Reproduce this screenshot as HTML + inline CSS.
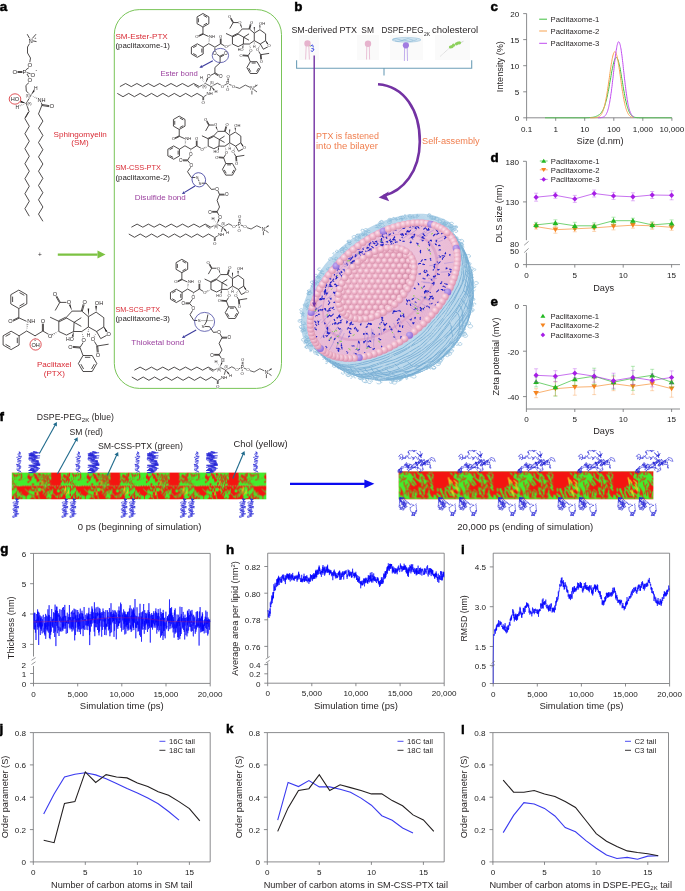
<!DOCTYPE html>
<html><head><meta charset="utf-8"><style>
html,body{margin:0;padding:0;background:#fff;width:685px;height:891px;overflow:hidden}
svg{display:block;will-change:transform;font-family:"Liberation Sans",sans-serif}
</style></head><body>
<svg width="685" height="891" viewBox="0 0 685 891">
<line x1="526.6" y1="13.6" x2="526.6" y2="117.8" stroke="#6d6e71" stroke-width="0.8"/>
<line x1="526.6" y1="117.8" x2="672" y2="117.8" stroke="#6d6e71" stroke-width="0.8"/>
<line x1="523.2" y1="13.6" x2="526.6" y2="13.6" stroke="#6d6e71" stroke-width="0.8"/>
<text x="519.3" y="17" font-size="8.1" fill="#1a1a1a" text-anchor="end">20</text>
<line x1="523.2" y1="39.6" x2="526.6" y2="39.6" stroke="#6d6e71" stroke-width="0.8"/>
<text x="519.3" y="43.1" font-size="8.1" fill="#1a1a1a" text-anchor="end">15</text>
<line x1="523.2" y1="65.7" x2="526.6" y2="65.7" stroke="#6d6e71" stroke-width="0.8"/>
<text x="519.3" y="69.1" font-size="8.1" fill="#1a1a1a" text-anchor="end">10</text>
<line x1="523.2" y1="91.8" x2="526.6" y2="91.8" stroke="#6d6e71" stroke-width="0.8"/>
<text x="519.3" y="95.2" font-size="8.1" fill="#1a1a1a" text-anchor="end">5</text>
<line x1="523.2" y1="117.8" x2="526.6" y2="117.8" stroke="#6d6e71" stroke-width="0.8"/>
<text x="519.3" y="121.2" font-size="8.1" fill="#1a1a1a" text-anchor="end">0</text>
<line x1="526.6" y1="117.8" x2="526.6" y2="120.8" stroke="#6d6e71" stroke-width="0.8"/>
<text x="526.6" y="131.9" font-size="8.1" fill="#1a1a1a" text-anchor="middle">0.1</text>
<line x1="555.7" y1="117.8" x2="555.7" y2="120.8" stroke="#6d6e71" stroke-width="0.8"/>
<text x="555.7" y="131.9" font-size="8.1" fill="#1a1a1a" text-anchor="middle">1</text>
<line x1="584.7" y1="117.8" x2="584.7" y2="120.8" stroke="#6d6e71" stroke-width="0.8"/>
<text x="584.7" y="131.9" font-size="8.1" fill="#1a1a1a" text-anchor="middle">10</text>
<line x1="613.8" y1="117.8" x2="613.8" y2="120.8" stroke="#6d6e71" stroke-width="0.8"/>
<text x="613.8" y="131.9" font-size="8.1" fill="#1a1a1a" text-anchor="middle">100</text>
<line x1="642.8" y1="117.8" x2="642.8" y2="120.8" stroke="#6d6e71" stroke-width="0.8"/>
<text x="642.8" y="131.9" font-size="8.1" fill="#1a1a1a" text-anchor="middle">1,000</text>
<line x1="671.9" y1="117.8" x2="671.9" y2="120.8" stroke="#6d6e71" stroke-width="0.8"/>
<text x="671.9" y="131.9" font-size="8.1" fill="#1a1a1a" text-anchor="middle">10,000</text>
<text x="600" y="144.3" font-size="9.2" fill="#231f20" text-anchor="middle">Size (d.nm)</text>
<text x="503.5" y="66.6" font-size="9.2" fill="#231f20" text-anchor="middle" transform="rotate(-90 503.5 66.6)">Intensity (%)</text>
<polyline points="545,117.8 545.3,117.8 545.6,117.8 545.9,117.8 546.3,117.8 546.6,117.8 546.9,117.8 547.2,117.8 547.5,117.8 547.8,117.8 548.2,117.8 548.5,117.8 548.8,117.8 549.1,117.8 549.4,117.8 549.7,117.8 550.1,117.8 550.4,117.8 550.7,117.8 551,117.8 551.3,117.8 551.6,117.8 552,117.8 552.3,117.8 552.6,117.8 552.9,117.8 553.2,117.8 553.5,117.8 553.9,117.8 554.2,117.8 554.5,117.8 554.8,117.8 555.1,117.8 555.4,117.8 555.8,117.8 556.1,117.8 556.4,117.8 556.7,117.8 557,117.8 557.3,117.8 557.6,117.8 558,117.8 558.3,117.8 558.6,117.8 558.9,117.8 559.2,117.8 559.5,117.8 559.9,117.8 560.2,117.8 560.5,117.8 560.8,117.8 561.1,117.8 561.4,117.8 561.8,117.8 562.1,117.8 562.4,117.8 562.7,117.8 563,117.8 563.3,117.8 563.7,117.8 564,117.8 564.3,117.8 564.6,117.8 564.9,117.8 565.2,117.8 565.6,117.8 565.9,117.8 566.2,117.8 566.5,117.8 566.8,117.8 567.1,117.8 567.5,117.8 567.8,117.8 568.1,117.8 568.4,117.8 568.7,117.8 569,117.8 569.4,117.8 569.7,117.8 570,117.8 570.3,117.8 570.6,117.8 570.9,117.8 571.2,117.8 571.6,117.8 571.9,117.8 572.2,117.8 572.5,117.8 572.8,117.8 573.1,117.8 573.5,117.8 573.8,117.8 574.1,117.8 574.4,117.8 574.7,117.8 575,117.8 575.4,117.8 575.7,117.8 576,117.8 576.3,117.8 576.6,117.8 576.9,117.8 577.3,117.8 577.6,117.8 577.9,117.8 578.2,117.8 578.5,117.8 578.8,117.8 579.2,117.8 579.5,117.8 579.8,117.8 580.1,117.8 580.4,117.8 580.7,117.8 581.1,117.8 581.4,117.8 581.7,117.8 582,117.8 582.3,117.8 582.6,117.8 583,117.8 583.3,117.8 583.6,117.8 583.9,117.8 584.2,117.8 584.5,117.8 584.8,117.8 585.2,117.8 585.5,117.8 585.8,117.8 586.1,117.8 586.4,117.8 586.7,117.7 587.1,117.7 587.4,117.7 587.7,117.7 588,117.7 588.3,117.7 588.6,117.7 589,117.7 589.3,117.6 589.6,117.6 589.9,117.6 590.2,117.6 590.5,117.5 590.9,117.5 591.2,117.5 591.5,117.4 591.8,117.4 592.1,117.4 592.4,117.3 592.8,117.3 593.1,117.2 593.4,117.2 593.7,117.1 594,117 594.3,116.9 594.7,116.9 595,116.8 595.3,116.7 595.6,116.6 595.9,116.5 596.2,116.3 596.5,116.2 596.9,116.1 597.2,115.9 597.5,115.8 597.8,115.6 598.1,115.4 598.4,115.2 598.8,115 599.1,114.8 599.4,114.5 599.7,114.3 600,114 600.3,113.7 600.7,113.4 601,113 601.3,112.6 601.6,112.2 601.9,111.7 602.2,111.2 602.6,110.7 602.9,110.1 603.2,109.5 603.5,108.8 603.8,108.1 604.1,107.3 604.5,106.4 604.8,105.5 605.1,104.6 605.4,103.5 605.7,102.4 606,101.3 606.4,100.1 606.7,98.8 607,97.4 607.3,96 607.6,94.5 607.9,93 608.2,91.4 608.6,89.7 608.9,88 609.2,86.3 609.5,84.5 609.8,82.7 610.1,80.9 610.5,79.1 610.8,77.3 611.1,75.5 611.4,73.7 611.7,71.9 612,70.3 612.4,68.6 612.7,67.1 613,65.6 613.3,64.2 613.6,62.9 613.9,61.8 614.3,60.7 614.6,59.8 614.9,59 615.2,58.4 615.5,58 615.8,57.7 616.2,57.5 616.5,57.6 616.8,57.8 617.1,58.1 617.4,58.6 617.7,59.3 618.1,60.1 618.4,61.1 618.7,62.2 619,63.4 619.3,64.8 619.6,66.2 620,67.8 620.3,69.4 620.6,71.2 620.9,73 621.2,74.8 621.5,76.7 621.8,78.6 622.2,80.5 622.5,82.5 622.8,84.4 623.1,86.3 623.4,88.2 623.7,90 624.1,91.8 624.4,93.6 624.7,95.3 625,96.9 625.3,98.5 625.6,100 626,101.4 626.3,102.8 626.6,104.1 626.9,105.3 627.2,106.4 627.5,107.5 627.9,108.5 628.2,109.4 628.5,110.3 628.8,111 629.1,111.8 629.4,112.4 629.8,113 630.1,113.6 630.4,114.1 630.7,114.5 631,114.9 631.3,115.3 631.7,115.6 632,115.9 632.3,116.1 632.6,116.3 632.9,116.5 633.2,116.7 633.5,116.9 633.9,117 634.2,117.1 634.5,117.2 634.8,117.3 635.1,117.4 635.4,117.4 635.8,117.5 636.1,117.5 636.4,117.6 636.7,117.6 637,117.7 637.3,117.7 637.7,117.7 638,117.7 638.3,117.7 638.6,117.7 638.9,117.8 639.2,117.8 639.6,117.8 639.9,117.8 640.2,117.8 640.5,117.8 640.8,117.8 641.1,117.8 641.5,117.8 641.8,117.8 642.1,117.8 642.4,117.8 642.7,117.8 643,117.8 643.4,117.8 643.7,117.8 644,117.8 644.3,117.8 644.6,117.8 644.9,117.8 645.3,117.8 645.6,117.8 645.9,117.8 646.2,117.8 646.5,117.8 646.8,117.8 647.1,117.8 647.5,117.8 647.8,117.8 648.1,117.8 648.4,117.8 648.7,117.8 649,117.8 649.4,117.8 649.7,117.8 650,117.8 650.3,117.8 650.6,117.8 650.9,117.8 651.3,117.8 651.6,117.8 651.9,117.8 652.2,117.8 652.5,117.8 652.8,117.8 653.2,117.8 653.5,117.8 653.8,117.8 654.1,117.8 654.4,117.8 654.7,117.8 655.1,117.8 655.4,117.8 655.7,117.8 656,117.8 656.3,117.8 656.6,117.8 657,117.8 657.3,117.8 657.6,117.8 657.9,117.8 658.2,117.8 658.5,117.8 658.9,117.8 659.2,117.8 659.5,117.8 659.8,117.8 660.1,117.8 660.4,117.8 660.7,117.8 661.1,117.8 661.4,117.8 661.7,117.8 662,117.8 662.3,117.8 662.6,117.8 663,117.8 663.3,117.8 663.6,117.8 663.9,117.8 664.2,117.8 664.5,117.8 664.9,117.8 665.2,117.8 665.5,117.8 665.8,117.8 666.1,117.8 666.4,117.8 666.8,117.8 667.1,117.8 667.4,117.8 667.7,117.8 668,117.8 668.3,117.8 668.7,117.8 669,117.8 669.3,117.8 669.6,117.8 669.9,117.8 670.2,117.8 670.6,117.8 670.9,117.8 671.2,117.8 671.5,117.8" fill="none" stroke="#3fbf3f" stroke-width="1"/>
<polyline points="590,117.8 590.3,117.8 590.5,117.8 590.8,117.8 591.1,117.8 591.3,117.8 591.6,117.8 591.9,117.8 592.1,117.8 592.4,117.8 592.7,117.8 593,117.8 593.2,117.8 593.5,117.8 593.8,117.7 594,117.7 594.3,117.7 594.6,117.7 594.8,117.7 595.1,117.7 595.4,117.6 595.6,117.6 595.9,117.6 596.2,117.6 596.5,117.5 596.7,117.5 597,117.4 597.3,117.3 597.5,117.3 597.8,117.2 598.1,117.1 598.3,117 598.6,116.8 598.9,116.7 599.1,116.5 599.4,116.4 599.7,116.2 599.9,115.9 600.2,115.7 600.5,115.4 600.8,115.1 601,114.7 601.3,114.4 601.6,113.9 601.8,113.5 602.1,113 602.4,112.4 602.6,111.8 602.9,111.1 603.2,110.4 603.4,109.7 603.7,108.8 604,107.9 604.2,107 604.5,106 604.8,104.9 605,103.7 605.3,102.5 605.6,101.2 605.9,99.9 606.1,98.4 606.4,96.9 606.7,95.4 606.9,93.8 607.2,92.1 607.5,90.4 607.7,88.6 608,86.8 608.3,85 608.5,83.1 608.8,81.2 609.1,79.3 609.4,77.4 609.6,75.4 609.9,73.5 610.2,71.6 610.4,69.8 610.7,67.9 611,66.2 611.2,64.5 611.5,62.8 611.8,61.3 612,59.8 612.3,58.4 612.6,57.2 612.8,56 613.1,55 613.4,54.1 613.6,53.3 613.9,52.7 614.2,52.2 614.5,51.9 614.7,51.7 615,51.7 615.3,51.8 615.5,52.1 615.8,52.5 616.1,53.1 616.3,53.8 616.6,54.7 616.9,55.7 617.1,56.8 617.4,58 617.7,59.4 618,60.8 618.2,62.3 618.5,64 618.8,65.7 619,67.4 619.3,69.2 619.6,71.1 619.8,72.9 620.1,74.8 620.4,76.8 620.6,78.7 620.9,80.6 621.2,82.5 621.4,84.4 621.7,86.3 622,88.1 622.2,89.9 622.5,91.6 622.8,93.3 623.1,94.9 623.3,96.5 623.6,98 623.9,99.4 624.1,100.8 624.4,102.1 624.7,103.4 624.9,104.5 625.2,105.6 625.5,106.7 625.7,107.7 626,108.6 626.3,109.4 626.5,110.2 626.8,110.9 627.1,111.6 627.4,112.2 627.6,112.8 627.9,113.3 628.2,113.8 628.4,114.2 628.7,114.6 629,115 629.2,115.3 629.5,115.6 629.8,115.9 630,116.1 630.3,116.3 630.6,116.5 630.9,116.7 631.1,116.8 631.4,116.9 631.7,117 631.9,117.1 632.2,117.2 632.5,117.3 632.7,117.4 633,117.4" fill="none" stroke="#f7a352" stroke-width="1"/>
<polyline points="598,117.8 598.2,117.8 598.5,117.8 598.7,117.8 598.9,117.8 599.1,117.8 599.4,117.7 599.6,117.7 599.8,117.7 600,117.7 600.2,117.7 600.5,117.7 600.7,117.7 600.9,117.6 601.1,117.6 601.4,117.6 601.6,117.5 601.8,117.5 602,117.5 602.3,117.4 602.5,117.3 602.7,117.3 603,117.2 603.2,117.1 603.4,117 603.6,116.9 603.9,116.8 604.1,116.6 604.3,116.5 604.5,116.3 604.8,116.1 605,115.9 605.2,115.6 605.4,115.4 605.6,115.1 605.9,114.7 606.1,114.4 606.3,114 606.5,113.5 606.8,113.1 607,112.5 607.2,112 607.5,111.4 607.7,110.7 607.9,110 608.1,109.2 608.4,108.4 608.6,107.5 608.8,106.6 609,105.6 609.2,104.5 609.5,103.4 609.7,102.2 609.9,100.9 610.1,99.5 610.4,98.1 610.6,96.7 610.8,95.1 611,93.5 611.3,91.9 611.5,90.1 611.7,88.4 612,86.5 612.2,84.7 612.4,82.7 612.6,80.8 612.9,78.8 613.1,76.8 613.3,74.7 613.5,72.7 613.8,70.6 614,68.6 614.2,66.6 614.4,64.5 614.6,62.6 614.9,60.6 615.1,58.7 615.3,56.9 615.5,55.1 615.8,53.4 616,51.8 616.2,50.3 616.5,48.9 616.7,47.6 616.9,46.4 617.1,45.3 617.4,44.4 617.6,43.6 617.8,42.9 618,42.4 618.2,42 618.5,41.8 618.7,41.7 618.9,41.8 619.1,42 619.4,42.4 619.6,42.9 619.8,43.6 620,44.4 620.3,45.3 620.5,46.4 620.7,47.6 621,48.9 621.2,50.3 621.4,51.8 621.6,53.4 621.9,55.1 622.1,56.9 622.3,58.7 622.5,60.6 622.8,62.6 623,64.5 623.2,66.6 623.4,68.6 623.6,70.6 623.9,72.7 624.1,74.7 624.3,76.8 624.5,78.8 624.8,80.8 625,82.7 625.2,84.7 625.5,86.5 625.7,88.4 625.9,90.1 626.1,91.9 626.4,93.5 626.6,95.1 626.8,96.7 627,98.1 627.2,99.5 627.5,100.9 627.7,102.2 627.9,103.4 628.1,104.5 628.4,105.6 628.6,106.6 628.8,107.5 629,108.4 629.3,109.2 629.5,110 629.7,110.7 630,111.4 630.2,112 630.4,112.5 630.6,113.1 630.9,113.5 631.1,114 631.3,114.4 631.5,114.7 631.8,115.1 632,115.4 632.2,115.6 632.4,115.9 632.6,116.1 632.9,116.3 633.1,116.5 633.3,116.6 633.5,116.8 633.8,116.9 634,117" fill="none" stroke="#c04cf0" stroke-width="1"/>
<line x1="539.2" y1="19.2" x2="547" y2="19.2" stroke="#3fbf3f" stroke-width="1"/>
<text x="550.6" y="21.9" font-size="7.7" fill="#231f20">Paclitaxome-1</text>
<line x1="539.2" y1="31" x2="547" y2="31" stroke="#f7a352" stroke-width="1"/>
<text x="550.6" y="33.8" font-size="7.7" fill="#231f20">Paclitaxome-2</text>
<line x1="539.2" y1="43.3" x2="547" y2="43.3" stroke="#c04cf0" stroke-width="1"/>
<text x="550.6" y="46" font-size="7.7" fill="#231f20">Paclitaxome-3</text>
<text x="490.6" y="10.5" font-size="13.4" font-weight="bold" fill="#000" stroke="#000" stroke-width="0.5">c</text>
<line x1="526.4" y1="161.3" x2="526.4" y2="240.2" stroke="#6d6e71" stroke-width="0.8"/>
<line x1="526.4" y1="252.6" x2="526.4" y2="264.6" stroke="#6d6e71" stroke-width="0.8"/>
<line x1="524.2" y1="245.2" x2="528.6" y2="241.4" stroke="#6d6e71" stroke-width="0.7"/>
<line x1="524.2" y1="252.6" x2="528.6" y2="248.4" stroke="#6d6e71" stroke-width="0.7"/>
<line x1="526.4" y1="264.6" x2="680" y2="264.6" stroke="#6d6e71" stroke-width="0.8"/>
<line x1="523" y1="161.3" x2="526.4" y2="161.3" stroke="#6d6e71" stroke-width="0.8"/>
<text x="519.1" y="164.7" font-size="8.1" fill="#1a1a1a" text-anchor="end">180</text>
<line x1="523" y1="201.9" x2="526.4" y2="201.9" stroke="#6d6e71" stroke-width="0.8"/>
<text x="519.1" y="205.3" font-size="8.1" fill="#1a1a1a" text-anchor="end">130</text>
<line x1="523" y1="264.6" x2="526.4" y2="264.6" stroke="#6d6e71" stroke-width="0.8"/>
<text x="519.1" y="268" font-size="8.1" fill="#1a1a1a" text-anchor="end">0</text>
<text x="519" y="246.9" font-size="8.1" fill="#1a1a1a" text-anchor="end">80</text>
<text x="519" y="254.1" font-size="8.1" fill="#1a1a1a" text-anchor="end">50</text>
<line x1="526.4" y1="264.6" x2="526.4" y2="267.6" stroke="#6d6e71" stroke-width="0.8"/>
<text x="526.4" y="278" font-size="8.1" fill="#1a1a1a" text-anchor="middle">0</text>
<line x1="574.8" y1="264.6" x2="574.8" y2="267.6" stroke="#6d6e71" stroke-width="0.8"/>
<text x="574.8" y="278" font-size="8.1" fill="#1a1a1a" text-anchor="middle">5</text>
<line x1="623.2" y1="264.6" x2="623.2" y2="267.6" stroke="#6d6e71" stroke-width="0.8"/>
<text x="623.2" y="278" font-size="8.1" fill="#1a1a1a" text-anchor="middle">10</text>
<line x1="671.6" y1="264.6" x2="671.6" y2="267.6" stroke="#6d6e71" stroke-width="0.8"/>
<text x="671.6" y="278" font-size="8.1" fill="#1a1a1a" text-anchor="middle">15</text>
<text x="603.7" y="290.5" font-size="9.2" fill="#231f20" text-anchor="middle">Days</text>
<text x="501.8" y="213.5" font-size="9.2" fill="#231f20" text-anchor="middle" transform="rotate(-90 501.8 213.5)">DLS size (nm)</text>
<polyline points="536.1,226.6 555.4,229.7 574.8,228.8 594.2,227.9 613.5,226.4 632.9,225.2 652.2,225.8 671.6,227.3" fill="none" stroke="#f5841f" stroke-width="0.7" stroke-opacity="0.9"/>
<line x1="536.1" y1="224.1" x2="536.1" y2="229.1" stroke="#f5841f" stroke-width="0.6" stroke-opacity="0.55"/>
<line x1="534.1" y1="224.1" x2="538.1" y2="224.1" stroke="#f5841f" stroke-width="0.6" stroke-opacity="0.55"/>
<line x1="534.1" y1="229.1" x2="538.1" y2="229.1" stroke="#f5841f" stroke-width="0.6" stroke-opacity="0.55"/>
<line x1="555.4" y1="226.2" x2="555.4" y2="233.2" stroke="#f5841f" stroke-width="0.6" stroke-opacity="0.55"/>
<line x1="553.4" y1="226.2" x2="557.4" y2="226.2" stroke="#f5841f" stroke-width="0.6" stroke-opacity="0.55"/>
<line x1="553.4" y1="233.2" x2="557.4" y2="233.2" stroke="#f5841f" stroke-width="0.6" stroke-opacity="0.55"/>
<line x1="574.8" y1="225.8" x2="574.8" y2="231.8" stroke="#f5841f" stroke-width="0.6" stroke-opacity="0.55"/>
<line x1="572.8" y1="225.8" x2="576.8" y2="225.8" stroke="#f5841f" stroke-width="0.6" stroke-opacity="0.55"/>
<line x1="572.8" y1="231.8" x2="576.8" y2="231.8" stroke="#f5841f" stroke-width="0.6" stroke-opacity="0.55"/>
<line x1="594.2" y1="224.4" x2="594.2" y2="231.4" stroke="#f5841f" stroke-width="0.6" stroke-opacity="0.55"/>
<line x1="592.2" y1="224.4" x2="596.2" y2="224.4" stroke="#f5841f" stroke-width="0.6" stroke-opacity="0.55"/>
<line x1="592.2" y1="231.4" x2="596.2" y2="231.4" stroke="#f5841f" stroke-width="0.6" stroke-opacity="0.55"/>
<line x1="613.5" y1="222.9" x2="613.5" y2="229.9" stroke="#f5841f" stroke-width="0.6" stroke-opacity="0.55"/>
<line x1="611.5" y1="222.9" x2="615.5" y2="222.9" stroke="#f5841f" stroke-width="0.6" stroke-opacity="0.55"/>
<line x1="611.5" y1="229.9" x2="615.5" y2="229.9" stroke="#f5841f" stroke-width="0.6" stroke-opacity="0.55"/>
<line x1="632.9" y1="222.2" x2="632.9" y2="228.2" stroke="#f5841f" stroke-width="0.6" stroke-opacity="0.55"/>
<line x1="630.9" y1="222.2" x2="634.9" y2="222.2" stroke="#f5841f" stroke-width="0.6" stroke-opacity="0.55"/>
<line x1="630.9" y1="228.2" x2="634.9" y2="228.2" stroke="#f5841f" stroke-width="0.6" stroke-opacity="0.55"/>
<line x1="652.2" y1="222.3" x2="652.2" y2="229.3" stroke="#f5841f" stroke-width="0.6" stroke-opacity="0.55"/>
<line x1="650.2" y1="222.3" x2="654.2" y2="222.3" stroke="#f5841f" stroke-width="0.6" stroke-opacity="0.55"/>
<line x1="650.2" y1="229.3" x2="654.2" y2="229.3" stroke="#f5841f" stroke-width="0.6" stroke-opacity="0.55"/>
<line x1="671.6" y1="224.3" x2="671.6" y2="230.3" stroke="#f5841f" stroke-width="0.6" stroke-opacity="0.55"/>
<line x1="669.6" y1="224.3" x2="673.6" y2="224.3" stroke="#f5841f" stroke-width="0.6" stroke-opacity="0.55"/>
<line x1="669.6" y1="230.3" x2="673.6" y2="230.3" stroke="#f5841f" stroke-width="0.6" stroke-opacity="0.55"/>
<polygon points="536.1,229.2 538.9,224.5 533.2,224.5" fill="#f5841f" stroke="none" stroke-width="0"/>
<polygon points="555.4,232.3 558.3,227.6 552.6,227.6" fill="#f5841f" stroke="none" stroke-width="0"/>
<polygon points="574.8,231.4 577.7,226.7 571.9,226.7" fill="#f5841f" stroke="none" stroke-width="0"/>
<polygon points="594.2,230.5 597,225.8 591.3,225.8" fill="#f5841f" stroke="none" stroke-width="0"/>
<polygon points="613.5,229 616.4,224.3 610.7,224.3" fill="#f5841f" stroke="none" stroke-width="0"/>
<polygon points="632.9,227.8 635.7,223.1 630,223.1" fill="#f5841f" stroke="none" stroke-width="0"/>
<polygon points="652.2,228.4 655.1,223.7 649.4,223.7" fill="#f5841f" stroke="none" stroke-width="0"/>
<polygon points="671.6,229.9 674.5,225.2 668.7,225.2" fill="#f5841f" stroke="none" stroke-width="0"/>
<polyline points="536.1,224.9 555.4,222.8 574.8,225.8 594.2,225.8 613.5,220.7 632.9,220.7 652.2,224.9 671.6,223.4" fill="none" stroke="#22b822" stroke-width="0.7" stroke-opacity="0.9"/>
<line x1="536.1" y1="222.4" x2="536.1" y2="227.4" stroke="#22b822" stroke-width="0.6" stroke-opacity="0.55"/>
<line x1="534.1" y1="222.4" x2="538.1" y2="222.4" stroke="#22b822" stroke-width="0.6" stroke-opacity="0.55"/>
<line x1="534.1" y1="227.4" x2="538.1" y2="227.4" stroke="#22b822" stroke-width="0.6" stroke-opacity="0.55"/>
<line x1="555.4" y1="219.8" x2="555.4" y2="225.8" stroke="#22b822" stroke-width="0.6" stroke-opacity="0.55"/>
<line x1="553.4" y1="219.8" x2="557.4" y2="219.8" stroke="#22b822" stroke-width="0.6" stroke-opacity="0.55"/>
<line x1="553.4" y1="225.8" x2="557.4" y2="225.8" stroke="#22b822" stroke-width="0.6" stroke-opacity="0.55"/>
<line x1="574.8" y1="222.3" x2="574.8" y2="229.3" stroke="#22b822" stroke-width="0.6" stroke-opacity="0.55"/>
<line x1="572.8" y1="222.3" x2="576.8" y2="222.3" stroke="#22b822" stroke-width="0.6" stroke-opacity="0.55"/>
<line x1="572.8" y1="229.3" x2="576.8" y2="229.3" stroke="#22b822" stroke-width="0.6" stroke-opacity="0.55"/>
<line x1="594.2" y1="222.8" x2="594.2" y2="228.8" stroke="#22b822" stroke-width="0.6" stroke-opacity="0.55"/>
<line x1="592.2" y1="222.8" x2="596.2" y2="222.8" stroke="#22b822" stroke-width="0.6" stroke-opacity="0.55"/>
<line x1="592.2" y1="228.8" x2="596.2" y2="228.8" stroke="#22b822" stroke-width="0.6" stroke-opacity="0.55"/>
<line x1="613.5" y1="217.2" x2="613.5" y2="224.2" stroke="#22b822" stroke-width="0.6" stroke-opacity="0.55"/>
<line x1="611.5" y1="217.2" x2="615.5" y2="217.2" stroke="#22b822" stroke-width="0.6" stroke-opacity="0.55"/>
<line x1="611.5" y1="224.2" x2="615.5" y2="224.2" stroke="#22b822" stroke-width="0.6" stroke-opacity="0.55"/>
<line x1="632.9" y1="218.2" x2="632.9" y2="223.2" stroke="#22b822" stroke-width="0.6" stroke-opacity="0.55"/>
<line x1="630.9" y1="218.2" x2="634.9" y2="218.2" stroke="#22b822" stroke-width="0.6" stroke-opacity="0.55"/>
<line x1="630.9" y1="223.2" x2="634.9" y2="223.2" stroke="#22b822" stroke-width="0.6" stroke-opacity="0.55"/>
<line x1="652.2" y1="221.9" x2="652.2" y2="227.9" stroke="#22b822" stroke-width="0.6" stroke-opacity="0.55"/>
<line x1="650.2" y1="221.9" x2="654.2" y2="221.9" stroke="#22b822" stroke-width="0.6" stroke-opacity="0.55"/>
<line x1="650.2" y1="227.9" x2="654.2" y2="227.9" stroke="#22b822" stroke-width="0.6" stroke-opacity="0.55"/>
<line x1="671.6" y1="219.9" x2="671.6" y2="226.9" stroke="#22b822" stroke-width="0.6" stroke-opacity="0.55"/>
<line x1="669.6" y1="219.9" x2="673.6" y2="219.9" stroke="#22b822" stroke-width="0.6" stroke-opacity="0.55"/>
<line x1="669.6" y1="226.9" x2="673.6" y2="226.9" stroke="#22b822" stroke-width="0.6" stroke-opacity="0.55"/>
<polygon points="536.1,222.3 538.9,227 533.2,227" fill="#22b822" stroke="none" stroke-width="0"/>
<polygon points="555.4,220.2 558.3,224.9 552.6,224.9" fill="#22b822" stroke="none" stroke-width="0"/>
<polygon points="574.8,223.2 577.7,227.9 571.9,227.9" fill="#22b822" stroke="none" stroke-width="0"/>
<polygon points="594.2,223.2 597,227.9 591.3,227.9" fill="#22b822" stroke="none" stroke-width="0"/>
<polygon points="613.5,218.1 616.4,222.8 610.7,222.8" fill="#22b822" stroke="none" stroke-width="0"/>
<polygon points="632.9,218.1 635.7,222.8 630,222.8" fill="#22b822" stroke="none" stroke-width="0"/>
<polygon points="652.2,222.3 655.1,227 649.4,227" fill="#22b822" stroke="none" stroke-width="0"/>
<polygon points="671.6,220.8 674.5,225.5 668.7,225.5" fill="#22b822" stroke="none" stroke-width="0"/>
<polyline points="536.1,197.2 555.4,195.3 574.8,198.9 594.2,193.5 613.5,195.9 632.9,196.8 652.2,195 671.6,195.3" fill="none" stroke="#a61ee6" stroke-width="0.7" stroke-opacity="0.9"/>
<line x1="536.1" y1="193.2" x2="536.1" y2="201.2" stroke="#a61ee6" stroke-width="0.6" stroke-opacity="0.55"/>
<line x1="534.1" y1="193.2" x2="538.1" y2="193.2" stroke="#a61ee6" stroke-width="0.6" stroke-opacity="0.55"/>
<line x1="534.1" y1="201.2" x2="538.1" y2="201.2" stroke="#a61ee6" stroke-width="0.6" stroke-opacity="0.55"/>
<line x1="555.4" y1="192.3" x2="555.4" y2="198.3" stroke="#a61ee6" stroke-width="0.6" stroke-opacity="0.55"/>
<line x1="553.4" y1="192.3" x2="557.4" y2="192.3" stroke="#a61ee6" stroke-width="0.6" stroke-opacity="0.55"/>
<line x1="553.4" y1="198.3" x2="557.4" y2="198.3" stroke="#a61ee6" stroke-width="0.6" stroke-opacity="0.55"/>
<line x1="574.8" y1="195.4" x2="574.8" y2="202.4" stroke="#a61ee6" stroke-width="0.6" stroke-opacity="0.55"/>
<line x1="572.8" y1="195.4" x2="576.8" y2="195.4" stroke="#a61ee6" stroke-width="0.6" stroke-opacity="0.55"/>
<line x1="572.8" y1="202.4" x2="576.8" y2="202.4" stroke="#a61ee6" stroke-width="0.6" stroke-opacity="0.55"/>
<line x1="594.2" y1="190" x2="594.2" y2="197" stroke="#a61ee6" stroke-width="0.6" stroke-opacity="0.55"/>
<line x1="592.2" y1="190" x2="596.2" y2="190" stroke="#a61ee6" stroke-width="0.6" stroke-opacity="0.55"/>
<line x1="592.2" y1="197" x2="596.2" y2="197" stroke="#a61ee6" stroke-width="0.6" stroke-opacity="0.55"/>
<line x1="613.5" y1="192.4" x2="613.5" y2="199.4" stroke="#a61ee6" stroke-width="0.6" stroke-opacity="0.55"/>
<line x1="611.5" y1="192.4" x2="615.5" y2="192.4" stroke="#a61ee6" stroke-width="0.6" stroke-opacity="0.55"/>
<line x1="611.5" y1="199.4" x2="615.5" y2="199.4" stroke="#a61ee6" stroke-width="0.6" stroke-opacity="0.55"/>
<line x1="632.9" y1="192.8" x2="632.9" y2="200.8" stroke="#a61ee6" stroke-width="0.6" stroke-opacity="0.55"/>
<line x1="630.9" y1="192.8" x2="634.9" y2="192.8" stroke="#a61ee6" stroke-width="0.6" stroke-opacity="0.55"/>
<line x1="630.9" y1="200.8" x2="634.9" y2="200.8" stroke="#a61ee6" stroke-width="0.6" stroke-opacity="0.55"/>
<line x1="652.2" y1="191.5" x2="652.2" y2="198.5" stroke="#a61ee6" stroke-width="0.6" stroke-opacity="0.55"/>
<line x1="650.2" y1="191.5" x2="654.2" y2="191.5" stroke="#a61ee6" stroke-width="0.6" stroke-opacity="0.55"/>
<line x1="650.2" y1="198.5" x2="654.2" y2="198.5" stroke="#a61ee6" stroke-width="0.6" stroke-opacity="0.55"/>
<line x1="671.6" y1="190.8" x2="671.6" y2="199.8" stroke="#a61ee6" stroke-width="0.6" stroke-opacity="0.55"/>
<line x1="669.6" y1="190.8" x2="673.6" y2="190.8" stroke="#a61ee6" stroke-width="0.6" stroke-opacity="0.55"/>
<line x1="669.6" y1="199.8" x2="673.6" y2="199.8" stroke="#a61ee6" stroke-width="0.6" stroke-opacity="0.55"/>
<polygon points="536.1,194.5 538.7,197.2 536.1,199.9 533.5,197.2" fill="#a61ee6" stroke="none" stroke-width="0"/>
<polygon points="555.4,192.6 558,195.3 555.4,198 552.8,195.3" fill="#a61ee6" stroke="none" stroke-width="0"/>
<polygon points="574.8,196.2 577.4,198.9 574.8,201.6 572.2,198.9" fill="#a61ee6" stroke="none" stroke-width="0"/>
<polygon points="594.2,190.8 596.8,193.5 594.2,196.2 591.6,193.5" fill="#a61ee6" stroke="none" stroke-width="0"/>
<polygon points="613.5,193.2 616.1,195.9 613.5,198.6 610.9,195.9" fill="#a61ee6" stroke="none" stroke-width="0"/>
<polygon points="632.9,194.1 635.5,196.8 632.9,199.5 630.3,196.8" fill="#a61ee6" stroke="none" stroke-width="0"/>
<polygon points="652.2,192.3 654.8,195 652.2,197.7 649.6,195" fill="#a61ee6" stroke="none" stroke-width="0"/>
<polygon points="671.6,192.6 674.2,195.3 671.6,198 669,195.3" fill="#a61ee6" stroke="none" stroke-width="0"/>
<line x1="539.8" y1="161" x2="547.7" y2="161" stroke="#22b822" stroke-width="0.6"/>
<polygon points="543.7,158.7 546.2,162.8 541.2,162.8" fill="#22b822" stroke="none" stroke-width="0"/>
<text x="550.8" y="163.8" font-size="7.7" fill="#231f20">Paclitaxome-1</text>
<line x1="539.8" y1="169.8" x2="547.7" y2="169.8" stroke="#f5841f" stroke-width="0.6"/>
<polygon points="543.7,172.1 546.2,168 541.2,168" fill="#f5841f" stroke="none" stroke-width="0"/>
<text x="550.8" y="172.6" font-size="7.7" fill="#231f20">Paclitaxome-2</text>
<line x1="539.8" y1="179.4" x2="547.7" y2="179.4" stroke="#a61ee6" stroke-width="0.6"/>
<polygon points="543.7,177 546,179.4 543.7,181.8 541.4,179.4" fill="#a61ee6" stroke="none" stroke-width="0"/>
<text x="550.8" y="182.2" font-size="7.7" fill="#231f20">Paclitaxome-3</text>
<text x="490.6" y="162.2" font-size="13.4" font-weight="bold" fill="#000" stroke="#000" stroke-width="0.5">d</text>
<line x1="526.4" y1="305.5" x2="526.4" y2="409" stroke="#6d6e71" stroke-width="0.8"/>
<line x1="526.4" y1="409" x2="680" y2="409" stroke="#6d6e71" stroke-width="0.8"/>
<line x1="523" y1="305.5" x2="526.4" y2="305.5" stroke="#6d6e71" stroke-width="0.8"/>
<text x="519.1" y="308.9" font-size="8.1" fill="#1a1a1a" text-anchor="end">0</text>
<line x1="523" y1="351.2" x2="526.4" y2="351.2" stroke="#6d6e71" stroke-width="0.8"/>
<text x="519.1" y="354.6" font-size="8.1" fill="#1a1a1a" text-anchor="end">-20</text>
<line x1="523" y1="396.6" x2="526.4" y2="396.6" stroke="#6d6e71" stroke-width="0.8"/>
<text x="519.1" y="400" font-size="8.1" fill="#1a1a1a" text-anchor="end">-40</text>
<line x1="526.4" y1="409" x2="526.4" y2="412" stroke="#6d6e71" stroke-width="0.8"/>
<text x="526.4" y="422.2" font-size="8.1" fill="#1a1a1a" text-anchor="middle">0</text>
<line x1="574.8" y1="409" x2="574.8" y2="412" stroke="#6d6e71" stroke-width="0.8"/>
<text x="574.8" y="422.2" font-size="8.1" fill="#1a1a1a" text-anchor="middle">5</text>
<line x1="623.2" y1="409" x2="623.2" y2="412" stroke="#6d6e71" stroke-width="0.8"/>
<text x="623.2" y="422.2" font-size="8.1" fill="#1a1a1a" text-anchor="middle">10</text>
<line x1="671.6" y1="409" x2="671.6" y2="412" stroke="#6d6e71" stroke-width="0.8"/>
<text x="671.6" y="422.2" font-size="8.1" fill="#1a1a1a" text-anchor="middle">15</text>
<text x="603.7" y="433.9" font-size="9.2" fill="#231f20" text-anchor="middle">Days</text>
<text x="498.6" y="356.5" font-size="9.2" fill="#231f20" text-anchor="middle" transform="rotate(-90 498.6 356.5)">Zeta potential (mV)</text>
<polyline points="536.1,393.2 555.4,388.7 574.8,387.2 594.2,386.6 613.5,383.7 632.9,386.3 652.2,383.7 671.6,388.7" fill="none" stroke="#f5841f" stroke-width="0.7" stroke-opacity="0.9"/>
<line x1="536.1" y1="388.7" x2="536.1" y2="397.7" stroke="#f5841f" stroke-width="0.6" stroke-opacity="0.55"/>
<line x1="534.1" y1="388.7" x2="538.1" y2="388.7" stroke="#f5841f" stroke-width="0.6" stroke-opacity="0.55"/>
<line x1="534.1" y1="397.7" x2="538.1" y2="397.7" stroke="#f5841f" stroke-width="0.6" stroke-opacity="0.55"/>
<line x1="555.4" y1="381.7" x2="555.4" y2="395.7" stroke="#f5841f" stroke-width="0.6" stroke-opacity="0.55"/>
<line x1="553.4" y1="381.7" x2="557.4" y2="381.7" stroke="#f5841f" stroke-width="0.6" stroke-opacity="0.55"/>
<line x1="553.4" y1="395.7" x2="557.4" y2="395.7" stroke="#f5841f" stroke-width="0.6" stroke-opacity="0.55"/>
<line x1="574.8" y1="379.2" x2="574.8" y2="395.2" stroke="#f5841f" stroke-width="0.6" stroke-opacity="0.55"/>
<line x1="572.8" y1="379.2" x2="576.8" y2="379.2" stroke="#f5841f" stroke-width="0.6" stroke-opacity="0.55"/>
<line x1="572.8" y1="395.2" x2="576.8" y2="395.2" stroke="#f5841f" stroke-width="0.6" stroke-opacity="0.55"/>
<line x1="594.2" y1="378.6" x2="594.2" y2="394.6" stroke="#f5841f" stroke-width="0.6" stroke-opacity="0.55"/>
<line x1="592.2" y1="378.6" x2="596.2" y2="378.6" stroke="#f5841f" stroke-width="0.6" stroke-opacity="0.55"/>
<line x1="592.2" y1="394.6" x2="596.2" y2="394.6" stroke="#f5841f" stroke-width="0.6" stroke-opacity="0.55"/>
<line x1="613.5" y1="376.7" x2="613.5" y2="390.7" stroke="#f5841f" stroke-width="0.6" stroke-opacity="0.55"/>
<line x1="611.5" y1="376.7" x2="615.5" y2="376.7" stroke="#f5841f" stroke-width="0.6" stroke-opacity="0.55"/>
<line x1="611.5" y1="390.7" x2="615.5" y2="390.7" stroke="#f5841f" stroke-width="0.6" stroke-opacity="0.55"/>
<line x1="632.9" y1="378.3" x2="632.9" y2="394.3" stroke="#f5841f" stroke-width="0.6" stroke-opacity="0.55"/>
<line x1="630.9" y1="378.3" x2="634.9" y2="378.3" stroke="#f5841f" stroke-width="0.6" stroke-opacity="0.55"/>
<line x1="630.9" y1="394.3" x2="634.9" y2="394.3" stroke="#f5841f" stroke-width="0.6" stroke-opacity="0.55"/>
<line x1="652.2" y1="376.7" x2="652.2" y2="390.7" stroke="#f5841f" stroke-width="0.6" stroke-opacity="0.55"/>
<line x1="650.2" y1="376.7" x2="654.2" y2="376.7" stroke="#f5841f" stroke-width="0.6" stroke-opacity="0.55"/>
<line x1="650.2" y1="390.7" x2="654.2" y2="390.7" stroke="#f5841f" stroke-width="0.6" stroke-opacity="0.55"/>
<line x1="671.6" y1="380.2" x2="671.6" y2="397.2" stroke="#f5841f" stroke-width="0.6" stroke-opacity="0.55"/>
<line x1="669.6" y1="380.2" x2="673.6" y2="380.2" stroke="#f5841f" stroke-width="0.6" stroke-opacity="0.55"/>
<line x1="669.6" y1="397.2" x2="673.6" y2="397.2" stroke="#f5841f" stroke-width="0.6" stroke-opacity="0.55"/>
<polygon points="536.1,395.8 538.9,391.1 533.2,391.1" fill="#f5841f" stroke="none" stroke-width="0"/>
<polygon points="555.4,391.3 558.3,386.6 552.6,386.6" fill="#f5841f" stroke="none" stroke-width="0"/>
<polygon points="574.8,389.8 577.7,385.1 571.9,385.1" fill="#f5841f" stroke="none" stroke-width="0"/>
<polygon points="594.2,389.2 597,384.5 591.3,384.5" fill="#f5841f" stroke="none" stroke-width="0"/>
<polygon points="613.5,386.3 616.4,381.6 610.7,381.6" fill="#f5841f" stroke="none" stroke-width="0"/>
<polygon points="632.9,388.9 635.7,384.2 630,384.2" fill="#f5841f" stroke="none" stroke-width="0"/>
<polygon points="652.2,386.3 655.1,381.6 649.4,381.6" fill="#f5841f" stroke="none" stroke-width="0"/>
<polygon points="671.6,391.3 674.5,386.6 668.7,386.6" fill="#f5841f" stroke="none" stroke-width="0"/>
<polyline points="536.1,381.9 555.4,387.2 574.8,379.2 594.2,376.2 613.5,382.2 632.9,378.3 652.2,375.3 671.6,382.2" fill="none" stroke="#22b822" stroke-width="0.7" stroke-opacity="0.9"/>
<line x1="536.1" y1="376.9" x2="536.1" y2="386.9" stroke="#22b822" stroke-width="0.6" stroke-opacity="0.55"/>
<line x1="534.1" y1="376.9" x2="538.1" y2="376.9" stroke="#22b822" stroke-width="0.6" stroke-opacity="0.55"/>
<line x1="534.1" y1="386.9" x2="538.1" y2="386.9" stroke="#22b822" stroke-width="0.6" stroke-opacity="0.55"/>
<line x1="555.4" y1="378.2" x2="555.4" y2="396.2" stroke="#22b822" stroke-width="0.6" stroke-opacity="0.55"/>
<line x1="553.4" y1="378.2" x2="557.4" y2="378.2" stroke="#22b822" stroke-width="0.6" stroke-opacity="0.55"/>
<line x1="553.4" y1="396.2" x2="557.4" y2="396.2" stroke="#22b822" stroke-width="0.6" stroke-opacity="0.55"/>
<line x1="574.8" y1="373.2" x2="574.8" y2="385.2" stroke="#22b822" stroke-width="0.6" stroke-opacity="0.55"/>
<line x1="572.8" y1="373.2" x2="576.8" y2="373.2" stroke="#22b822" stroke-width="0.6" stroke-opacity="0.55"/>
<line x1="572.8" y1="385.2" x2="576.8" y2="385.2" stroke="#22b822" stroke-width="0.6" stroke-opacity="0.55"/>
<line x1="594.2" y1="368.2" x2="594.2" y2="384.2" stroke="#22b822" stroke-width="0.6" stroke-opacity="0.55"/>
<line x1="592.2" y1="368.2" x2="596.2" y2="368.2" stroke="#22b822" stroke-width="0.6" stroke-opacity="0.55"/>
<line x1="592.2" y1="384.2" x2="596.2" y2="384.2" stroke="#22b822" stroke-width="0.6" stroke-opacity="0.55"/>
<line x1="613.5" y1="375.2" x2="613.5" y2="389.2" stroke="#22b822" stroke-width="0.6" stroke-opacity="0.55"/>
<line x1="611.5" y1="375.2" x2="615.5" y2="375.2" stroke="#22b822" stroke-width="0.6" stroke-opacity="0.55"/>
<line x1="611.5" y1="389.2" x2="615.5" y2="389.2" stroke="#22b822" stroke-width="0.6" stroke-opacity="0.55"/>
<line x1="632.9" y1="366.3" x2="632.9" y2="390.3" stroke="#22b822" stroke-width="0.6" stroke-opacity="0.55"/>
<line x1="630.9" y1="366.3" x2="634.9" y2="366.3" stroke="#22b822" stroke-width="0.6" stroke-opacity="0.55"/>
<line x1="630.9" y1="390.3" x2="634.9" y2="390.3" stroke="#22b822" stroke-width="0.6" stroke-opacity="0.55"/>
<line x1="652.2" y1="369.3" x2="652.2" y2="381.3" stroke="#22b822" stroke-width="0.6" stroke-opacity="0.55"/>
<line x1="650.2" y1="369.3" x2="654.2" y2="369.3" stroke="#22b822" stroke-width="0.6" stroke-opacity="0.55"/>
<line x1="650.2" y1="381.3" x2="654.2" y2="381.3" stroke="#22b822" stroke-width="0.6" stroke-opacity="0.55"/>
<line x1="671.6" y1="377.2" x2="671.6" y2="387.2" stroke="#22b822" stroke-width="0.6" stroke-opacity="0.55"/>
<line x1="669.6" y1="377.2" x2="673.6" y2="377.2" stroke="#22b822" stroke-width="0.6" stroke-opacity="0.55"/>
<line x1="669.6" y1="387.2" x2="673.6" y2="387.2" stroke="#22b822" stroke-width="0.6" stroke-opacity="0.55"/>
<polygon points="536.1,379.3 538.9,384 533.2,384" fill="#22b822" stroke="none" stroke-width="0"/>
<polygon points="555.4,384.6 558.3,389.3 552.6,389.3" fill="#22b822" stroke="none" stroke-width="0"/>
<polygon points="574.8,376.6 577.7,381.3 571.9,381.3" fill="#22b822" stroke="none" stroke-width="0"/>
<polygon points="594.2,373.6 597,378.3 591.3,378.3" fill="#22b822" stroke="none" stroke-width="0"/>
<polygon points="613.5,379.6 616.4,384.3 610.7,384.3" fill="#22b822" stroke="none" stroke-width="0"/>
<polygon points="632.9,375.7 635.7,380.4 630,380.4" fill="#22b822" stroke="none" stroke-width="0"/>
<polygon points="652.2,372.7 655.1,377.4 649.4,377.4" fill="#22b822" stroke="none" stroke-width="0"/>
<polygon points="671.6,379.6 674.5,384.3 668.7,384.3" fill="#22b822" stroke="none" stroke-width="0"/>
<polyline points="536.1,375.3 555.4,376.2 574.8,373.2 594.2,376.2 613.5,380.7 632.9,377.4 652.2,380.4 671.6,377.4" fill="none" stroke="#a61ee6" stroke-width="0.7" stroke-opacity="0.9"/>
<line x1="536.1" y1="368.8" x2="536.1" y2="381.8" stroke="#a61ee6" stroke-width="0.6" stroke-opacity="0.55"/>
<line x1="534.1" y1="368.8" x2="538.1" y2="368.8" stroke="#a61ee6" stroke-width="0.6" stroke-opacity="0.55"/>
<line x1="534.1" y1="381.8" x2="538.1" y2="381.8" stroke="#a61ee6" stroke-width="0.6" stroke-opacity="0.55"/>
<line x1="555.4" y1="370.7" x2="555.4" y2="381.7" stroke="#a61ee6" stroke-width="0.6" stroke-opacity="0.55"/>
<line x1="553.4" y1="370.7" x2="557.4" y2="370.7" stroke="#a61ee6" stroke-width="0.6" stroke-opacity="0.55"/>
<line x1="553.4" y1="381.7" x2="557.4" y2="381.7" stroke="#a61ee6" stroke-width="0.6" stroke-opacity="0.55"/>
<line x1="574.8" y1="368.7" x2="574.8" y2="377.7" stroke="#a61ee6" stroke-width="0.6" stroke-opacity="0.55"/>
<line x1="572.8" y1="368.7" x2="576.8" y2="368.7" stroke="#a61ee6" stroke-width="0.6" stroke-opacity="0.55"/>
<line x1="572.8" y1="377.7" x2="576.8" y2="377.7" stroke="#a61ee6" stroke-width="0.6" stroke-opacity="0.55"/>
<line x1="594.2" y1="370.2" x2="594.2" y2="382.2" stroke="#a61ee6" stroke-width="0.6" stroke-opacity="0.55"/>
<line x1="592.2" y1="370.2" x2="596.2" y2="370.2" stroke="#a61ee6" stroke-width="0.6" stroke-opacity="0.55"/>
<line x1="592.2" y1="382.2" x2="596.2" y2="382.2" stroke="#a61ee6" stroke-width="0.6" stroke-opacity="0.55"/>
<line x1="613.5" y1="373.2" x2="613.5" y2="388.2" stroke="#a61ee6" stroke-width="0.6" stroke-opacity="0.55"/>
<line x1="611.5" y1="373.2" x2="615.5" y2="373.2" stroke="#a61ee6" stroke-width="0.6" stroke-opacity="0.55"/>
<line x1="611.5" y1="388.2" x2="615.5" y2="388.2" stroke="#a61ee6" stroke-width="0.6" stroke-opacity="0.55"/>
<line x1="632.9" y1="370.4" x2="632.9" y2="384.4" stroke="#a61ee6" stroke-width="0.6" stroke-opacity="0.55"/>
<line x1="630.9" y1="370.4" x2="634.9" y2="370.4" stroke="#a61ee6" stroke-width="0.6" stroke-opacity="0.55"/>
<line x1="630.9" y1="384.4" x2="634.9" y2="384.4" stroke="#a61ee6" stroke-width="0.6" stroke-opacity="0.55"/>
<line x1="652.2" y1="373.9" x2="652.2" y2="386.9" stroke="#a61ee6" stroke-width="0.6" stroke-opacity="0.55"/>
<line x1="650.2" y1="373.9" x2="654.2" y2="373.9" stroke="#a61ee6" stroke-width="0.6" stroke-opacity="0.55"/>
<line x1="650.2" y1="386.9" x2="654.2" y2="386.9" stroke="#a61ee6" stroke-width="0.6" stroke-opacity="0.55"/>
<line x1="671.6" y1="370.9" x2="671.6" y2="383.9" stroke="#a61ee6" stroke-width="0.6" stroke-opacity="0.55"/>
<line x1="669.6" y1="370.9" x2="673.6" y2="370.9" stroke="#a61ee6" stroke-width="0.6" stroke-opacity="0.55"/>
<line x1="669.6" y1="383.9" x2="673.6" y2="383.9" stroke="#a61ee6" stroke-width="0.6" stroke-opacity="0.55"/>
<polygon points="536.1,372.6 538.7,375.3 536.1,378 533.5,375.3" fill="#a61ee6" stroke="none" stroke-width="0"/>
<polygon points="555.4,373.5 558,376.2 555.4,378.9 552.8,376.2" fill="#a61ee6" stroke="none" stroke-width="0"/>
<polygon points="574.8,370.5 577.4,373.2 574.8,375.9 572.2,373.2" fill="#a61ee6" stroke="none" stroke-width="0"/>
<polygon points="594.2,373.5 596.8,376.2 594.2,378.9 591.6,376.2" fill="#a61ee6" stroke="none" stroke-width="0"/>
<polygon points="613.5,378 616.1,380.7 613.5,383.4 610.9,380.7" fill="#a61ee6" stroke="none" stroke-width="0"/>
<polygon points="632.9,374.7 635.5,377.4 632.9,380.1 630.3,377.4" fill="#a61ee6" stroke="none" stroke-width="0"/>
<polygon points="652.2,377.7 654.8,380.4 652.2,383.1 649.6,380.4" fill="#a61ee6" stroke="none" stroke-width="0"/>
<polygon points="671.6,374.7 674.2,377.4 671.6,380.1 669,377.4" fill="#a61ee6" stroke="none" stroke-width="0"/>
<polygon points="542.9,313.7 545.4,317.8 540.4,317.8" fill="#22b822" stroke="none" stroke-width="0"/>
<text x="550.4" y="318.8" font-size="7.7" fill="#231f20">Paclitaxome-1</text>
<polygon points="542.9,327.6 545.4,323.5 540.4,323.5" fill="#f5841f" stroke="none" stroke-width="0"/>
<text x="550.4" y="328.1" font-size="7.7" fill="#231f20">Paclitaxome-2</text>
<polygon points="542.9,332.5 545.2,334.9 542.9,337.3 540.6,334.9" fill="#a61ee6" stroke="none" stroke-width="0"/>
<text x="550.4" y="337.6" font-size="7.7" fill="#231f20">Paclitaxome-3</text>
<text x="490.6" y="305.9" font-size="13.4" font-weight="bold" fill="#000" stroke="#000" stroke-width="0.5">e</text>
<line x1="33.5" y1="553.4" x2="33.5" y2="656.5" stroke="#6d6e71" stroke-width="0.8"/>
<line x1="33.5" y1="666" x2="33.5" y2="683.4" stroke="#6d6e71" stroke-width="0.8"/>
<line x1="31.5" y1="660.3" x2="35.5" y2="657.6" stroke="#6d6e71" stroke-width="0.7"/>
<line x1="31.5" y1="664.5" x2="35.5" y2="661.8" stroke="#6d6e71" stroke-width="0.7"/>
<line x1="33.5" y1="683.4" x2="210.2" y2="683.4" stroke="#6d6e71" stroke-width="0.8"/>
<line x1="33.5" y1="553.4" x2="210.2" y2="553.4" stroke="#6d6e71" stroke-width="0.8"/>
<line x1="210.2" y1="553.4" x2="210.2" y2="683.4" stroke="#6d6e71" stroke-width="0.8"/>
<line x1="30.1" y1="553.4" x2="33.5" y2="553.4" stroke="#6d6e71" stroke-width="0.8"/>
<text x="26.2" y="556.8" font-size="8.1" fill="#1a1a1a" text-anchor="end">6</text>
<line x1="30.1" y1="583.7" x2="33.5" y2="583.7" stroke="#6d6e71" stroke-width="0.8"/>
<text x="26.2" y="587.1" font-size="8.1" fill="#1a1a1a" text-anchor="end">5</text>
<line x1="30.1" y1="614" x2="33.5" y2="614" stroke="#6d6e71" stroke-width="0.8"/>
<text x="26.2" y="617.4" font-size="8.1" fill="#1a1a1a" text-anchor="end">4</text>
<line x1="30.1" y1="644.4" x2="33.5" y2="644.4" stroke="#6d6e71" stroke-width="0.8"/>
<text x="26.2" y="647.8" font-size="8.1" fill="#1a1a1a" text-anchor="end">3</text>
<line x1="30.1" y1="673.5" x2="33.5" y2="673.5" stroke="#6d6e71" stroke-width="0.8"/>
<text x="26.2" y="676.9" font-size="8.1" fill="#1a1a1a" text-anchor="end">1</text>
<line x1="30.1" y1="683.4" x2="33.5" y2="683.4" stroke="#6d6e71" stroke-width="0.8"/>
<text x="26.2" y="686.8" font-size="8.1" fill="#1a1a1a" text-anchor="end">0</text>
<text x="26.1" y="668.4" font-size="8.1" fill="#1a1a1a" text-anchor="end">2</text>
<line x1="33.5" y1="683.4" x2="33.5" y2="686.4" stroke="#6d6e71" stroke-width="0.8"/>
<text x="33.5" y="696.5" font-size="8.1" fill="#1a1a1a" text-anchor="middle">0</text>
<line x1="77.7" y1="683.4" x2="77.7" y2="686.4" stroke="#6d6e71" stroke-width="0.8"/>
<text x="77.7" y="696.5" font-size="8.1" fill="#1a1a1a" text-anchor="middle">5,000</text>
<line x1="121.8" y1="683.4" x2="121.8" y2="686.4" stroke="#6d6e71" stroke-width="0.8"/>
<text x="121.8" y="696.5" font-size="8.1" fill="#1a1a1a" text-anchor="middle">10,000</text>
<line x1="166" y1="683.4" x2="166" y2="686.4" stroke="#6d6e71" stroke-width="0.8"/>
<text x="166" y="696.5" font-size="8.1" fill="#1a1a1a" text-anchor="middle">15,000</text>
<line x1="210.2" y1="683.4" x2="210.2" y2="686.4" stroke="#6d6e71" stroke-width="0.8"/>
<text x="210.2" y="696.5" font-size="8.1" fill="#1a1a1a" text-anchor="middle">20,000</text>
<text x="121.8" y="709.3" font-size="9.5" fill="#231f20" text-anchor="middle">Simulation time (ps)</text>
<text x="14.2" y="627.8" font-size="9.2" fill="#231f20" text-anchor="middle" transform="rotate(-90 14.2 627.8)">Thickness (nm)</text>
<polyline points="33.8,613.4 33.9,624.6 34.1,629 34.2,618.4 34.3,612.7 34.5,621.5 34.6,625.3 34.7,629.7 34.9,613.5 35,612.9 35.2,626.9 35.3,625.3 35.4,632.7 35.6,628.8 35.7,621.3 35.8,620 36,640 36.1,619.9 36.2,616.5 36.4,614 36.5,622.6 36.6,623 36.8,619.5 36.9,621.5 37.1,623.9 37.2,626.8 37.3,629.6 37.5,623.4 37.6,609.4 37.7,626.9 37.9,612 38,620.7 38.1,611.6 38.3,621.9 38.4,616.5 38.5,623.4 38.7,645 38.8,621.6 38.9,627.8 39.1,612.7 39.2,619.9 39.4,626.6 39.5,621.3 39.6,624.5 39.8,622.6 39.9,614.9 40,625.9 40.2,616.2 40.3,635 40.4,618.4 40.6,626.7 40.7,621.9 40.8,628.6 41,617.7 41.1,628.9 41.3,621 41.4,630.7 41.5,626.3 41.7,622.9 41.8,616.4 41.9,627.3 42.1,625.2 42.2,633.4 42.3,619.2 42.5,625.8 42.6,625.4 42.7,623.9 42.9,623.3 43,623.1 43.1,617.7 43.3,614.8 43.4,619.1 43.6,626 43.7,632.4 43.8,628.7 44,629.2 44.1,627.3 44.2,626.7 44.4,623.1 44.5,627.2 44.6,634.3 44.8,619.6 44.9,617 45,635.6 45.2,623.6 45.3,628.6 45.4,628 45.6,613.9 45.7,638.9 45.9,634.3 46,623.1 46.1,627.1 46.3,622.7 46.4,615.6 46.5,621 46.7,624.4 46.8,629.6 46.9,626.8 47.1,622.2 47.2,631.3 47.3,616.5 47.5,627.4 47.6,629.6 47.8,619.8 47.9,609.3 48,615.5 48.2,623.5 48.3,625.5 48.4,632.6 48.6,614.8 48.7,621.8 48.8,626.3 49,620.7 49.1,605.2 49.2,627.4 49.4,638 49.5,628.8 49.6,615.4 49.8,618.9 49.9,623.3 50.1,639.2 50.2,626.1 50.3,622.6 50.5,632.7 50.6,621.2 50.7,634.8 50.9,617 51,618.4 51.1,626.8 51.3,631.7 51.4,626.3 51.5,623.9 51.7,609 51.8,616.8 52,617.5 52.1,618 52.2,625.8 52.4,619.4 52.5,627.3 52.6,622.3 52.8,619.4 52.9,622.6 53,624.7 53.2,627.7 53.3,618.4 53.4,620.1 53.6,612.2 53.7,632.9 53.8,631.9 54,620.5 54.1,618.4 54.3,613.1 54.4,622.9 54.5,623.2 54.7,637 54.8,623.4 54.9,616.3 55.1,604.6 55.2,631.6 55.3,623 55.5,610.4 55.6,623 55.7,610.4 55.9,646.1 56,629.5 56.2,625.7 56.3,620.5 56.4,606.7 56.6,620.8 56.7,610.8 56.8,625.9 57,606.7 57.1,615.3 57.2,630.2 57.4,633.2 57.5,613.4 57.6,610.9 57.8,627.8 57.9,627.6 58,614.8 58.2,616.8 58.3,616.8 58.5,613.3 58.6,616.9 58.7,630.4 58.9,626.5 59,636 59.1,621 59.3,620.7 59.4,614.8 59.5,620.8 59.7,612.4 59.8,609.2 59.9,626.5 60.1,631.7 60.2,627.5 60.4,631 60.5,623.4 60.6,616.6 60.8,622.2 60.9,619 61,613.8 61.2,609.8 61.3,611.2 61.4,621.6 61.6,622.7 61.7,618.3 61.8,631.6 62,622.9 62.1,625.7 62.2,630.1 62.4,615.9 62.5,607.8 62.7,626.9 62.8,616.8 62.9,630.8 63.1,624 63.2,628.6 63.3,626.9 63.5,607 63.6,626.6 63.7,616.9 63.9,616.3 64,618.5 64.1,627 64.3,627.8 64.4,628.7 64.5,610 64.7,617.4 64.8,604.9 65,620.9 65.1,625.8 65.2,616.2 65.4,623.3 65.5,623.2 65.6,628.6 65.8,615.8 65.9,615.8 66,616.2 66.2,633.8 66.3,629.2 66.4,620.7 66.6,623.1 66.7,622.3 66.9,623 67,620.1 67.1,619.2 67.3,612.7 67.4,617 67.5,633.1 67.7,625.3 67.8,622 67.9,620 68.1,622 68.2,624 68.3,617 68.5,622.9 68.6,623.2 68.7,616.3 68.9,616 69,614.5 69.2,614.1 69.3,627.7 69.4,605 69.6,619.6 69.7,617.2 69.8,617.2 70,622.2 70.1,629.4 70.2,622 70.4,620.5 70.5,617.2 70.6,620.6 70.8,627.8 70.9,618.7 71.1,613.4 71.2,612.6 71.3,613.7 71.5,611.7 71.6,629.1 71.7,623.9 71.9,619.7 72,631.6 72.1,616.8 72.3,626.7 72.4,627 72.5,610.5 72.7,610.5 72.8,614.9 72.9,627.7 73.1,630.4 73.2,612.7 73.4,628.7 73.5,618.6 73.6,618.6 73.8,617.5 73.9,619 74,608.6 74.2,614.3 74.3,612.6 74.4,624.7 74.6,635.9 74.7,640.4 74.8,618.9 75,609.2 75.1,618.4 75.3,614.7 75.4,635.1 75.5,625.2 75.7,616.1 75.8,627.8 75.9,625 76.1,609.8 76.2,617.5 76.3,619.5 76.5,621.3 76.6,622.1 76.7,618.8 76.9,622.5 77,617 77.1,614.9 77.3,631.7 77.4,623.7 77.6,624.2 77.7,610 77.8,619.9 78,626.8 78.1,612.1 78.2,628.8 78.4,618.4 78.5,623.9 78.6,620.1 78.8,622.6 78.9,629.5 79,618.2 79.2,632 79.3,615.6 79.5,614.5 79.6,626 79.7,613.6 79.9,618.4 80,627.4 80.1,629.5 80.3,608.6 80.4,624.5 80.5,634.2 80.7,629.3 80.8,619.3 80.9,616.7 81.1,618.9 81.2,612.9 81.3,619.1 81.5,619.6 81.6,619.9 81.8,629.2 81.9,619.3 82,610.7 82.2,628.2 82.3,613.4 82.4,617.7 82.6,619.9 82.7,618.5 82.8,613.8 83,619.1 83.1,636.1 83.2,616.6 83.4,619.9 83.5,628.7 83.6,626 83.8,626.2 83.9,626.8 84.1,607 84.2,614.7 84.3,621.7 84.5,624.3 84.6,629.8 84.7,624.1 84.9,619.1 85,621 85.1,619.3 85.3,622.5 85.4,625.4 85.5,618.3 85.7,615 85.8,614.7 86,628.4 86.1,629.7 86.2,627.6 86.4,626.7 86.5,626.5 86.6,620.7 86.8,625.3 86.9,613.3 87,619.2 87.2,615.5 87.3,625.7 87.4,616.6 87.6,619.9 87.7,623.4 87.8,630.1 88,615.1 88.1,614 88.3,626.3 88.4,612.8 88.5,623.7 88.7,616.6 88.8,619.8 88.9,607.8 89.1,625.5 89.2,617 89.3,614.2 89.5,635.1 89.6,625.5 89.7,645.1 89.9,623.4 90,618.1 90.2,621.2 90.3,631.7 90.4,620.3 90.6,623.6 90.7,624.1 90.8,614.1 91,621.4 91.1,616.9 91.2,611.7 91.4,626.5 91.5,625.1 91.6,620.9 91.8,614.1 91.9,606.4 92,623.8 92.2,619.7 92.3,608.6 92.5,620 92.6,609.7 92.7,620.2 92.9,621.4 93,622.8 93.1,621.9 93.3,621.5 93.4,612.4 93.5,617.6 93.7,616.7 93.8,618.7 93.9,622.2 94.1,624.6 94.2,631.7 94.4,602.3 94.5,623.1 94.6,618.9 94.8,636.2 94.9,626.8 95,608.7 95.2,623.1 95.3,616.6 95.4,627.2 95.6,612.8 95.7,619.5 95.8,619.3 96,619.5 96.1,616.1 96.2,607.3 96.4,623.4 96.5,627.2 96.7,619.7 96.8,613 96.9,621.6 97.1,624.1 97.2,618.9 97.3,620 97.5,630 97.6,612.3 97.7,616.2 97.9,606.8 98,615.2 98.1,614.9 98.3,613.4 98.4,615.2 98.6,632.7 98.7,618.7 98.8,619.3 99,635.4 99.1,619.6 99.2,607.9 99.4,622.9 99.5,613.5 99.6,631.5 99.8,611.3 99.9,615.9 100,608.8 100.2,620.7 100.3,612.9 100.4,619.5 100.6,617.3 100.7,615.7 100.9,626.6 101,626.5 101.1,620.4 101.3,613.6 101.4,612.4 101.5,621.8 101.7,636.7 101.8,616.7 101.9,614.4 102.1,615 102.2,612.2 102.3,613.1 102.5,618.4 102.6,629.9 102.7,619.9 102.9,616.3 103,608.5 103.2,621.3 103.3,619.6 103.4,611.2 103.6,612.2 103.7,619.5 103.8,626.9 104,624.2 104.1,621.2 104.2,617.5 104.4,622 104.5,619.7 104.6,635 104.8,611.8 104.9,617.2 105.1,628.6 105.2,617.9 105.3,629.7 105.5,619.4 105.6,620.7 105.7,617.1 105.9,610 106,612.9 106.1,635.2 106.3,624.2 106.4,623.9 106.5,626.3 106.7,623.7 106.8,626.8 106.9,617.8 107.1,618.1 107.2,626.5 107.4,617.2 107.5,610.3 107.6,618 107.8,615.8 107.9,623.9 108,614.6 108.2,612.2 108.3,617.3 108.4,630.4 108.6,619.2 108.7,620.7 108.8,619.6 109,621.6 109.1,626 109.3,629.3 109.4,608 109.5,629.1 109.7,619.5 109.8,617.3 109.9,636.3 110.1,618.3 110.2,633.1 110.3,626.3 110.5,612.3 110.6,622.9 110.7,624.7 110.9,618.7 111,603.2 111.1,617.1 111.3,618.2 111.4,611.8 111.6,632.3 111.7,617.9 111.8,616.8 112,617.5 112.1,614.1 112.2,614.2 112.4,620.2 112.5,621.8 112.6,616 112.8,619 112.9,609.9 113,623.3 113.2,614.4 113.3,621.1 113.5,613.3 113.6,616 113.7,621.1 113.9,611.2 114,636.9 114.1,619.4 114.3,619.2 114.4,614.5 114.5,630.8 114.7,629.4 114.8,621.8 114.9,610.1 115.1,616.2 115.2,624 115.3,616.1 115.5,611.4 115.6,611.4 115.8,614.3 115.9,619.8 116,615.2 116.2,619.9 116.3,639.3 116.4,632.2 116.6,612.5 116.7,622.2 116.8,620.4 117,618.8 117.1,627.1 117.2,617.4 117.4,617.5 117.5,617.2 117.7,619.1 117.8,628.8 117.9,625.2 118.1,610.4 118.2,616.7 118.3,614.2 118.5,625.5 118.6,621.4 118.7,626.1 118.9,619.4 119,606.5 119.1,623 119.3,621.4 119.4,623.4 119.5,610.7 119.7,620.4 119.8,615.1 120,615.1 120.1,622.4 120.2,622.4 120.4,613.6 120.5,607.9 120.6,602.6 120.8,615.9 120.9,627.8 121,619.5 121.2,604.2 121.3,613.9 121.4,622.9 121.6,631.6 121.7,628.1 121.8,622.5 122,621.3 122.1,612.5 122.3,616.8 122.4,617.6 122.5,614.6 122.7,620.4 122.8,617.2 122.9,622.3 123.1,630 123.2,625.2 123.3,622.9 123.5,618.3 123.6,609.4 123.7,619.2 123.9,623.8 124,613 124.2,628.8 124.3,617.7 124.4,622.6 124.6,617.7 124.7,611.3 124.8,634.5 125,611.9 125.1,626.5 125.2,616.2 125.4,622 125.5,614.4 125.6,617.2 125.8,626.5 125.9,633.7 126,614.2 126.2,620.2 126.3,626.7 126.5,615.7 126.6,625.1 126.7,614.6 126.9,624.4 127,623.2 127.1,628.6 127.3,622.7 127.4,611.8 127.5,624.8 127.7,612.5 127.8,625.4 127.9,630.7 128.1,624.3 128.2,616.3 128.4,628.5 128.5,621.4 128.6,611.5 128.8,617.7 128.9,630.1 129,618.1 129.2,621.1 129.3,617.8 129.4,608.4 129.6,616.7 129.7,622.7 129.8,621.7 130,619 130.1,605.3 130.2,628.8 130.4,625.3 130.5,627.4 130.7,629.4 130.8,617.2 130.9,616.1 131.1,622.5 131.2,632 131.3,608.5 131.5,618.7 131.6,615.3 131.7,624.2 131.9,630.6 132,618.3 132.1,611.6 132.3,620.7 132.4,618.3 132.6,609.5 132.7,626.5 132.8,616.7 133,625.1 133.1,611.2 133.2,628 133.4,610.3 133.5,627.8 133.6,607.7 133.8,630.1 133.9,617.8 134,609.5 134.2,618.8 134.3,622.8 134.4,613.5 134.6,617 134.7,622.3 134.9,619.2 135,599 135.1,617.4 135.3,623.4 135.4,622.5 135.5,627.5 135.7,615.6 135.8,638.3 135.9,626.1 136.1,622.7 136.2,628.1 136.3,627.2 136.5,621.2 136.6,616.2 136.8,627.7 136.9,623.5 137,607.3 137.2,612.8 137.3,623.8 137.4,621.3 137.6,622.5 137.7,625 137.8,621.6 138,631.6 138.1,616.4 138.2,617.8 138.4,622.8 138.5,625.8 138.6,626.1 138.8,631 138.9,617.2 139.1,628.8 139.2,623.9 139.3,613.3 139.5,619.6 139.6,635.2 139.7,626.1 139.9,617.3 140,603.8 140.1,615.5 140.3,615.7 140.4,621.2 140.5,636.8 140.7,625.9 140.8,622.8 141,614.1 141.1,612.4 141.2,619.2 141.4,617.4 141.5,641.7 141.6,617.9 141.8,616.4 141.9,628.6 142,621.2 142.2,612.1 142.3,629.7 142.4,618.5 142.6,611.4 142.7,623 142.8,624.1 143,618.4 143.1,625.6 143.3,626.5 143.4,614.6 143.5,606.4 143.7,604 143.8,619.9 143.9,629.4 144.1,627.8 144.2,630.5 144.3,633.8 144.5,620.9 144.6,628.2 144.7,610.1 144.9,625.6 145,623.6 145.1,620.2 145.3,617.7 145.4,613 145.6,621.8 145.7,629.8 145.8,618.3 146,624.6 146.1,616.2 146.2,622.6 146.4,613.8 146.5,623.5 146.6,619.3 146.8,623.1 146.9,616.6 147,612.7 147.2,618.6 147.3,628.2 147.5,632 147.6,618.6 147.7,626.5 147.9,626.2 148,623.7 148.1,610.1 148.3,623.2 148.4,614.2 148.5,629.2 148.7,626.5 148.8,625.3 148.9,603.2 149.1,625.3 149.2,625.9 149.3,612 149.5,627.8 149.6,621.5 149.8,619.7 149.9,616 150,613.9 150.2,618 150.3,642.6 150.4,622.4 150.6,622.5 150.7,616.5 150.8,616.7 151,617.2 151.1,614.9 151.2,627.2 151.4,619.2 151.5,627.1 151.7,613 151.8,627.6 151.9,620.9 152.1,625.8 152.2,620.4 152.3,614.9 152.5,629.6 152.6,618.1 152.7,620.1 152.9,614.9 153,622.6 153.1,618.4 153.3,623.1 153.4,623.6 153.5,616.4 153.7,611.3 153.8,624.2 154,627.6 154.1,626.1 154.2,613.2 154.4,625.5 154.5,623.9 154.6,623.2 154.8,624.2 154.9,619 155,622.8 155.2,627.7 155.3,617.7 155.4,611.2 155.6,620.5 155.7,622.7 155.9,608.4 156,616.6 156.1,625.4 156.3,620.3 156.4,622 156.5,612.5 156.7,627.7 156.8,633.6 156.9,619.9 157.1,616.2 157.2,613.3 157.3,627.6 157.5,622.1 157.6,615.8 157.7,629.9 157.9,626.7 158,625.6 158.2,609.1 158.3,620.7 158.4,625.8 158.6,612.9 158.7,627.9 158.8,631.5 159,628.7 159.1,616.4 159.2,616.5 159.4,628.1 159.5,628.4 159.6,630.1 159.8,629.9 159.9,620.8 160.1,618.6 160.2,608.5 160.3,627 160.5,637.5 160.6,618.3 160.7,618.2 160.9,626.1 161,624.2 161.1,612 161.3,616.6 161.4,613.9 161.5,635.7 161.7,616.6 161.8,627.6 161.9,635 162.1,634.9 162.2,631.6 162.4,633 162.5,613 162.6,619.2 162.8,616.5 162.9,619.6 163,640 163.2,609.9 163.3,625.6 163.4,613 163.6,631.1 163.7,630.8 163.8,618.1 164,636.2 164.1,622.2 164.2,630.8 164.4,623.9 164.5,617.8 164.7,619.1 164.8,620.9 164.9,626.1 165.1,622.6 165.2,638.3 165.3,620.4 165.5,618.5 165.6,616.7 165.7,616.3 165.9,611.7 166,614.9 166.1,628.2 166.3,622.2 166.4,620.6 166.6,624.3 166.7,629.3 166.8,626.2 167,627.3 167.1,617.9 167.2,620 167.4,616.4 167.5,621.2 167.6,616.2 167.8,619.3 167.9,620.7 168,620.4 168.2,620 168.3,618.5 168.4,631.1 168.6,619.5 168.7,614.9 168.9,623.3 169,614.3 169.1,614.4 169.3,622.6 169.4,610.3 169.5,599.4 169.7,624 169.8,629.2 169.9,610.3 170.1,615.7 170.2,626.1 170.3,608.1 170.5,615.9 170.6,613.6 170.8,620.7 170.9,608.2 171,628.3 171.2,621 171.3,624.2 171.4,619.8 171.6,607.2 171.7,621 171.8,612.7 172,622.2 172.1,616.1 172.2,619.9 172.4,620.6 172.5,627.5 172.6,627.5 172.8,615.1 172.9,622 173.1,632.4 173.2,625.6 173.3,617.1 173.5,621.3 173.6,619.7 173.7,628.8 173.9,622.4 174,624.8 174.1,637.7 174.3,612.6 174.4,615.1 174.5,610.1 174.7,611.1 174.8,628.2 175,624.3 175.1,633.7 175.2,608.4 175.4,616.1 175.5,632.4 175.6,629.5 175.8,628.5 175.9,628.4 176,622.5 176.2,622.2 176.3,622.5 176.4,628.2 176.6,621.2 176.7,624.6 176.8,632.5 177,614.5 177.1,617.1 177.3,626.3 177.4,620.5 177.5,621.3 177.7,637.1 177.8,625.3 177.9,619.5 178.1,630.1 178.2,640 178.3,614.7 178.5,617.7 178.6,623.2 178.7,618 178.9,637.6 179,626.1 179.2,619.7 179.3,625.9 179.4,616.9 179.6,618.2 179.7,623.2 179.8,639.2 180,606.7 180.1,625.4 180.2,632 180.4,627.7 180.5,636 180.6,625.7 180.8,623.5 180.9,621.6 181,616.5 181.2,634 181.3,614.2 181.5,621.7 181.6,618.9 181.7,617 181.9,607 182,619.9 182.1,623.5 182.3,623.5 182.4,628.5 182.5,621.4 182.7,618.1 182.8,624.7 182.9,627.2 183.1,616.2 183.2,611.9 183.3,615.4 183.5,630 183.6,629.5 183.8,616.4 183.9,623.3 184,628.4 184.2,631.9 184.3,618 184.4,620.9 184.6,632.4 184.7,639.5 184.8,633.3 185,614.6 185.1,625.7 185.2,620.5 185.4,622.2 185.5,618 185.7,619.2 185.8,622.5 185.9,635.2 186.1,627.5 186.2,625.6 186.3,622.8 186.5,617.4 186.6,621 186.7,631.3 186.9,628.4 187,636.4 187.1,624.4 187.3,622.5 187.4,611.3 187.5,625.4 187.7,610.6 187.8,633.3 188,618.2 188.1,622.6 188.2,613.2 188.4,619.2 188.5,616.1 188.6,630.6 188.8,624.4 188.9,614.4 189,609.1 189.2,622.2 189.3,619.2 189.4,614.9 189.6,626.8 189.7,621.4 189.9,623.4 190,618.5 190.1,618.7 190.3,619.4 190.4,611.5 190.5,627.1 190.7,625.5 190.8,610.6 190.9,623.4 191.1,630.8 191.2,624.3 191.3,631.8 191.5,620.8 191.6,622.7 191.7,613.6 191.9,616.4 192,609.9 192.2,616.4 192.3,624.4 192.4,626.3 192.6,630.9 192.7,623.6 192.8,615.8 193,625.7 193.1,621.7 193.2,635.2 193.4,636.4 193.5,629.4 193.6,614.8 193.8,619.1 193.9,624.1 194.1,617.7 194.2,626.4 194.3,627.5 194.5,628.6 194.6,624.3 194.7,616.6 194.9,616.8 195,621.9 195.1,632 195.3,633.8 195.4,629.6 195.5,625.3 195.7,627.5 195.8,628.5 195.9,631.8 196.1,628.8 196.2,612 196.4,629.4 196.5,625.5 196.6,619.6 196.8,626.5 196.9,624.8 197,622.4 197.2,611 197.3,623.6 197.4,626.7 197.6,622.5 197.7,611.7 197.8,626 198,627.8 198.1,624.1 198.3,625.8 198.4,620.3 198.5,618.2 198.7,626.5 198.8,620.3 198.9,624.1 199.1,645.6 199.2,627.8 199.3,623.8 199.5,611.5 199.6,623.5 199.7,628.1 199.9,617.9 200,621.2 200.1,607.1 200.3,626.7 200.4,618.7 200.6,627.6 200.7,632.4 200.8,621.7 201,629.7 201.1,624.6 201.2,621.4 201.4,620.9 201.5,616.9 201.6,631.8 201.8,629 201.9,615.8 202,628.8 202.2,617.8 202.3,612.3 202.4,631.3 202.6,613.9 202.7,631.2 202.9,624.3 203,629.2 203.1,626.5 203.3,631 203.4,625.3 203.5,626.9 203.7,624.6 203.8,630.6 203.9,620.2 204.1,630 204.2,633.4 204.3,622.5 204.5,626 204.6,619.3 204.8,620.9 204.9,624.7 205,620.5 205.2,616.7 205.3,622.7 205.4,624.3 205.6,625.2 205.7,627.9 205.8,610.5 206,632.8 206.1,621.7 206.2,617.5 206.4,620.3 206.5,626 206.6,629 206.8,620.4 206.9,624.1 207.1,611.8 207.2,624.1 207.3,622.2 207.5,619.9 207.6,629.2 207.7,635.5 207.9,630.2 208,617.5 208.1,633.7 208.3,620.6 208.4,622.7 208.5,618.9 208.7,626.2 208.8,626.8 209,624 209.1,621.5 209.2,622 209.4,620.2 209.5,629.8 209.6,619.3 209.8,622 209.9,621.5" fill="none" stroke="#0000ff" stroke-width="0.6"/>
<polyline points="33.5,621.9 80,621 110,617.5 140,618 170,621.5 210.2,622" fill="none" stroke="#e0204a" stroke-width="0.5" stroke-opacity="0.7"/>
<text x="0.3" y="553.2" font-size="13.4" font-weight="bold" fill="#000" stroke="#000" stroke-width="0.5">g</text>
<line x1="267.7" y1="553.2" x2="267.7" y2="657.5" stroke="#6d6e71" stroke-width="0.8"/>
<line x1="267.7" y1="662.5" x2="267.7" y2="683.2" stroke="#6d6e71" stroke-width="0.8"/>
<line x1="265.7" y1="659.2" x2="269.7" y2="656.5" stroke="#6d6e71" stroke-width="0.7"/>
<line x1="265.7" y1="663" x2="269.7" y2="660.3" stroke="#6d6e71" stroke-width="0.7"/>
<line x1="267.7" y1="683.2" x2="444.2" y2="683.2" stroke="#6d6e71" stroke-width="0.8"/>
<line x1="267.7" y1="553.2" x2="444.2" y2="553.2" stroke="#6d6e71" stroke-width="0.8"/>
<line x1="444.2" y1="553.2" x2="444.2" y2="683.2" stroke="#6d6e71" stroke-width="0.8"/>
<line x1="264.3" y1="566.5" x2="267.7" y2="566.5" stroke="#6d6e71" stroke-width="0.8"/>
<text x="260.4" y="569.9" font-size="8.1" fill="#1a1a1a" text-anchor="end">0.82</text>
<line x1="264.3" y1="593.2" x2="267.7" y2="593.2" stroke="#6d6e71" stroke-width="0.8"/>
<text x="260.4" y="596.6" font-size="8.1" fill="#1a1a1a" text-anchor="end">0.80</text>
<line x1="264.3" y1="619.8" x2="267.7" y2="619.8" stroke="#6d6e71" stroke-width="0.8"/>
<text x="260.4" y="623.2" font-size="8.1" fill="#1a1a1a" text-anchor="end">0.78</text>
<line x1="264.3" y1="646.4" x2="267.7" y2="646.4" stroke="#6d6e71" stroke-width="0.8"/>
<text x="260.4" y="649.8" font-size="8.1" fill="#1a1a1a" text-anchor="end">0.76</text>
<line x1="264.3" y1="664.6" x2="267.7" y2="664.6" stroke="#6d6e71" stroke-width="0.8"/>
<text x="260.4" y="668" font-size="8.1" fill="#1a1a1a" text-anchor="end">0.4</text>
<line x1="264.3" y1="673.8" x2="267.7" y2="673.8" stroke="#6d6e71" stroke-width="0.8"/>
<text x="260.4" y="677.2" font-size="8.1" fill="#1a1a1a" text-anchor="end">0.2</text>
<line x1="264.3" y1="683.2" x2="267.7" y2="683.2" stroke="#6d6e71" stroke-width="0.8"/>
<text x="260.4" y="686.6" font-size="8.1" fill="#1a1a1a" text-anchor="end">0</text>
<line x1="267.7" y1="683.2" x2="267.7" y2="686.2" stroke="#6d6e71" stroke-width="0.8"/>
<text x="267.7" y="696.3" font-size="8.1" fill="#1a1a1a" text-anchor="middle">0</text>
<line x1="311.8" y1="683.2" x2="311.8" y2="686.2" stroke="#6d6e71" stroke-width="0.8"/>
<text x="311.8" y="696.3" font-size="8.1" fill="#1a1a1a" text-anchor="middle">5,000</text>
<line x1="355.9" y1="683.2" x2="355.9" y2="686.2" stroke="#6d6e71" stroke-width="0.8"/>
<text x="355.9" y="696.3" font-size="8.1" fill="#1a1a1a" text-anchor="middle">10,000</text>
<line x1="400.1" y1="683.2" x2="400.1" y2="686.2" stroke="#6d6e71" stroke-width="0.8"/>
<text x="400.1" y="696.3" font-size="8.1" fill="#1a1a1a" text-anchor="middle">15,000</text>
<line x1="444.2" y1="683.2" x2="444.2" y2="686.2" stroke="#6d6e71" stroke-width="0.8"/>
<text x="444.2" y="696.3" font-size="8.1" fill="#1a1a1a" text-anchor="middle">20,000</text>
<text x="355.9" y="709.3" font-size="9.5" fill="#231f20" text-anchor="middle">Simulation time (ps)</text>
<text x="237.8" y="618.4" font-size="9.2" fill="#231f20" text-anchor="middle" transform="rotate(-90 237.8 618.4)">Average area per lipid (nm<tspan dy="-3" font-size="6">2</tspan><tspan dy="3">)</tspan></text>
<polyline points="267.9,611.6 268,610.1 268.2,610.6 268.3,616.9 268.4,616.2 268.5,616.2 268.7,616 268.8,613.6 268.9,614.4 269,618 269.2,611.7 269.3,611.4 269.4,611 269.5,612.4 269.7,613.3 269.8,611.9 269.9,616.2 270,608.5 270.2,613.7 270.3,602.4 270.4,606 270.5,607 270.7,606.1 270.8,607.1 270.9,604.7 271,605 271.2,600.8 271.3,604.1 271.4,600.3 271.5,600.3 271.7,595.5 271.8,600.3 271.9,600.7 272.1,598.4 272.2,603.2 272.3,601.6 272.4,596.8 272.6,599.6 272.7,595.7 272.8,598.7 272.9,592.3 273.1,598.3 273.2,597.9 273.3,592.1 273.4,597.8 273.6,592.2 273.7,593.3 273.8,592.6 273.9,584.2 274.1,591 274.2,590.6 274.3,590.8 274.4,586.4 274.6,588.3 274.7,590.3 274.8,589.4 274.9,587.7 275.1,582.8 275.2,584 275.3,588.2 275.4,590.3 275.6,588.6 275.7,587.1 275.8,586.8 276,585.8 276.1,584.7 276.2,584.8 276.3,587.1 276.5,582.8 276.6,582.9 276.7,584.2 276.8,579.3 277,585.5 277.1,579.6 277.2,579.2 277.3,584.1 277.5,583.9 277.6,578.5 277.7,586.2 277.8,578.7 278,582 278.1,584.9 278.2,581.5 278.3,577.1 278.5,582.2 278.6,575.8 278.7,582.5 278.8,577.7 279,580.9 279.1,580.5 279.2,584.9 279.3,581.1 279.5,578.4 279.6,580.1 279.7,578.7 279.8,579.1 280,577.6 280.1,577 280.2,580.2 280.4,580.2 280.5,582.5 280.6,578.9 280.7,579.2 280.9,579.7 281,580.4 281.1,579.8 281.2,579.1 281.4,576.3 281.5,582.8 281.6,579 281.7,581 281.9,582.4 282,579.9 282.1,578.6 282.2,578.1 282.4,574.7 282.5,575.7 282.6,575.3 282.7,578.7 282.9,575.7 283,577.4 283.1,577.1 283.2,578.3 283.4,580.7 283.5,577.9 283.6,574.5 283.7,578.9 283.9,579.2 284,577.7 284.1,578.3 284.3,578 284.4,579.2 284.5,579.8 284.6,579.2 284.8,581.5 284.9,581.7 285,579.6 285.1,575.2 285.3,579.9 285.4,584.1 285.5,577.6 285.6,580.2 285.8,579.2 285.9,577.1 286,575.7 286.1,576.8 286.3,576.1 286.4,576.9 286.5,579.5 286.6,576.9 286.8,573.7 286.9,577.4 287,577 287.1,574.7 287.3,577.9 287.4,578 287.5,573.7 287.6,575.8 287.8,576.3 287.9,574.2 288,578.9 288.2,578 288.3,574.1 288.4,579.5 288.5,575.7 288.7,575.9 288.8,575.1 288.9,578 289,575.1 289.2,579.9 289.3,573.3 289.4,577.8 289.5,578.3 289.7,578.3 289.8,577.6 289.9,573.5 290,576.3 290.2,581.5 290.3,579.7 290.4,577.7 290.5,576.4 290.7,578.6 290.8,577.8 290.9,574.9 291,576 291.2,577.1 291.3,574.3 291.4,575.7 291.5,578.5 291.7,580.3 291.8,576.3 291.9,574.7 292.1,578.4 292.2,579.4 292.3,575.5 292.4,577.9 292.6,574.7 292.7,572.9 292.8,578.4 292.9,577.7 293.1,575.9 293.2,575.6 293.3,580.2 293.4,578.5 293.6,578.5 293.7,578 293.8,579.9 293.9,579.1 294.1,578.5 294.2,577.6 294.3,580.8 294.4,577 294.6,578.8 294.7,575.8 294.8,576.4 294.9,576.9 295.1,576.6 295.2,576 295.3,578.5 295.4,578.8 295.6,577.2 295.7,578.6 295.8,578.1 296,575.4 296.1,576.9 296.2,578.1 296.3,578.2 296.5,576.3 296.6,578.9 296.7,579 296.8,580.1 297,580.1 297.1,581.7 297.2,574.8 297.3,577.2 297.5,579.3 297.6,580.1 297.7,575.9 297.8,577.8 298,578.3 298.1,579.5 298.2,577.5 298.3,576.2 298.5,572.7 298.6,577.9 298.7,571.7 298.8,574.2 299,576.2 299.1,578.9 299.2,577.8 299.3,573.9 299.5,575.3 299.6,576.5 299.7,575.5 299.8,577 300,578.2 300.1,577.9 300.2,579.7 300.4,578.3 300.5,580.7 300.6,581.9 300.7,580.5 300.9,580.4 301,581.6 301.1,579.3 301.2,579.6 301.4,581.6 301.5,580.6 301.6,581.7 301.7,574.8 301.9,581.2 302,578 302.1,580.9 302.2,582.4 302.4,579 302.5,581.3 302.6,581.4 302.7,580.9 302.9,580.4 303,579 303.1,581.4 303.2,580.2 303.4,579.9 303.5,576.4 303.6,578 303.7,577.1 303.9,580.1 304,573.7 304.1,574.8 304.3,581.9 304.4,578.7 304.5,579 304.6,581.7 304.8,579.3 304.9,576.1 305,579.2 305.1,581 305.3,576.5 305.4,579.1 305.5,580.4 305.6,579.8 305.8,576.6 305.9,577.7 306,578.2 306.1,576.2 306.3,578.1 306.4,581.2 306.5,579.4 306.6,580.8 306.8,575.2 306.9,577.4 307,577.9 307.1,576.8 307.3,582.4 307.4,581.9 307.5,580.4 307.6,580.5 307.8,581 307.9,578.4 308,577.7 308.2,580.3 308.3,579.9 308.4,578.5 308.5,581.2 308.7,578.7 308.8,581.5 308.9,583.8 309,581.2 309.2,580.3 309.3,577.6 309.4,577.9 309.5,580.7 309.7,579.4 309.8,581.9 309.9,580.4 310,581.7 310.2,579.4 310.3,581.2 310.4,574.2 310.5,575.5 310.7,576.7 310.8,579.5 310.9,575.1 311,578.5 311.2,579.4 311.3,575.8 311.4,575.8 311.5,577.3 311.7,577.3 311.8,575 311.9,578.2 312.1,575.1 312.2,575.7 312.3,581.1 312.4,578 312.6,579.1 312.7,579.4 312.8,579.6 312.9,574.1 313.1,576.8 313.2,578.6 313.3,575.1 313.4,575.3 313.6,576.5 313.7,578.7 313.8,573 313.9,579 314.1,574.9 314.2,578.1 314.3,573.7 314.4,574.9 314.6,577.4 314.7,575.5 314.8,578.9 314.9,576 315.1,576.6 315.2,574.3 315.3,576.7 315.4,572.8 315.6,570.9 315.7,575.5 315.8,570.7 316,578.3 316.1,569.7 316.2,576.8 316.3,571.8 316.5,574.9 316.6,574.8 316.7,576.7 316.8,577.1 317,570.6 317.1,571.4 317.2,573.2 317.3,570.2 317.5,574.6 317.6,574.6 317.7,574.9 317.8,569.5 318,574 318.1,571.6 318.2,574.5 318.3,574.1 318.5,570.4 318.6,570.3 318.7,567.4 318.8,571.7 319,570.4 319.1,565.5 319.2,571.1 319.3,569.1 319.5,566.8 319.6,571.3 319.7,568 319.8,571.5 320,574 320.1,572.1 320.2,573.2 320.4,572.3 320.5,574.5 320.6,572.8 320.7,571.5 320.9,569.7 321,572.2 321.1,571.9 321.2,571 321.4,576.9 321.5,571.5 321.6,571.9 321.7,571 321.9,571.5 322,572.9 322.1,571 322.2,568.9 322.4,570.1 322.5,572.1 322.6,572.6 322.7,566.8 322.9,574.7 323,565 323.1,573.1 323.2,571.4 323.4,569.2 323.5,569.7 323.6,568.9 323.7,567.6 323.9,571.1 324,570.6 324.1,568.1 324.3,571.1 324.4,566.6 324.5,570.3 324.6,575.7 324.8,570.8 324.9,573.2 325,574.4 325.1,572.6 325.3,572.6 325.4,571 325.5,572.2 325.6,569.6 325.8,572.5 325.9,566.7 326,572.3 326.1,572.3 326.3,568.7 326.4,569.4 326.5,570.4 326.6,571 326.8,566.7 326.9,570.8 327,571.2 327.1,571.1 327.3,572.8 327.4,566 327.5,571.5 327.6,564.7 327.8,569.6 327.9,572.6 328,571.4 328.2,571.9 328.3,570 328.4,570.2 328.5,568.8 328.7,572.1 328.8,570.1 328.9,572.7 329,571.2 329.2,571.9 329.3,571.2 329.4,575.1 329.5,570 329.7,569.5 329.8,573.5 329.9,573.4 330,570.7 330.2,571.9 330.3,573.4 330.4,570.2 330.5,573.1 330.7,571.3 330.8,573.1 330.9,572.7 331,570.3 331.2,571.9 331.3,572.9 331.4,575.4 331.5,574.7 331.7,574.2 331.8,572.1 331.9,576.3 332.1,574.2 332.2,573.4 332.3,575 332.4,572.3 332.6,573.9 332.7,576.6 332.8,580.2 332.9,575.9 333.1,575.5 333.2,575.3 333.3,572.7 333.4,576.1 333.6,571.9 333.7,570.8 333.8,574.6 333.9,572.7 334.1,571.8 334.2,571.3 334.3,569.6 334.4,574.5 334.6,575.6 334.7,573 334.8,571.3 334.9,573.6 335.1,572.1 335.2,576.6 335.3,572.9 335.4,578.4 335.6,577.8 335.7,574.1 335.8,576.1 336,575.7 336.1,573 336.2,574.7 336.3,576.3 336.5,574.8 336.6,575 336.7,578.2 336.8,577.2 337,575.4 337.1,578.1 337.2,575.7 337.3,577.4 337.5,576 337.6,576.4 337.7,577 337.8,577.2 338,573.1 338.1,575.2 338.2,572.8 338.3,574.9 338.5,572.7 338.6,571.7 338.7,574.9 338.8,574.2 339,575.5 339.1,572.3 339.2,576.7 339.3,575.9 339.5,570.8 339.6,575.2 339.7,570.7 339.8,580 340,576.8 340.1,577.5 340.2,572.5 340.4,578.5 340.5,578 340.6,578.1 340.7,578 340.9,580 341,579.2 341.1,574.3 341.2,573.6 341.4,578.5 341.5,575.9 341.6,577 341.7,576 341.9,572.5 342,575.2 342.1,575.1 342.2,573.7 342.4,576.9 342.5,573 342.6,572.2 342.7,571.6 342.9,573.4 343,574.5 343.1,571.3 343.2,574.3 343.4,573.6 343.5,575.4 343.6,575 343.7,579.5 343.9,573.5 344,573.6 344.1,575 344.3,571.9 344.4,571.7 344.5,574.5 344.6,571.7 344.8,570.9 344.9,573.3 345,573.5 345.1,572.2 345.3,573.5 345.4,572.5 345.5,573.5 345.6,571 345.8,573.2 345.9,570.2 346,570 346.1,570 346.3,570.6 346.4,574.8 346.5,574.6 346.6,575.9 346.8,576.7 346.9,576.5 347,576.2 347.1,578.9 347.3,576 347.4,575.1 347.5,574.6 347.6,576.5 347.8,575.2 347.9,574.8 348,569.5 348.2,569.8 348.3,570.7 348.4,572.1 348.5,571.1 348.7,572.2 348.8,574.5 348.9,575.2 349,570.1 349.2,576.1 349.3,572.3 349.4,576.3 349.5,575.3 349.7,574.5 349.8,576.4 349.9,574.7 350,571.4 350.2,571.8 350.3,573.2 350.4,573.9 350.5,575.5 350.7,572 350.8,572.4 350.9,573.8 351,574.4 351.2,575 351.3,572.8 351.4,577.5 351.5,575.6 351.7,577.6 351.8,573.7 351.9,571.9 352.1,577.2 352.2,571.8 352.3,572.5 352.4,573.1 352.6,568.7 352.7,571.9 352.8,571.6 352.9,572 353.1,573.9 353.2,574.1 353.3,574.7 353.4,574.6 353.6,573.5 353.7,575.9 353.8,574.8 353.9,576.1 354.1,572.5 354.2,578.2 354.3,578.2 354.4,575.5 354.6,575.4 354.7,576.4 354.8,573.1 354.9,577.1 355.1,573.4 355.2,575.8 355.3,573.2 355.4,575.1 355.6,575.3 355.7,575.7 355.8,571.8 355.9,576.2 356.1,573.9 356.2,577.9 356.3,575.6 356.5,578.4 356.6,579.9 356.7,578.2 356.8,579.7 357,575.5 357.1,575.4 357.2,575 357.3,580.3 357.5,580.6 357.6,581.8 357.7,581 357.8,578 358,581.4 358.1,579.2 358.2,575.9 358.3,579.3 358.5,581.2 358.6,579 358.7,582.8 358.8,580.3 359,579.3 359.1,581 359.2,578.6 359.3,579.2 359.5,578 359.6,576.7 359.7,580.8 359.8,583.5 360,581 360.1,582.8 360.2,581.2 360.4,581.6 360.5,584.2 360.6,582.3 360.7,588.3 360.9,583.8 361,582.8 361.1,583.2 361.2,582.2 361.4,582.3 361.5,585.3 361.6,584.5 361.7,581.1 361.9,583.9 362,581 362.1,580.5 362.2,582.9 362.4,585.2 362.5,583.7 362.6,585.3 362.7,583.6 362.9,584.9 363,582.7 363.1,580.8 363.2,582.1 363.4,583.7 363.5,578.5 363.6,580.1 363.7,582 363.9,580.7 364,582 364.1,583.4 364.3,579.2 364.4,584.8 364.5,586.4 364.6,584.4 364.8,578.9 364.9,581.2 365,578 365.1,581.5 365.3,580.8 365.4,583.2 365.5,582.9 365.6,579.4 365.8,582.5 365.9,577.6 366,581.1 366.1,579.5 366.3,578.3 366.4,579.6 366.5,580.1 366.6,579.4 366.8,579.4 366.9,580.5 367,582.6 367.1,580.7 367.3,583.2 367.4,580.4 367.5,582.5 367.6,580 367.8,583.8 367.9,581.1 368,577.7 368.2,580.3 368.3,575 368.4,579.7 368.5,579.3 368.7,581.8 368.8,580.8 368.9,576.2 369,577.8 369.2,576.1 369.3,582.4 369.4,578.9 369.5,578 369.7,579 369.8,575.4 369.9,578.6 370,578.1 370.2,577.9 370.3,572.7 370.4,580.8 370.5,576.5 370.7,575.1 370.8,581.5 370.9,576.8 371,579.1 371.2,579.5 371.3,581 371.4,578.8 371.5,582.5 371.7,577.9 371.8,574.6 371.9,572.1 372.1,577.1 372.2,574.6 372.3,580.1 372.4,580.5 372.6,579.1 372.7,578.5 372.8,582.5 372.9,582 373.1,575.8 373.2,577.5 373.3,579.4 373.4,577.8 373.6,579.7 373.7,573.4 373.8,579.4 373.9,580.8 374.1,577.8 374.2,577 374.3,581 374.4,580.1 374.6,576.2 374.7,577.9 374.8,579.2 374.9,578.6 375.1,580.4 375.2,581 375.3,577.1 375.4,581.4 375.6,580.8 375.7,579.4 375.8,580.6 375.9,581.4 376.1,580.9 376.2,579.8 376.3,579.2 376.5,583 376.6,581.8 376.7,580.9 376.8,580.7 377,579.3 377.1,577.2 377.2,580.1 377.3,579.8 377.5,579.7 377.6,577.7 377.7,581.3 377.8,579.2 378,577.7 378.1,580.3 378.2,578.8 378.3,583.5 378.5,582.7 378.6,581 378.7,583.3 378.8,580.4 379,584.1 379.1,584.1 379.2,585.2 379.3,581.1 379.5,582.6 379.6,587 379.7,581.6 379.8,582.4 380,583.5 380.1,582.6 380.2,583.6 380.4,585.7 380.5,580 380.6,582.9 380.7,584.4 380.9,584.2 381,581.8 381.1,584 381.2,581.5 381.4,577.2 381.5,583.8 381.6,583.6 381.7,578.8 381.9,579.8 382,578.8 382.1,582.2 382.2,581 382.4,580.2 382.5,582.7 382.6,583.9 382.7,579.7 382.9,577.2 383,581.3 383.1,583.3 383.2,581 383.4,581.7 383.5,578 383.6,575.3 383.7,577.2 383.9,573.4 384,575.2 384.1,574 384.3,579.2 384.4,577.4 384.5,574.8 384.6,576.8 384.8,577.5 384.9,578.1 385,571.4 385.1,573.8 385.3,575.3 385.4,573 385.5,578.3 385.6,571.1 385.8,577 385.9,576.4 386,571.6 386.1,575.2 386.3,573.7 386.4,573.6 386.5,571.1 386.6,572.8 386.8,569.7 386.9,571.2 387,567.3 387.1,571 387.3,570.2 387.4,566.7 387.5,573.7 387.6,567.9 387.8,566.4 387.9,566.1 388,569.3 388.2,567.1 388.3,563.3 388.4,564.6 388.5,570 388.7,570.6 388.8,565.8 388.9,568.3 389,565.6 389.2,568.6 389.3,566.3 389.4,567.1 389.5,570.7 389.7,564.1 389.8,565 389.9,563.8 390,566.9 390.2,564 390.3,566.8 390.4,568.6 390.5,563.9 390.7,564.7 390.8,568.8 390.9,564 391,566 391.2,564.4 391.3,565 391.4,564.1 391.5,566.5 391.7,564.4 391.8,567.6 391.9,568.3 392.1,566.9 392.2,567 392.3,573.4 392.4,567.7 392.6,568.9 392.7,571 392.8,571.6 392.9,566.1 393.1,571.7 393.2,567.5 393.3,572.1 393.4,569.4 393.6,571.5 393.7,569.7 393.8,570.7 393.9,573.1 394.1,572.5 394.2,569.3 394.3,568.9 394.4,567.7 394.6,567.8 394.7,569.2 394.8,573.8 394.9,570.8 395.1,569.8 395.2,569.5 395.3,572.4 395.4,568.2 395.6,571.2 395.7,573.5 395.8,569.7 395.9,570.6 396.1,572.3 396.2,568.8 396.3,570.3 396.5,572.4 396.6,571.2 396.7,568.5 396.8,568.7 397,569 397.1,570.4 397.2,574.3 397.3,571.2 397.5,568.7 397.6,571.5 397.7,571 397.8,570.5 398,566.7 398.1,570.5 398.2,569.9 398.3,569.2 398.5,568.2 398.6,566.9 398.7,565.5 398.8,569.2 399,569.3 399.1,569.1 399.2,569.6 399.3,567.9 399.5,568.3 399.6,570.4 399.7,572.1 399.8,571.3 400,570 400.1,567.7 400.2,567.4 400.4,563.5 400.5,566.2 400.6,567.2 400.7,565.5 400.9,569.2 401,565.4 401.1,567.4 401.2,567.4 401.4,569 401.5,566.2 401.6,569.5 401.7,569.6 401.9,571.8 402,570.3 402.1,568 402.2,566.5 402.4,567.4 402.5,568 402.6,569.9 402.7,570.8 402.9,568.5 403,566.4 403.1,570 403.2,566.1 403.4,569.8 403.5,567.8 403.6,566.9 403.7,570 403.9,567.8 404,568.3 404.1,563.7 404.3,566.4 404.4,569.4 404.5,567 404.6,566.3 404.8,569.5 404.9,565.4 405,569.3 405.1,565.6 405.3,569.7 405.4,568.6 405.5,566.2 405.6,566.4 405.8,565.7 405.9,572.1 406,570.6 406.1,570.7 406.3,568.4 406.4,573.5 406.5,569.5 406.6,567.2 406.8,573 406.9,569.9 407,567.8 407.1,570.6 407.3,569.4 407.4,573.3 407.5,570.2 407.6,576.2 407.8,571.9 407.9,575.1 408,574.3 408.2,571.7 408.3,569.1 408.4,572.1 408.5,576.9 408.7,567.5 408.8,573 408.9,569.7 409,571.5 409.2,567.5 409.3,568.8 409.4,570.4 409.5,570.2 409.7,569.4 409.8,567.6 409.9,564.9 410,571.4 410.2,568 410.3,566.6 410.4,568.1 410.5,566.2 410.7,568 410.8,567.4 410.9,573.4 411,569 411.2,568.8 411.3,564.1 411.4,571.7 411.5,568.5 411.7,566.5 411.8,566.3 411.9,565.2 412.1,569.8 412.2,569.7 412.3,569.2 412.4,568.2 412.6,568.2 412.7,564.2 412.8,569.7 412.9,567.2 413.1,571.9 413.2,570 413.3,572.3 413.4,571.4 413.6,569.2 413.7,569 413.8,570 413.9,569.6 414.1,570.3 414.2,568.3 414.3,567.9 414.4,572.1 414.6,574 414.7,571.1 414.8,572.7 414.9,570 415.1,571.4 415.2,573.6 415.3,570.9 415.4,569.4 415.6,570 415.7,569.8 415.8,572.1 415.9,569.1 416.1,568.1 416.2,575.4 416.3,573.4 416.5,568.4 416.6,573.9 416.7,570.1 416.8,572.2 417,574.8 417.1,568.1 417.2,574 417.3,572.6 417.5,571.5 417.6,570.9 417.7,571.3 417.8,572.6 418,569.8 418.1,565.6 418.2,569.4 418.3,569.6 418.5,574 418.6,571.5 418.7,574 418.8,573.8 419,573.1 419.1,570.1 419.2,571.1 419.3,569.1 419.5,568 419.6,573.8 419.7,572.8 419.8,571.2 420,568.4 420.1,572 420.2,574.7 420.4,569.8 420.5,570.6 420.6,567.6 420.7,568.1 420.9,570.6 421,572.7 421.1,571.1 421.2,570.8 421.4,569.4 421.5,569 421.6,571.4 421.7,571 421.9,575.6 422,570.3 422.1,569.9 422.2,568.6 422.4,570.6 422.5,569.2 422.6,570.2 422.7,570.7 422.9,570.4 423,570.7 423.1,571.9 423.2,572.1 423.4,571.6 423.5,573.1 423.6,574.9 423.7,573.4 423.9,573.1 424,573.5 424.1,573.1 424.3,568.6 424.4,574.6 424.5,572.4 424.6,574.2 424.8,571.9 424.9,568.2 425,571.1 425.1,571.7 425.3,571 425.4,571.2 425.5,570.4 425.6,570.2 425.8,568.8 425.9,572.6 426,570.6 426.1,573.8 426.3,569.2 426.4,569.6 426.5,568.4 426.6,567.6 426.8,566.5 426.9,566.9 427,567.8 427.1,568.8 427.3,569.4 427.4,569.5 427.5,565.7 427.6,565.2 427.8,571.9 427.9,574.5 428,573.7 428.2,576.5 428.3,574.6 428.4,570.5 428.5,573.8 428.7,571.9 428.8,571.1 428.9,568.4 429,572.8 429.2,572.3 429.3,570.1 429.4,568.1 429.5,568.9 429.7,574.7 429.8,570.6 429.9,570.7 430,571.9 430.2,570.6 430.3,568.8 430.4,571.8 430.5,572.2 430.7,568 430.8,572.9 430.9,572.8 431,573 431.2,576.1 431.3,569.1 431.4,573.9 431.5,569 431.7,571.9 431.8,572.8 431.9,571.6 432.1,569.7 432.2,573.6 432.3,570.3 432.4,573.8 432.6,571.3 432.7,574.8 432.8,570.2 432.9,572.8 433.1,573.1 433.2,575.5 433.3,573.9 433.4,575.1 433.6,575.9 433.7,576.3 433.8,574 433.9,575.8 434.1,574.8 434.2,576.2 434.3,574.4 434.4,574 434.6,578.4 434.7,577.4 434.8,578.6 434.9,574.1 435.1,576.8 435.2,572.8 435.3,577.3 435.4,576.6 435.6,574.2 435.7,575.8 435.8,573.3 435.9,577 436.1,575.4 436.2,571.4 436.3,575.3 436.5,573.7 436.6,575.7 436.7,577.6 436.8,574.2 437,575.9 437.1,577.5 437.2,577 437.3,579.8 437.5,576.9 437.6,581.8 437.7,580.4 437.8,580 438,579.4 438.1,577.8 438.2,578.1 438.3,573.6 438.5,576.5 438.6,581.3 438.7,580.9 438.8,582.8 439,581.5 439.1,577.4 439.2,576.7 439.3,579.1 439.5,575.2 439.6,577.9 439.7,578.1 439.8,579.5 440,577.6 440.1,577.2 440.2,575.6 440.4,580 440.5,578 440.6,578 440.7,571.1 440.9,574.6 441,575 441.1,571 441.2,573.8 441.4,572.1 441.5,577.7 441.6,580.1 441.7,575.4 441.9,576.2 442,580.6 442.1,574 442.2,575.2 442.4,579 442.5,579.7 442.6,576.3 442.7,577.3 442.9,573 443,571.7 443.1,573.2 443.2,576.4 443.4,574.2 443.5,572.8 443.6,576.5 443.7,571.9 443.9,577.2 444,577.5" fill="none" stroke="#0000ff" stroke-width="0.6"/>
<text x="226" y="554.1" font-size="13.4" font-weight="bold" fill="#000" stroke="#000" stroke-width="0.5">h</text>
<line x1="493.2" y1="553.2" x2="493.2" y2="683.5" stroke="#6d6e71" stroke-width="0.8"/>
<line x1="493.2" y1="683.5" x2="669.6" y2="683.5" stroke="#6d6e71" stroke-width="0.8"/>
<line x1="493.2" y1="553.2" x2="669.6" y2="553.2" stroke="#6d6e71" stroke-width="0.8"/>
<line x1="669.6" y1="553.2" x2="669.6" y2="683.5" stroke="#6d6e71" stroke-width="0.8"/>
<line x1="489.8" y1="566.9" x2="493.2" y2="566.9" stroke="#6d6e71" stroke-width="0.8"/>
<text x="485.9" y="570.3" font-size="8.1" fill="#1a1a1a" text-anchor="end">4.5</text>
<line x1="489.8" y1="606.7" x2="493.2" y2="606.7" stroke="#6d6e71" stroke-width="0.8"/>
<text x="485.9" y="610.1" font-size="8.1" fill="#1a1a1a" text-anchor="end">3.0</text>
<line x1="489.8" y1="646.5" x2="493.2" y2="646.5" stroke="#6d6e71" stroke-width="0.8"/>
<text x="485.9" y="649.9" font-size="8.1" fill="#1a1a1a" text-anchor="end">1.5</text>
<line x1="489.8" y1="665.4" x2="493.2" y2="665.4" stroke="#6d6e71" stroke-width="0.8"/>
<text x="485.9" y="668.8" font-size="8.1" fill="#1a1a1a" text-anchor="end">0.5</text>
<line x1="489.8" y1="683.5" x2="493.2" y2="683.5" stroke="#6d6e71" stroke-width="0.8"/>
<text x="485.9" y="686.9" font-size="8.1" fill="#1a1a1a" text-anchor="end">0</text>
<line x1="493.2" y1="683.5" x2="493.2" y2="686.5" stroke="#6d6e71" stroke-width="0.8"/>
<text x="493.2" y="696.6" font-size="8.1" fill="#1a1a1a" text-anchor="middle">0</text>
<line x1="537.3" y1="683.5" x2="537.3" y2="686.5" stroke="#6d6e71" stroke-width="0.8"/>
<text x="537.3" y="696.6" font-size="8.1" fill="#1a1a1a" text-anchor="middle">5,000</text>
<line x1="581.4" y1="683.5" x2="581.4" y2="686.5" stroke="#6d6e71" stroke-width="0.8"/>
<text x="581.4" y="696.6" font-size="8.1" fill="#1a1a1a" text-anchor="middle">10,000</text>
<line x1="625.5" y1="683.5" x2="625.5" y2="686.5" stroke="#6d6e71" stroke-width="0.8"/>
<text x="625.5" y="696.6" font-size="8.1" fill="#1a1a1a" text-anchor="middle">15,000</text>
<line x1="669.6" y1="683.5" x2="669.6" y2="686.5" stroke="#6d6e71" stroke-width="0.8"/>
<text x="669.6" y="696.6" font-size="8.1" fill="#1a1a1a" text-anchor="middle">20,000</text>
<text x="581.4" y="709.3" font-size="9.5" fill="#231f20" text-anchor="middle">Simulation time (ps)</text>
<text x="467.3" y="618.4" font-size="8.8" fill="#231f20" text-anchor="middle" transform="rotate(-90 467.3 618.4)">RMSD (nm)</text>
<polyline points="493.2,683.5 493.2,660 493.6,636.7 493.7,634.8 493.9,634 494,635.7 494.1,635.8 494.3,635.6 494.4,635.2 494.5,634.6 494.7,629.3 494.8,630.5 495,631.3 495.1,630.4 495.2,632.2 495.4,633.7 495.5,633 495.6,628.9 495.8,629.5 495.9,630.4 496,627.7 496.2,630.8 496.3,628.3 496.4,625.5 496.6,630 496.7,625.5 496.8,624.5 497,626 497.1,626.4 497.2,627.1 497.4,627.1 497.5,624.3 497.7,625.8 497.8,624.2 497.9,624.6 498.1,622.9 498.2,625.5 498.3,627.1 498.5,620.2 498.6,623.5 498.7,625.5 498.9,624.8 499,625.4 499.1,626.7 499.3,626.8 499.4,626.6 499.5,625.9 499.7,622.3 499.8,620.8 500,625.3 500.1,625.2 500.2,622.6 500.4,624 500.5,624.8 500.6,621.6 500.8,623 500.9,623.9 501,622.8 501.2,622.4 501.3,622.2 501.4,622.2 501.6,622.8 501.7,625.5 501.8,626.8 502,625.9 502.1,626.7 502.2,626.1 502.4,626.1 502.5,627.6 502.7,628.7 502.8,627.1 502.9,629.2 503.1,628 503.2,624.3 503.3,628.1 503.5,628.3 503.6,628.7 503.7,626.9 503.9,630.1 504,628.8 504.1,628.6 504.3,625.9 504.4,625.5 504.5,629.1 504.7,630.7 504.8,626.4 505,627.9 505.1,623.2 505.2,626.2 505.4,626.6 505.5,631.3 505.6,629.5 505.8,630 505.9,632.2 506,629.9 506.2,630.4 506.3,632.1 506.4,633.3 506.6,632.8 506.7,627.5 506.8,628.4 507,626.4 507.1,630.7 507.3,628.5 507.4,627.6 507.5,632.3 507.7,631.1 507.8,628.4 507.9,629.2 508.1,625.4 508.2,627 508.3,625.4 508.5,630 508.6,627.8 508.7,628.7 508.9,626.8 509,626.8 509.1,624.4 509.3,624.7 509.4,622.2 509.5,624.4 509.7,625 509.8,624.2 510,625.9 510.1,623.9 510.2,618.8 510.4,620.8 510.5,618 510.6,617.8 510.8,617.7 510.9,618.7 511,620.6 511.2,616.4 511.3,619.8 511.4,615.6 511.6,618.6 511.7,618.5 511.8,615.1 512,614.7 512.1,615.6 512.3,614.6 512.4,614.6 512.5,614.7 512.7,613.1 512.8,609 512.9,612.6 513.1,610.2 513.2,611.4 513.3,614.3 513.5,614.3 513.6,616 513.7,611.7 513.9,618.2 514,614.9 514.1,614.1 514.3,621.5 514.4,617.7 514.5,617.6 514.7,619.6 514.8,617 515,618.6 515.1,616.7 515.2,615.5 515.4,616.9 515.5,614.5 515.6,619.7 515.8,613.6 515.9,619 516,619.9 516.2,619.7 516.3,618.8 516.4,615.9 516.6,620.9 516.7,615.4 516.8,616.8 517,614.4 517.1,619.2 517.3,614 517.4,619 517.5,619.8 517.7,617.9 517.8,614.3 517.9,616.2 518.1,614.4 518.2,615.5 518.3,615.6 518.5,616.2 518.6,613.3 518.7,614.1 518.9,614.2 519,614.2 519.1,611.5 519.3,615.7 519.4,613.8 519.5,612.7 519.7,612.9 519.8,613.3 520,606.8 520.1,613.3 520.2,608.1 520.4,610.8 520.5,610.7 520.6,612.8 520.8,612.6 520.9,614.5 521,611.6 521.2,614.5 521.3,614.7 521.4,614.8 521.6,617.2 521.7,613.3 521.8,618 522,614.6 522.1,613.7 522.3,612.9 522.4,614.6 522.5,613.1 522.7,614.4 522.8,613.4 522.9,614 523.1,610.8 523.2,609.2 523.3,607.8 523.5,611.5 523.6,610.7 523.7,608.1 523.9,612.6 524,610.8 524.1,608.8 524.3,613.8 524.4,610.4 524.6,607.8 524.7,607.5 524.8,606.3 525,609.1 525.1,610.2 525.2,612 525.4,608 525.5,606.2 525.6,607.9 525.8,605.5 525.9,607.1 526,606.4 526.2,605.6 526.3,608 526.4,606.1 526.6,602.4 526.7,606.3 526.8,605.5 527,602.9 527.1,604.6 527.3,606.5 527.4,604 527.5,605.2 527.7,606.4 527.8,603 527.9,603.9 528.1,604.4 528.2,604.6 528.3,604.4 528.5,606.5 528.6,608.1 528.7,604.7 528.9,608.6 529,612.7 529.1,611.1 529.3,611.1 529.4,609.5 529.6,608.3 529.7,609.2 529.8,614.6 530,610.7 530.1,611.5 530.2,611.1 530.4,612.3 530.5,613.4 530.6,611.6 530.8,610.9 530.9,611.3 531,612 531.2,613.4 531.3,612.9 531.4,613.7 531.6,612.6 531.7,615 531.8,616.4 532,613.7 532.1,611.7 532.3,613.5 532.4,609.4 532.5,607.5 532.7,610.4 532.8,610.6 532.9,609.2 533.1,608.6 533.2,611.5 533.3,610.9 533.5,610.9 533.6,612.9 533.7,610.7 533.9,609.3 534,609.3 534.1,611.1 534.3,614.2 534.4,610.2 534.6,609.1 534.7,612.1 534.8,612.6 535,612.3 535.1,613 535.2,608.8 535.4,608.6 535.5,610.8 535.6,610.4 535.8,610.6 535.9,610.4 536,609.5 536.2,609.2 536.3,611.4 536.4,610.7 536.6,610.2 536.7,611 536.8,613 537,611.9 537.1,613 537.3,614.1 537.4,609.4 537.5,612.7 537.7,613.8 537.8,611.7 537.9,612.2 538.1,610 538.2,612 538.3,613.5 538.5,616.8 538.6,611.4 538.7,613.6 538.9,609.6 539,611.9 539.1,609.9 539.3,610.4 539.4,609.2 539.6,610.7 539.7,609.1 539.8,608.8 540,611.1 540.1,610 540.2,610.5 540.4,608.8 540.5,608.6 540.6,603.5 540.8,607.2 540.9,607.6 541,604.7 541.2,603.3 541.3,605.2 541.4,605.4 541.6,604.6 541.7,608.5 541.8,608.9 542,604.2 542.1,605.9 542.3,599.5 542.4,604.7 542.5,608.1 542.7,604 542.8,604.6 542.9,602.8 543.1,598.4 543.2,603.9 543.3,608.5 543.5,604 543.6,602.2 543.7,603.9 543.9,602.6 544,603.6 544.1,602.2 544.3,602.8 544.4,604.7 544.6,601 544.7,604.1 544.8,605.1 545,604.2 545.1,602.7 545.2,603.5 545.4,601.6 545.5,602.6 545.6,602.5 545.8,599.6 545.9,604.2 546,603.5 546.2,606.8 546.3,605.2 546.4,605.3 546.6,605 546.7,606.2 546.9,608.3 547,606.9 547.1,608.3 547.3,607.4 547.4,606.5 547.5,604.7 547.7,605.2 547.8,606.3 547.9,608.4 548.1,606.3 548.2,610 548.3,608 548.5,608.7 548.6,611.5 548.7,605.5 548.9,609.5 549,610.5 549.1,607.2 549.3,610.7 549.4,606.3 549.6,604.7 549.7,607 549.8,606.9 550,606.7 550.1,606.2 550.2,608.7 550.4,611.2 550.5,607 550.6,609.1 550.8,605.5 550.9,603.8 551,606.5 551.2,605.9 551.3,603.3 551.4,607.6 551.6,608.4 551.7,608.3 551.9,608.6 552,608.4 552.1,612.6 552.3,609.7 552.4,607.7 552.5,610.8 552.7,610.4 552.8,611.8 552.9,608.2 553.1,609.9 553.2,608.6 553.3,610.5 553.5,607.6 553.6,610.3 553.7,610.6 553.9,608.5 554,612 554.1,610 554.3,612.6 554.4,610.5 554.6,609.5 554.7,605.6 554.8,610.3 555,607.7 555.1,610 555.2,609.4 555.4,608.1 555.5,605.4 555.6,605.8 555.8,601.2 555.9,605.7 556,604.8 556.2,604.3 556.3,600.5 556.4,602.5 556.6,597.2 556.7,601.8 556.9,600.7 557,601.5 557.1,600.7 557.3,600.2 557.4,600.1 557.5,599.2 557.7,600.4 557.8,597.1 557.9,599.3 558.1,596 558.2,596.9 558.3,591.5 558.5,596 558.6,594.3 558.7,593.5 558.9,591.6 559,590.7 559.1,591.4 559.3,590 559.4,588.3 559.6,588.6 559.7,587.3 559.8,583.9 560,586.2 560.1,585.3 560.2,586.6 560.4,586.4 560.5,584.6 560.6,583.4 560.8,580.4 560.9,582.5 561,581.3 561.2,581 561.3,577.9 561.4,578.4 561.6,586.2 561.7,580.1 561.9,580.1 562,577.4 562.1,582.7 562.3,581.3 562.4,582.1 562.5,582.4 562.7,581.7 562.8,583.5 562.9,581.8 563.1,582.8 563.2,587.1 563.3,580 563.5,586.8 563.6,586.4 563.7,583.5 563.9,584 564,582.7 564.2,589.7 564.3,584.8 564.4,585.1 564.6,587.4 564.7,589 564.8,586.9 565,586.2 565.1,586 565.2,582.2 565.4,584 565.5,585.7 565.6,586.6 565.8,584.9 565.9,584.6 566,586.6 566.2,585.7 566.3,587 566.4,588.9 566.6,590.5 566.7,587.5 566.9,586.5 567,592.3 567.1,590.5 567.3,592 567.4,589.5 567.5,592.1 567.7,592.7 567.8,591.4 567.9,590.2 568.1,591.8 568.2,596.7 568.3,594.6 568.5,594.3 568.6,595.9 568.7,596 568.9,595.8 569,598.7 569.2,595.3 569.3,594.6 569.4,596.7 569.6,598 569.7,594.5 569.8,598.7 570,596.5 570.1,596.5 570.2,599.1 570.4,598.8 570.5,600.1 570.6,594.1 570.8,595.8 570.9,595.9 571,594.7 571.2,598.7 571.3,596.2 571.4,596 571.6,597.1 571.7,591.3 571.9,593.6 572,594.2 572.1,598.7 572.3,591.9 572.4,588.4 572.5,591.5 572.7,587.1 572.8,590.2 572.9,587.9 573.1,591 573.2,591.9 573.3,590.4 573.5,593.6 573.6,591.5 573.7,590.7 573.9,587.7 574,586.7 574.2,590.9 574.3,591.2 574.4,586 574.6,591.7 574.7,589.4 574.8,592.1 575,591.4 575.1,589 575.2,587.9 575.4,588.5 575.5,590.1 575.6,588.3 575.8,590.5 575.9,589.4 576,591.4 576.2,589.2 576.3,588.4 576.4,587.3 576.6,590 576.7,589.4 576.9,589.6 577,586.5 577.1,586.3 577.3,586 577.4,587.3 577.5,582.6 577.7,588 577.8,586.6 577.9,588.5 578.1,588.3 578.2,589.6 578.3,586.5 578.5,583.1 578.6,587.3 578.7,588.2 578.9,583.3 579,584.3 579.2,585.8 579.3,584.7 579.4,585.1 579.6,586.8 579.7,585.1 579.8,587.6 580,587.2 580.1,583.6 580.2,581.9 580.4,585.3 580.5,587.8 580.6,582.2 580.8,586.7 580.9,583.1 581,587.3 581.2,585.6 581.3,588 581.5,583.2 581.6,587.4 581.7,588.1 581.9,586.1 582,587 582.1,586.9 582.3,591.4 582.4,590.3 582.5,590.1 582.7,588.3 582.8,592.6 582.9,591.2 583.1,590.4 583.2,590.7 583.3,586.6 583.5,586.5 583.6,590.3 583.7,589 583.9,587.2 584,585.8 584.2,587.2 584.3,583 584.4,584.2 584.6,585.5 584.7,585.6 584.8,589 585,588.5 585.1,585.2 585.2,586.5 585.4,587.7 585.5,585.2 585.6,582.3 585.8,588.7 585.9,585 586,585.1 586.2,586.4 586.3,589.3 586.5,586.9 586.6,589.8 586.7,586.6 586.9,586.1 587,585 587.1,587.6 587.3,588.4 587.4,586.8 587.5,590.2 587.7,587.1 587.8,588.3 587.9,587.6 588.1,587.8 588.2,587.3 588.3,589.3 588.5,586.7 588.6,590.8 588.7,588.1 588.9,590.4 589,586.4 589.2,588.1 589.3,592.3 589.4,589.3 589.6,585.1 589.7,587.6 589.8,586.7 590,586 590.1,586.7 590.2,588.3 590.4,587.5 590.5,588.3 590.6,589.3 590.8,589.6 590.9,587.9 591,585.2 591.2,586.5 591.3,590.3 591.5,588.5 591.6,593.4 591.7,590.4 591.9,592.5 592,590.5 592.1,592.2 592.3,594.4 592.4,591.8 592.5,590.1 592.7,595.5 592.8,589.4 592.9,587.3 593.1,587.6 593.2,593.6 593.3,589.3 593.5,589.9 593.6,587.7 593.7,589.3 593.9,588.4 594,588.4 594.2,587.7 594.3,585.6 594.4,588.4 594.6,588 594.7,584.4 594.8,588.3 595,587.5 595.1,585.5 595.2,589.2 595.4,584.8 595.5,591.9 595.6,587.1 595.8,587.6 595.9,585.7 596,590.5 596.2,589 596.3,586.3 596.5,589.2 596.6,588.2 596.7,586.7 596.9,587.2 597,588.6 597.1,586.9 597.3,584.4 597.4,588.5 597.5,589.6 597.7,585 597.8,589.6 597.9,588.7 598.1,591.6 598.2,592.1 598.3,592.1 598.5,590.3 598.6,592.7 598.7,591.9 598.9,591.3 599,592.4 599.2,591.8 599.3,593 599.4,594.6 599.6,591 599.7,593.3 599.8,592.8 600,594.7 600.1,596.9 600.2,596.9 600.4,591.4 600.5,596.5 600.6,596.6 600.8,594.9 600.9,597 601,599 601.2,595.3 601.3,598.4 601.5,598.9 601.6,597.4 601.7,598.9 601.9,600.1 602,604.6 602.1,604.6 602.3,603.1 602.4,601.5 602.5,601.6 602.7,604.8 602.8,600.2 602.9,602.7 603.1,600.7 603.2,602 603.3,605.5 603.5,600.9 603.6,602.2 603.8,601.3 603.9,603.8 604,604.7 604.2,601.3 604.3,602.1 604.4,600.2 604.6,602.3 604.7,601 604.8,597.2 605,599.4 605.1,597.6 605.2,597.4 605.4,601.4 605.5,596.1 605.6,600.5 605.8,599.2 605.9,598.1 606,598.9 606.2,598.3 606.3,593 606.5,594.1 606.6,596 606.7,596.2 606.9,592.5 607,597.9 607.1,594.3 607.3,596.1 607.4,594.9 607.5,593.1 607.7,596.8 607.8,593.8 607.9,597.8 608.1,595 608.2,593 608.3,594.3 608.5,596.9 608.6,592.4 608.8,596.9 608.9,594.1 609,592 609.2,593.1 609.3,593.7 609.4,594.6 609.6,596.4 609.7,595 609.8,593.7 610,593.1 610.1,593.3 610.2,595.6 610.4,593.1 610.5,592.5 610.6,593.1 610.8,596.4 610.9,594.1 611,594.3 611.2,593 611.3,594.7 611.5,592.2 611.6,596.3 611.7,596.6 611.9,595.8 612,592.6 612.1,592.9 612.3,591.7 612.4,590.3 612.5,595.5 612.7,594.6 612.8,587.8 612.9,589.1 613.1,590.5 613.2,591.2 613.3,592.7 613.5,593.6 613.6,591 613.8,592.5 613.9,590.4 614,587.5 614.2,591.9 614.3,587.7 614.4,590.3 614.6,589.1 614.7,592.4 614.8,592.5 615,591.5 615.1,592.6 615.2,591.6 615.4,590.9 615.5,594.7 615.6,598.2 615.8,592.8 615.9,597.4 616,599.6 616.2,595.9 616.3,597.6 616.5,595.7 616.6,596.5 616.7,597.8 616.9,594.9 617,600.7 617.1,599.6 617.3,599.4 617.4,597.3 617.5,600.7 617.7,601.7 617.8,603 617.9,602.6 618.1,599.9 618.2,600.4 618.3,601.3 618.5,602.6 618.6,600.4 618.8,601.8 618.9,600.8 619,599.6 619.2,601.1 619.3,599.9 619.4,601.5 619.6,600 619.7,603.8 619.8,601.9 620,601.7 620.1,605.3 620.2,601.5 620.4,603.2 620.5,600.9 620.6,603.3 620.8,599.6 620.9,599.8 621.1,602.6 621.2,600.4 621.3,601.6 621.5,601.1 621.6,600.6 621.7,603.4 621.9,603.2 622,603.7 622.1,608.2 622.3,605.7 622.4,606 622.5,605.4 622.7,605.2 622.8,607.3 622.9,603 623.1,608.1 623.2,606.8 623.3,607.7 623.5,606.7 623.6,606.2 623.8,606.2 623.9,606.6 624,607.8 624.2,610.3 624.3,607.7 624.4,606.4 624.6,608.8 624.7,606.8 624.8,607 625,606.7 625.1,609 625.2,607.5 625.4,607.8 625.5,606.8 625.6,602.8 625.8,606.8 625.9,603.7 626.1,601.6 626.2,605.4 626.3,602.7 626.5,605.2 626.6,601.1 626.7,603.9 626.9,602.1 627,597.1 627.1,598 627.3,602.3 627.4,602 627.5,604.4 627.7,600.6 627.8,601 627.9,600.8 628.1,600.3 628.2,600.5 628.3,600.7 628.5,598.5 628.6,601.1 628.8,599.5 628.9,598.7 629,596.9 629.2,596.3 629.3,596 629.4,596.2 629.6,598.4 629.7,598.2 629.8,596.7 630,598.7 630.1,595.9 630.2,596.8 630.4,597.3 630.5,596.5 630.6,596.9 630.8,594.1 630.9,593.7 631.1,597.4 631.2,594.2 631.3,591.6 631.5,593.6 631.6,594.4 631.7,593 631.9,592.1 632,591.2 632.1,590.5 632.3,595.4 632.4,592.8 632.5,590.6 632.7,589.1 632.8,591.6 632.9,590.6 633.1,590.6 633.2,590.4 633.3,592.8 633.5,593 633.6,587.8 633.8,588.7 633.9,587.9 634,588.9 634.2,588.7 634.3,591.3 634.4,591.8 634.6,589.8 634.7,590.4 634.8,589.1 635,587.1 635.1,589.1 635.2,590.2 635.4,588.4 635.5,590.8 635.6,590.3 635.8,586.8 635.9,589.5 636.1,591.5 636.2,592.8 636.3,590.7 636.5,591.2 636.6,590.2 636.7,593.3 636.9,593.9 637,592.8 637.1,591 637.3,591.5 637.4,588.7 637.5,589.1 637.7,587.6 637.8,590.3 637.9,590.9 638.1,585.5 638.2,589 638.3,588.7 638.5,584.6 638.6,586.8 638.8,587.2 638.9,587.1 639,585.3 639.2,587.7 639.3,587.4 639.4,587.4 639.6,586.8 639.7,584.6 639.8,588.6 640,591 640.1,588.6 640.2,589.8 640.4,586.3 640.5,590.7 640.6,585.9 640.8,586.7 640.9,587.2 641.1,585.4 641.2,584 641.3,584.9 641.5,585.2 641.6,587.8 641.7,582 641.9,582.1 642,584.3 642.1,583.3 642.3,585.4 642.4,583.3 642.5,581.2 642.7,583.8 642.8,582.8 642.9,582.9 643.1,586.3 643.2,588.9 643.4,585.6 643.5,586.5 643.6,589 643.8,584.2 643.9,586.5 644,586.5 644.2,586.2 644.3,590.5 644.4,586.4 644.6,583.8 644.7,585.1 644.8,587.1 645,584.5 645.1,588.5 645.2,584.3 645.4,585.3 645.5,584.9 645.6,584.5 645.8,584.1 645.9,583.5 646.1,584 646.2,586.9 646.3,585.4 646.5,585.9 646.6,585 646.7,582.8 646.9,587 647,585.9 647.1,584.4 647.3,584.8 647.4,582.8 647.5,585.1 647.7,584.6 647.8,586.1 647.9,581.5 648.1,581.4 648.2,579.7 648.4,580.4 648.5,582.3 648.6,580.1 648.8,580.4 648.9,579.9 649,582.8 649.2,580.7 649.3,577.9 649.4,579.3 649.6,583.1 649.7,582.5 649.8,582.9 650,583 650.1,582.5 650.2,583.4 650.4,585.5 650.5,585.6 650.6,583.9 650.8,584.6 650.9,588.6 651.1,589.5 651.2,587.5 651.3,589.5 651.5,587.1 651.6,587.7 651.7,588.2 651.9,593 652,588 652.1,591.3 652.3,592.6 652.4,593.2 652.5,592.9 652.7,591.7 652.8,591.4 652.9,592.1 653.1,593.6 653.2,592.9 653.4,591.3 653.5,594.5 653.6,593.1 653.8,596 653.9,598.8 654,601 654.2,596.8 654.3,595.8 654.4,594.4 654.6,598.4 654.7,598 654.8,598.7 655,596.6 655.1,598 655.2,601.5 655.4,600.8 655.5,600 655.6,600.1 655.8,597.5 655.9,602.7 656.1,601.3 656.2,601.1 656.3,602.9 656.5,602.6 656.6,603 656.7,599.6 656.9,603.6 657,601.6 657.1,602.2 657.3,605.9 657.4,605.2 657.5,605.3 657.7,600.5 657.8,604 657.9,600 658.1,598 658.2,602.5 658.4,602.1 658.5,602.2 658.6,604.4 658.8,601.7 658.9,602.7 659,601.4 659.2,600.8 659.3,601.7 659.4,604 659.6,603.1 659.7,605 659.8,603.4 660,602.6 660.1,602.1 660.2,598.9 660.4,600.2 660.5,602 660.7,602.6 660.8,601 660.9,604.6 661.1,599.8 661.2,605.9 661.3,601 661.5,603.8 661.6,601.5 661.7,603.4 661.9,602.9 662,600.8 662.1,598.2 662.3,597.1 662.4,598.5 662.5,599.7 662.7,601 662.8,599 662.9,598 663.1,598.5 663.2,597.2 663.4,596.7 663.5,596 663.6,594 663.8,595 663.9,598.8 664,595.2 664.2,596.3 664.3,591.2 664.4,593.7 664.6,595.7 664.7,592.6 664.8,593.9 665,594.4 665.1,593.6 665.2,591.9 665.4,595.5 665.5,595.3 665.7,592.9 665.8,596.5 665.9,594.4 666.1,593.1 666.2,596 666.3,593.5 666.5,591 666.6,594.7 666.7,594 666.9,592.4 667,589.8 667.1,591.4 667.3,589.9 667.4,594.3 667.5,592.6 667.7,590.7 667.8,589.9 667.9,591.9 668.1,591.5 668.2,589.3 668.4,589.6 668.5,588.9 668.6,585.6 668.8,585.6 668.9,587.4 669,590.4 669.2,588.5 669.3,588" fill="none" stroke="#0000ff" stroke-width="0.6"/>
<line x1="491.4" y1="663.5" x2="495" y2="661" stroke="#6d6e71" stroke-width="0.6"/>
<line x1="491.4" y1="667" x2="495" y2="664.5" stroke="#6d6e71" stroke-width="0.6"/>
<text x="460.9" y="554.4" font-size="13.4" font-weight="bold" fill="#000" stroke="#000" stroke-width="0.5">i</text>
<line x1="33.3" y1="732.6" x2="33.3" y2="861.9" stroke="#6d6e71" stroke-width="0.8"/>
<line x1="33.3" y1="861.9" x2="210.2" y2="861.9" stroke="#6d6e71" stroke-width="0.8"/>
<line x1="33.3" y1="732.6" x2="210.2" y2="732.6" stroke="#6d6e71" stroke-width="0.8"/>
<line x1="210.2" y1="732.6" x2="210.2" y2="861.9" stroke="#6d6e71" stroke-width="0.8"/>
<line x1="29.9" y1="732.6" x2="33.3" y2="732.6" stroke="#6d6e71" stroke-width="0.8"/>
<text x="26" y="736" font-size="8.1" fill="#1a1a1a" text-anchor="end">0.8</text>
<line x1="29.9" y1="764.9" x2="33.3" y2="764.9" stroke="#6d6e71" stroke-width="0.8"/>
<text x="26" y="768.3" font-size="8.1" fill="#1a1a1a" text-anchor="end">0.6</text>
<line x1="29.9" y1="797.2" x2="33.3" y2="797.2" stroke="#6d6e71" stroke-width="0.8"/>
<text x="26" y="800.7" font-size="8.1" fill="#1a1a1a" text-anchor="end">0.4</text>
<line x1="29.9" y1="829.6" x2="33.3" y2="829.6" stroke="#6d6e71" stroke-width="0.8"/>
<text x="26" y="833" font-size="8.1" fill="#1a1a1a" text-anchor="end">0.2</text>
<line x1="29.9" y1="861.9" x2="33.3" y2="861.9" stroke="#6d6e71" stroke-width="0.8"/>
<text x="26" y="865.3" font-size="8.1" fill="#1a1a1a" text-anchor="end">0</text>
<line x1="33.3" y1="861.9" x2="33.3" y2="864.9" stroke="#6d6e71" stroke-width="0.8"/>
<text x="33.3" y="875.1" font-size="8.1" fill="#1a1a1a" text-anchor="middle">0</text>
<line x1="85.3" y1="861.9" x2="85.3" y2="864.9" stroke="#6d6e71" stroke-width="0.8"/>
<text x="85.3" y="875.1" font-size="8.1" fill="#1a1a1a" text-anchor="middle">5</text>
<line x1="137.4" y1="861.9" x2="137.4" y2="864.9" stroke="#6d6e71" stroke-width="0.8"/>
<text x="137.4" y="875.1" font-size="8.1" fill="#1a1a1a" text-anchor="middle">10</text>
<line x1="189.4" y1="861.9" x2="189.4" y2="864.9" stroke="#6d6e71" stroke-width="0.8"/>
<text x="189.4" y="875.1" font-size="8.1" fill="#1a1a1a" text-anchor="middle">15</text>
<text x="121.8" y="887.8" font-size="9.2" fill="#231f20" text-anchor="middle">Number of carbon atoms in SM tail</text>
<text x="7.8" y="797" font-size="9.2" fill="#231f20" text-anchor="middle" transform="rotate(-90 7.8 797)">Order parameter (S)</text>
<polyline points="43.7,813.9 54.1,793.9 64.5,777 74.9,774.3 85.3,772.8 95.7,774.9 106.1,778.8 116.5,783.4 127,788.4 137.4,792.9 147.8,798.1 158.2,803.7 168.6,811.5 179,820.2" fill="none" stroke="#3a3af0" stroke-width="1.1"/>
<polyline points="43.7,840.2 54.1,842.7 64.5,803.4 74.9,801.6 85.3,771.9 95.7,782.4 106.1,774.6 116.5,777 127,777.9 137.4,783 147.8,786.6 158.2,791.8 168.6,795.3 179,801.6 189.4,808.6 199.8,820.8" fill="none" stroke="#231f20" stroke-width="1.1"/>
<line x1="159.4" y1="741.3" x2="165.4" y2="741.3" stroke="#3a3af0" stroke-width="0.9"/>
<line x1="159.4" y1="750.3" x2="165.4" y2="750.3" stroke="#231f20" stroke-width="0.9"/>
<text x="168.9" y="743.9" font-size="7.7" fill="#231f20">16C tail</text>
<text x="168.9" y="752.9" font-size="7.7" fill="#231f20">18C tail</text>
<text x="-0.6" y="733.3" font-size="13.4" font-weight="bold" fill="#000" stroke="#000" stroke-width="0.5">j</text>
<line x1="267.3" y1="732.6" x2="267.3" y2="861.9" stroke="#6d6e71" stroke-width="0.8"/>
<line x1="267.3" y1="861.9" x2="444.2" y2="861.9" stroke="#6d6e71" stroke-width="0.8"/>
<line x1="267.3" y1="732.6" x2="444.2" y2="732.6" stroke="#6d6e71" stroke-width="0.8"/>
<line x1="444.2" y1="732.6" x2="444.2" y2="861.9" stroke="#6d6e71" stroke-width="0.8"/>
<line x1="263.9" y1="732.6" x2="267.3" y2="732.6" stroke="#6d6e71" stroke-width="0.8"/>
<text x="260" y="736" font-size="8.1" fill="#1a1a1a" text-anchor="end">0.8</text>
<line x1="263.9" y1="764.9" x2="267.3" y2="764.9" stroke="#6d6e71" stroke-width="0.8"/>
<text x="260" y="768.3" font-size="8.1" fill="#1a1a1a" text-anchor="end">0.6</text>
<line x1="263.9" y1="797.2" x2="267.3" y2="797.2" stroke="#6d6e71" stroke-width="0.8"/>
<text x="260" y="800.7" font-size="8.1" fill="#1a1a1a" text-anchor="end">0.4</text>
<line x1="263.9" y1="829.6" x2="267.3" y2="829.6" stroke="#6d6e71" stroke-width="0.8"/>
<text x="260" y="833" font-size="8.1" fill="#1a1a1a" text-anchor="end">0.2</text>
<line x1="263.9" y1="861.9" x2="267.3" y2="861.9" stroke="#6d6e71" stroke-width="0.8"/>
<text x="260" y="865.3" font-size="8.1" fill="#1a1a1a" text-anchor="end">0</text>
<line x1="267.3" y1="861.9" x2="267.3" y2="864.9" stroke="#6d6e71" stroke-width="0.8"/>
<text x="267.3" y="875.1" font-size="8.1" fill="#1a1a1a" text-anchor="middle">0</text>
<line x1="319.3" y1="861.9" x2="319.3" y2="864.9" stroke="#6d6e71" stroke-width="0.8"/>
<text x="319.3" y="875.1" font-size="8.1" fill="#1a1a1a" text-anchor="middle">5</text>
<line x1="371.4" y1="861.9" x2="371.4" y2="864.9" stroke="#6d6e71" stroke-width="0.8"/>
<text x="371.4" y="875.1" font-size="8.1" fill="#1a1a1a" text-anchor="middle">10</text>
<line x1="423.4" y1="861.9" x2="423.4" y2="864.9" stroke="#6d6e71" stroke-width="0.8"/>
<text x="423.4" y="875.1" font-size="8.1" fill="#1a1a1a" text-anchor="middle">15</text>
<text x="355.8" y="887.8" font-size="9.2" fill="#231f20" text-anchor="middle">Number of carbon atoms in SM-CSS-PTX tail</text>
<text x="241.8" y="797" font-size="9.2" fill="#231f20" text-anchor="middle" transform="rotate(-90 241.8 797)">Order parameter (S)</text>
<polyline points="277.7,820.2 288.1,782.4 298.5,786.6 308.9,780.6 319.3,786.9 329.7,786.9 340.1,789.3 350.5,792.2 361,798.1 371.4,805.2 381.8,815.7 392.2,820.2 402.6,828 413,833.1" fill="none" stroke="#3a3af0" stroke-width="1.1"/>
<polyline points="277.7,831.4 288.1,807.9 298.5,790.5 308.9,788.7 319.3,774.6 329.7,790.5 340.1,784.8 350.5,787.6 361,790.5 371.4,793.9 381.8,793.9 392.2,800.6 402.6,805.8 413,814.9 423.4,819.9 433.8,831.4" fill="none" stroke="#231f20" stroke-width="1.1"/>
<line x1="397.5" y1="741.3" x2="403.5" y2="741.3" stroke="#3a3af0" stroke-width="0.9"/>
<line x1="397.5" y1="750.3" x2="403.5" y2="750.3" stroke="#231f20" stroke-width="0.9"/>
<text x="407" y="743.9" font-size="7.7" fill="#231f20">16C tail</text>
<text x="407" y="752.9" font-size="7.7" fill="#231f20">18C tail</text>
<text x="226" y="733.2" font-size="13.4" font-weight="bold" fill="#000" stroke="#000" stroke-width="0.5">k</text>
<line x1="492.9" y1="732.6" x2="492.9" y2="861.9" stroke="#6d6e71" stroke-width="0.8"/>
<line x1="492.9" y1="861.9" x2="668.5" y2="861.9" stroke="#6d6e71" stroke-width="0.8"/>
<line x1="492.9" y1="732.6" x2="668.5" y2="732.6" stroke="#6d6e71" stroke-width="0.8"/>
<line x1="668.5" y1="732.6" x2="668.5" y2="861.9" stroke="#6d6e71" stroke-width="0.8"/>
<line x1="489.5" y1="732.6" x2="492.9" y2="732.6" stroke="#6d6e71" stroke-width="0.8"/>
<text x="485.6" y="736" font-size="8.1" fill="#1a1a1a" text-anchor="end">0.8</text>
<line x1="489.5" y1="764.9" x2="492.9" y2="764.9" stroke="#6d6e71" stroke-width="0.8"/>
<text x="485.6" y="768.3" font-size="8.1" fill="#1a1a1a" text-anchor="end">0.6</text>
<line x1="489.5" y1="797.2" x2="492.9" y2="797.2" stroke="#6d6e71" stroke-width="0.8"/>
<text x="485.6" y="800.7" font-size="8.1" fill="#1a1a1a" text-anchor="end">0.4</text>
<line x1="489.5" y1="829.6" x2="492.9" y2="829.6" stroke="#6d6e71" stroke-width="0.8"/>
<text x="485.6" y="833" font-size="8.1" fill="#1a1a1a" text-anchor="end">0.2</text>
<line x1="489.5" y1="861.9" x2="492.9" y2="861.9" stroke="#6d6e71" stroke-width="0.8"/>
<text x="485.6" y="865.3" font-size="8.1" fill="#1a1a1a" text-anchor="end">0</text>
<line x1="492.9" y1="861.9" x2="492.9" y2="864.9" stroke="#6d6e71" stroke-width="0.8"/>
<text x="492.9" y="875.1" font-size="8.1" fill="#1a1a1a" text-anchor="middle">0</text>
<line x1="544.5" y1="861.9" x2="544.5" y2="864.9" stroke="#6d6e71" stroke-width="0.8"/>
<text x="544.5" y="875.1" font-size="8.1" fill="#1a1a1a" text-anchor="middle">5</text>
<line x1="596.2" y1="861.9" x2="596.2" y2="864.9" stroke="#6d6e71" stroke-width="0.8"/>
<text x="596.2" y="875.1" font-size="8.1" fill="#1a1a1a" text-anchor="middle">10</text>
<line x1="647.8" y1="861.9" x2="647.8" y2="864.9" stroke="#6d6e71" stroke-width="0.8"/>
<text x="647.8" y="875.1" font-size="8.1" fill="#1a1a1a" text-anchor="middle">15</text>
<text x="580.7" y="887.8" font-size="9.2" fill="#231f20" text-anchor="middle">Number of carbon atoms in DSPE-PEG<tspan dy="2.2" font-size="6">2K</tspan><tspan dy="-2.2"> tail</tspan></text>
<text x="467.4" y="797" font-size="9.2" fill="#231f20" text-anchor="middle" transform="rotate(-90 467.4 797)">Order parameter (S)</text>
<polyline points="503.2,832.6 513.6,815.4 523.9,802.6 534.2,804 544.5,808.4 554.9,816 565.2,827.5 575.5,831.8 585.9,840.6 596.2,848.2 606.5,855 616.9,858.5 627.2,857.4 637.5,859.2 647.8,856.1 658.2,855.8" fill="none" stroke="#3a3af0" stroke-width="1.1"/>
<polyline points="503.2,780.1 513.6,792.2 523.9,792.2 534.2,790.5 544.5,794 554.9,796.4 565.2,801.6 575.5,807.4 585.9,820.5 596.2,833.6 606.5,841.2 616.9,846.4 627.2,850.9 637.5,852.5 647.8,853.7 658.2,855.8" fill="none" stroke="#231f20" stroke-width="1.1"/>
<line x1="625" y1="741.3" x2="631" y2="741.3" stroke="#3a3af0" stroke-width="0.9"/>
<line x1="625" y1="750.3" x2="631" y2="750.3" stroke="#231f20" stroke-width="0.9"/>
<text x="634.5" y="743.9" font-size="7.7" fill="#231f20">C2 tail</text>
<text x="634.5" y="752.9" font-size="7.7" fill="#231f20">C3 tail</text>
<text x="460.9" y="734.4" font-size="13.4" font-weight="bold" fill="#000" stroke="#000" stroke-width="0.5">l</text>
<text x="-0.3" y="10.8" font-size="13.4" font-weight="bold" fill="#000" stroke="#000" stroke-width="0.5">a</text>
<line x1="30.7" y1="40.3" x2="27.2" y2="34.2" stroke="#231f20" stroke-width="0.8"/>
<line x1="30.7" y1="40.3" x2="36" y2="34.2" stroke="#231f20" stroke-width="0.8"/>
<line x1="31.5" y1="40.6" x2="36.5" y2="41.6" stroke="#231f20" stroke-width="0.8"/>
<line x1="30.2" y1="42.5" x2="27.5" y2="47" stroke="#231f20" stroke-width="0.8"/>
<line x1="27.5" y1="47" x2="27.5" y2="53" stroke="#231f20" stroke-width="0.8"/>
<line x1="27.5" y1="53" x2="30.5" y2="58" stroke="#231f20" stroke-width="0.8"/>
<line x1="30.5" y1="58" x2="29.8" y2="62.3" stroke="#231f20" stroke-width="0.8"/>
<line x1="29" y1="67.5" x2="25.7" y2="70" stroke="#231f20" stroke-width="0.8"/>
<line x1="27" y1="74" x2="29" y2="77.5" stroke="#231f20" stroke-width="0.8"/>
<line x1="26.6" y1="72.5" x2="30.8" y2="73.8" stroke="#231f20" stroke-width="0.8"/>
<line x1="29" y1="82.5" x2="25.9" y2="85.5" stroke="#231f20" stroke-width="0.8"/>
<line x1="25.9" y1="85.5" x2="26.3" y2="91" stroke="#231f20" stroke-width="0.8"/>
<line x1="26.3" y1="91" x2="30.7" y2="95.5" stroke="#231f20" stroke-width="0.8"/>
<line x1="30.7" y1="95.5" x2="26.3" y2="103.4" stroke="#231f20" stroke-width="0.8"/>
<line x1="26.3" y1="103.4" x2="28.9" y2="111.2" stroke="#231f20" stroke-width="0.8"/>
<line x1="23" y1="71.5" x2="17.2" y2="71.5" stroke="#231f20" stroke-width="0.8"/>
<line x1="23" y1="72.5" x2="17.2" y2="72.5" stroke="#231f20" stroke-width="0.8"/>
<polygon points="30.7,95.5 35.2,90.5 33.8,89.5" fill="#231f20" stroke="none" stroke-width="0"/>
<line x1="31.6" y1="95.8" x2="31.5" y2="96" stroke="#231f20" stroke-width="0.5"/>
<line x1="33.4" y1="96.3" x2="33.1" y2="96.9" stroke="#231f20" stroke-width="0.5"/>
<line x1="35.2" y1="96.9" x2="34.7" y2="97.9" stroke="#231f20" stroke-width="0.5"/>
<line x1="37" y1="97.4" x2="36.3" y2="98.8" stroke="#231f20" stroke-width="0.5"/>
<polygon points="26.3,103.4 20.8,100.6 20.2,102.4" fill="#231f20" stroke="none" stroke-width="0"/>
<line x1="25.4" y1="103.8" x2="25.4" y2="103.6" stroke="#231f20" stroke-width="0.5"/>
<line x1="23.7" y1="104.6" x2="23.5" y2="104" stroke="#231f20" stroke-width="0.5"/>
<line x1="22" y1="105.4" x2="21.7" y2="104.4" stroke="#231f20" stroke-width="0.5"/>
<line x1="20.3" y1="106.2" x2="19.8" y2="104.8" stroke="#231f20" stroke-width="0.5"/>
<line x1="41" y1="101.5" x2="42" y2="105" stroke="#231f20" stroke-width="0.8"/>
<line x1="41.9" y1="105.5" x2="49.4" y2="106.7" stroke="#231f20" stroke-width="0.8"/>
<line x1="42.1" y1="104.5" x2="49.6" y2="105.7" stroke="#231f20" stroke-width="0.8"/>
<line x1="42" y1="105" x2="38.5" y2="113.9" stroke="#231f20" stroke-width="0.8"/>
<polyline points="29.3,111.2 24.9,118.7 29.3,126.2 24.9,133.7 29.3,141.2 24.9,148.7 29.3,156.2 24.9,163.7 29.3,171.2 24.9,178.7 29.3,186.2 24.9,193.7 29.3,201.2 24.9,208.7 29.3,216.2" fill="none" stroke="#231f20" stroke-width="0.8"/>
<line x1="28.3" y1="112.1" x2="25.2" y2="117.6" stroke="#231f20" stroke-width="0.8"/>
<polyline points="38.5,113.9 42.9,121.1 38.5,128.2 42.9,135.4 38.5,142.5 42.9,149.7 38.5,156.9 42.9,164 38.5,171.2 42.9,178.3 38.5,185.5 42.9,192.7 38.5,199.8 42.9,207 38.5,214.1 42.9,221.3" fill="none" stroke="#231f20" stroke-width="0.8"/>
<text x="30.7" y="42.5" font-size="6" fill="#231f20" text-anchor="middle" stroke="#fff" stroke-width="1.1" paint-order="stroke">N</text>
<text x="34" y="39" font-size="4.2" fill="#231f20">+</text>
<text x="29.8" y="67.2" font-size="6" fill="#231f20" text-anchor="middle" stroke="#fff" stroke-width="1.1" paint-order="stroke">O</text>
<text x="24.5" y="74.4" font-size="6" fill="#231f20" text-anchor="middle" stroke="#fff" stroke-width="1.1" paint-order="stroke">P</text>
<text x="14.9" y="74.2" font-size="6" fill="#231f20" text-anchor="middle" stroke="#fff" stroke-width="1.1" paint-order="stroke">O</text>
<text x="32.8" y="77" font-size="6" fill="#231f20" text-anchor="middle" stroke="#fff" stroke-width="1.1" paint-order="stroke">O</text>
<text x="35.6" y="71.5" font-size="5" fill="#231f20">-</text>
<text x="29.8" y="82.2" font-size="6" fill="#231f20" text-anchor="middle" stroke="#fff" stroke-width="1.1" paint-order="stroke">O</text>
<text x="35.8" y="90.3" font-size="5" fill="#231f20" text-anchor="middle" stroke="#fff" stroke-width="1.1" paint-order="stroke">H</text>
<text x="41.5" y="101.6" font-size="5.6" fill="#231f20" text-anchor="middle" stroke="#fff" stroke-width="1.1" paint-order="stroke">NH</text>
<text x="51.9" y="108.3" font-size="6" fill="#231f20" text-anchor="middle" stroke="#fff" stroke-width="1.1" paint-order="stroke">O</text>
<text x="15" y="101" font-size="5.6" fill="#231f20" text-anchor="middle" stroke="#fff" stroke-width="1.1" paint-order="stroke">HO</text>
<text x="17.2" y="108.6" font-size="5" fill="#231f20" text-anchor="middle" stroke="#fff" stroke-width="1.1" paint-order="stroke">H</text>
<text x="27.5" y="97" font-size="2.8" fill="#231f20" text-anchor="middle" stroke="#fff" stroke-width="1.1" paint-order="stroke">(S)</text>
<text x="29.5" y="104.6" font-size="2.8" fill="#231f20" text-anchor="middle" stroke="#fff" stroke-width="1.1" paint-order="stroke">(R)</text>
<ellipse cx="15.0" cy="99.0" rx="5.8" ry="5.2" fill="none" stroke="#d7282f" stroke-width="0.8"/>
<text x="80.2" y="137.2" font-size="8.1" fill="#d92b35" text-anchor="middle" textLength="53.3" lengthAdjust="spacingAndGlyphs">Sphingomyelin</text>
<text x="80" y="145.4" font-size="8.1" fill="#d92b35" text-anchor="middle">(SM)</text>
<text x="40" y="256.8" font-size="6.5" fill="#231f20" text-anchor="middle">+</text>
<line x1="57.8" y1="254.6" x2="97.5" y2="254.6" stroke="#7cc242" stroke-width="2.3"/>
<polygon points="105.5,254.6 97.5,258.6 97.5,250.6" fill="#7cc242" stroke="none" stroke-width="0"/>
<g>
<polygon points="18.8,290.1 26.8,294.7 26.8,303.9 18.8,308.5 10.8,303.9 10.8,294.7" fill="none" stroke="#231f20" stroke-width="0.8"/>
<line x1="19.5" y1="292.6" x2="24.3" y2="295.3" stroke="#231f20" stroke-width="0.8"/>
<line x1="24.3" y1="303.3" x2="19.5" y2="306" stroke="#231f20" stroke-width="0.8"/>
<line x1="12.6" y1="302" x2="12.6" y2="296.6" stroke="#231f20" stroke-width="0.8"/>
<line x1="18.8" y1="308.5" x2="18.8" y2="317.8" stroke="#231f20" stroke-width="0.8"/>
<line x1="18.6" y1="317.4" x2="12.1" y2="320.6" stroke="#231f20" stroke-width="0.8"/>
<line x1="19" y1="318.2" x2="12.5" y2="321.4" stroke="#231f20" stroke-width="0.8"/>
<line x1="18.8" y1="317.8" x2="26.5" y2="321.3" stroke="#231f20" stroke-width="0.8"/>
<line x1="26.7" y1="330" x2="26.9" y2="330.1" stroke="#231f20" stroke-width="0.5"/>
<line x1="26.6" y1="328.1" x2="27.4" y2="328.2" stroke="#231f20" stroke-width="0.5"/>
<line x1="26.6" y1="326.2" x2="27.8" y2="326.4" stroke="#231f20" stroke-width="0.5"/>
<line x1="26.5" y1="324.3" x2="28.3" y2="324.5" stroke="#231f20" stroke-width="0.5"/>
<line x1="26.7" y1="331" x2="19.1" y2="335.8" stroke="#231f20" stroke-width="0.8"/>
<polygon points="11.1,331.2 19.1,335.8 19.1,345 11.1,349.6 3.1,345 3.1,335.8" fill="none" stroke="#231f20" stroke-width="0.8"/>
<line x1="17.3" y1="337.7" x2="17.3" y2="343.1" stroke="#231f20" stroke-width="0.8"/>
<line x1="10.4" y1="347.1" x2="5.6" y2="344.4" stroke="#231f20" stroke-width="0.8"/>
<line x1="5.6" y1="336.4" x2="10.4" y2="333.7" stroke="#231f20" stroke-width="0.8"/>
<line x1="26.7" y1="331" x2="35" y2="335.8" stroke="#231f20" stroke-width="0.8"/>
<line x1="35.2" y1="336.7" x2="34.9" y2="336.8" stroke="#231f20" stroke-width="0.5"/>
<line x1="35.5" y1="338.6" x2="34.7" y2="338.7" stroke="#231f20" stroke-width="0.5"/>
<line x1="35.9" y1="340.5" x2="34.4" y2="340.6" stroke="#231f20" stroke-width="0.5"/>
<line x1="35" y1="335.8" x2="42.9" y2="331" stroke="#231f20" stroke-width="0.8"/>
<line x1="43.4" y1="331" x2="43.4" y2="323.3" stroke="#231f20" stroke-width="0.8"/>
<line x1="42.4" y1="331" x2="42.4" y2="323.3" stroke="#231f20" stroke-width="0.8"/>
<line x1="42.9" y1="331" x2="49.3" y2="334.8" stroke="#231f20" stroke-width="0.8"/>
<line x1="57.9" y1="332" x2="57.8" y2="331.8" stroke="#231f20" stroke-width="0.5"/>
<line x1="56.2" y1="333.1" x2="55.9" y2="332.5" stroke="#231f20" stroke-width="0.5"/>
<line x1="54.5" y1="334.2" x2="54" y2="333.2" stroke="#231f20" stroke-width="0.5"/>
<line x1="52.8" y1="335.3" x2="52.1" y2="333.9" stroke="#231f20" stroke-width="0.5"/>
<line x1="60.2" y1="302.2" x2="56.6" y2="295.8" stroke="#231f20" stroke-width="0.8"/>
<line x1="59.4" y1="302.6" x2="55.8" y2="296.2" stroke="#231f20" stroke-width="0.8"/>
<line x1="59.8" y1="302.4" x2="55.2" y2="310.5" stroke="#231f20" stroke-width="0.8"/>
<line x1="59.8" y1="302.4" x2="67.8" y2="302.4" stroke="#231f20" stroke-width="0.8"/>
<polygon points="72.1,311.1 70.3,304 68.7,304.6" fill="#231f20" stroke="none" stroke-width="0"/>
<line x1="72.1" y1="311.1" x2="81.8" y2="311.1" stroke="#231f20" stroke-width="0.8"/>
<line x1="81.8" y1="311.1" x2="88.4" y2="316.7" stroke="#231f20" stroke-width="0.8"/>
<line x1="88.4" y1="316.7" x2="96.1" y2="312.1" stroke="#231f20" stroke-width="0.8"/>
<line x1="96.1" y1="312.1" x2="103.8" y2="317.7" stroke="#231f20" stroke-width="0.8"/>
<line x1="103.8" y1="317.7" x2="103.8" y2="326.9" stroke="#231f20" stroke-width="0.8"/>
<line x1="103.8" y1="326.9" x2="107.5" y2="332.6" stroke="#231f20" stroke-width="0.8"/>
<line x1="107" y1="335.2" x2="100.7" y2="338.6" stroke="#231f20" stroke-width="0.8"/>
<line x1="100.7" y1="338.6" x2="96.6" y2="331.5" stroke="#231f20" stroke-width="0.8"/>
<line x1="96.6" y1="331.5" x2="103.8" y2="326.9" stroke="#231f20" stroke-width="0.8"/>
<line x1="96.6" y1="331.5" x2="88.4" y2="326.9" stroke="#231f20" stroke-width="0.8"/>
<line x1="88.4" y1="326.9" x2="88.4" y2="316.7" stroke="#231f20" stroke-width="0.8"/>
<line x1="88.4" y1="326.9" x2="81.8" y2="331.5" stroke="#231f20" stroke-width="0.8"/>
<line x1="81.8" y1="331.5" x2="73.6" y2="331.5" stroke="#231f20" stroke-width="0.8"/>
<line x1="73.6" y1="331.5" x2="74.1" y2="322.3" stroke="#231f20" stroke-width="0.8"/>
<line x1="74.1" y1="322.3" x2="66" y2="317.7" stroke="#231f20" stroke-width="0.8"/>
<line x1="72.1" y1="311.1" x2="66" y2="317.7" stroke="#231f20" stroke-width="0.8"/>
<line x1="58.8" y1="321.3" x2="50.1" y2="317.2" stroke="#231f20" stroke-width="0.8"/>
<line x1="58.8" y1="321.3" x2="58.8" y2="331.5" stroke="#231f20" stroke-width="0.8"/>
<line x1="58.8" y1="331.5" x2="66.5" y2="335.1" stroke="#231f20" stroke-width="0.8"/>
<line x1="66.5" y1="335.1" x2="73.6" y2="331.5" stroke="#231f20" stroke-width="0.8"/>
<line x1="74.1" y1="322.3" x2="81.3" y2="317.7" stroke="#231f20" stroke-width="0.8"/>
<line x1="74.1" y1="322.3" x2="81.3" y2="326.4" stroke="#231f20" stroke-width="0.8"/>
<line x1="65.7" y1="317.2" x2="58.5" y2="320.8" stroke="#231f20" stroke-width="0.8"/>
<line x1="66.3" y1="318.2" x2="59.1" y2="321.8" stroke="#231f20" stroke-width="0.8"/>
<line x1="82.3" y1="311.2" x2="84.3" y2="304.1" stroke="#231f20" stroke-width="0.8"/>
<line x1="81.3" y1="311" x2="83.3" y2="303.9" stroke="#231f20" stroke-width="0.8"/>
<polygon points="88.4,316.7 89.2,308.5 87.7,308.5" fill="#231f20" stroke="none" stroke-width="0"/>
<polygon points="96.1,312.1 97,305.8 95.2,305.8" fill="#231f20" stroke="none" stroke-width="0"/>
<polygon points="103.8,326.9 105.8,331.9 107.2,331.1" fill="#231f20" stroke="none" stroke-width="0"/>
<polygon points="73.6,331.5 71.7,336.8 73.5,337.2" fill="#231f20" stroke="none" stroke-width="0"/>
<line x1="82.2" y1="332.5" x2="81.9" y2="332.6" stroke="#231f20" stroke-width="0.5"/>
<line x1="83" y1="334.4" x2="82.1" y2="334.7" stroke="#231f20" stroke-width="0.5"/>
<line x1="83.8" y1="336.4" x2="82.3" y2="336.8" stroke="#231f20" stroke-width="0.5"/>
<line x1="88.5" y1="327.8" x2="88.3" y2="327.8" stroke="#231f20" stroke-width="0.5"/>
<line x1="88.8" y1="329.6" x2="88" y2="329.6" stroke="#231f20" stroke-width="0.5"/>
<line x1="89.1" y1="331.4" x2="87.7" y2="331.4" stroke="#231f20" stroke-width="0.5"/>
<line x1="96.3" y1="332.5" x2="96" y2="332.4" stroke="#231f20" stroke-width="0.5"/>
<line x1="95.7" y1="334.6" x2="94.9" y2="334.2" stroke="#231f20" stroke-width="0.5"/>
<line x1="95.1" y1="336.6" x2="93.7" y2="336" stroke="#231f20" stroke-width="0.5"/>
<line x1="57.9" y1="332" x2="57.8" y2="331.8" stroke="#231f20" stroke-width="0.5"/>
<line x1="56.2" y1="333.1" x2="55.9" y2="332.5" stroke="#231f20" stroke-width="0.5"/>
<line x1="54.5" y1="334.2" x2="54" y2="333.2" stroke="#231f20" stroke-width="0.5"/>
<line x1="52.8" y1="335.3" x2="52.1" y2="333.9" stroke="#231f20" stroke-width="0.5"/>
<line x1="83.6" y1="341.8" x2="80" y2="347.5" stroke="#231f20" stroke-width="0.8"/>
<line x1="80" y1="347" x2="72.8" y2="346.4" stroke="#231f20" stroke-width="0.8"/>
<line x1="80" y1="348" x2="72.8" y2="347.4" stroke="#231f20" stroke-width="0.8"/>
<line x1="80" y1="347.5" x2="83" y2="355.5" stroke="#231f20" stroke-width="0.8"/>
<polygon points="96.8,363.5 92.2,371.5 83,371.5 78.4,363.5 83,355.5 92.2,355.5" fill="none" stroke="#231f20" stroke-width="0.8"/>
<line x1="94.3" y1="364.2" x2="91.6" y2="369" stroke="#231f20" stroke-width="0.8"/>
<line x1="83.6" y1="369" x2="80.9" y2="364.2" stroke="#231f20" stroke-width="0.8"/>
<line x1="84.9" y1="357.3" x2="90.3" y2="357.3" stroke="#231f20" stroke-width="0.8"/>
<line x1="94.3" y1="341.3" x2="97.2" y2="346" stroke="#231f20" stroke-width="0.8"/>
<line x1="97.2" y1="346" x2="108.6" y2="344.2" stroke="#231f20" stroke-width="0.8"/>
<line x1="96.7" y1="346" x2="97.3" y2="352.8" stroke="#231f20" stroke-width="0.8"/>
<line x1="97.7" y1="346" x2="98.3" y2="352.8" stroke="#231f20" stroke-width="0.8"/>
<text x="10.5" y="323.3" font-size="5.6" fill="#231f20" text-anchor="middle" stroke="#fff" stroke-width="1.1" paint-order="stroke">O</text>
<text x="31.2" y="323.3" font-size="5.6" fill="#231f20" text-anchor="middle" stroke="#fff" stroke-width="1.1" paint-order="stroke">NH</text>
<text x="42.9" y="323" font-size="5.6" fill="#231f20" text-anchor="middle" stroke="#fff" stroke-width="1.1" paint-order="stroke">O</text>
<text x="50.3" y="337.6" font-size="5.6" fill="#231f20" text-anchor="middle" stroke="#fff" stroke-width="1.1" paint-order="stroke">O</text>
<text x="55" y="296.2" font-size="5.6" fill="#231f20" text-anchor="middle" stroke="#fff" stroke-width="1.1" paint-order="stroke">O</text>
<text x="69" y="304.4" font-size="5.6" fill="#231f20" text-anchor="middle" stroke="#fff" stroke-width="1.1" paint-order="stroke">O</text>
<text x="84.8" y="304" font-size="5.6" fill="#231f20" text-anchor="middle" stroke="#fff" stroke-width="1.1" paint-order="stroke">O</text>
<text x="99" y="305.4" font-size="5.6" fill="#231f20" text-anchor="middle" stroke="#fff" stroke-width="1.1" paint-order="stroke">OH</text>
<text x="108.6" y="336" font-size="5.6" fill="#231f20" text-anchor="middle" stroke="#fff" stroke-width="1.1" paint-order="stroke">O</text>
<text x="70" y="341.3" font-size="5.2" fill="#231f20" text-anchor="middle" stroke="#fff" stroke-width="1.1" paint-order="stroke">HO</text>
<text x="83.8" y="341.8" font-size="5.6" fill="#231f20" text-anchor="middle" stroke="#fff" stroke-width="1.1" paint-order="stroke">O</text>
<text x="88.6" y="336.7" font-size="4.8" fill="#231f20" text-anchor="middle" stroke="#fff" stroke-width="1.1" paint-order="stroke">H</text>
<text x="93" y="341.4" font-size="5.6" fill="#231f20" text-anchor="middle" stroke="#fff" stroke-width="1.1" paint-order="stroke">O</text>
<text x="70.5" y="348.9" font-size="5.6" fill="#231f20" text-anchor="middle" stroke="#fff" stroke-width="1.1" paint-order="stroke">O</text>
<text x="98" y="357.3" font-size="5.6" fill="#231f20" text-anchor="middle" stroke="#fff" stroke-width="1.1" paint-order="stroke">O</text>
<text x="35.6" y="346.6" font-size="5.6" fill="#231f20" text-anchor="middle" stroke="#fff" stroke-width="1.1" paint-order="stroke">OH</text>
<circle cx="35.6" cy="344.5" r="5.6" fill="none" stroke="#d7282f" stroke-width="0.8"/>
</g>
<text x="54.3" y="367.3" font-size="8.1" fill="#d92b35" text-anchor="middle">Paclitaxel</text>
<text x="54.3" y="376.3" font-size="8.1" fill="#d92b35" text-anchor="middle">(PTX)</text>
<rect x="114.3" y="9.6" width="167.2" height="378.8" rx="25" ry="25" fill="none" stroke="#6abd45" stroke-width="0.9"/>
<g transform="translate(189.10,-200.30) scale(0.7370)">
<polygon points="18.8,290.1 26.8,294.7 26.8,303.9 18.8,308.5 10.8,303.9 10.8,294.7" fill="none" stroke="#231f20" stroke-width="1.1"/>
<line x1="19.5" y1="292.6" x2="24.3" y2="295.3" stroke="#231f20" stroke-width="1.1"/>
<line x1="24.3" y1="303.3" x2="19.5" y2="306" stroke="#231f20" stroke-width="1.1"/>
<line x1="12.6" y1="302" x2="12.6" y2="296.6" stroke="#231f20" stroke-width="1.1"/>
<line x1="18.8" y1="308.5" x2="18.8" y2="317.8" stroke="#231f20" stroke-width="1.1"/>
<line x1="18.6" y1="317.4" x2="12.1" y2="320.6" stroke="#231f20" stroke-width="1.1"/>
<line x1="19" y1="318.2" x2="12.5" y2="321.4" stroke="#231f20" stroke-width="1.1"/>
<line x1="18.8" y1="317.8" x2="26.5" y2="321.3" stroke="#231f20" stroke-width="1.1"/>
<line x1="26.7" y1="330" x2="26.9" y2="330.1" stroke="#231f20" stroke-width="0.7"/>
<line x1="26.6" y1="328.1" x2="27.4" y2="328.2" stroke="#231f20" stroke-width="0.7"/>
<line x1="26.6" y1="326.2" x2="27.8" y2="326.4" stroke="#231f20" stroke-width="0.7"/>
<line x1="26.5" y1="324.3" x2="28.3" y2="324.5" stroke="#231f20" stroke-width="0.7"/>
<line x1="26.7" y1="331" x2="19.1" y2="335.8" stroke="#231f20" stroke-width="1.1"/>
<polygon points="11.1,331.2 19.1,335.8 19.1,345 11.1,349.6 3.1,345 3.1,335.8" fill="none" stroke="#231f20" stroke-width="1.1"/>
<line x1="17.3" y1="337.7" x2="17.3" y2="343.1" stroke="#231f20" stroke-width="1.1"/>
<line x1="10.4" y1="347.1" x2="5.6" y2="344.4" stroke="#231f20" stroke-width="1.1"/>
<line x1="5.6" y1="336.4" x2="10.4" y2="333.7" stroke="#231f20" stroke-width="1.1"/>
<line x1="26.7" y1="331" x2="35" y2="335.8" stroke="#231f20" stroke-width="1.1"/>
<line x1="35" y1="335.8" x2="42.9" y2="331" stroke="#231f20" stroke-width="1.1"/>
<line x1="43.4" y1="331" x2="43.4" y2="323.3" stroke="#231f20" stroke-width="1.1"/>
<line x1="42.4" y1="331" x2="42.4" y2="323.3" stroke="#231f20" stroke-width="1.1"/>
<line x1="42.9" y1="331" x2="49.3" y2="334.8" stroke="#231f20" stroke-width="1.1"/>
<line x1="57.9" y1="332" x2="57.8" y2="331.8" stroke="#231f20" stroke-width="0.7"/>
<line x1="56.2" y1="333.1" x2="55.9" y2="332.5" stroke="#231f20" stroke-width="0.7"/>
<line x1="54.5" y1="334.2" x2="54" y2="333.2" stroke="#231f20" stroke-width="0.7"/>
<line x1="52.8" y1="335.3" x2="52.1" y2="333.9" stroke="#231f20" stroke-width="0.7"/>
<line x1="60.2" y1="302.2" x2="56.6" y2="295.8" stroke="#231f20" stroke-width="1.1"/>
<line x1="59.4" y1="302.6" x2="55.8" y2="296.2" stroke="#231f20" stroke-width="1.1"/>
<line x1="59.8" y1="302.4" x2="55.2" y2="310.5" stroke="#231f20" stroke-width="1.1"/>
<line x1="59.8" y1="302.4" x2="67.8" y2="302.4" stroke="#231f20" stroke-width="1.1"/>
<polygon points="72.1,311.1 70.3,304 68.7,304.6" fill="#231f20" stroke="none" stroke-width="0"/>
<line x1="72.1" y1="311.1" x2="81.8" y2="311.1" stroke="#231f20" stroke-width="1.1"/>
<line x1="81.8" y1="311.1" x2="88.4" y2="316.7" stroke="#231f20" stroke-width="1.1"/>
<line x1="88.4" y1="316.7" x2="96.1" y2="312.1" stroke="#231f20" stroke-width="1.1"/>
<line x1="96.1" y1="312.1" x2="103.8" y2="317.7" stroke="#231f20" stroke-width="1.1"/>
<line x1="103.8" y1="317.7" x2="103.8" y2="326.9" stroke="#231f20" stroke-width="1.1"/>
<line x1="103.8" y1="326.9" x2="107.5" y2="332.6" stroke="#231f20" stroke-width="1.1"/>
<line x1="107" y1="335.2" x2="100.7" y2="338.6" stroke="#231f20" stroke-width="1.1"/>
<line x1="100.7" y1="338.6" x2="96.6" y2="331.5" stroke="#231f20" stroke-width="1.1"/>
<line x1="96.6" y1="331.5" x2="103.8" y2="326.9" stroke="#231f20" stroke-width="1.1"/>
<line x1="96.6" y1="331.5" x2="88.4" y2="326.9" stroke="#231f20" stroke-width="1.1"/>
<line x1="88.4" y1="326.9" x2="88.4" y2="316.7" stroke="#231f20" stroke-width="1.1"/>
<line x1="88.4" y1="326.9" x2="81.8" y2="331.5" stroke="#231f20" stroke-width="1.1"/>
<line x1="81.8" y1="331.5" x2="73.6" y2="331.5" stroke="#231f20" stroke-width="1.1"/>
<line x1="73.6" y1="331.5" x2="74.1" y2="322.3" stroke="#231f20" stroke-width="1.1"/>
<line x1="74.1" y1="322.3" x2="66" y2="317.7" stroke="#231f20" stroke-width="1.1"/>
<line x1="72.1" y1="311.1" x2="66" y2="317.7" stroke="#231f20" stroke-width="1.1"/>
<line x1="58.8" y1="321.3" x2="50.1" y2="317.2" stroke="#231f20" stroke-width="1.1"/>
<line x1="58.8" y1="321.3" x2="58.8" y2="331.5" stroke="#231f20" stroke-width="1.1"/>
<line x1="58.8" y1="331.5" x2="66.5" y2="335.1" stroke="#231f20" stroke-width="1.1"/>
<line x1="66.5" y1="335.1" x2="73.6" y2="331.5" stroke="#231f20" stroke-width="1.1"/>
<line x1="74.1" y1="322.3" x2="81.3" y2="317.7" stroke="#231f20" stroke-width="1.1"/>
<line x1="74.1" y1="322.3" x2="81.3" y2="326.4" stroke="#231f20" stroke-width="1.1"/>
<line x1="65.7" y1="317.2" x2="58.5" y2="320.8" stroke="#231f20" stroke-width="1.1"/>
<line x1="66.3" y1="318.2" x2="59.1" y2="321.8" stroke="#231f20" stroke-width="1.1"/>
<line x1="82.3" y1="311.2" x2="84.3" y2="304.1" stroke="#231f20" stroke-width="1.1"/>
<line x1="81.3" y1="311" x2="83.3" y2="303.9" stroke="#231f20" stroke-width="1.1"/>
<polygon points="88.4,316.7 89.2,308.5 87.7,308.5" fill="#231f20" stroke="none" stroke-width="0"/>
<polygon points="96.1,312.1 97,305.8 95.2,305.8" fill="#231f20" stroke="none" stroke-width="0"/>
<polygon points="103.8,326.9 105.8,331.9 107.2,331.1" fill="#231f20" stroke="none" stroke-width="0"/>
<polygon points="73.6,331.5 71.7,336.8 73.5,337.2" fill="#231f20" stroke="none" stroke-width="0"/>
<line x1="82.2" y1="332.5" x2="81.9" y2="332.6" stroke="#231f20" stroke-width="0.7"/>
<line x1="83" y1="334.4" x2="82.1" y2="334.7" stroke="#231f20" stroke-width="0.7"/>
<line x1="83.8" y1="336.4" x2="82.3" y2="336.8" stroke="#231f20" stroke-width="0.7"/>
<line x1="88.5" y1="327.8" x2="88.3" y2="327.8" stroke="#231f20" stroke-width="0.7"/>
<line x1="88.8" y1="329.6" x2="88" y2="329.6" stroke="#231f20" stroke-width="0.7"/>
<line x1="89.1" y1="331.4" x2="87.7" y2="331.4" stroke="#231f20" stroke-width="0.7"/>
<line x1="96.3" y1="332.5" x2="96" y2="332.4" stroke="#231f20" stroke-width="0.7"/>
<line x1="95.7" y1="334.6" x2="94.9" y2="334.2" stroke="#231f20" stroke-width="0.7"/>
<line x1="95.1" y1="336.6" x2="93.7" y2="336" stroke="#231f20" stroke-width="0.7"/>
<line x1="57.9" y1="332" x2="57.8" y2="331.8" stroke="#231f20" stroke-width="0.7"/>
<line x1="56.2" y1="333.1" x2="55.9" y2="332.5" stroke="#231f20" stroke-width="0.7"/>
<line x1="54.5" y1="334.2" x2="54" y2="333.2" stroke="#231f20" stroke-width="0.7"/>
<line x1="52.8" y1="335.3" x2="52.1" y2="333.9" stroke="#231f20" stroke-width="0.7"/>
<line x1="83.6" y1="341.8" x2="80" y2="347.5" stroke="#231f20" stroke-width="1.1"/>
<line x1="80" y1="347" x2="72.8" y2="346.4" stroke="#231f20" stroke-width="1.1"/>
<line x1="80" y1="348" x2="72.8" y2="347.4" stroke="#231f20" stroke-width="1.1"/>
<line x1="80" y1="347.5" x2="83" y2="355.5" stroke="#231f20" stroke-width="1.1"/>
<polygon points="96.8,363.5 92.2,371.5 83,371.5 78.4,363.5 83,355.5 92.2,355.5" fill="none" stroke="#231f20" stroke-width="1.1"/>
<line x1="94.3" y1="364.2" x2="91.6" y2="369" stroke="#231f20" stroke-width="1.1"/>
<line x1="83.6" y1="369" x2="80.9" y2="364.2" stroke="#231f20" stroke-width="1.1"/>
<line x1="84.9" y1="357.3" x2="90.3" y2="357.3" stroke="#231f20" stroke-width="1.1"/>
<line x1="94.3" y1="341.3" x2="97.2" y2="346" stroke="#231f20" stroke-width="1.1"/>
<line x1="97.2" y1="346" x2="108.6" y2="344.2" stroke="#231f20" stroke-width="1.1"/>
<line x1="96.7" y1="346" x2="97.3" y2="352.8" stroke="#231f20" stroke-width="1.1"/>
<line x1="97.7" y1="346" x2="98.3" y2="352.8" stroke="#231f20" stroke-width="1.1"/>
<text x="10.5" y="323.3" font-size="5.6" fill="#231f20" text-anchor="middle" stroke="#fff" stroke-width="1.1" paint-order="stroke">O</text>
<text x="31.2" y="323.3" font-size="5.6" fill="#231f20" text-anchor="middle" stroke="#fff" stroke-width="1.1" paint-order="stroke">NH</text>
<text x="42.9" y="323" font-size="5.6" fill="#231f20" text-anchor="middle" stroke="#fff" stroke-width="1.1" paint-order="stroke">O</text>
<text x="50.3" y="337.6" font-size="5.6" fill="#231f20" text-anchor="middle" stroke="#fff" stroke-width="1.1" paint-order="stroke">O</text>
<text x="55" y="296.2" font-size="5.6" fill="#231f20" text-anchor="middle" stroke="#fff" stroke-width="1.1" paint-order="stroke">O</text>
<text x="69" y="304.4" font-size="5.6" fill="#231f20" text-anchor="middle" stroke="#fff" stroke-width="1.1" paint-order="stroke">O</text>
<text x="84.8" y="304" font-size="5.6" fill="#231f20" text-anchor="middle" stroke="#fff" stroke-width="1.1" paint-order="stroke">O</text>
<text x="99" y="305.4" font-size="5.6" fill="#231f20" text-anchor="middle" stroke="#fff" stroke-width="1.1" paint-order="stroke">OH</text>
<text x="108.6" y="336" font-size="5.6" fill="#231f20" text-anchor="middle" stroke="#fff" stroke-width="1.1" paint-order="stroke">O</text>
<text x="70" y="341.3" font-size="5.2" fill="#231f20" text-anchor="middle" stroke="#fff" stroke-width="1.1" paint-order="stroke">HO</text>
<text x="83.8" y="341.8" font-size="5.6" fill="#231f20" text-anchor="middle" stroke="#fff" stroke-width="1.1" paint-order="stroke">O</text>
<text x="88.6" y="336.7" font-size="4.8" fill="#231f20" text-anchor="middle" stroke="#fff" stroke-width="1.1" paint-order="stroke">H</text>
<text x="93" y="341.4" font-size="5.6" fill="#231f20" text-anchor="middle" stroke="#fff" stroke-width="1.1" paint-order="stroke">O</text>
<text x="70.5" y="348.9" font-size="5.6" fill="#231f20" text-anchor="middle" stroke="#fff" stroke-width="1.1" paint-order="stroke">O</text>
<text x="98" y="357.3" font-size="5.6" fill="#231f20" text-anchor="middle" stroke="#fff" stroke-width="1.1" paint-order="stroke">O</text>
</g>
<polyline points="119.9,86.6 125.6,83.5 131.3,86.6 136.9,83.5 142.6,86.6 148.3,83.5 154,86.6 159.7,83.5 165.3,86.6 171,83.5 176.7,86.6 182.4,83.5 188.1,86.6 193.7,83.5 199.4,86.6" fill="none" stroke="#231f20" stroke-width="0.8"/>
<line x1="194.3" y1="85" x2="198.8" y2="87.9" stroke="#231f20" stroke-width="0.7"/>
<polyline points="117.3,93.4 123,96.7 128.7,93.4 134.4,96.7 140.1,93.4 145.8,96.7 151.5,93.4 157.2,96.7 162.9,93.4 168.6,96.7 174.3,93.4 180,96.7 185.7,93.4 191.4,96.7 197.1,93.4 202.8,96.7" fill="none" stroke="#231f20" stroke-width="0.8"/>
<line x1="199.4" y1="86.6" x2="205.4" y2="83.6" stroke="#231f20" stroke-width="0.7"/>
<line x1="205.4" y1="83.6" x2="211.1" y2="86.5" stroke="#231f20" stroke-width="0.7"/>
<line x1="211.1" y1="86.5" x2="217.3" y2="83.2" stroke="#231f20" stroke-width="0.7"/>
<line x1="217.3" y1="83.2" x2="220.8" y2="85.1" stroke="#231f20" stroke-width="0.7"/>
<line x1="224.2" y1="85.3" x2="226.2" y2="84.3" stroke="#231f20" stroke-width="0.7"/>
<line x1="229.2" y1="84.4" x2="231.8" y2="85.4" stroke="#231f20" stroke-width="0.7"/>
<line x1="235" y1="86.9" x2="239.6" y2="88.4" stroke="#231f20" stroke-width="0.7"/>
<line x1="239.6" y1="88.4" x2="245.3" y2="85.1" stroke="#231f20" stroke-width="0.7"/>
<line x1="245.3" y1="85.1" x2="250" y2="87.3" stroke="#231f20" stroke-width="0.7"/>
<line x1="253.6" y1="87.5" x2="257.5" y2="85" stroke="#231f20" stroke-width="0.7"/>
<line x1="253.6" y1="89.5" x2="257" y2="92" stroke="#231f20" stroke-width="0.7"/>
<line x1="251.9" y1="90.5" x2="251.9" y2="94.5" stroke="#231f20" stroke-width="0.7"/>
<line x1="227.7" y1="85.8" x2="227.7" y2="87.6" stroke="#231f20" stroke-width="0.7"/>
<line x1="211.1" y1="86.5" x2="209.8" y2="91.2" stroke="#231f20" stroke-width="0.7"/>
<line x1="207.3" y1="94.5" x2="203.5" y2="96.9" stroke="#231f20" stroke-width="0.7"/>
<line x1="228.4" y1="81.6" x2="228.6" y2="78" stroke="#231f20" stroke-width="0.6"/>
<line x1="227.6" y1="81.6" x2="227.8" y2="78" stroke="#231f20" stroke-width="0.6"/>
<line x1="202.9" y1="97" x2="202.8" y2="100.4" stroke="#231f20" stroke-width="0.7"/>
<line x1="203.7" y1="97" x2="203.6" y2="100.4" stroke="#231f20" stroke-width="0.7"/>
<polygon points="205.4,83.6 208.5,78.3 207.1,77.7" fill="#231f20" stroke="none" stroke-width="0"/>
<polygon points="211.1,86.5 213.9,90.8 215.1,89.8" fill="#231f20" stroke="none" stroke-width="0"/>
<line x1="204.8" y1="82.9" x2="205" y2="82.8" stroke="#231f20" stroke-width="0.5"/>
<line x1="203.6" y1="81.5" x2="204.1" y2="81.1" stroke="#231f20" stroke-width="0.5"/>
<line x1="202.3" y1="80.1" x2="203.3" y2="79.4" stroke="#231f20" stroke-width="0.5"/>
<text x="208.9" y="78" font-size="4.6" fill="#231f20" text-anchor="middle" stroke="#fff" stroke-width="1.1" paint-order="stroke">O</text>
<text x="222.5" y="87.8" font-size="4.4" fill="#231f20" text-anchor="middle" stroke="#fff" stroke-width="1.1" paint-order="stroke">O</text>
<text x="227.7" y="85.3" font-size="4.6" fill="#231f20" text-anchor="middle" stroke="#fff" stroke-width="1.1" paint-order="stroke">P</text>
<text x="228.2" y="77.8" font-size="4.2" fill="#231f20" text-anchor="middle" stroke="#fff" stroke-width="1.1" paint-order="stroke">O</text>
<text x="227.7" y="91.3" font-size="4.2" fill="#231f20" text-anchor="middle" stroke="#fff" stroke-width="1.1" paint-order="stroke">O</text>
<text x="233.4" y="87.8" font-size="4.4" fill="#231f20" text-anchor="middle" stroke="#fff" stroke-width="1.1" paint-order="stroke">O</text>
<text x="251.9" y="90.1" font-size="4.8" fill="#231f20" text-anchor="middle" stroke="#fff" stroke-width="1.1" paint-order="stroke">N</text>
<text x="209.6" y="94.9" font-size="4.4" fill="#231f20" text-anchor="middle" stroke="#fff" stroke-width="1.1" paint-order="stroke">NH</text>
<text x="203.1" y="104.2" font-size="4.4" fill="#231f20" text-anchor="middle" stroke="#fff" stroke-width="1.1" paint-order="stroke">O</text>
<text x="201.6" y="79.1" font-size="4.2" fill="#231f20" text-anchor="middle" stroke="#fff" stroke-width="1.1" paint-order="stroke">H</text>
<text x="216" y="93.3" font-size="4.2" fill="#231f20" text-anchor="middle" stroke="#fff" stroke-width="1.1" paint-order="stroke">H</text>
<text x="204.5" y="87.8" font-size="2.8" fill="#231f20" text-anchor="middle" stroke="#fff" stroke-width="1.1" paint-order="stroke">(R)</text>
<text x="211.8" y="84" font-size="2.8" fill="#231f20" text-anchor="middle" stroke="#fff" stroke-width="1.1" paint-order="stroke">(S)</text>
<text x="254.8" y="86" font-size="4" fill="#231f20">+</text>
<line x1="214.9" y1="47.8" x2="214.9" y2="50.8" stroke="#231f20" stroke-width="0.8"/>
<text x="214.9" y="54.5" font-size="4.6" fill="#231f20" text-anchor="middle" stroke="#fff" stroke-width="1.1" paint-order="stroke">O</text>
<line x1="216.6" y1="54" x2="220.1" y2="56.6" stroke="#231f20" stroke-width="0.8"/>
<line x1="220.3" y1="57" x2="224.2" y2="55" stroke="#231f20" stroke-width="0.8"/>
<line x1="219.9" y1="56.2" x2="223.8" y2="54.2" stroke="#231f20" stroke-width="0.8"/>
<text x="225.8" y="55.3" font-size="4.6" fill="#231f20" text-anchor="middle" stroke="#fff" stroke-width="1.1" paint-order="stroke">O</text>
<polyline points="220.1,56.6 220.1,62.8 214.9,67.5 214.9,73.2" fill="none" stroke="#231f20" stroke-width="0.8"/>
<line x1="214.7" y1="73.6" x2="218.6" y2="76" stroke="#231f20" stroke-width="0.8"/>
<line x1="215.1" y1="72.8" x2="219" y2="75.2" stroke="#231f20" stroke-width="0.8"/>
<line x1="214.9" y1="73.2" x2="210.6" y2="75.4" stroke="#231f20" stroke-width="0.8"/>
<text x="220.9" y="78" font-size="4.6" fill="#231f20" text-anchor="middle" stroke="#fff" stroke-width="1.1" paint-order="stroke">O</text>
<ellipse cx="220.4" cy="55.5" rx="8.2" ry="7.1" fill="none" stroke="#3d3d9e" stroke-width="0.75"/>
<line x1="212.8" y1="60.8" x2="202.1" y2="66.4" stroke="#3a3a9c" stroke-width="1.1"/>
<polygon points="199.4,67.8 201.4,65.1 202.8,67.7" fill="#3a3a9c" stroke="none" stroke-width="0"/>
<text x="179.1" y="76" font-size="7.7" fill="#9a3f9e" text-anchor="middle" textLength="37.4" lengthAdjust="spacingAndGlyphs">Ester bond</text>
<text x="115.4" y="38.8" font-size="8.1" fill="#d92b35" textLength="52.4" lengthAdjust="spacingAndGlyphs">SM-Ester-PTX</text>
<text x="115.4" y="48.3" font-size="8" fill="#231f20" textLength="54.6" lengthAdjust="spacingAndGlyphs">(paclitaxome-1)</text>
<g transform="translate(165.60,-94.20) scale(0.7250)">
<polygon points="18.8,290.1 26.8,294.7 26.8,303.9 18.8,308.5 10.8,303.9 10.8,294.7" fill="none" stroke="#231f20" stroke-width="1.1"/>
<line x1="19.5" y1="292.6" x2="24.3" y2="295.3" stroke="#231f20" stroke-width="1.1"/>
<line x1="24.3" y1="303.3" x2="19.5" y2="306" stroke="#231f20" stroke-width="1.1"/>
<line x1="12.6" y1="302" x2="12.6" y2="296.6" stroke="#231f20" stroke-width="1.1"/>
<line x1="18.8" y1="308.5" x2="18.8" y2="317.8" stroke="#231f20" stroke-width="1.1"/>
<line x1="18.6" y1="317.4" x2="12.1" y2="320.6" stroke="#231f20" stroke-width="1.1"/>
<line x1="19" y1="318.2" x2="12.5" y2="321.4" stroke="#231f20" stroke-width="1.1"/>
<line x1="18.8" y1="317.8" x2="26.5" y2="321.3" stroke="#231f20" stroke-width="1.1"/>
<line x1="26.7" y1="330" x2="26.9" y2="330.1" stroke="#231f20" stroke-width="0.7"/>
<line x1="26.6" y1="328.1" x2="27.4" y2="328.2" stroke="#231f20" stroke-width="0.7"/>
<line x1="26.6" y1="326.2" x2="27.8" y2="326.4" stroke="#231f20" stroke-width="0.7"/>
<line x1="26.5" y1="324.3" x2="28.3" y2="324.5" stroke="#231f20" stroke-width="0.7"/>
<line x1="26.7" y1="331" x2="19.1" y2="335.8" stroke="#231f20" stroke-width="1.1"/>
<polygon points="11.1,331.2 19.1,335.8 19.1,345 11.1,349.6 3.1,345 3.1,335.8" fill="none" stroke="#231f20" stroke-width="1.1"/>
<line x1="17.3" y1="337.7" x2="17.3" y2="343.1" stroke="#231f20" stroke-width="1.1"/>
<line x1="10.4" y1="347.1" x2="5.6" y2="344.4" stroke="#231f20" stroke-width="1.1"/>
<line x1="5.6" y1="336.4" x2="10.4" y2="333.7" stroke="#231f20" stroke-width="1.1"/>
<line x1="26.7" y1="331" x2="35" y2="335.8" stroke="#231f20" stroke-width="1.1"/>
<line x1="35" y1="335.8" x2="42.9" y2="331" stroke="#231f20" stroke-width="1.1"/>
<line x1="43.4" y1="331" x2="43.4" y2="323.3" stroke="#231f20" stroke-width="1.1"/>
<line x1="42.4" y1="331" x2="42.4" y2="323.3" stroke="#231f20" stroke-width="1.1"/>
<line x1="42.9" y1="331" x2="49.3" y2="334.8" stroke="#231f20" stroke-width="1.1"/>
<line x1="57.9" y1="332" x2="57.8" y2="331.8" stroke="#231f20" stroke-width="0.7"/>
<line x1="56.2" y1="333.1" x2="55.9" y2="332.5" stroke="#231f20" stroke-width="0.7"/>
<line x1="54.5" y1="334.2" x2="54" y2="333.2" stroke="#231f20" stroke-width="0.7"/>
<line x1="52.8" y1="335.3" x2="52.1" y2="333.9" stroke="#231f20" stroke-width="0.7"/>
<line x1="60.2" y1="302.2" x2="56.6" y2="295.8" stroke="#231f20" stroke-width="1.1"/>
<line x1="59.4" y1="302.6" x2="55.8" y2="296.2" stroke="#231f20" stroke-width="1.1"/>
<line x1="59.8" y1="302.4" x2="55.2" y2="310.5" stroke="#231f20" stroke-width="1.1"/>
<line x1="59.8" y1="302.4" x2="67.8" y2="302.4" stroke="#231f20" stroke-width="1.1"/>
<polygon points="72.1,311.1 70.3,304 68.7,304.6" fill="#231f20" stroke="none" stroke-width="0"/>
<line x1="72.1" y1="311.1" x2="81.8" y2="311.1" stroke="#231f20" stroke-width="1.1"/>
<line x1="81.8" y1="311.1" x2="88.4" y2="316.7" stroke="#231f20" stroke-width="1.1"/>
<line x1="88.4" y1="316.7" x2="96.1" y2="312.1" stroke="#231f20" stroke-width="1.1"/>
<line x1="96.1" y1="312.1" x2="103.8" y2="317.7" stroke="#231f20" stroke-width="1.1"/>
<line x1="103.8" y1="317.7" x2="103.8" y2="326.9" stroke="#231f20" stroke-width="1.1"/>
<line x1="103.8" y1="326.9" x2="107.5" y2="332.6" stroke="#231f20" stroke-width="1.1"/>
<line x1="107" y1="335.2" x2="100.7" y2="338.6" stroke="#231f20" stroke-width="1.1"/>
<line x1="100.7" y1="338.6" x2="96.6" y2="331.5" stroke="#231f20" stroke-width="1.1"/>
<line x1="96.6" y1="331.5" x2="103.8" y2="326.9" stroke="#231f20" stroke-width="1.1"/>
<line x1="96.6" y1="331.5" x2="88.4" y2="326.9" stroke="#231f20" stroke-width="1.1"/>
<line x1="88.4" y1="326.9" x2="88.4" y2="316.7" stroke="#231f20" stroke-width="1.1"/>
<line x1="88.4" y1="326.9" x2="81.8" y2="331.5" stroke="#231f20" stroke-width="1.1"/>
<line x1="81.8" y1="331.5" x2="73.6" y2="331.5" stroke="#231f20" stroke-width="1.1"/>
<line x1="73.6" y1="331.5" x2="74.1" y2="322.3" stroke="#231f20" stroke-width="1.1"/>
<line x1="74.1" y1="322.3" x2="66" y2="317.7" stroke="#231f20" stroke-width="1.1"/>
<line x1="72.1" y1="311.1" x2="66" y2="317.7" stroke="#231f20" stroke-width="1.1"/>
<line x1="58.8" y1="321.3" x2="50.1" y2="317.2" stroke="#231f20" stroke-width="1.1"/>
<line x1="58.8" y1="321.3" x2="58.8" y2="331.5" stroke="#231f20" stroke-width="1.1"/>
<line x1="58.8" y1="331.5" x2="66.5" y2="335.1" stroke="#231f20" stroke-width="1.1"/>
<line x1="66.5" y1="335.1" x2="73.6" y2="331.5" stroke="#231f20" stroke-width="1.1"/>
<line x1="74.1" y1="322.3" x2="81.3" y2="317.7" stroke="#231f20" stroke-width="1.1"/>
<line x1="74.1" y1="322.3" x2="81.3" y2="326.4" stroke="#231f20" stroke-width="1.1"/>
<line x1="65.7" y1="317.2" x2="58.5" y2="320.8" stroke="#231f20" stroke-width="1.1"/>
<line x1="66.3" y1="318.2" x2="59.1" y2="321.8" stroke="#231f20" stroke-width="1.1"/>
<line x1="82.3" y1="311.2" x2="84.3" y2="304.1" stroke="#231f20" stroke-width="1.1"/>
<line x1="81.3" y1="311" x2="83.3" y2="303.9" stroke="#231f20" stroke-width="1.1"/>
<polygon points="88.4,316.7 89.2,308.5 87.7,308.5" fill="#231f20" stroke="none" stroke-width="0"/>
<polygon points="96.1,312.1 97,305.8 95.2,305.8" fill="#231f20" stroke="none" stroke-width="0"/>
<polygon points="103.8,326.9 105.8,331.9 107.2,331.1" fill="#231f20" stroke="none" stroke-width="0"/>
<polygon points="73.6,331.5 71.7,336.8 73.5,337.2" fill="#231f20" stroke="none" stroke-width="0"/>
<line x1="82.2" y1="332.5" x2="81.9" y2="332.6" stroke="#231f20" stroke-width="0.7"/>
<line x1="83" y1="334.4" x2="82.1" y2="334.7" stroke="#231f20" stroke-width="0.7"/>
<line x1="83.8" y1="336.4" x2="82.3" y2="336.8" stroke="#231f20" stroke-width="0.7"/>
<line x1="88.5" y1="327.8" x2="88.3" y2="327.8" stroke="#231f20" stroke-width="0.7"/>
<line x1="88.8" y1="329.6" x2="88" y2="329.6" stroke="#231f20" stroke-width="0.7"/>
<line x1="89.1" y1="331.4" x2="87.7" y2="331.4" stroke="#231f20" stroke-width="0.7"/>
<line x1="96.3" y1="332.5" x2="96" y2="332.4" stroke="#231f20" stroke-width="0.7"/>
<line x1="95.7" y1="334.6" x2="94.9" y2="334.2" stroke="#231f20" stroke-width="0.7"/>
<line x1="95.1" y1="336.6" x2="93.7" y2="336" stroke="#231f20" stroke-width="0.7"/>
<line x1="57.9" y1="332" x2="57.8" y2="331.8" stroke="#231f20" stroke-width="0.7"/>
<line x1="56.2" y1="333.1" x2="55.9" y2="332.5" stroke="#231f20" stroke-width="0.7"/>
<line x1="54.5" y1="334.2" x2="54" y2="333.2" stroke="#231f20" stroke-width="0.7"/>
<line x1="52.8" y1="335.3" x2="52.1" y2="333.9" stroke="#231f20" stroke-width="0.7"/>
<line x1="83.6" y1="341.8" x2="80" y2="347.5" stroke="#231f20" stroke-width="1.1"/>
<line x1="80" y1="347" x2="72.8" y2="346.4" stroke="#231f20" stroke-width="1.1"/>
<line x1="80" y1="348" x2="72.8" y2="347.4" stroke="#231f20" stroke-width="1.1"/>
<line x1="80" y1="347.5" x2="83" y2="355.5" stroke="#231f20" stroke-width="1.1"/>
<polygon points="96.8,363.5 92.2,371.5 83,371.5 78.4,363.5 83,355.5 92.2,355.5" fill="none" stroke="#231f20" stroke-width="1.1"/>
<line x1="94.3" y1="364.2" x2="91.6" y2="369" stroke="#231f20" stroke-width="1.1"/>
<line x1="83.6" y1="369" x2="80.9" y2="364.2" stroke="#231f20" stroke-width="1.1"/>
<line x1="84.9" y1="357.3" x2="90.3" y2="357.3" stroke="#231f20" stroke-width="1.1"/>
<line x1="94.3" y1="341.3" x2="97.2" y2="346" stroke="#231f20" stroke-width="1.1"/>
<line x1="97.2" y1="346" x2="108.6" y2="344.2" stroke="#231f20" stroke-width="1.1"/>
<line x1="96.7" y1="346" x2="97.3" y2="352.8" stroke="#231f20" stroke-width="1.1"/>
<line x1="97.7" y1="346" x2="98.3" y2="352.8" stroke="#231f20" stroke-width="1.1"/>
<text x="10.5" y="323.3" font-size="5.6" fill="#231f20" text-anchor="middle" stroke="#fff" stroke-width="1.1" paint-order="stroke">O</text>
<text x="31.2" y="323.3" font-size="5.6" fill="#231f20" text-anchor="middle" stroke="#fff" stroke-width="1.1" paint-order="stroke">NH</text>
<text x="42.9" y="323" font-size="5.6" fill="#231f20" text-anchor="middle" stroke="#fff" stroke-width="1.1" paint-order="stroke">O</text>
<text x="50.3" y="337.6" font-size="5.6" fill="#231f20" text-anchor="middle" stroke="#fff" stroke-width="1.1" paint-order="stroke">O</text>
<text x="55" y="296.2" font-size="5.6" fill="#231f20" text-anchor="middle" stroke="#fff" stroke-width="1.1" paint-order="stroke">O</text>
<text x="69" y="304.4" font-size="5.6" fill="#231f20" text-anchor="middle" stroke="#fff" stroke-width="1.1" paint-order="stroke">O</text>
<text x="84.8" y="304" font-size="5.6" fill="#231f20" text-anchor="middle" stroke="#fff" stroke-width="1.1" paint-order="stroke">O</text>
<text x="99" y="305.4" font-size="5.6" fill="#231f20" text-anchor="middle" stroke="#fff" stroke-width="1.1" paint-order="stroke">OH</text>
<text x="108.6" y="336" font-size="5.6" fill="#231f20" text-anchor="middle" stroke="#fff" stroke-width="1.1" paint-order="stroke">O</text>
<text x="70" y="341.3" font-size="5.2" fill="#231f20" text-anchor="middle" stroke="#fff" stroke-width="1.1" paint-order="stroke">HO</text>
<text x="83.8" y="341.8" font-size="5.6" fill="#231f20" text-anchor="middle" stroke="#fff" stroke-width="1.1" paint-order="stroke">O</text>
<text x="88.6" y="336.7" font-size="4.8" fill="#231f20" text-anchor="middle" stroke="#fff" stroke-width="1.1" paint-order="stroke">H</text>
<text x="93" y="341.4" font-size="5.6" fill="#231f20" text-anchor="middle" stroke="#fff" stroke-width="1.1" paint-order="stroke">O</text>
<text x="70.5" y="348.9" font-size="5.6" fill="#231f20" text-anchor="middle" stroke="#fff" stroke-width="1.1" paint-order="stroke">O</text>
<text x="98" y="357.3" font-size="5.6" fill="#231f20" text-anchor="middle" stroke="#fff" stroke-width="1.1" paint-order="stroke">O</text>
</g>
<polyline points="131.4,227.2 137.1,224.1 142.8,227.2 148.4,224.1 154.1,227.2 159.8,224.1 165.5,227.2 171.2,224.1 176.8,227.2 182.5,224.1 188.2,227.2 193.9,224.1 199.6,227.2 205.2,224.1 210.9,227.2" fill="none" stroke="#231f20" stroke-width="0.8"/>
<line x1="205.8" y1="225.6" x2="210.3" y2="228.5" stroke="#231f20" stroke-width="0.7"/>
<polyline points="128.8,234 134.5,237.3 140.2,234 145.9,237.3 151.6,234 157.3,237.3 163,234 168.7,237.3 174.4,234 180.1,237.3 185.8,234 191.5,237.3 197.2,234 202.9,237.3 208.6,234 214.3,237.3" fill="none" stroke="#231f20" stroke-width="0.8"/>
<line x1="210.9" y1="227.2" x2="216.9" y2="224.2" stroke="#231f20" stroke-width="0.7"/>
<line x1="216.9" y1="224.2" x2="222.6" y2="227.1" stroke="#231f20" stroke-width="0.7"/>
<line x1="222.6" y1="227.1" x2="228.8" y2="223.8" stroke="#231f20" stroke-width="0.7"/>
<line x1="228.8" y1="223.8" x2="232.3" y2="225.7" stroke="#231f20" stroke-width="0.7"/>
<line x1="235.7" y1="225.9" x2="237.7" y2="224.9" stroke="#231f20" stroke-width="0.7"/>
<line x1="240.7" y1="225" x2="243.3" y2="226" stroke="#231f20" stroke-width="0.7"/>
<line x1="246.5" y1="227.5" x2="251.1" y2="229" stroke="#231f20" stroke-width="0.7"/>
<line x1="251.1" y1="229" x2="256.8" y2="225.7" stroke="#231f20" stroke-width="0.7"/>
<line x1="256.8" y1="225.7" x2="261.5" y2="227.9" stroke="#231f20" stroke-width="0.7"/>
<line x1="265.1" y1="228.1" x2="269" y2="225.6" stroke="#231f20" stroke-width="0.7"/>
<line x1="265.1" y1="230.1" x2="268.5" y2="232.6" stroke="#231f20" stroke-width="0.7"/>
<line x1="263.4" y1="231.1" x2="263.4" y2="235.1" stroke="#231f20" stroke-width="0.7"/>
<line x1="239.2" y1="226.4" x2="239.2" y2="228.2" stroke="#231f20" stroke-width="0.7"/>
<line x1="222.6" y1="227.1" x2="221.3" y2="231.8" stroke="#231f20" stroke-width="0.7"/>
<line x1="218.8" y1="235.1" x2="215" y2="237.5" stroke="#231f20" stroke-width="0.7"/>
<line x1="239.9" y1="222.2" x2="240.1" y2="218.6" stroke="#231f20" stroke-width="0.6"/>
<line x1="239.1" y1="222.2" x2="239.3" y2="218.6" stroke="#231f20" stroke-width="0.6"/>
<line x1="214.4" y1="237.6" x2="214.3" y2="241" stroke="#231f20" stroke-width="0.7"/>
<line x1="215.2" y1="237.6" x2="215.1" y2="241" stroke="#231f20" stroke-width="0.7"/>
<polygon points="216.9,224.2 220,218.9 218.6,218.3" fill="#231f20" stroke="none" stroke-width="0"/>
<polygon points="222.6,227.1 225.4,231.4 226.6,230.4" fill="#231f20" stroke="none" stroke-width="0"/>
<line x1="216.3" y1="223.5" x2="216.5" y2="223.4" stroke="#231f20" stroke-width="0.5"/>
<line x1="215.1" y1="222.1" x2="215.6" y2="221.7" stroke="#231f20" stroke-width="0.5"/>
<line x1="213.8" y1="220.7" x2="214.8" y2="220" stroke="#231f20" stroke-width="0.5"/>
<text x="220.4" y="218.6" font-size="4.6" fill="#231f20" text-anchor="middle" stroke="#fff" stroke-width="1.1" paint-order="stroke">O</text>
<text x="234" y="228.4" font-size="4.4" fill="#231f20" text-anchor="middle" stroke="#fff" stroke-width="1.1" paint-order="stroke">O</text>
<text x="239.2" y="225.9" font-size="4.6" fill="#231f20" text-anchor="middle" stroke="#fff" stroke-width="1.1" paint-order="stroke">P</text>
<text x="239.7" y="218.4" font-size="4.2" fill="#231f20" text-anchor="middle" stroke="#fff" stroke-width="1.1" paint-order="stroke">O</text>
<text x="239.2" y="231.9" font-size="4.2" fill="#231f20" text-anchor="middle" stroke="#fff" stroke-width="1.1" paint-order="stroke">O</text>
<text x="244.9" y="228.4" font-size="4.4" fill="#231f20" text-anchor="middle" stroke="#fff" stroke-width="1.1" paint-order="stroke">O</text>
<text x="263.4" y="230.7" font-size="4.8" fill="#231f20" text-anchor="middle" stroke="#fff" stroke-width="1.1" paint-order="stroke">N</text>
<text x="221.1" y="235.5" font-size="4.4" fill="#231f20" text-anchor="middle" stroke="#fff" stroke-width="1.1" paint-order="stroke">NH</text>
<text x="214.6" y="244.8" font-size="4.4" fill="#231f20" text-anchor="middle" stroke="#fff" stroke-width="1.1" paint-order="stroke">O</text>
<text x="213.1" y="219.7" font-size="4.2" fill="#231f20" text-anchor="middle" stroke="#fff" stroke-width="1.1" paint-order="stroke">H</text>
<text x="227.5" y="233.9" font-size="4.2" fill="#231f20" text-anchor="middle" stroke="#fff" stroke-width="1.1" paint-order="stroke">H</text>
<text x="216" y="228.4" font-size="2.8" fill="#231f20" text-anchor="middle" stroke="#fff" stroke-width="1.1" paint-order="stroke">(R)</text>
<text x="223.3" y="224.6" font-size="2.8" fill="#231f20" text-anchor="middle" stroke="#fff" stroke-width="1.1" paint-order="stroke">(S)</text>
<text x="266.3" y="226.6" font-size="4" fill="#231f20">+</text>
<line x1="190.6" y1="149.4" x2="190.4" y2="149.4" stroke="#231f20" stroke-width="0.5"/>
<line x1="190.9" y1="150.7" x2="190.3" y2="150.7" stroke="#231f20" stroke-width="0.5"/>
<line x1="191.3" y1="151.9" x2="190.2" y2="152" stroke="#231f20" stroke-width="0.5"/>
<text x="190.9" y="156.2" font-size="4.6" fill="#231f20" text-anchor="middle" stroke="#fff" stroke-width="1.1" paint-order="stroke">O</text>
<line x1="190" y1="156.3" x2="187.5" y2="160.3" stroke="#231f20" stroke-width="0.8"/>
<line x1="187.5" y1="159.9" x2="182.8" y2="159.9" stroke="#231f20" stroke-width="0.8"/>
<line x1="187.5" y1="160.8" x2="182.8" y2="160.8" stroke="#231f20" stroke-width="0.8"/>
<text x="180.9" y="162" font-size="4.6" fill="#231f20" text-anchor="middle" stroke="#fff" stroke-width="1.1" paint-order="stroke">O</text>
<line x1="187.5" y1="160.3" x2="190.3" y2="163.8" stroke="#231f20" stroke-width="0.8"/>
<text x="191.4" y="167.2" font-size="4.6" fill="#231f20" text-anchor="middle" stroke="#fff" stroke-width="1.1" paint-order="stroke">O</text>
<polyline points="190.6,167.4 187.5,171.7 191.4,177.5 195.6,177.5" fill="none" stroke="#231f20" stroke-width="0.8"/>
<text x="197.3" y="179.2" font-size="4.4" fill="#231f20" text-anchor="middle" stroke="#fff" stroke-width="1.1" paint-order="stroke">S</text>
<line x1="198.2" y1="179.4" x2="199.2" y2="181.4" stroke="#231f20" stroke-width="0.8"/>
<text x="200" y="184.9" font-size="4.4" fill="#231f20" text-anchor="middle" stroke="#fff" stroke-width="1.1" paint-order="stroke">S</text>
<polyline points="201.6,183.2 206.2,183.2 211.4,189.4 215.3,189" fill="none" stroke="#231f20" stroke-width="0.8"/>
<text x="217.1" y="190.6" font-size="4.6" fill="#231f20" text-anchor="middle" stroke="#fff" stroke-width="1.1" paint-order="stroke">O</text>
<polyline points="218,190.8 219.5,194.6 217.1,200.4 219.5,207 217.1,211.8 219,215.6" fill="none" stroke="#231f20" stroke-width="0.8"/>
<line x1="219.5" y1="195" x2="224.8" y2="195" stroke="#231f20" stroke-width="0.8"/>
<line x1="219.5" y1="194.2" x2="224.8" y2="194.2" stroke="#231f20" stroke-width="0.8"/>
<text x="226.7" y="196.3" font-size="4.6" fill="#231f20" text-anchor="middle" stroke="#fff" stroke-width="1.1" paint-order="stroke">O</text>
<line x1="217.1" y1="211.4" x2="212" y2="211.4" stroke="#231f20" stroke-width="0.8"/>
<line x1="217.1" y1="212.2" x2="212" y2="212.2" stroke="#231f20" stroke-width="0.8"/>
<text x="210" y="213.5" font-size="4.6" fill="#231f20" text-anchor="middle" stroke="#fff" stroke-width="1.1" paint-order="stroke">O</text>
<text x="220" y="219.2" font-size="4.6" fill="#231f20" text-anchor="middle" stroke="#fff" stroke-width="1.1" paint-order="stroke">O</text>
<ellipse cx="198.8" cy="179.8" rx="6.7" ry="7.2" fill="none" stroke="#3d3d9e" stroke-width="0.75" transform="rotate(-25 198.8 179.8)"/>
<line x1="195" y1="186" x2="184.5" y2="192.4" stroke="#3a3a9c" stroke-width="1.1"/>
<polygon points="181.9,194 183.7,191.2 185.2,193.7" fill="#3a3a9c" stroke="none" stroke-width="0"/>
<text x="160.3" y="200.4" font-size="7.7" fill="#9a3f9e" text-anchor="middle" textLength="51.1" lengthAdjust="spacingAndGlyphs">Disulfide bond</text>
<text x="115.4" y="170.1" font-size="8.1" fill="#d92b35" textLength="45.6" lengthAdjust="spacingAndGlyphs">SM-CSS-PTX</text>
<text x="115.4" y="180.2" font-size="8" fill="#231f20" textLength="54.6" lengthAdjust="spacingAndGlyphs">(paclitaxome-2)</text>
<g transform="translate(168.20,48.40) scale(0.7270)">
<polygon points="18.8,290.1 26.8,294.7 26.8,303.9 18.8,308.5 10.8,303.9 10.8,294.7" fill="none" stroke="#231f20" stroke-width="1.1"/>
<line x1="19.5" y1="292.6" x2="24.3" y2="295.3" stroke="#231f20" stroke-width="1.1"/>
<line x1="24.3" y1="303.3" x2="19.5" y2="306" stroke="#231f20" stroke-width="1.1"/>
<line x1="12.6" y1="302" x2="12.6" y2="296.6" stroke="#231f20" stroke-width="1.1"/>
<line x1="18.8" y1="308.5" x2="18.8" y2="317.8" stroke="#231f20" stroke-width="1.1"/>
<line x1="18.6" y1="317.4" x2="12.1" y2="320.6" stroke="#231f20" stroke-width="1.1"/>
<line x1="19" y1="318.2" x2="12.5" y2="321.4" stroke="#231f20" stroke-width="1.1"/>
<line x1="18.8" y1="317.8" x2="26.5" y2="321.3" stroke="#231f20" stroke-width="1.1"/>
<line x1="26.7" y1="330" x2="26.9" y2="330.1" stroke="#231f20" stroke-width="0.7"/>
<line x1="26.6" y1="328.1" x2="27.4" y2="328.2" stroke="#231f20" stroke-width="0.7"/>
<line x1="26.6" y1="326.2" x2="27.8" y2="326.4" stroke="#231f20" stroke-width="0.7"/>
<line x1="26.5" y1="324.3" x2="28.3" y2="324.5" stroke="#231f20" stroke-width="0.7"/>
<line x1="26.7" y1="331" x2="19.1" y2="335.8" stroke="#231f20" stroke-width="1.1"/>
<polygon points="11.1,331.2 19.1,335.8 19.1,345 11.1,349.6 3.1,345 3.1,335.8" fill="none" stroke="#231f20" stroke-width="1.1"/>
<line x1="17.3" y1="337.7" x2="17.3" y2="343.1" stroke="#231f20" stroke-width="1.1"/>
<line x1="10.4" y1="347.1" x2="5.6" y2="344.4" stroke="#231f20" stroke-width="1.1"/>
<line x1="5.6" y1="336.4" x2="10.4" y2="333.7" stroke="#231f20" stroke-width="1.1"/>
<line x1="26.7" y1="331" x2="35" y2="335.8" stroke="#231f20" stroke-width="1.1"/>
<line x1="35" y1="335.8" x2="42.9" y2="331" stroke="#231f20" stroke-width="1.1"/>
<line x1="43.4" y1="331" x2="43.4" y2="323.3" stroke="#231f20" stroke-width="1.1"/>
<line x1="42.4" y1="331" x2="42.4" y2="323.3" stroke="#231f20" stroke-width="1.1"/>
<line x1="42.9" y1="331" x2="49.3" y2="334.8" stroke="#231f20" stroke-width="1.1"/>
<line x1="57.9" y1="332" x2="57.8" y2="331.8" stroke="#231f20" stroke-width="0.7"/>
<line x1="56.2" y1="333.1" x2="55.9" y2="332.5" stroke="#231f20" stroke-width="0.7"/>
<line x1="54.5" y1="334.2" x2="54" y2="333.2" stroke="#231f20" stroke-width="0.7"/>
<line x1="52.8" y1="335.3" x2="52.1" y2="333.9" stroke="#231f20" stroke-width="0.7"/>
<line x1="60.2" y1="302.2" x2="56.6" y2="295.8" stroke="#231f20" stroke-width="1.1"/>
<line x1="59.4" y1="302.6" x2="55.8" y2="296.2" stroke="#231f20" stroke-width="1.1"/>
<line x1="59.8" y1="302.4" x2="55.2" y2="310.5" stroke="#231f20" stroke-width="1.1"/>
<line x1="59.8" y1="302.4" x2="67.8" y2="302.4" stroke="#231f20" stroke-width="1.1"/>
<polygon points="72.1,311.1 70.3,304 68.7,304.6" fill="#231f20" stroke="none" stroke-width="0"/>
<line x1="72.1" y1="311.1" x2="81.8" y2="311.1" stroke="#231f20" stroke-width="1.1"/>
<line x1="81.8" y1="311.1" x2="88.4" y2="316.7" stroke="#231f20" stroke-width="1.1"/>
<line x1="88.4" y1="316.7" x2="96.1" y2="312.1" stroke="#231f20" stroke-width="1.1"/>
<line x1="96.1" y1="312.1" x2="103.8" y2="317.7" stroke="#231f20" stroke-width="1.1"/>
<line x1="103.8" y1="317.7" x2="103.8" y2="326.9" stroke="#231f20" stroke-width="1.1"/>
<line x1="103.8" y1="326.9" x2="107.5" y2="332.6" stroke="#231f20" stroke-width="1.1"/>
<line x1="107" y1="335.2" x2="100.7" y2="338.6" stroke="#231f20" stroke-width="1.1"/>
<line x1="100.7" y1="338.6" x2="96.6" y2="331.5" stroke="#231f20" stroke-width="1.1"/>
<line x1="96.6" y1="331.5" x2="103.8" y2="326.9" stroke="#231f20" stroke-width="1.1"/>
<line x1="96.6" y1="331.5" x2="88.4" y2="326.9" stroke="#231f20" stroke-width="1.1"/>
<line x1="88.4" y1="326.9" x2="88.4" y2="316.7" stroke="#231f20" stroke-width="1.1"/>
<line x1="88.4" y1="326.9" x2="81.8" y2="331.5" stroke="#231f20" stroke-width="1.1"/>
<line x1="81.8" y1="331.5" x2="73.6" y2="331.5" stroke="#231f20" stroke-width="1.1"/>
<line x1="73.6" y1="331.5" x2="74.1" y2="322.3" stroke="#231f20" stroke-width="1.1"/>
<line x1="74.1" y1="322.3" x2="66" y2="317.7" stroke="#231f20" stroke-width="1.1"/>
<line x1="72.1" y1="311.1" x2="66" y2="317.7" stroke="#231f20" stroke-width="1.1"/>
<line x1="58.8" y1="321.3" x2="50.1" y2="317.2" stroke="#231f20" stroke-width="1.1"/>
<line x1="58.8" y1="321.3" x2="58.8" y2="331.5" stroke="#231f20" stroke-width="1.1"/>
<line x1="58.8" y1="331.5" x2="66.5" y2="335.1" stroke="#231f20" stroke-width="1.1"/>
<line x1="66.5" y1="335.1" x2="73.6" y2="331.5" stroke="#231f20" stroke-width="1.1"/>
<line x1="74.1" y1="322.3" x2="81.3" y2="317.7" stroke="#231f20" stroke-width="1.1"/>
<line x1="74.1" y1="322.3" x2="81.3" y2="326.4" stroke="#231f20" stroke-width="1.1"/>
<line x1="65.7" y1="317.2" x2="58.5" y2="320.8" stroke="#231f20" stroke-width="1.1"/>
<line x1="66.3" y1="318.2" x2="59.1" y2="321.8" stroke="#231f20" stroke-width="1.1"/>
<line x1="82.3" y1="311.2" x2="84.3" y2="304.1" stroke="#231f20" stroke-width="1.1"/>
<line x1="81.3" y1="311" x2="83.3" y2="303.9" stroke="#231f20" stroke-width="1.1"/>
<polygon points="88.4,316.7 89.2,308.5 87.7,308.5" fill="#231f20" stroke="none" stroke-width="0"/>
<polygon points="96.1,312.1 97,305.8 95.2,305.8" fill="#231f20" stroke="none" stroke-width="0"/>
<polygon points="103.8,326.9 105.8,331.9 107.2,331.1" fill="#231f20" stroke="none" stroke-width="0"/>
<polygon points="73.6,331.5 71.7,336.8 73.5,337.2" fill="#231f20" stroke="none" stroke-width="0"/>
<line x1="82.2" y1="332.5" x2="81.9" y2="332.6" stroke="#231f20" stroke-width="0.7"/>
<line x1="83" y1="334.4" x2="82.1" y2="334.7" stroke="#231f20" stroke-width="0.7"/>
<line x1="83.8" y1="336.4" x2="82.3" y2="336.8" stroke="#231f20" stroke-width="0.7"/>
<line x1="88.5" y1="327.8" x2="88.3" y2="327.8" stroke="#231f20" stroke-width="0.7"/>
<line x1="88.8" y1="329.6" x2="88" y2="329.6" stroke="#231f20" stroke-width="0.7"/>
<line x1="89.1" y1="331.4" x2="87.7" y2="331.4" stroke="#231f20" stroke-width="0.7"/>
<line x1="96.3" y1="332.5" x2="96" y2="332.4" stroke="#231f20" stroke-width="0.7"/>
<line x1="95.7" y1="334.6" x2="94.9" y2="334.2" stroke="#231f20" stroke-width="0.7"/>
<line x1="95.1" y1="336.6" x2="93.7" y2="336" stroke="#231f20" stroke-width="0.7"/>
<line x1="57.9" y1="332" x2="57.8" y2="331.8" stroke="#231f20" stroke-width="0.7"/>
<line x1="56.2" y1="333.1" x2="55.9" y2="332.5" stroke="#231f20" stroke-width="0.7"/>
<line x1="54.5" y1="334.2" x2="54" y2="333.2" stroke="#231f20" stroke-width="0.7"/>
<line x1="52.8" y1="335.3" x2="52.1" y2="333.9" stroke="#231f20" stroke-width="0.7"/>
<line x1="83.6" y1="341.8" x2="80" y2="347.5" stroke="#231f20" stroke-width="1.1"/>
<line x1="80" y1="347" x2="72.8" y2="346.4" stroke="#231f20" stroke-width="1.1"/>
<line x1="80" y1="348" x2="72.8" y2="347.4" stroke="#231f20" stroke-width="1.1"/>
<line x1="80" y1="347.5" x2="83" y2="355.5" stroke="#231f20" stroke-width="1.1"/>
<polygon points="96.8,363.5 92.2,371.5 83,371.5 78.4,363.5 83,355.5 92.2,355.5" fill="none" stroke="#231f20" stroke-width="1.1"/>
<line x1="94.3" y1="364.2" x2="91.6" y2="369" stroke="#231f20" stroke-width="1.1"/>
<line x1="83.6" y1="369" x2="80.9" y2="364.2" stroke="#231f20" stroke-width="1.1"/>
<line x1="84.9" y1="357.3" x2="90.3" y2="357.3" stroke="#231f20" stroke-width="1.1"/>
<line x1="94.3" y1="341.3" x2="97.2" y2="346" stroke="#231f20" stroke-width="1.1"/>
<line x1="97.2" y1="346" x2="108.6" y2="344.2" stroke="#231f20" stroke-width="1.1"/>
<line x1="96.7" y1="346" x2="97.3" y2="352.8" stroke="#231f20" stroke-width="1.1"/>
<line x1="97.7" y1="346" x2="98.3" y2="352.8" stroke="#231f20" stroke-width="1.1"/>
<text x="10.5" y="323.3" font-size="5.6" fill="#231f20" text-anchor="middle" stroke="#fff" stroke-width="1.1" paint-order="stroke">O</text>
<text x="31.2" y="323.3" font-size="5.6" fill="#231f20" text-anchor="middle" stroke="#fff" stroke-width="1.1" paint-order="stroke">NH</text>
<text x="42.9" y="323" font-size="5.6" fill="#231f20" text-anchor="middle" stroke="#fff" stroke-width="1.1" paint-order="stroke">O</text>
<text x="50.3" y="337.6" font-size="5.6" fill="#231f20" text-anchor="middle" stroke="#fff" stroke-width="1.1" paint-order="stroke">O</text>
<text x="55" y="296.2" font-size="5.6" fill="#231f20" text-anchor="middle" stroke="#fff" stroke-width="1.1" paint-order="stroke">O</text>
<text x="69" y="304.4" font-size="5.6" fill="#231f20" text-anchor="middle" stroke="#fff" stroke-width="1.1" paint-order="stroke">O</text>
<text x="84.8" y="304" font-size="5.6" fill="#231f20" text-anchor="middle" stroke="#fff" stroke-width="1.1" paint-order="stroke">O</text>
<text x="99" y="305.4" font-size="5.6" fill="#231f20" text-anchor="middle" stroke="#fff" stroke-width="1.1" paint-order="stroke">OH</text>
<text x="108.6" y="336" font-size="5.6" fill="#231f20" text-anchor="middle" stroke="#fff" stroke-width="1.1" paint-order="stroke">O</text>
<text x="70" y="341.3" font-size="5.2" fill="#231f20" text-anchor="middle" stroke="#fff" stroke-width="1.1" paint-order="stroke">HO</text>
<text x="83.8" y="341.8" font-size="5.6" fill="#231f20" text-anchor="middle" stroke="#fff" stroke-width="1.1" paint-order="stroke">O</text>
<text x="88.6" y="336.7" font-size="4.8" fill="#231f20" text-anchor="middle" stroke="#fff" stroke-width="1.1" paint-order="stroke">H</text>
<text x="93" y="341.4" font-size="5.6" fill="#231f20" text-anchor="middle" stroke="#fff" stroke-width="1.1" paint-order="stroke">O</text>
<text x="70.5" y="348.9" font-size="5.6" fill="#231f20" text-anchor="middle" stroke="#fff" stroke-width="1.1" paint-order="stroke">O</text>
<text x="98" y="357.3" font-size="5.6" fill="#231f20" text-anchor="middle" stroke="#fff" stroke-width="1.1" paint-order="stroke">O</text>
</g>
<polyline points="134.4,370.2 140.1,367.1 145.8,370.2 151.4,367.1 157.1,370.2 162.8,367.1 168.5,370.2 174.2,367.1 179.8,370.2 185.5,367.1 191.2,370.2 196.9,367.1 202.6,370.2 208.2,367.1 213.9,370.2" fill="none" stroke="#231f20" stroke-width="0.8"/>
<line x1="208.8" y1="368.6" x2="213.3" y2="371.5" stroke="#231f20" stroke-width="0.7"/>
<polyline points="131.8,377 137.5,380.3 143.2,377 148.9,380.3 154.6,377 160.3,380.3 166,377 171.7,380.3 177.4,377 183.1,380.3 188.8,377 194.5,380.3 200.2,377 205.9,380.3 211.6,377 217.3,380.3" fill="none" stroke="#231f20" stroke-width="0.8"/>
<line x1="213.9" y1="370.2" x2="219.9" y2="367.2" stroke="#231f20" stroke-width="0.7"/>
<line x1="219.9" y1="367.2" x2="225.6" y2="370.1" stroke="#231f20" stroke-width="0.7"/>
<line x1="225.6" y1="370.1" x2="231.8" y2="366.8" stroke="#231f20" stroke-width="0.7"/>
<line x1="231.8" y1="366.8" x2="235.3" y2="368.7" stroke="#231f20" stroke-width="0.7"/>
<line x1="238.7" y1="368.9" x2="240.7" y2="367.9" stroke="#231f20" stroke-width="0.7"/>
<line x1="243.7" y1="368" x2="246.3" y2="369" stroke="#231f20" stroke-width="0.7"/>
<line x1="249.5" y1="370.5" x2="254.1" y2="372" stroke="#231f20" stroke-width="0.7"/>
<line x1="254.1" y1="372" x2="259.8" y2="368.7" stroke="#231f20" stroke-width="0.7"/>
<line x1="259.8" y1="368.7" x2="264.5" y2="370.9" stroke="#231f20" stroke-width="0.7"/>
<line x1="268.1" y1="371.1" x2="272" y2="368.6" stroke="#231f20" stroke-width="0.7"/>
<line x1="268.1" y1="373.1" x2="271.5" y2="375.6" stroke="#231f20" stroke-width="0.7"/>
<line x1="266.4" y1="374.1" x2="266.4" y2="378.1" stroke="#231f20" stroke-width="0.7"/>
<line x1="242.2" y1="369.4" x2="242.2" y2="371.2" stroke="#231f20" stroke-width="0.7"/>
<line x1="225.6" y1="370.1" x2="224.3" y2="374.8" stroke="#231f20" stroke-width="0.7"/>
<line x1="221.8" y1="378.1" x2="218" y2="380.5" stroke="#231f20" stroke-width="0.7"/>
<line x1="242.9" y1="365.2" x2="243.1" y2="361.6" stroke="#231f20" stroke-width="0.6"/>
<line x1="242.1" y1="365.2" x2="242.3" y2="361.6" stroke="#231f20" stroke-width="0.6"/>
<line x1="217.4" y1="380.6" x2="217.3" y2="384" stroke="#231f20" stroke-width="0.7"/>
<line x1="218.2" y1="380.6" x2="218.1" y2="384" stroke="#231f20" stroke-width="0.7"/>
<polygon points="219.9,367.2 223,361.9 221.6,361.3" fill="#231f20" stroke="none" stroke-width="0"/>
<polygon points="225.6,370.1 228.4,374.4 229.6,373.4" fill="#231f20" stroke="none" stroke-width="0"/>
<line x1="219.3" y1="366.5" x2="219.5" y2="366.4" stroke="#231f20" stroke-width="0.5"/>
<line x1="218.1" y1="365.1" x2="218.6" y2="364.7" stroke="#231f20" stroke-width="0.5"/>
<line x1="216.8" y1="363.7" x2="217.8" y2="363" stroke="#231f20" stroke-width="0.5"/>
<text x="223.4" y="361.6" font-size="4.6" fill="#231f20" text-anchor="middle" stroke="#fff" stroke-width="1.1" paint-order="stroke">O</text>
<text x="237" y="371.4" font-size="4.4" fill="#231f20" text-anchor="middle" stroke="#fff" stroke-width="1.1" paint-order="stroke">O</text>
<text x="242.2" y="368.9" font-size="4.6" fill="#231f20" text-anchor="middle" stroke="#fff" stroke-width="1.1" paint-order="stroke">P</text>
<text x="242.7" y="361.4" font-size="4.2" fill="#231f20" text-anchor="middle" stroke="#fff" stroke-width="1.1" paint-order="stroke">O</text>
<text x="242.2" y="374.9" font-size="4.2" fill="#231f20" text-anchor="middle" stroke="#fff" stroke-width="1.1" paint-order="stroke">O</text>
<text x="247.9" y="371.4" font-size="4.4" fill="#231f20" text-anchor="middle" stroke="#fff" stroke-width="1.1" paint-order="stroke">O</text>
<text x="266.4" y="373.7" font-size="4.8" fill="#231f20" text-anchor="middle" stroke="#fff" stroke-width="1.1" paint-order="stroke">N</text>
<text x="224.1" y="378.5" font-size="4.4" fill="#231f20" text-anchor="middle" stroke="#fff" stroke-width="1.1" paint-order="stroke">NH</text>
<text x="217.6" y="387.8" font-size="4.4" fill="#231f20" text-anchor="middle" stroke="#fff" stroke-width="1.1" paint-order="stroke">O</text>
<text x="216.1" y="362.7" font-size="4.2" fill="#231f20" text-anchor="middle" stroke="#fff" stroke-width="1.1" paint-order="stroke">H</text>
<text x="230.5" y="376.9" font-size="4.2" fill="#231f20" text-anchor="middle" stroke="#fff" stroke-width="1.1" paint-order="stroke">H</text>
<text x="219" y="371.4" font-size="2.8" fill="#231f20" text-anchor="middle" stroke="#fff" stroke-width="1.1" paint-order="stroke">(R)</text>
<text x="226.3" y="367.6" font-size="2.8" fill="#231f20" text-anchor="middle" stroke="#fff" stroke-width="1.1" paint-order="stroke">(S)</text>
<text x="269.3" y="369.6" font-size="4" fill="#231f20">+</text>
<line x1="193.5" y1="292.4" x2="193.3" y2="292.4" stroke="#231f20" stroke-width="0.5"/>
<line x1="193.8" y1="293.7" x2="193.1" y2="293.7" stroke="#231f20" stroke-width="0.5"/>
<line x1="194" y1="295" x2="192.8" y2="295" stroke="#231f20" stroke-width="0.5"/>
<text x="193.4" y="299.2" font-size="4.6" fill="#231f20" text-anchor="middle" stroke="#fff" stroke-width="1.1" paint-order="stroke">O</text>
<line x1="192.4" y1="299.3" x2="189.5" y2="303.3" stroke="#231f20" stroke-width="0.8"/>
<line x1="189.5" y1="302.9" x2="185.2" y2="302.9" stroke="#231f20" stroke-width="0.8"/>
<line x1="189.5" y1="303.8" x2="185.2" y2="303.8" stroke="#231f20" stroke-width="0.8"/>
<text x="183.3" y="305" font-size="4.6" fill="#231f20" text-anchor="middle" stroke="#fff" stroke-width="1.1" paint-order="stroke">O</text>
<line x1="189.5" y1="303.3" x2="192.4" y2="306.7" stroke="#231f20" stroke-width="0.8"/>
<text x="193.4" y="310.2" font-size="4.6" fill="#231f20" text-anchor="middle" stroke="#fff" stroke-width="1.1" paint-order="stroke">O</text>
<polyline points="192.6,310.4 190,314.7 193.8,320.5 197.4,320.5" fill="none" stroke="#231f20" stroke-width="0.8"/>
<text x="199.1" y="322.2" font-size="4.4" fill="#231f20" text-anchor="middle" stroke="#fff" stroke-width="1.1" paint-order="stroke">S</text>
<line x1="201" y1="320.6" x2="213" y2="320.6" stroke="#9a9a9a" stroke-width="0.8"/>
<line x1="206.7" y1="321" x2="207.9" y2="314.5" stroke="#231f20" stroke-width="0.8"/>
<path d="M206.7,321 Q205.2,324.5 203.9,325.6" fill="none" stroke="#231f20" stroke-width="0.8"/>
<text x="202.9" y="327.9" font-size="4.4" fill="#231f20" text-anchor="middle" stroke="#fff" stroke-width="1.1" paint-order="stroke">S</text>
<polyline points="204.6,326.4 209.6,326.7 213.4,332.4 217.3,332" fill="none" stroke="#231f20" stroke-width="0.8"/>
<text x="219.1" y="333.6" font-size="4.6" fill="#231f20" text-anchor="middle" stroke="#fff" stroke-width="1.1" paint-order="stroke">O</text>
<polyline points="220,333.8 222,337.6 219.1,343.4 222,350 219.1,354.8 221.5,358.6" fill="none" stroke="#231f20" stroke-width="0.8"/>
<line x1="222" y1="338.1" x2="227.3" y2="338.1" stroke="#231f20" stroke-width="0.8"/>
<line x1="222" y1="337.2" x2="227.3" y2="337.2" stroke="#231f20" stroke-width="0.8"/>
<text x="229.2" y="339.3" font-size="4.6" fill="#231f20" text-anchor="middle" stroke="#fff" stroke-width="1.1" paint-order="stroke">O</text>
<line x1="219.1" y1="354.4" x2="214" y2="354.4" stroke="#231f20" stroke-width="0.8"/>
<line x1="219.1" y1="355.2" x2="214" y2="355.2" stroke="#231f20" stroke-width="0.8"/>
<text x="212" y="356.5" font-size="4.6" fill="#231f20" text-anchor="middle" stroke="#fff" stroke-width="1.1" paint-order="stroke">O</text>
<text x="222.5" y="362.2" font-size="4.6" fill="#231f20" text-anchor="middle" stroke="#fff" stroke-width="1.1" paint-order="stroke">O</text>
<ellipse cx="204.6" cy="321.9" rx="10.0" ry="9.5" fill="none" stroke="#3d3d9e" stroke-width="0.75"/>
<line x1="196.2" y1="330" x2="184.5" y2="336.5" stroke="#3a3a9c" stroke-width="1.1"/>
<polygon points="181.9,338 183.8,335.2 185.3,337.8" fill="#3a3a9c" stroke="none" stroke-width="0"/>
<text x="157.7" y="344.6" font-size="7.7" fill="#9a3f9e" text-anchor="middle" textLength="52.9" lengthAdjust="spacingAndGlyphs">Thioketal bond</text>
<text x="115.4" y="312.1" font-size="8.1" fill="#d92b35" textLength="44.8" lengthAdjust="spacingAndGlyphs">SM-SCS-PTX</text>
<text x="115.4" y="321.2" font-size="8" fill="#231f20" textLength="54.6" lengthAdjust="spacingAndGlyphs">(paclitaxome-3)</text>
<text x="294.2" y="10.9" font-size="13.4" font-weight="bold" fill="#000" stroke="#000" stroke-width="0.5">b</text>
<text x="291.4" y="32.9" font-size="8.9" fill="#231f20" textLength="65.6" lengthAdjust="spacingAndGlyphs">SM-derived PTX</text>
<text x="361.3" y="32.9" font-size="8.9" fill="#231f20" textLength="12.6" lengthAdjust="spacingAndGlyphs">SM</text>
<text x="381.4" y="32.9" font-size="8.9" fill="#231f20" textLength="42.1" lengthAdjust="spacingAndGlyphs">DSPE-PEG</text>
<text x="423.9" y="35.6" font-size="6.2" fill="#231f20" textLength="6.1" lengthAdjust="spacingAndGlyphs">2K</text>
<text x="431.9" y="32.9" font-size="8.9" fill="#231f20" textLength="46.2" lengthAdjust="spacingAndGlyphs">cholesterol</text>
<rect x="299" y="35" width="20" height="25" fill="#fafafa"/>
<rect x="357" y="35" width="22" height="25" fill="#fafafa"/>
<rect x="390" y="35" width="33" height="25" fill="#fafafa"/>
<rect x="435" y="35" width="35" height="25" fill="#fafafa"/>
<line x1="306.2" y1="45.5" x2="305.6" y2="59.5" stroke="#e3a9c7" stroke-width="0.7"/>
<line x1="308.8" y1="45.5" x2="309.4" y2="59.5" stroke="#e3a9c7" stroke-width="0.7"/>
<circle cx="307.5" cy="43.4" r="3.2" fill="#e6b3cd"/>
<path d="M310.5,46 l2.2,-1.2 M311.5,48.5 l2.5,0.5 l-1,2 M310.8,50.8 l2,0.8 M312.8,45.2 l0.5,2.2" stroke="#2a3ae0" stroke-width="0.9" fill="none"/>
<line x1="309.5" y1="45.8" x2="311.2" y2="46.4" stroke="#9ad46a" stroke-width="0.8"/>
<line x1="366.8" y1="45.5" x2="366.5" y2="59.5" stroke="#e3a9c7" stroke-width="0.7"/>
<line x1="369.3" y1="45.5" x2="369.6" y2="59.5" stroke="#e3a9c7" stroke-width="0.7"/>
<circle cx="368" cy="43.7" r="3.2" fill="#e6b3cd"/>
<ellipse cx="406.5" cy="39.8" rx="14.5" ry="2.4" fill="#cfe3f0" stroke="#8ebad6" stroke-width="0.5"/>
<path d="M393,39.5 q3,-2 6,0 t6,0 t6,0 t6,0 M395,40.8 q3,1.5 6,0 t6,0 t6,0" stroke="#7fb0d0" stroke-width="0.5" fill="none"/>
<line x1="404.6" y1="47" x2="404.4" y2="61" stroke="#b49ae8" stroke-width="0.8"/>
<line x1="407.2" y1="47" x2="407.5" y2="61" stroke="#b49ae8" stroke-width="0.8"/>
<circle cx="405.9" cy="45.3" r="3.1" fill="#a27ce0"/>
<line x1="440.4" y1="56.2" x2="450" y2="47.5" stroke="#b0b0b0" stroke-width="0.5" stroke-dasharray="1,0.6"/>
<line x1="461" y1="42.5" x2="463.5" y2="41.2" stroke="#b0b0b0" stroke-width="0.5"/>
<circle cx="450.5" cy="47.0" r="1.6" fill="#8dd05c"/>
<circle cx="453.5" cy="45.2" r="1.6" fill="#8dd05c"/>
<circle cx="456.5" cy="43.8" r="1.6" fill="#8dd05c"/>
<circle cx="459.5" cy="42.8" r="1.6" fill="#8dd05c"/>
<circle cx="452" cy="46.6" r="1.6" fill="#8dd05c"/>
<circle cx="458" cy="43.0" r="1.6" fill="#8dd05c"/>
<path d="M296.6,60.2 V68.3 H471.7 V60.2 M384,68.3 V75.5" stroke="#6e9fb8" stroke-width="1.1" fill="none"/>
<defs>
<clipPath id="cutface"><ellipse cx="383.8" cy="290.6" rx="89.5" ry="54.5" transform="rotate(-40 383.8 290.6)"/></clipPath>
<clipPath id="sil"><path d="M453.1,232.4 A90.5,90.5 0 0,1 314.5,348.8 L310.6,352 A95.5,60.5 -40 0,1 457,229.2 Z"/></clipPath>
<clipPath id="inner"><ellipse cx="376.2" cy="283.4" rx="45.5" ry="29.5" transform="rotate(-41 376.2 283.4)"/></clipPath>
<radialGradient id="bead" cx="0.38" cy="0.35" r="0.7"><stop offset="0" stop-color="#fbe3ec"/><stop offset="0.55" stop-color="#eeb2c8"/><stop offset="1" stop-color="#d690ab"/></radialGradient>
<radialGradient id="beadp" cx="0.38" cy="0.35" r="0.7"><stop offset="0" stop-color="#c7b0f2"/><stop offset="1" stop-color="#8a66d6"/></radialGradient>
<radialGradient id="innershade" cx="0.35" cy="0.3" r="0.8"><stop offset="0" stop-color="#f0bfd1"/><stop offset="0.6" stop-color="#e3a0ba"/><stop offset="1" stop-color="#c47d9c"/></radialGradient>
</defs>
<path d="M453.1,232.4 A90.5,90.5 0 0,1 314.5,348.8 L310.6,352 A95.5,60.5 -40 0,1 457,229.2 Z" fill="#bad8ec"/>
<g clip-path="url(#sil)"><path d="M452.8,231.4 L455.5,235.1 L457.3,239.4 L458.8,243.7 L460.5,247.9 L461,252.8 L461.6,257.6 L462.5,262.6 L462.1,267.9 L461.8,273.5 L460.2,279.2 L458.2,285.1 L455,290.8 L452,296.6 L448.3,302.3 L443.9,307.8 L439.7,313.4 L435.3,318.9 L430.3,324.1 L425.9,329.9 L420.6,335 L414.8,339.6 L408.7,343.7 L402.8,348 L396.2,350.8 L389.9,353.7 L383.5,356.3 L377.2,358.4 L371.1,360.6 L364.9,362 L358.9,363.8 L352.9,364.5 L347.1,365.2 L341.6,364.7 L336.7,363 L332.1,361.3 L327.9,359.2 L323.7,357.1 L320.5,354.1 L317,351.2 L314.2,347.9 M454.8,233.2 L457.5,236.8 L459.8,240.7 L461.2,245.1 L462.5,249.6 L463.3,254.3 L464,259.2 L464.1,264.3 L463.6,269.7 L463.6,275.2 L462.5,281 L460.4,286.8 L457.4,292.6 L454.1,298.3 L449.8,303.8 L446.1,309.5 L441.6,314.9 L436.9,320.3 L432.2,325.6 L427.8,331.4 L422.7,336.7 L416.7,341 L411,345.8 L404.7,349.3 L398.2,352.3 L391.8,355.1 L385.6,357.8 L379.3,360 L373.1,361.4 L367,363.6 L361,364.7 L355,366.2 L349.3,366.3 L343.7,366.3 L338.5,365.3 L334,363.2 L329.6,361.3 L326.1,358.3 L322.8,355.4 L319.2,352.7 L316.6,349.3 M454.7,236.5 L457.2,240.1 L460,243.5 L461.6,247.7 L463.8,251.7 L465.2,256.2 L465.8,261.2 L466.1,266.3 L465.7,271.8 L464.6,277.4 L462.6,283 L460,288.7 L457.1,294.4 L454.3,300.2 L450.6,305.8 L447.1,311.6 L443.5,317.5 L439,323 L434.4,328.6 L429.6,334.1 L423.7,338.6 L417.7,342.8 L411.3,346.3 L405.3,350.1 L399.1,353.5 L392.8,356.3 L386.8,359.8 L380.7,362.6 L374.4,364.5 L368.3,366.8 L362.2,367.8 L356.3,368.3 L350.8,367.7 L345.5,367.1 L340.5,365.8 L336.2,363.8 L331.8,362.1 L327.3,360.6 L323.2,358.4 L320,355.3 L316.7,352.2 M457.7,238 L460.5,241.5 L462.7,245.4 L464,249.8 L465.2,254.3 L466.4,258.8 L466.4,263.8 L467.2,268.7 L467.3,274 L466.3,279.5 L465,285.2 L463.4,291 L460.2,296.7 L456.8,302.3 L453.1,307.9 L449.2,313.5 L444.5,318.7 L440.3,324.2 L435.8,329.7 L431.2,335.3 L425.9,340.3 L420.5,345.3 L414.3,349.1 L408.2,352.9 L401.9,356.3 L395.6,359.1 L389.2,361.2 L383,363.1 L376.9,365.1 L370.9,367.2 L364.9,368.4 L358.9,369.9 L353.2,370.3 L347.9,369.4 L342.9,368.3 L338.1,367 L334,364.6 L330.1,362.2 L326.9,359.2 L323.7,356.2 L320.6,353.1 M459.6,240.5 L462.3,244 L464.4,248 L466.3,252.1 L466.8,256.8 L467.5,261.5 L468.8,266 L469,271.1 L469.1,276.3 L468.1,281.8 L467.3,287.5 L465.3,293.2 L462,298.9 L459.1,304.6 L455.3,310.2 L451,315.6 L446.6,320.9 L442.1,326.2 L437.6,331.6 L432.8,336.9 L427.6,341.9 L422.4,347 L416.4,351.1 L410.5,355.1 L403.9,357.7 L397.8,361 L391.5,363.2 L385.3,365.4 L379.2,367.4 L373.2,369.1 L367.3,370.4 L361.5,370.9 L355.7,371.9 L350.4,371.1 L345.4,370.1 L340.7,368.7 L336.6,366.4 L332.9,363.8 L329.2,361.3 L326.2,358.2 L323.4,354.9 M460,244.4 L462.2,248.3 L464.1,252.2 L466,256.2 L467.6,260.3 L468.3,265 L469.6,269.5 L470.2,274.5 L470,279.8 L469.2,285.2 L466.9,290.8 L465.1,296.5 L462.3,302.1 L458.3,307.5 L454.9,313 L451.2,318.5 L447.4,324.1 L443.3,329.6 L438.9,335.1 L434.3,340.6 L428.6,345 L423,349.5 L417,353.4 L410.9,356.8 L404.7,359.8 L398.7,363.3 L392.6,365.8 L386.4,367.7 L380.5,370.3 L374.5,372 L368.5,373.5 L362.7,374.2 L357.1,374.5 L351.9,373.7 L347.1,372.2 L342.8,370.4 L338.6,368.5 L334.8,366.1 L331,364 L327.4,361.4 L324.5,358.1 M461.2,246.2 L463.9,249.6 L465.6,253.7 L467.4,257.7 L468.4,262.2 L469.1,266.7 L469.7,271.4 L470.1,276.3 L470.3,281.4 L469.5,286.8 L468.4,292.3 L466.2,297.9 L463.3,303.5 L460.2,309 L456.6,314.5 L452.2,319.6 L448.3,325 L444.1,330.3 L439.9,335.9 L435.3,341.2 L430,345.9 L424.8,350.9 L418.9,354.9 L412.7,358.1 L406.6,361.3 L400.3,363.6 L394.3,366.5 L388.3,368.5 L382.3,370.7 L376.4,372.4 L370.6,373.7 L364.8,374.7 L359.3,374.9 L354.1,374.2 L349.1,373.4 L344.9,371.3 L340.8,369.2 L336.8,367.2 L333.8,364.1 L330.6,361.4 L327.6,358.3 M463,250 L465.7,253.3 L468.9,256.3 L470.8,260.2 L472.3,264.5 L473,269.1 L472.7,274.1 L472.4,279.1 L471,284.3 L470.5,289.5 L469.1,294.8 L467.8,300.3 L465.4,305.9 L463.4,311.7 L460.5,317.4 L456.1,322.5 L452,327.9 L447.4,332.9 L442.5,337.8 L437,342 L431.7,346.5 L426.5,351 L421.3,355.6 L415.8,359.9 L410,363.4 L404,366.7 L398,369.3 L391.9,371.2 L385.9,372.6 L380.1,373.2 L374.4,374.1 L368.8,374.9 L363.6,374.8 L358.3,375 L353.4,374.2 L348.4,373.7 L343.9,372.2 L340,370 L336.8,367.1 L334,363.8 L331.6,360.3 M464.3,253.2 L467.5,256 L469.7,259.6 L471.5,263.6 L472.9,267.8 L473,272.6 L473,277.3 L472.6,282.2 L472.2,287.1 L471.2,292.2 L470.1,297.5 L469.1,303 L467.4,308.6 L464.3,314 L461.4,319.6 L457.3,324.7 L453.2,330 L448.4,334.7 L443.3,339.2 L438.4,343.8 L433.3,348.3 L428.5,353.1 L423.2,357.4 L417.6,361.4 L412,365.1 L406,368 L400.1,370.7 L394,372 L388.2,374 L382.5,374.5 L376.9,375.4 L371.5,376 L366.1,376.7 L360.9,376.8 L356,376.2 L351.3,375.1 L347,373.5 L343.2,371.3 L340.3,368.2 L337.4,365.1 L334.9,361.8 M464.8,256.6 L467.6,259.7 L469.9,263.2 L471.3,267.3 L471.8,271.8 L472.3,276.2 L472.5,280.7 L472.5,285.4 L472.7,290.2 L472.3,295.2 L471.4,300.5 L469.4,305.8 L467.7,311.3 L464.3,316.5 L460.9,321.7 L457.2,326.9 L452.5,331.5 L448.1,336.3 L444.2,341.5 L439.3,346 L434.7,350.8 L429.8,355.6 L424.6,359.9 L418.8,363.1 L413.1,366.5 L407.3,369.1 L401.4,371.2 L395.5,372.7 L389.9,374.5 L384.3,376.1 L378.8,376.9 L373.4,378 L368.2,378.2 L363.1,378.3 L358.2,377.9 L354,376.1 L349.7,374.6 L346.2,372.2 L343.6,368.9 L340.4,366.4 L338.2,363 M466,261.3 L468.6,264.5 L470.6,268 L471.6,272.2 L472.9,276.1 L473.6,280.4 L473.8,284.8 L473.8,289.4 L473.5,294.2 L473.3,299.1 L472.2,304.2 L470.9,309.4 L468.5,314.7 L465.4,319.8 L461.7,324.7 L458.1,329.8 L454.1,334.6 L449.7,339.2 L445.9,344.4 L441.5,349.1 L436.6,353.4 L432.1,358.4 L426.6,361.9 L421.1,365.5 L415.5,368.7 L409.7,371 L404,373 L398.4,374.8 L392.8,376.3 L387.4,377.6 L382,378.9 L376.8,379.7 L371.5,380.7 L366.5,380.6 L361.9,379.6 L357.6,378.2 L354,375.9 L350.8,373.5 L347.7,371 L344.6,368.5 L342.5,365.1 M464.6,266 L467.1,268.9 L469.4,271.9 L471.6,275.1 L473.5,278.7 L474.5,282.8 L475.4,287 L474.7,291.8 L473.9,296.5 L472.4,301.3 L470.6,306.2 L469.1,311.2 L466.9,316.2 L464.2,321.1 L461.7,326.2 L459,331.5 L455.9,336.7 L452,341.6 L447.5,346.2 L442.6,350.3 L437.3,353.9 L432.2,357.6 L426.8,360.9 L421.8,364.5 L416.6,367.8 L411.2,370.7 L405.9,373.7 L400.5,376.5 L395,377.7 L389.6,379.5 L384.3,380.1 L379.3,380.1 L374.6,379.3 L370,378.8 L365.6,378 L361.4,377.1 L357.1,376.2 L353.4,374.5 L350.1,372.2 L346.8,369.9 L344.6,366.6 M465.6,270.6 L468.4,273.2 L470.7,276.2 L472.6,279.5 L473.8,283.3 L474.2,287.5 L474.4,291.7 L473.5,296.3 L473.1,300.7 L472.2,305.3 L470.9,310 L469.7,314.8 L468.4,319.9 L466.3,324.9 L463.1,329.7 L460.3,334.8 L456.4,339.3 L451.7,343.4 L447.4,347.7 L442.8,351.6 L438,355.4 L433.6,359.6 L429.1,363.7 L424,367 L419.1,370.9 L413.8,373.7 L408.4,375.6 L403.1,377.9 L397.8,378.8 L392.6,379.8 L387.6,380.1 L382.8,380.4 L378.1,380.3 L373.4,380.7 L368.9,380.5 L364.6,379.7 L360.8,378.1 L357.2,376.4 L354.3,373.8 L352.1,370.7 L350.2,367.5 M465.2,274 L467.9,276.5 L469.9,279.6 L471.2,283.2 L472.2,286.9 L472.3,290.9 L472.4,295 L472.4,299.1 L471.8,303.4 L471.1,307.8 L470.9,312.3 L469.6,317.1 L467.6,321.8 L465.3,326.5 L462.4,331.2 L459,335.7 L454.9,339.8 L450.7,343.9 L446.8,348 L443,352.4 L438.6,356.2 L434.4,360.4 L429.8,364.1 L425,367.5 L420,370.5 L414.9,373 L409.7,374.7 L404.6,376 L399.6,377.1 L394.7,378.1 L389.9,379.3 L385.3,379.7 L380.7,380.2 L376.1,380.6 L371.8,380.2 L367.7,379.4 L364.4,377.3 L361.2,375.4 L358.6,372.9 L356.5,369.9 L353.9,367.5 M464.8,279.2 L467,281.8 L468.3,285.1 L469.3,288.4 L470.3,291.8 L471.8,295 L472.2,298.8 L473.1,302.5 L472.8,306.7 L472.6,311 L470.8,315.4 L468.9,319.8 L466.5,324.2 L464.2,328.6 L461.1,332.8 L458,337 L454.8,341.3 L452,345.9 L448.8,350.5 L444.9,354.5 L440.5,358 L436,361.5 L431.3,364.6 L426.5,367.2 L421.5,369.4 L416.7,371.5 L412.1,374 L407.4,376.1 L402.6,377.4 L397.9,379.7 L393.2,380.5 L388.6,381.4 L384.2,381.5 L380,380.9 L376.6,379.1 L373,377.8 L369.7,376.4 L366.5,374.8 L364.1,372.4 L361.2,370.5 L358.4,368.5 M464.6,284.5 L466.7,287 L467.7,290.3 L469,293.3 L469.7,296.6 L470.3,300 L470.5,303.6 L471.1,307.2 L470.7,311.1 L470.5,315 L469.6,319.2 L468.6,323.5 L466.3,327.6 L463.6,331.7 L460.6,335.7 L457.9,339.8 L454.6,343.6 L451.4,347.6 L448,351.4 L444.6,355.4 L440.8,359.1 L437.1,363.1 L432.6,365.8 L428.2,368.8 L423.6,371.2 L418.9,373 L414.2,374.1 L409.7,375.7 L405.3,377.5 L400.9,378.7 L396.5,380.1 L392.2,381 L388.1,381 L384,381.2 L380.3,380.2 L377.1,378.6 L374.1,376.9 L371.6,374.8 L369,372.9 L366.4,371.1 L364.7,368.4 M463.5,290.4 L465.6,292.6 L467.4,295.1 L468.8,297.8 L469.9,300.8 L470.1,304.1 L469.5,307.7 L469.3,311.2 L469.3,314.7 L468.2,318.3 L467.8,322.1 L466.8,326 L465.9,330 L464,334 L461.9,338.1 L458.8,341.8 L455.4,345.2 L451.9,348.5 L448.3,351.7 L445.1,355.4 L441.2,358.3 L437.6,361.5 L434.3,365.4 L430.2,367.9 L426.3,371.1 L421.9,372.7 L417.6,374.6 L413.3,375.6 L409.1,376.8 L405,377.2 L401,377.7 L397.1,378.3 L393.3,378.8 L389.7,378.5 L386,378.6 L382.6,377.8 L379.7,376.4 L376.7,375.2 L374.6,372.9 L372.6,370.6 L371.4,367.8 M460.7,298.4 L462.5,300.3 L464.2,302.3 L465.4,304.7 L467.1,307 L468.3,309.7 L468.6,312.8 L468.7,316 L468.1,319.4 L466.7,322.8 L465.4,326.2 L464.3,329.7 L462.1,333.1 L460.6,336.6 L458.6,340.1 L456.8,343.8 L454.6,347.4 L452.5,351.3 L449.3,354.5 L446,357.6 L442.4,360.3 L438.4,362.4 L434.7,364.9 L430.9,366.8 L427.2,369 L423.7,371.7 L419.9,373.8 L416.1,375.8 L412.3,376.9 L408.4,378 L404.7,378.1 L401.1,378.4 L397.8,377.9 L394.8,376.8 L391.6,376.6 L389,375.4 L386.2,374.6 L383.1,374 L380.8,372.5 L378.4,370.9 L376.5,368.8 M458.8,304.7 L460.3,306.6 L461.6,308.7 L462.3,311.1 L462.3,313.9 L462.4,316.5 L462.7,319.1 L462.9,321.7 L462.7,324.5 L462.7,327.4 L462.8,330.5 L461.9,333.7 L460.8,336.9 L458.9,340.1 L456.5,343 L453.6,345.7 L450.9,348.4 L448.5,351.3 L446.2,354.2 L443.7,357.2 L441.1,360.2 L438.2,362.9 L435.4,365.8 L431.8,367.5 L428.4,369.3 L425,370.9 L421.4,371.8 L418,372.3 L414.7,373.1 L411.5,374.5 L408.3,374.8 L405.1,375.7 L401.9,376.5 L398.9,376.5 L396.2,375.8 L393.7,374.7 L391.5,373.5 L389.4,372.2 L387.8,370.4 L385.9,368.9 L384.5,367.1 M456,312.2 L457.8,313.4 L458.8,315.2 L459.3,317.3 L459.9,319.3 L459.5,321.7 L459.5,323.9 L459.3,326.2 L459.7,328.4 L459.3,330.8 L459,333.3 L458.4,335.9 L457.8,338.7 L456.6,341.4 L454.8,343.9 L452.9,346.4 L450.5,348.6 L447.8,350.5 L445.5,352.7 L443.7,355.3 L441.6,357.8 L439.2,360 L436.9,362.5 L434.2,364.3 L431.3,365.8 L428.3,366.8 L425.4,367.5 L422.6,368.6 L419.9,369.2 L417.2,369.7 L414.6,370 L411.9,370.7 L409.2,371.4 L406.7,371.6 L404.3,371.3 L402.1,370.6 L400.2,369.6 L398.8,368 L397.5,366.5 L396.1,365.1 L394.8,363.7 M449.7,322.8 L450.7,324 L450.9,325.6 L451.5,327 L451,328.8 L451.3,330.2 L451.7,331.7 L451.9,333.2 L452.6,334.8 L452.7,336.6 L452.6,338.5 L451.7,340.4 L450.2,342.2 L449.2,344 L447.6,345.7 L446,347.3 L444.4,348.9 L443.4,350.8 L442.2,352.8 L440.5,354.3 L439.3,356.5 L437.5,358.1 L435.6,359.6 L433.7,361 L431.5,361.8 L429.2,362.1 L427.1,362.2 L425.2,363.3 L423.2,363.4 L421.3,364.4 L419.4,365.6 L417.5,365.8 L415.5,366.1 L413.6,366.5 L411.9,366 L410.8,364.7 L409.6,363.8 L408.6,362.7 L407.7,361.6 L406.7,360.8 L405.1,360.3" stroke="#78aed4" stroke-width="0.9" fill="none"/></g>
<g clip-path="url(#sil)"><path d="M421.9,311.3 a1.6,1 20 1,1 1.2,-1.5 M362.4,267.1 a2.9,1.7 1 1,1 2.7,1.9 M362.6,235.1 a3.2,1.9 118 1,1 -1.4,0.2 M425.8,303.4 a3.1,1.9 36 1,1 -2.1,0.8 M361,233.1 a2,1.2 2 1,1 -2.1,-1.8 M386.1,252.7 a1.6,0.9 33 1,1 2.2,-1.8 M448,274.5 a2,1.2 27 1,1 -0.4,-1.3 M412.7,295.4 a1.4,0.9 75 1,1 -2.2,-0.6 M405.4,277.8 a1.6,1 94 1,1 3,1.9 M385.2,344.5 a3.1,1.9 124 1,1 -2.4,1.4 M307.1,303.9 a2.3,1.4 113 1,1 0.4,-0.1 M325.3,276.3 a2.3,1.4 98 1,1 -1.8,0.4 M459.8,256.4 a1.6,0.9 42 1,1 -1.1,1.4 M431.8,342 a1.3,0.8 157 1,1 2.2,-1.5 M467.9,298 a2.8,1.7 145 1,1 1.1,0.1 M386.6,263.2 a2.3,1.4 112 1,1 -1,0.4 M395.8,350.5 a2.3,1.4 163 1,1 -1.1,-0.6 M311.6,237.5 a3.1,1.8 176 1,1 2,-0.9 M430.3,283.7 a1.4,0.9 128 1,1 -1.7,2 M377.8,245.9 a2.1,1.2 68 1,1 -0.3,-0.1 M300.8,274 a3.2,1.9 135 1,1 0.1,2 M439.2,309.2 a2.3,1.4 156 1,1 1.7,-1.8 M418,246.2 a3.2,1.9 93 1,1 0.1,-1.8 M352.8,291.8 a2.7,1.6 99 1,1 1.3,-0.6 M363.7,351.7 a2,1.2 95 1,1 2.4,0.7 M434.3,329.4 a1.8,1.1 0 1,1 -0.8,0.5 M400.3,310.5 a1.8,1.1 72 1,1 -1.8,-1.9 M378.5,240.2 a2.1,1.3 93 1,1 2,1.4 M435.2,259.4 a2.6,1.5 30 1,1 0.1,1.7 M389.1,323.9 a1.8,1.1 141 1,1 -1.9,1.3 M362.4,275.3 a1.3,0.8 89 1,1 -0.7,-0 M445.8,285 a1.5,0.9 52 1,1 0.1,-0.3 M333,237.4 a2.1,1.2 24 1,1 0.8,1 M400.3,274.6 a3,1.8 82 1,1 -2.6,-2 M325.5,298 a3,1.8 168 1,1 -1,-0.3 M310,248.3 a1.6,1 100 1,1 2.7,-1.8 M298.4,280.9 a2.2,1.3 61 1,1 0.4,-1.7 M390.7,352.2 a2.9,1.7 137 1,1 -0.6,-0.6 M298.5,314.8 a1.7,1 146 1,1 -1.2,1.6 M428.1,339.5 a2.4,1.5 90 1,1 -1.1,1.4 M317.5,251.6 a2.3,1.4 114 1,1 -2.6,-0.3 M368.6,327.5 a2.9,1.8 55 1,1 -1.9,-1.6 M299.8,314 a2.2,1.3 54 1,1 -1.1,1 M362.9,330.4 a3,1.8 174 1,1 2,-1.8 M337.9,323.4 a1.6,0.9 64 1,1 -0.9,-1.8 M459.5,274.1 a1.6,1 77 1,1 -0.3,0.3 M385.9,366.3 a1.6,1 171 1,1 -0.8,-1.1 M357.2,230.3 a2.4,1.4 108 1,1 0.6,0.5 M363.8,298.2 a2.8,1.7 117 1,1 -0.1,0.3 M373.9,375.8 a2.6,1.5 56 1,1 -0.7,0 M326.4,295.9 a2.4,1.5 45 1,1 -2.3,-0.3 M406.4,264.7 a1.8,1.1 89 1,1 0.2,1.4 M318,299.8 a2.9,1.8 114 1,1 -0.8,-1.8 M342.4,349.6 a2.4,1.5 179 1,1 1.6,0.2 M356,371.4 a3,1.8 138 1,1 -1.1,-0.4 M448.6,256.9 a3,1.8 108 1,1 1.1,0.9 M346.8,341.1 a2.3,1.4 63 1,1 -1.2,-1.2 M422.3,224.6 a1.8,1.1 41 1,1 -1.1,0.9 M410.4,340.8 a1.6,1 104 1,1 0.3,-0.5 M372.3,221.1 a2.6,1.6 42 1,1 0,-1.3 M437.3,329.9 a3,1.8 142 1,1 0.1,-0.4 M427.3,309.8 a1.8,1.1 66 1,1 -2.3,1.8 M324.8,299.3 a1.7,1 174 1,1 -1.9,0.3 M343.5,287.9 a1.6,1 66 1,1 1.7,0.9 M407.1,274.3 a2.6,1.6 21 1,1 -1.6,-0.2 M434.9,282.3 a2.7,1.6 42 1,1 -2.7,-0 M416.8,289.6 a3,1.8 112 1,1 1.5,0 M361.1,236 a2.8,1.7 65 1,1 -1.2,-0.9 M412.6,269.9 a1.3,0.8 110 1,1 0.8,-1.2 M387.1,226.4 a3.1,1.9 178 1,1 1.4,-0.5 M448.8,308.8 a2.7,1.6 91 1,1 -1.8,-1.4 M461,281.1 a2.2,1.3 73 1,1 -2.1,0.2 M349.4,229.3 a1.5,0.9 35 1,1 -2.5,-1.7 M372,265.3 a2.6,1.6 161 1,1 1.7,-0.4 M297,315.3 a2.4,1.5 67 1,1 -1.9,1.3 M451.5,322.4 a2,1.2 1 1,1 -2.8,0.1 M341.9,369.3 a1.4,0.8 54 1,1 -0.7,1.2 M314.2,315.6 a1.9,1.1 57 1,1 -0.4,-1.1 M425.7,292.1 a1.5,0.9 100 1,1 -2.4,-0.7 M323.8,261.1 a2.4,1.4 74 1,1 -2.4,-0.4 M347.5,268 a2.1,1.3 130 1,1 -1.4,1 M324.6,246.8 a2.7,1.6 133 1,1 0.5,0.5 M395.6,254.3 a2.1,1.3 135 1,1 -2.4,1.7 M321.6,255.4 a2.1,1.2 32 1,1 -1.1,0.1 M393.7,355.5 a1.8,1.1 18 1,1 -0,-0.1 M385.1,377.6 a2,1.2 2 1,1 -2.9,0.5 M444.1,313.7 a2.2,1.3 3 1,1 -2.7,0.7 M362.8,349.2 a1.8,1.1 78 1,1 1.8,-0.8 M330.6,268.3 a2.5,1.5 29 1,1 2.8,-1.2 M451.4,329.7 a2.3,1.4 130 1,1 -2.2,-1.3 M432,278.8 a2.9,1.7 130 1,1 -3,-1.7 M344.9,212.7 a2,1.2 85 1,1 0.4,-0.4 M315.3,305.7 a1.3,0.8 78 1,1 -0.1,0.5 M401.7,214.4 a1.6,1 24 1,1 0.9,1 M444,273.9 a1.6,1 86 1,1 0.6,0.7 M403.7,290.3 a2,1.2 98 1,1 -1.9,-1.6 M411.6,348.3 a1.7,1 107 1,1 0.4,-0.6 M367.4,298.2 a2.7,1.6 100 1,1 -0.8,0.9 M377.8,332.6 a1.7,1 50 1,1 1.6,-1.9 M312.6,333.7 a2.4,1.4 102 1,1 -0.1,-0.5 M324.3,289.4 a1.6,1 101 1,1 -2.7,0.2 M390.9,302 a2.3,1.4 175 1,1 1.8,0.9 M417.1,286.3 a2.8,1.7 29 1,1 -2.3,0.4 M430.1,274.6 a2.9,1.7 108 1,1 -0.4,-1.4 M401.5,371.1 a2,1.2 80 1,1 0.8,0.1 M449.8,302.8 a2.4,1.4 87 1,1 -1.1,-0.5 M431.3,283.3 a1.4,0.8 99 1,1 -1.5,-1.1 M423.9,274.1 a3,1.8 85 1,1 0.4,1.1 M404.3,254.9 a2.7,1.6 0 1,1 0,-0.8 M429.6,216.1 a2.7,1.6 149 1,1 -2.6,-1 M394,324.7 a3.1,1.9 51 1,1 2.5,0.2 M427.8,330.1 a1.3,0.8 101 1,1 -1.4,-0.8 M422,277.1 a3,1.8 79 1,1 -0.9,-1.6 M313.6,328.1 a2.6,1.6 167 1,1 1.7,-1 M382.6,220 a1.4,0.9 44 1,1 2.2,-0.6 M408.9,335.9 a1.4,0.9 81 1,1 0.6,-1.7 M436.3,248.2 a1.2,0.7 113 1,1 1.7,-0.2 M390.9,228.1 a1.4,0.9 43 1,1 -0.8,1.4 M369.2,372.6 a1.6,1 117 1,1 -0.7,-0.6 M377.5,297.6 a2.3,1.4 122 1,1 0.4,0.1 M408.4,292.2 a1.8,1.1 59 1,1 2.9,-1.5 M409.1,262.4 a2.8,1.7 66 1,1 -1.1,-0.5 M426.4,291.8 a1.9,1.1 3 1,1 2.9,-1.8 M362.4,311 a2.7,1.6 115 1,1 -0.9,-0.1 M445.1,293.9 a2.1,1.2 166 1,1 0.3,-1.7 M405,273.3 a1.4,0.8 26 1,1 -1.3,0.6 M424.7,298 a2.6,1.6 9 1,1 -2.3,1.6 M375.2,239.6 a2.1,1.3 158 1,1 -1.2,-0.7 M464.4,267.1 a2.6,1.6 165 1,1 2.8,-1.1 M356.1,273.8 a2.9,1.7 113 1,1 0.1,-0.4 M313.7,303.2 a3,1.8 77 1,1 2.2,-0.9 M387.4,327.2 a3,1.8 112 1,1 1.8,-1 M439.1,254.2 a1.8,1.1 88 1,1 1.6,1.1 M376.8,314.1 a3.1,1.8 77 1,1 0.6,-0.4 M441.2,275.4 a1.6,1 25 1,1 0.8,-2 M377.8,230.8 a1.3,0.8 164 1,1 -0.3,0.6 M326.7,248.2 a2.2,1.3 133 1,1 1.5,1.1 M379.7,207.4 a3.2,1.9 22 1,1 2.1,-1.7 M323.8,296.3 a2.6,1.6 51 1,1 2.1,0.9 M467.2,269 a1.7,1 45 1,1 2.6,0.5 M389.5,364.7 a1.4,0.9 94 1,1 1,1.3 M382.2,287.6 a2.1,1.2 125 1,1 0.6,1.6 M331.4,230 a1.6,0.9 117 1,1 0.5,-0 M425.1,240.2 a1.9,1.1 16 1,1 -1.8,-1.9 M401.7,273.7 a2.8,1.7 45 1,1 -2.8,-1.4 M453.2,337.1 a2.4,1.4 61 1,1 -0.1,0 M374.4,288.3 a2.3,1.4 173 1,1 3,-1.4 M373.7,334.6 a2.9,1.8 89 1,1 0.5,-1.4 M315.5,323.5 a1.3,0.8 103 1,1 2,1.7 M361.2,223.2 a3.2,1.9 68 1,1 -0.5,-0.5 M472.5,295.1 a2.8,1.7 104 1,1 1.5,-0.4 M440.5,235.7 a2.6,1.5 111 1,1 -2.7,-0.9 M343.6,334.2 a2.5,1.5 105 1,1 1.4,1.7 M365.8,239.6 a2.2,1.3 98 1,1 -0.8,-0.6 M351.3,262.1 a3,1.8 0 1,1 -1.5,-1.4 M381,324 a2.9,1.8 135 1,1 0.5,1.5 M411.2,266 a2.9,1.7 65 1,1 2.9,1 M351.8,316.4 a2.5,1.5 53 1,1 2.2,0.6 M331.7,352 a1.7,1 178 1,1 1,-0.5 M328.4,268.4 a2.5,1.5 132 1,1 -2.5,1.9 M353,353.7 a2.8,1.7 49 1,1 -1.8,0.8 M318,339.5 a2.5,1.5 55 1,1 0.1,-0.5 M332.4,258.5 a2.5,1.5 30 1,1 2.9,-1.6 M304.4,252.6 a2.5,1.5 148 1,1 -0.5,1.4 M462.8,267.2 a2.3,1.4 79 1,1 -1.1,-0.6 M382.4,257.7 a3,1.8 44 1,1 1.8,-0.1 M385.6,234.5 a2.2,1.3 41 1,1 1.1,0.3 M396.9,229.3 a1.6,1 90 1,1 -2.9,0.3 M361.8,292.3 a2,1.2 29 1,1 0.7,-0.7 M405,241 a3,1.8 102 1,1 2.1,-0.1 M409.3,360.8 a2.1,1.2 29 1,1 -1.4,-1.7 M390.1,356.8 a1.8,1.1 163 1,1 2,0.3 M347.9,253.8 a2,1.2 19 1,1 2.8,-2 M398,331.1 a2.8,1.7 51 1,1 -0.9,0.1 M432.5,319.9 a2.2,1.3 5 1,1 2.4,1.3 M405.1,367.9 a2,1.2 56 1,1 -2.3,-1.6 M453.8,322.4 a2.5,1.5 50 1,1 -1.9,-1.3 M374.7,268 a2.2,1.3 168 1,1 -2.1,-1.1 M354.4,253 a3,1.8 15 1,1 2.3,-1.1 M360.6,361.2 a3,1.8 163 1,1 -2,0.5 M413.4,295.5 a2.8,1.7 27 1,1 2.1,1.3 M304.1,261.9 a2.6,1.6 142 1,1 1.7,1.7 M367.2,348.1 a2.2,1.3 60 1,1 -2.3,1.9 M314.8,254.6 a3,1.8 57 1,1 1,1.5 M355.9,285.8 a2.1,1.3 104 1,1 -2.8,-0.5 M416.8,232.6 a2.9,1.8 42 1,1 -2.5,1.7 M471.4,307.2 a1.7,1 155 1,1 1.9,1.8 M309.5,304.7 a1.8,1.1 27 1,1 1.8,-0.6 M372.1,284.9 a1.9,1.2 9 1,1 -2.6,-1 M431.1,298.8 a2.6,1.6 120 1,1 0.8,1.4 M417.4,221.8 a2,1.2 64 1,1 -0.9,1.4 M340.2,349.1 a1.3,0.8 148 1,1 -1.2,1 M342.8,329.5 a1.4,0.8 149 1,1 -1.7,0.7 M438.9,278.3 a3.1,1.9 157 1,1 2.2,0.9 M335.2,275.8 a1.7,1 56 1,1 0.1,0.3 M312.2,307.3 a3,1.8 177 1,1 1.9,-1.4 M363,222 a3.1,1.8 0 1,1 -1.6,0 M309.4,313.1 a2,1.2 101 1,1 1.5,0.1 M365.4,345.2 a2,1.2 77 1,1 -2.5,1.3 M346.1,256.5 a1.4,0.8 98 1,1 0.7,-1 M356.3,296.9 a1.7,1 145 1,1 1.3,1.5 M399.4,316 a2,1.2 126 1,1 -1.7,-0.2 M467.8,301.6 a3.2,1.9 173 1,1 1.7,-1.7 M351,269.1 a1.3,0.8 122 1,1 -0.5,-0.4 M411.6,211.3 a2.1,1.2 3 1,1 -2.1,-2 M440.1,276.4 a1.4,0.8 45 1,1 2,0.7 M365.1,266.7 a2.3,1.4 167 1,1 2.5,1.7 M379.3,237.5 a1.2,0.7 92 1,1 0.8,0.6 M329.6,257.6 a2.7,1.6 52 1,1 -0.7,0.9 M452.1,240.2 a3.1,1.9 1 1,1 -2.5,1.3 M363,279 a2.5,1.5 1 1,1 -0.7,-1.9 M298.8,317.1 a2.3,1.4 170 1,1 -0.6,-1.4 M385.2,262.7 a1.3,0.8 29 1,1 -1.5,-1.9 M365.5,243.4 a2.8,1.7 11 1,1 -0.5,1.8 M350.1,343.2 a2.9,1.8 62 1,1 -0.7,1.3 M401.5,257.6 a3.1,1.9 91 1,1 -0.8,-0.7 M451.8,340.9 a2.1,1.3 87 1,1 2,-0.6 M457.5,339.7 a2.1,1.3 77 1,1 0.7,0.1 M326.7,289.8 a1.6,0.9 18 1,1 2.4,0.3 M382.9,377 a1.6,1 43 1,1 2.9,0.9 M399,226.8 a2.6,1.6 39 1,1 -1.8,0.5 M345.5,368.9 a1.7,1 170 1,1 2.1,-0.4 M464,296 a3.1,1.8 12 1,1 -0.8,2 M338.3,338.8 a1.9,1.1 147 1,1 -0.4,2 M435.6,224.7 a2.6,1.6 49 1,1 1.2,-1 M423.3,273.5 a2.1,1.3 50 1,1 1.2,1.9 M407.1,232.6 a1.4,0.9 127 1,1 1.1,-0.6 M414.8,332.6 a2.9,1.7 70 1,1 -3,-1.1 M352.3,324.3 a2.4,1.4 173 1,1 -2.2,-1.4 M329.7,282.9 a2.3,1.4 55 1,1 1.2,1.5 M315.9,325.4 a2.8,1.7 59 1,1 2.1,0.3 M380.6,380.9 a1.4,0.9 35 1,1 0.1,-0 M380.9,341.8 a1.6,1 102 1,1 1.8,-1.7 M457.1,298.6 a1.4,0.8 135 1,1 2.7,0.9 M418.1,345.1 a1.7,1 84 1,1 0.7,0.8 M425.3,306.1 a2,1.2 129 1,1 0.3,-0.9 M418,279.9 a2.9,1.7 4 1,1 -1.7,-1.7 M413.2,320.6 a3,1.8 106 1,1 -2.9,-0.4 M359.3,230 a2.1,1.3 23 1,1 -1,0 M381.1,343.8 a1.6,1 61 1,1 0.4,1.3 M325.4,251.7 a2.5,1.5 163 1,1 1.1,-1.9 M417.9,239.3 a1.9,1.1 86 1,1 1.5,-0.6 M442.9,299.8 a2.1,1.2 95 1,1 0.6,-1.9 M351.2,280.1 a3.1,1.9 24 1,1 -1.2,1.3 M358.9,299.1 a1.8,1.1 13 1,1 -0.9,-0.9 M398.3,379.5 a1.9,1.1 61 1,1 -0.1,0.2 M394.1,294.9 a2.3,1.4 153 1,1 -0.4,0.6 M410.2,240 a2.4,1.4 69 1,1 -0.8,0.8 M313.8,246.5 a2,1.2 25 1,1 -1.9,-1 M407.8,242.8 a1.6,1 72 1,1 0,1.1 M379,378.7 a2.6,1.6 1 1,1 0,0.4 M442.7,327.5 a1.8,1.1 110 1,1 2.6,-1.5 M366.2,240.4 a1.4,0.9 33 1,1 2.4,1.1 M325.3,222.9 a2.3,1.4 173 1,1 -0.2,1.4 M445,274.9 a3,1.8 171 1,1 0.3,0.4 M333.1,357.5 a2.9,1.7 175 1,1 0.5,0.6 M383.8,235.2 a1.9,1.2 73 1,1 2.4,0.5 M377.1,329.5 a2.4,1.4 118 1,1 2.3,-0.2 M393.3,296 a2.5,1.5 115 1,1 1.4,0.4 M337.7,307.2 a2.1,1.3 8 1,1 1.5,-1.4 M400.8,279.7 a1.3,0.8 72 1,1 -0.8,0.1 M318.4,250.5 a1.8,1.1 0 1,1 2.2,-1.2 M330.4,261.2 a3,1.8 144 1,1 -0.7,0.4 M348.3,365.1 a2.8,1.7 51 1,1 0.8,-0 M348.4,214.9 a2.2,1.3 54 1,1 -2.2,1.1 M425.8,270.8 a2.8,1.7 76 1,1 0.9,-1.5 M422.1,214 a2,1.2 96 1,1 1.2,-0.8 M410,298.2 a1.7,1 61 1,1 1.5,1.6 M383.7,257.5 a2,1.2 171 1,1 2.1,2 M416.2,221.5 a2.7,1.6 161 1,1 -0.4,-1.9 M379.8,300.2 a1.7,1 151 1,1 -0.9,1.7 M355.2,229.2 a2.9,1.8 151 1,1 2.2,1.5 M317.3,301 a2,1.2 137 1,1 0.8,0.6 M385.6,286.4 a3,1.8 85 1,1 2.2,-0.7 M356.3,271.3 a1.9,1.2 156 1,1 -1.5,0.9 M349.5,300.3 a1.9,1.1 145 1,1 -1.5,1.3 M442.4,325.5 a1.9,1.2 52 1,1 -1.2,1.5 M445.2,266.6 a1.2,0.7 21 1,1 1.6,0.1 M376.4,223.2 a2,1.2 155 1,1 -2.3,0.4 M424.8,290.6 a2.4,1.5 106 1,1 0.9,-0.6 M389.8,367.8 a3.1,1.8 146 1,1 -0.6,1 M404.7,239.2 a2.7,1.6 98 1,1 -0.2,1 M345.6,330.3 a2.9,1.7 15 1,1 -0.9,-1.6 M322.8,281.2 a1.7,1 82 1,1 0.3,-0.6 M420.4,243.2 a2.2,1.3 170 1,1 0.6,1.9 M351.2,323 a2.7,1.6 101 1,1 -0,0.5 M377,314 a2.3,1.4 25 1,1 -2.4,1.9 M320.4,355.1 a2.7,1.6 69 1,1 1.9,0.3 M435.1,326.5 a2.8,1.7 123 1,1 0.3,1.1 M420.2,216.4 a1.8,1.1 126 1,1 2.7,0.3 M423,292.9 a2.5,1.5 108 1,1 -0.8,0.5 M318.9,313.5 a1.8,1.1 73 1,1 1.3,1.7 M421.7,263.7 a2.2,1.3 23 1,1 2,0.4 M321.8,342.6 a1.7,1 101 1,1 1.9,-1.8 M353.3,215.7 a2.6,1.6 156 1,1 1.9,0.5 M428.3,240.8 a1.4,0.8 72 1,1 0.6,1 M404.4,377 a3,1.8 27 1,1 1.7,-0.1 M358.7,289.4 a1.6,1 40 1,1 -1.7,0.4 M311.7,344.7 a2.5,1.5 7 1,1 -0.7,-1.9 M349.8,296 a3.1,1.8 92 1,1 1,1.4 M355.4,236.5 a2.7,1.6 131 1,1 2.2,-0.5 M336.7,322.1 a2,1.2 145 1,1 2.7,1.4 M361.8,314.4 a1.7,1 51 1,1 -1.9,1.6 M376.4,365.4 a2.6,1.6 62 1,1 2.9,0.4 M359.9,269.4 a2.5,1.5 43 1,1 2.7,-0.9 M413.5,347.8 a2.4,1.4 124 1,1 2.3,0.2 M373.6,298.7 a2.7,1.6 66 1,1 -0.3,-0.2 M327.4,346.7 a3.2,1.9 135 1,1 -1.7,-0.5 M408.6,282.5 a1.4,0.8 16 1,1 -1.8,1.6 M314.6,238 a1.6,1 61 1,1 3,0.8 M441.9,254.9 a1.8,1.1 45 1,1 -1.3,1.8 M300,316.6 a3.2,1.9 48 1,1 2.4,1.4 M405,241.3 a2.1,1.3 138 1,1 2.1,0.5 M371.4,302.8 a2.6,1.5 6 1,1 -0.9,-2 M313.8,338.9 a1.5,0.9 160 1,1 -2.1,-0.5 M460.6,333 a1.6,0.9 60 1,1 0.5,-0.4 M387,207.4 a1.8,1.1 113 1,1 0.6,0.4 M312.9,258.5 a2.6,1.5 69 1,1 1,0.9 M307.1,311.1 a1.6,0.9 141 1,1 -1.9,-1.2 M335.8,325.2 a2.6,1.6 129 1,1 0.2,-0.2 M355.6,211.7 a3.2,1.9 58 1,1 2.7,1.7 M420.7,273.5 a2.4,1.4 47 1,1 -1.6,-0.9 M368.9,331.8 a1.8,1.1 73 1,1 1.2,1.3 M318,284.7 a3,1.8 108 1,1 -0.7,0.7 M375.4,214 a2,1.2 49 1,1 -0.8,0.8 M395.1,307.3 a1.8,1.1 65 1,1 1.7,1.6 M413.8,284.9 a2.6,1.5 55 1,1 -2.2,0.4 M399.5,329.9 a1.3,0.8 71 1,1 -1.2,1.2 M387.1,303.4 a2,1.2 11 1,1 2.1,1.6 M352.8,248.5 a1.6,0.9 112 1,1 2.7,0 M366.6,251.7 a1.6,0.9 31 1,1 -2,-0 M365.8,219 a2.5,1.5 171 1,1 1.5,-0.2 M381.8,216.8 a1.9,1.1 42 1,1 -2.8,-0.1 M438.7,225.6 a2,1.2 174 1,1 -2.6,0.4 M308.5,315.6 a2.9,1.8 13 1,1 3,-1.7 M391.8,200.8 a1.8,1.1 36 1,1 -1.3,-1.4 M450.4,248.6 a3.1,1.9 161 1,1 -0.8,1.1 M351.6,331.4 a2.1,1.2 179 1,1 2.1,0.9 M406.2,248.4 a1.3,0.8 107 1,1 1.9,0.4 M359.6,371.9 a2.9,1.8 9 1,1 1.5,1.8 M416.8,344.5 a2.9,1.8 103 1,1 1.9,-0.8 M395.4,355.9 a1.7,1 152 1,1 -1,0.6 M307.1,335.9 a3,1.8 135 1,1 -1.8,1.6 M319.1,235 a2.3,1.4 125 1,1 0.3,1.2 M424.8,238.3 a1.5,0.9 109 1,1 0.2,0.3 M451.4,252.9 a1.7,1 72 1,1 -2.2,-0.7 M416.8,295.2 a2.2,1.3 111 1,1 -2.6,1.2 M364.5,261.2 a2.4,1.4 151 1,1 -0.2,1 M373.6,264.8 a2.5,1.5 63 1,1 -1.6,2 M350.6,231.7 a1.2,0.7 91 1,1 -2.6,-0.7 M412.4,310.7 a3.1,1.8 36 1,1 -0.7,0.3 M404.1,356.8 a1.6,1 179 1,1 1.3,1.8 M440.9,337 a1.7,1 16 1,1 -0,0.9 M389.2,258.1 a1.4,0.8 77 1,1 -0.4,-1.9 M463.9,302.9 a2.6,1.6 95 1,1 -2.8,-1 M439.7,246.6 a1.4,0.9 126 1,1 2.3,-0.2 M359.8,271.6 a2.8,1.7 168 1,1 1.1,0.7 M401.4,217.5 a2.5,1.5 22 1,1 -0.2,1.5 M401.3,332.6 a1.7,1 73 1,1 2.9,-0.1 M315.3,247.5 a2.6,1.5 144 1,1 2.3,0.8 M413,239.2 a2,1.2 115 1,1 0,0.5 M464.6,270.3 a1.8,1.1 172 1,1 2.1,0.4 M352.3,310.1 a2.1,1.3 68 1,1 0.4,-0.2 M344.6,335 a1.2,0.7 49 1,1 -0.8,0.8 M375.4,298.3 a1.7,1 49 1,1 0.8,-1.5 M404.1,209.9 a2.4,1.4 4 1,1 2.1,0.7 M416.6,260 a1.4,0.9 13 1,1 2.3,0 M353.7,269.9 a2.5,1.5 167 1,1 2.9,0 M417,209.2 a2.6,1.6 23 1,1 -2.3,-1 M384.6,214.3 a1.5,0.9 131 1,1 1.3,0.9 M345.4,370.9 a2.1,1.3 163 1,1 -1.7,-0.3 M407.6,295.1 a2.2,1.3 173 1,1 -2.3,1.5 M323.6,274 a1.9,1.2 127 1,1 -2.8,-1.7 M390.9,305.1 a1.6,0.9 105 1,1 2.2,1 M411.3,342.5 a2.9,1.7 91 1,1 0.6,-0.6 M333,280.1 a2.2,1.3 109 1,1 1.9,-1.6 M442.7,293.1 a2.1,1.3 28 1,1 0.9,-1.4 M341.7,343.5 a2.9,1.7 18 1,1 -0.2,1.7 M369.2,338 a2.3,1.4 172 1,1 -1.3,-0.3 M459.8,336.1 a2.1,1.3 24 1,1 -0.5,-1.1 M381.5,370.9 a2.7,1.6 105 1,1 2.3,-0.7 M305.8,313.2 a2.5,1.5 145 1,1 2.4,-1 M301.9,266.8 a2.2,1.3 89 1,1 1.1,-0.5 M368,363.7 a1.6,0.9 165 1,1 2.9,-1.9 M321.2,249.1 a1.3,0.8 170 1,1 -2.5,0.3 M372.8,274.5 a1.3,0.8 69 1,1 1.2,0.6 M356.9,293.8 a1.6,1 167 1,1 -1.4,-0.2 M419.2,238.6 a2.2,1.3 52 1,1 -2.1,-0.2 M316.2,282 a2.6,1.6 69 1,1 1.9,1.5 M351.5,298.6 a3,1.8 143 1,1 0.3,-0.2 M448.2,263.4 a1.9,1.2 153 1,1 2.7,-0.5 M400.7,362.1 a1.2,0.7 90 1,1 2.8,0 M419.7,372.8 a1.7,1 8 1,1 -2.9,-0.3 M294.1,284.2 a1.9,1.1 61 1,1 -1.2,-0.3 M380.4,207.8 a1.5,0.9 152 1,1 -1.3,0.7 M420.8,267.9 a3.1,1.9 72 1,1 -2.8,0.7 M334.3,300.4 a1.3,0.8 145 1,1 -0.4,1.7 M367.1,278.1 a1.5,0.9 136 1,1 -0.1,0.7 M408.5,353.2 a1.4,0.9 93 1,1 1.7,1 M423,268 a1.2,0.7 152 1,1 -1.5,0.1 M379.6,344.8 a1.2,0.7 4 1,1 1.4,-0.4 M399.2,257.4 a2.7,1.6 130 1,1 2,0.5 M372.8,232.3 a2.1,1.2 141 1,1 -1.1,-1.7 M448.7,348 a1.8,1.1 16 1,1 1.8,0 M444.3,315 a1.6,1 91 1,1 -0.5,1.7 M441.2,228.8 a1.3,0.8 127 1,1 0.4,-1.4 M415.4,287.8 a3.2,1.9 7 1,1 -0.9,0.2 M438.5,326.6 a2.8,1.7 27 1,1 -1.1,-2 M419.7,225.6 a1.4,0.9 88 1,1 -2.2,1.7 M373.6,330.7 a2,1.2 86 1,1 -1.1,-0.1 M348.1,263.2 a1.4,0.9 104 1,1 1.2,-1.7 M432.3,264.7 a2.5,1.5 8 1,1 1.2,-1.3 M470.5,314.2 a2.6,1.6 69 1,1 1.2,-1.5 M409.8,317.8 a2,1.2 31 1,1 -0.7,-0.5 M348.8,359.9 a2.9,1.8 74 1,1 2.9,-0.1 M449,256.8 a2.9,1.7 38 1,1 -0.4,-1.7 M382.7,226.1 a2.9,1.7 173 1,1 1.9,1.5 M323.1,344.8 a2.2,1.3 166 1,1 2.3,1.3 M394.2,273.4 a1.2,0.7 7 1,1 0.4,1.4 M422.8,216.6 a2.1,1.2 17 1,1 1.9,1.4 M308,286.3 a2.3,1.4 127 1,1 0.3,0.2 M396.7,222.5 a1.5,0.9 136 1,1 -2.8,-0.9 M350.3,309.5 a2.9,1.7 87 1,1 -1.2,1 M420.9,346.4 a1.9,1.1 31 1,1 0.1,0.5 M348.5,349 a2.4,1.4 1 1,1 -0.9,1.2 M394.7,338.1 a1.7,1 43 1,1 -2.4,-0.8 M309,305.6 a2.5,1.5 31 1,1 1.8,2 M439,307.4 a2.1,1.3 18 1,1 -3,-1.7 M415.4,367 a1.9,1.1 109 1,1 -0.5,-1.6 M448.4,344.8 a3.2,1.9 164 1,1 -1.3,0.7 M374.8,323.5 a1.7,1 45 1,1 -2.6,1.6 M419.8,293.1 a2.4,1.5 58 1,1 -1.1,1.3 M427.6,214.8 a1.4,0.9 71 1,1 -1.9,-0.1 M395,214.8 a2.6,1.6 132 1,1 -2.6,-0.8 M372.7,313.3 a3,1.8 33 1,1 -0.2,1.2 M390.3,242 a2,1.2 78 1,1 -0.8,-0.6 M359.5,284.9 a1.7,1 70 1,1 -1.5,1.2 M433.9,292.4 a2.2,1.3 80 1,1 1.1,0.2 M411.8,319.6 a2.5,1.5 96 1,1 1.8,0.1 M392.1,293.8 a2.6,1.5 175 1,1 2.5,1.1 M330.3,343.7 a2,1.2 156 1,1 0.7,-0.3 M361.3,327.1 a2.5,1.5 98 1,1 -1.9,1.1 M357.4,256 a1.5,0.9 55 1,1 -2.1,-1.5 M452.7,334.5 a2,1.2 0 1,1 0,0.6 M394,363.9 a3.2,1.9 178 1,1 -0.4,1.6 M402.4,319 a2.7,1.6 70 1,1 -1.4,-1.5 M394,373.6 a3,1.8 121 1,1 -1.6,-1.2 M370,379.1 a1.5,0.9 148 1,1 1.2,-0 M452.9,324.9 a2,1.2 121 1,1 0.9,-1 M384.7,221 a1.9,1.1 95 1,1 -1,-1.4 M452,309.7 a1.7,1 40 1,1 2.3,-2 M409.9,210.7 a1.8,1.1 87 1,1 1.9,-1.1 M450.7,265.6 a2.9,1.7 162 1,1 -1.1,-0.5 M422.7,261.2 a1.4,0.8 9 1,1 2.3,-1.9 M423.3,260.4 a2.1,1.2 75 1,1 1.3,0.4 M420.2,227.4 a2.9,1.8 168 1,1 2.2,0.4 M330.8,329.8 a1.6,1 65 1,1 1.3,0.5 M356.3,363.6 a1.6,1 149 1,1 -1,-0.1 M344.6,345.5 a2.8,1.7 59 1,1 0.6,1.8 M342.2,336.9 a1.9,1.1 92 1,1 -2.2,-1.1 M388.7,246.7 a1.3,0.8 94 1,1 2.7,0.8 M355.3,230.2 a1.2,0.7 145 1,1 -1.9,0 M389.3,329.9 a3.1,1.8 0 1,1 -0.7,0.1 M394,297.8 a2.2,1.3 54 1,1 -2.5,-0.2 M386.3,281.6 a2.4,1.4 67 1,1 -1.1,-1.4 M403.8,238.3 a1.9,1.1 80 1,1 0.9,0.2 M371,329.1 a2.1,1.3 108 1,1 1.9,0.9 M314.7,340.2 a1.3,0.8 177 1,1 1.1,-0.2 M334.6,329.2 a1.5,0.9 56 1,1 0.7,-1.5 M375.7,308.1 a2.4,1.5 85 1,1 1.2,-1.3 M409.3,292.3 a3,1.8 124 1,1 1.9,1.3 M435.5,241.9 a2.1,1.3 130 1,1 -0.4,-0.1 M356.6,325.4 a3,1.8 24 1,1 -0.4,-1.4 M426.2,245.8 a2.7,1.6 106 1,1 1.4,-0.8 M379,329.7 a1.7,1 123 1,1 -0.9,-2 M397.6,362.2 a1.4,0.8 29 1,1 -2.1,-0.5 M380.6,364 a2.4,1.5 173 1,1 2.1,2 M465.3,311.5 a1.8,1.1 140 1,1 1.2,-1.3 M387.5,274 a2.5,1.5 159 1,1 0.9,0.8 M352.4,241.8 a1.4,0.9 96 1,1 -2.5,-1 M397.2,367.5 a3,1.8 156 1,1 2.4,1.6 M450.2,299.2 a1.4,0.8 20 1,1 -0.2,1.4 M336.3,220.7 a3.1,1.9 74 1,1 0.3,-1.5 M388.7,299.9 a1.8,1.1 47 1,1 -1.1,-0.4 M344.9,312.7 a3,1.8 84 1,1 -0.2,1.1 M425.4,349.5 a3.1,1.9 101 1,1 -2.1,-2 M329.9,310.8 a2.8,1.7 142 1,1 0.9,0.6 M378.6,230.8 a1.7,1 166 1,1 2.6,-1.7 M423.6,293.7 a1.9,1.1 58 1,1 -1.3,0.3 M441.7,249 a2.4,1.4 109 1,1 2.1,0.3 M360.1,205.7 a3.1,1.9 171 1,1 1.1,-1.1 M397.8,292.7 a1.2,0.7 52 1,1 -1.2,-1.1 M341.9,256.4 a2.2,1.3 14 1,1 -2.9,-1.5 M365.4,321.2 a1.7,1 160 1,1 -0.8,-1.4 M356.2,227.5 a1.7,1 136 1,1 -1.3,0.8 M430.8,293.5 a2.9,1.8 74 1,1 -3,0.9 M392,259.1 a2.6,1.6 111 1,1 -2.8,0.1 M335.8,315.8 a2.7,1.6 77 1,1 -0.6,-0.8 M394,212.4 a2.2,1.3 157 1,1 0.3,0.1 M334.3,250.1 a2.6,1.6 21 1,1 -2.6,1.5 M314.3,249 a2.7,1.6 54 1,1 -0.8,1.5 M341,251.9 a1.5,0.9 24 1,1 -1.2,0.9 M372.2,332.2 a2.9,1.7 50 1,1 0.4,0.7 M459.1,295.5 a2.3,1.4 89 1,1 0.2,1 M363.6,308.9 a3.2,1.9 54 1,1 2.2,0.1 M307.8,289.8 a2.2,1.3 110 1,1 2.6,-0 M372.6,263.4 a3,1.8 158 1,1 0.2,-1.4 M422.8,249.7 a2.5,1.5 14 1,1 -0.6,-1 M298.1,299.4 a2.5,1.5 11 1,1 -0.1,1.1 M437.5,273.5 a1.5,0.9 175 1,1 -0.4,-0.7 M426.2,307.7 a1.9,1.1 99 1,1 -2.8,-1.9 M410.3,346 a2.5,1.5 98 1,1 -1.2,-0.9 M391.6,264.7 a1.4,0.8 104 1,1 -0.2,-0.4 M395.5,206 a1.9,1.2 33 1,1 1.9,1.4 M350.7,315.4 a2,1.2 100 1,1 2.4,-0.1 M392.8,240 a1.6,0.9 12 1,1 0.5,0.5 M394.5,228.5 a2.9,1.7 40 1,1 -0,-1.1 M336.3,303.8 a3,1.8 40 1,1 0.8,-0 M300.4,290.1 a2.5,1.5 56 1,1 -1.3,0.5 M343,329.3 a2.7,1.6 1 1,1 -1.1,1.9 M375.2,255 a2.8,1.7 109 1,1 2,1.1 M443.4,264.3 a3,1.8 133 1,1 -2.4,0.2 M332,287.1 a1.7,1 28 1,1 -0.6,1.8 M390.7,341 a2.3,1.4 94 1,1 -0.9,0.5 M344.1,359.6 a3.2,1.9 177 1,1 -1.6,1.3 M382.4,330.2 a2.6,1.6 49 1,1 -2.7,-1.4 M373.3,318.2 a2.3,1.4 92 1,1 -1.2,0.2 M299.3,265.3 a3.2,1.9 15 1,1 2.7,1.3 M461.9,260.9 a2.9,1.8 91 1,1 -2.9,-1.8 M429.3,256.3 a2.1,1.3 143 1,1 -1.4,0.2 M442.9,265.4 a1.4,0.8 134 1,1 0.3,1.3 M329.4,298.1 a2.9,1.7 177 1,1 1.1,-1.3 M429.4,240.9 a1.8,1.1 39 1,1 -3,-1.5 M454.1,272.1 a1.3,0.8 140 1,1 1.5,-1.8 M421.5,288.1 a2.2,1.3 125 1,1 1,-0.5 M468.3,266.3 a1.4,0.8 168 1,1 1.8,-0.1 M330.9,358.9 a3,1.8 77 1,1 -2.4,0.1 M361.4,296.7 a2,1.2 54 1,1 0.2,1.3 M427.8,222.8 a1.8,1.1 164 1,1 -2.5,0 M432.3,318.6 a3,1.8 56 1,1 3,0.2 M347.3,285.9 a2.2,1.3 171 1,1 -1,1.4 M356.9,367 a1.6,0.9 86 1,1 -2.3,-1.7 M312.3,255.2 a2.6,1.6 103 1,1 -0.4,1.6 M432,341.5 a2.2,1.3 12 1,1 -2.7,-1.1 M315.7,272.3 a1.9,1.1 156 1,1 -0.8,-1.6 M382.6,330.6 a2.9,1.8 119 1,1 0.5,0.5 M418,286.7 a1.4,0.8 129 1,1 -0.6,1.8 M452.3,250 a1.4,0.9 17 1,1 1.4,-1.1 M377.1,300.9 a2.2,1.3 92 1,1 -1.1,0.5 M295.5,285.6 a2.1,1.3 131 1,1 -0.9,1.1 M368.9,226.2 a2.5,1.5 53 1,1 0.4,-0.9 M376.9,321.9 a2.3,1.4 37 1,1 2.3,1.1 M390,317.4 a2,1.2 107 1,1 0.9,0.6 M443.7,264.6 a2.3,1.4 57 1,1 -2,-0.2 M345.5,263 a1.5,0.9 22 1,1 -1.2,-1 M394.1,332.4 a1.7,1 5 1,1 -2.6,1.7 M431.5,225.1 a2.8,1.7 100 1,1 -1.5,0.4 M452,275.3 a1.5,0.9 62 1,1 2.1,0.9 M455.8,242.8 a3,1.8 166 1,1 -0.9,-0 M348.1,371 a1.9,1.2 81 1,1 -1.9,1.3 M411.5,315.2 a1.4,0.8 122 1,1 -0.8,-0.9 M366.3,358.7 a1.7,1 136 1,1 1.1,-0.6 M325,253.9 a2.6,1.6 84 1,1 -2.5,-0 M319.3,324.7 a1.2,0.7 31 1,1 0.1,0.5 M448.7,305.7 a2.5,1.5 19 1,1 -2,-1.6 M357.3,372.7 a2.8,1.7 44 1,1 3,1.7 M376.5,246.3 a1.7,1 112 1,1 1.6,1.8 M432,253.6 a1.3,0.8 106 1,1 -2.3,-0.8 M462.8,265.9 a2.4,1.5 144 1,1 -2.4,-1.8 M350.8,347.8 a3.2,1.9 6 1,1 2.5,-0.6 M457.7,327.4 a1.4,0.9 23 1,1 -1.4,-1.6 M394.2,271.9 a1.9,1.1 2 1,1 -0.7,-0.8 M308.6,297.5 a2.8,1.7 77 1,1 3,-0.3 M329.7,291.4 a3,1.8 42 1,1 0.5,-1.3 M443.4,340.7 a1.6,0.9 60 1,1 2.6,-0.7 M352.1,230.8 a1.4,0.8 105 1,1 -2,1.3 M449.1,339.3 a3,1.8 35 1,1 2,1.6 M433.2,238.4 a3,1.8 27 1,1 2.6,0.1 M431.1,218.3 a2.7,1.6 94 1,1 1.9,0.2 M429.7,337.6 a1.9,1.2 155 1,1 -2.8,-1.6 M438.8,264 a2.7,1.6 121 1,1 -2.2,0.2 M410.9,341.8 a2,1.2 142 1,1 -2.1,1.8 M446.9,315.9 a2.9,1.8 50 1,1 -2.1,-1.6 M368.3,234.8 a1.4,0.8 32 1,1 0.1,0.1 M375.2,364 a1.8,1.1 85 1,1 2.1,-1.9 M390,309.8 a2.7,1.6 145 1,1 0.3,0.1 M378.8,317.8 a3.1,1.9 137 1,1 -2.8,1.2 M340,333.9 a3,1.8 27 1,1 0.6,-0.5 M441.8,231 a1.6,1 116 1,1 -1.5,-0.6 M382.6,238.1 a1.9,1.2 80 1,1 2.3,-1.2 M338.7,256.7 a2.9,1.7 93 1,1 0.3,1.5 M375.1,274.6 a2.2,1.3 53 1,1 -2.2,0.7 M298.3,292.2 a2.1,1.3 12 1,1 -1.3,-0.7 M371,343.8 a1.9,1.1 27 1,1 -1.5,-1.7 M373.6,238.1 a2.9,1.7 89 1,1 1.3,-1.2 M356.5,274.9 a1.3,0.8 72 1,1 -1.4,1.2 M429.9,333.2 a2.3,1.4 161 1,1 -0.1,0.8 M363.7,336.8 a1.9,1.2 96 1,1 -0.8,1.1 M414.2,330.7 a1.8,1.1 58 1,1 0.8,-1.1 M375.8,261.4 a2.5,1.5 80 1,1 -0.4,-1.7 M410.1,316.2 a1.4,0.9 130 1,1 -0.5,-1.8 M324.5,288.5 a1.6,1 77 1,1 -1.1,-1 M346.7,334 a3,1.8 83 1,1 2.8,-1 M357.8,335.8 a2,1.2 11 1,1 2.6,1.8 M369.8,204.5 a2.3,1.4 62 1,1 -0.4,0.7 M427.6,228.4 a2.8,1.7 156 1,1 1,0.6 M387.9,242.8 a2.3,1.4 1 1,1 -1,0.5 M451.8,245.8 a3.1,1.9 11 1,1 -2,1.8 M393.1,295 a3,1.8 97 1,1 -1.8,1.2 M320.4,303.1 a2.9,1.8 166 1,1 -2.7,-0.2 M378.1,363 a2,1.2 36 1,1 -1.7,0.2 M449.3,282.3 a3.1,1.9 12 1,1 -2.1,1.6 M382.3,253 a1.4,0.8 6 1,1 1.6,-1.3 M307.1,277.1 a1.5,0.9 14 1,1 2.6,-0 M382.9,309.1 a1.7,1 165 1,1 2.2,-0.5 M377.1,376.1 a3.2,1.9 84 1,1 -2.4,1.4 M430.3,233.3 a1.8,1.1 109 1,1 -0.6,-0.7 M356.8,238.4 a2.1,1.2 170 1,1 -2.1,-1.4 M468,313.5 a2.3,1.4 69 1,1 -0.5,-1.9 M394.7,358.5 a2.8,1.7 35 1,1 -0.2,-0.9 M389.2,296.2 a2.6,1.6 101 1,1 -1.1,-0.1 M390.9,215.4 a2.6,1.5 87 1,1 -1.5,1.9 M348,254.1 a2.6,1.5 78 1,1 -2.9,-1 M375.7,256.6 a1.7,1 125 1,1 2.2,-0.4 M461.9,330.7 a1.3,0.8 113 1,1 0.5,0.2 M350.8,276.7 a1.7,1 143 1,1 -0.6,0.7 M443.5,246.4 a1.3,0.8 90 1,1 -1,0.7 M338.6,293.9 a1.3,0.8 54 1,1 0.4,1.3 M341.8,337.1 a3,1.8 15 1,1 0.5,1.7 M349.6,311.9 a1.6,1 102 1,1 2.6,0.9 M349.6,211.9 a2.9,1.8 178 1,1 -1,-0.9 M393.4,279.8 a2,1.2 55 1,1 -1.2,-0 M342.2,349.8 a2.9,1.7 15 1,1 -0.6,-1 M377.5,258 a1.4,0.8 130 1,1 0,-1.3 M426.2,244.4 a2.8,1.7 176 1,1 -2.6,0.3 M425.6,359.6 a2.2,1.3 23 1,1 -1.5,0.3 M347.7,341 a3.1,1.9 116 1,1 -1.6,0.2 M319,320.8 a1.7,1 12 1,1 2.6,0.3 M436.3,246.4 a3.1,1.8 81 1,1 2.6,0.7 M418.9,318.6 a2.8,1.7 73 1,1 -0.2,1.6 M354.9,238.6 a2.3,1.4 89 1,1 -0,-1.1 M388.2,367 a2.6,1.5 33 1,1 -2.5,-1.4 M388.8,206.7 a2.2,1.3 7 1,1 1.3,0.2 M377.2,285.4 a1.4,0.8 69 1,1 -0.8,1.9 M381.6,338.7 a1.6,1 59 1,1 0.3,-1 M447.2,318 a1.2,0.7 40 1,1 0.4,-0.3 M451.9,243.3 a2.5,1.5 116 1,1 -2.2,-0.6 M328.7,264 a3.2,1.9 112 1,1 0.4,1.9 M322.3,337.9 a1.9,1.1 96 1,1 0,-0.7 M397,304.8 a2.8,1.7 140 1,1 0.5,0.4 M335.5,300.3 a2.6,1.6 63 1,1 1.6,0.5 M359.6,273.2 a1.7,1 101 1,1 2.3,-1.9 M400.3,285.2 a2.8,1.7 77 1,1 -2.2,0.8 M448.5,274.1 a3,1.8 46 1,1 1.1,1 M349.1,274.6 a1.8,1.1 89 1,1 1.4,-1.3 M350.7,207.2 a1.3,0.8 134 1,1 2.2,0 M460.3,258 a3.1,1.9 75 1,1 0.2,-0.5 M340.4,228.3 a2.8,1.7 103 1,1 -1,0.2 M373.8,350.2 a1.3,0.8 138 1,1 -2,1.9 M433.8,364.5 a2.9,1.7 170 1,1 -0.6,-1.2 M308.1,286.5 a1.7,1 59 1,1 1.4,-1.3 M357,321.6 a3.1,1.8 156 1,1 -1.7,0.1 M412.6,229.1 a1.3,0.8 21 1,1 -0.4,1.3 M410.7,210.8 a2.5,1.5 114 1,1 2.4,-0.3 M444.8,275.4 a1.5,0.9 3 1,1 0.9,1.3 M458.9,316.9 a2.4,1.4 75 1,1 0.7,-0.8 M449.9,290.8 a2.1,1.3 128 1,1 0.5,-0.7 M386.9,311.7 a2.4,1.4 68 1,1 2.9,-0.9 M329.6,293.5 a1.5,0.9 52 1,1 0.9,1 M408.7,255.4 a2.9,1.8 19 1,1 -2.9,-1.8 M413.6,370.9 a1.6,1 3 1,1 1.2,-1.8 M384,207.8 a1.5,0.9 81 1,1 0.9,-0.4 M447,252.3 a2.8,1.7 31 1,1 -0.3,0.3 M395,295.4 a2.9,1.7 159 1,1 0.7,0.5 M305,317.6 a1.4,0.8 69 1,1 0.2,1.2 M423.5,261.1 a1.9,1.1 106 1,1 2.1,1.1 M443.5,226.2 a2.5,1.5 125 1,1 -0.4,1.2 M460.6,270.3 a2.6,1.6 0 1,1 2.2,-2 M341.1,360.2 a2,1.2 90 1,1 1.3,-1.1 M330,293 a2.5,1.5 128 1,1 0.1,0.1 M454.8,319.7 a3.1,1.9 117 1,1 -0.1,-1.9 M365,357.4 a1.3,0.8 121 1,1 -2,0.3 M383.8,230.5 a3.1,1.9 18 1,1 -0.6,0.4 M326.3,320.8 a2.6,1.5 108 1,1 -1.5,-0.7 M312.7,236.1 a2,1.2 108 1,1 -0.4,0.3 M297.2,264.9 a2.7,1.6 71 1,1 0.8,-0.9 M418.7,292.8 a3,1.8 97 1,1 -2,-0.9 M421,290.8 a3,1.8 120 1,1 1.5,1.1 M339.4,336.9 a2.9,1.7 165 1,1 -0.5,0.1 M396.5,363.7 a1.6,0.9 138 1,1 -2.2,1.1 M315.4,311.6 a1.5,0.9 134 1,1 -1.7,-1.6 M351.3,349.1 a2,1.2 64 1,1 -2.3,-1.3 M295.7,303.1 a2.7,1.6 127 1,1 2.5,0.9 M348.7,208.8 a2.6,1.6 31 1,1 -2.1,-0.9 M396.2,205.9 a1.2,0.7 180 1,1 0.3,0.9 M328.7,333.2 a2.2,1.3 117 1,1 -0.2,-1.8 M452.1,321.9 a1.4,0.8 70 1,1 -0,-0.6 M314,335.8 a2.3,1.4 106 1,1 1.5,1.2 M366.3,300.1 a2.5,1.5 2 1,1 -1.3,-1.5 M346.8,301.5 a1.6,1 44 1,1 -0.6,-0.1" stroke="#cfe5f3" stroke-width="0.5" fill="none" opacity="0.6"/></g>
<path d="M465.8,253.8 a1.4,1 0 1,1 -1.8,1 M433.7,366.2 a1.9,1.4 0 1,1 -1.8,1.8 M462.3,334.6 a1.3,0.9 0 1,1 -0.9,-0 M466.3,322.9 a2.2,1.5 0 1,1 0.9,1.6 M377.2,378.5 a1,0.7 0 1,1 -0.8,1.3 M438.6,362.7 a1,0.7 0 1,1 0.1,-0.7 M314.7,346.6 a1.4,1 0 1,1 0.7,0.9 M447,355.4 a1.1,0.8 0 1,1 1.5,-1.9 M400.6,377.7 a2,1.4 0 1,1 -1.4,0.2 M321.5,356 a1.9,1.4 0 1,1 0.7,1.3 M349.2,371.6 a2.4,1.7 0 1,1 0.6,1.8 M393.6,379.5 a1.1,0.8 0 1,1 -1.3,0.2 M474.3,285.7 a1.2,0.8 0 1,1 0.2,1.9 M351.2,375.2 a2,1.4 0 1,1 1.9,-0.6 M400.4,378 a1.3,0.9 0 1,1 -1.6,0.2 M461.3,244.4 a1.8,1.3 0 1,1 -1.5,0.8 M469.9,309.6 a2.1,1.5 0 1,1 -0.8,1.9 M350.8,375 a2.4,1.7 0 1,1 -0.2,-0.8 M472.5,299.2 a1.3,0.9 0 1,1 0.6,0.9 M457.5,240.5 a1.5,1.1 0 1,1 -1.9,1.9 M458.1,243.4 a1.9,1.4 0 1,1 -0.9,-0.9 M461.3,245.7 a1.7,1.2 0 1,1 1.4,-0.2 M394.6,380.7 a2.5,1.7 0 1,1 -0.4,-0 M462,245.6 a2.3,1.6 0 1,1 -1.3,-1.6 M467.3,257.1 a2,1.4 0 1,1 1.5,0.3 M400.5,380.4 a2,1.4 0 1,1 2,-1.9 M469.1,324.8 a2.4,1.7 0 1,1 -0.4,0.2 M463.3,248.8 a1.6,1.1 0 1,1 -1,-1.6 M452.5,233.4 a1.7,1.2 0 1,1 -1.8,1.9 M369.3,381 a1.8,1.3 0 1,1 -1.4,0.7 M471.6,282.2 a1.1,0.7 0 1,1 0.7,-1.4 M466.5,260 a1.1,0.8 0 1,1 1.7,-1.5 M402.2,378.3 a1.1,0.8 0 1,1 -0.8,-0.4 M334.5,364.4 a2.1,1.5 0 1,1 -1.6,0.5 M338.5,366.6 a1.6,1.1 0 1,1 -1.1,1.7 M325.5,361.7 a1.4,1 0 1,1 -0.1,1.8 M363.8,376.5 a1.8,1.2 0 1,1 1,-0.1 M459.4,342.5 a2.1,1.5 0 1,1 -1.6,1.8 M437.3,362 a1.9,1.3 0 1,1 0.2,1.1 M454.7,347.1 a1.5,1 0 1,1 0.2,-1.2 M469.2,266.4 a2.5,1.7 0 1,1 -1.2,-1.5 M316.6,352.7 a1.7,1.2 0 1,1 1.2,-0 M430.8,366.7 a1.1,0.8 0 1,1 1.5,-0.4 M351.7,375.3 a1.3,0.9 0 1,1 0,0.1 M308.5,337.9 a1.7,1.2 0 1,1 -0.4,-1.4 M352.8,373.5 a2.1,1.5 0 1,1 1.3,0 M348.2,372.7 a1.2,0.8 0 1,1 -1.7,1.6 M468.9,263.7 a1.2,0.8 0 1,1 0.9,0.9 M455.7,237.8 a1.8,1.3 0 1,1 -0.8,-1.1 M400.7,379.3 a1.3,0.9 0 1,1 1.1,-1.3 M346.1,373.3 a2.2,1.6 0 1,1 1.5,-0.4 M364.5,379.3 a2.2,1.5 0 1,1 -0.4,0 M359.9,378.8 a1.8,1.2 0 1,1 1.8,1.2 M389.3,380.9 a2.2,1.5 0 1,1 -0.1,1.7 M455.2,343.6 a1.9,1.3 0 1,1 0.2,1 M461.7,334.5 a2.5,1.7 0 1,1 1.5,1.1 M397.4,380 a1.9,1.3 0 1,1 -0.6,-0.7 M396.6,379.8 a1.9,1.4 0 1,1 0,0.3 M471.5,305 a1.5,1.1 0 1,1 -1.1,1.3 M463.1,329.8 a2.2,1.6 0 1,1 -1.3,-1 M378,380.8 a2.3,1.6 0 1,1 -1.5,1.9 M362.1,377.3 a2.1,1.5 0 1,1 -1.8,-0.9 M376.7,378.3 a1.3,0.9 0 1,1 1.7,-0.4 M387.8,378.9 a1.2,0.9 0 1,1 1.5,-1.3 M392.2,381.6 a1.5,1 0 1,1 1.7,-0.7 M433.1,366.1 a2.3,1.6 0 1,1 -1.8,1.7 M439.8,362.9 a2.4,1.6 0 1,1 -2,-0.5 M472.6,276.5 a1.6,1.1 0 1,1 -1.4,-0.3 M470.8,276.4 a1,0.7 0 1,1 1.9,1.7 M456.2,239.8 a1.9,1.4 0 1,1 1.3,-1 M325.6,360.3 a2.4,1.7 0 1,1 1.2,1 M449.8,229.3 a2.1,1.4 0 1,1 0.9,0.7 M452.5,234.5 a1.7,1.2 0 1,1 -0.6,1.4 M317.7,353.2 a2.1,1.5 0 1,1 -0,-1 M448.8,353.2 a1.5,1 0 1,1 0.8,-0.5 M447.6,353.6 a2.2,1.5 0 1,1 -1.7,0.2 M367.6,378.2 a1.8,1.3 0 1,1 1,-1.3 M441.1,357.7 a1.2,0.8 0 1,1 -1.6,1.2 M312.7,344.9 a2.2,1.5 0 1,1 1,-0.3 M472.3,270.2 a2.5,1.7 0 1,1 -1.7,-1.9 M459.9,239.8 a2.3,1.6 0 1,1 -0.8,1.3 M444,225.5 a1.2,0.8 0 1,1 -0.5,-1.9 M405.4,377.4 a1.5,1.1 0 1,1 0.4,1.9 M317.2,348.7 a1.4,1 0 1,1 1.2,-0.7 M463.2,334.8 a2.4,1.7 0 1,1 -0.3,0.9 M464.3,330.7 a1.8,1.3 0 1,1 1,-0.7 M307.4,338.8 a1.5,1.1 0 1,1 0.9,1.2 M343.4,372 a1.6,1.1 0 1,1 -1.6,0.3 M392.6,379.1 a1.8,1.3 0 1,1 0,-2 M442.1,360.3 a2.5,1.7 0 1,1 -0.2,-0.4 M474.2,305.2 a1.5,1.1 0 1,1 1.5,-0.6 M428.6,366.5 a1.7,1.2 0 1,1 -1.8,-0.9 M473.3,298.8 a1.3,0.9 0 1,1 -1.6,-1.4 M323.5,360 a1.2,0.8 0 1,1 1.8,-0.2 M311,346.6 a1.3,0.9 0 1,1 0.9,0.2 M361.6,379.5 a1.8,1.3 0 1,1 1,-0.9 M471.6,270.8 a1,0.7 0 1,1 0.3,1.1 M450.4,349.3 a2.3,1.6 0 1,1 -0.9,0.5 M310.4,340.3 a1.6,1.1 0 1,1 -0.8,1.3 M427.8,369.7 a1.6,1.1 0 1,1 1.9,-0.8 M471.6,273.9 a2.4,1.7 0 1,1 0.5,-0.5 M472,286.6 a1.4,1 0 1,1 0.1,1.4 M317.4,350.8 a2,1.4 0 1,1 -0.6,-0.8 M471.7,273.7 a1.3,0.9 0 1,1 -0.2,-0 M319,355.7 a2,1.4 0 1,1 1.7,-0.2 M450.7,230.2 a1,0.7 0 1,1 -0.1,1.6 M465.7,331.9 a1.1,0.8 0 1,1 -1.7,-1.6 M412.7,375.4 a2.2,1.5 0 1,1 -0.8,0.7 M331.8,363.5 a1.3,0.9 0 1,1 0.8,0.8 M462.3,245.9 a2.1,1.5 0 1,1 0.6,-1.6 M464.9,325.6 a2.1,1.4 0 1,1 1.3,-0.8 M312.2,343.3 a2.1,1.4 0 1,1 -1.7,-0.5 M469.9,267.7 a1.7,1.2 0 1,1 -0.1,0.8 M394.8,378.2 a1,0.7 0 1,1 1,0.7 M458.6,238.5 a2.2,1.5 0 1,1 -0.1,-0.7 M365.5,380.4 a1.7,1.2 0 1,1 -1.5,1.6 M464.8,333.8 a1,0.7 0 1,1 0.4,-0.8 M474.1,282.5 a2.2,1.5 0 1,1 -0.1,0.2 M366.3,380.4 a1.4,1 0 1,1 1.4,0.3 M372.8,381.6 a1,0.7 0 1,1 0.6,-1.8 M440.8,359.5 a1.8,1.3 0 1,1 0.7,0.3 M464.3,330.4 a1.1,0.8 0 1,1 0.8,-1.6 M470.2,269.8 a1.8,1.2 0 1,1 -0.8,-2 M459.4,242.6 a2.4,1.7 0 1,1 1.5,-1.1 M332.3,362.5 a1,0.7 0 1,1 -2,-0.5 M356.2,377.6 a1.3,0.9 0 1,1 -1.5,-1.4 M471.2,309.1 a1.8,1.2 0 1,1 -0.4,1.1 M461,336.9 a2.5,1.7 0 1,1 0.3,-2 M405.6,376.6 a1.2,0.8 0 1,1 -0.5,1.2 M467.5,324.4 a1.4,1 0 1,1 0.8,-0.7 M363.2,378.5 a1.8,1.3 0 1,1 0.3,-1.9 M431,369.2 a1.4,1 0 1,1 1.5,-0.7 M450.6,352.5 a2.1,1.5 0 1,1 -1,-0.2 M308.3,341.3 a2.2,1.5 0 1,1 1.5,-0.4 M473.2,269.8 a1.3,0.9 0 1,1 1.1,0.7 M411.8,377.1 a1.5,1 0 1,1 1,-1.5 M400.8,377.8 a2.2,1.6 0 1,1 1.3,0.5 M329.2,362 a1.4,1 0 1,1 1,-1.9 M351.2,376.4 a1.2,0.8 0 1,1 -0.9,1.9 M462.8,335 a1.2,0.8 0 1,1 1,-1.8 M321.4,352.8 a1.6,1.1 0 1,1 -0.8,-1.6 M382.4,382.1 a1.5,1 0 1,1 -1.5,-2 M464.9,255.4 a2.1,1.5 0 1,1 -1.2,-0.5 M463.6,248.1 a2,1.4 0 1,1 0.4,-0.6 M400.5,378 a2.3,1.6 0 1,1 1.5,-0.8 M471.1,276.3 a1.6,1.1 0 1,1 1.1,-0.3 M462.3,245.7 a2.1,1.4 0 1,1 1.1,-1.1 M453,349.8 a1.7,1.2 0 1,1 -1.2,-1.8 M445.4,226.2 a1.7,1.2 0 1,1 1.2,-1.4 M313.2,345.3 a2.5,1.7 0 1,1 -0.1,-1.9 M439.9,361.7 a1.6,1.2 0 1,1 1.9,-0.1 M471.9,293.4 a2,1.4 0 1,1 0.2,-0.4 M450.7,353 a1.1,0.8 0 1,1 -0.1,-1 M343.2,370.8 a1.4,1 0 1,1 1.6,-1.9 M447.6,227.4 a1.1,0.7 0 1,1 1.7,0.4 M475.6,289.8 a2.3,1.6 0 1,1 -0.9,-1.9 M473.9,281 a1.5,1 0 1,1 -0.3,-1.9 M318.6,355.2 a2.1,1.5 0 1,1 1.7,-1.5 M348.1,374.5 a1.3,0.9 0 1,1 -1.2,0.9 M425.3,368.9 a1.7,1.2 0 1,1 1.5,-0.3 M302.2,310.7 a1.6,1.1 0 1,1 0.5,-1.3 M410.8,216.7 a1.8,1.2 0 1,1 1.7,1.5 M313.6,282.9 a2.1,1.5 0 1,1 0.3,0.1 M316.6,283.9 a2.1,1.5 0 1,1 -0.2,-1 M364.5,235.6 a1.7,1.2 0 1,1 1.4,0.1 M305.4,339.5 a2,1.4 0 1,1 -1.8,-1.1 M445.6,225.3 a1.9,1.4 0 1,1 1.7,-1.7 M350.5,244.4 a1.7,1.2 0 1,1 -0.2,-2 M430.5,215.5 a1.6,1.1 0 1,1 -1,-0.8 M319.5,276.5 a1.3,0.9 0 1,1 -1.6,-1.3 M379.1,225.3 a2,1.4 0 1,1 -1.8,1.7 M355.8,240.7 a1,0.7 0 1,1 0.6,-0.2 M407.2,218.1 a1.5,1 0 1,1 -0.7,-0.9 M305.1,327 a1,0.7 0 1,1 -1.9,-0.5 M343.1,251.6 a1.5,1 0 1,1 -0.4,0.9 M303.3,321.9 a1.9,1.4 0 1,1 -1.2,0.4 M359,236.5 a1.9,1.3 0 1,1 -0.8,-1.9 M367.5,230.5 a1.9,1.3 0 1,1 0.3,-0.6 M321.7,269.9 a2.1,1.4 0 1,1 -1.1,-1.9 M303,331.6 a1.4,1 0 1,1 0.6,-0.1 M365.9,233.8 a1.7,1.2 0 1,1 -1.7,1.9 M304.7,332 a1.5,1.1 0 1,1 -0.1,1.6 M353.6,238.4 a2.1,1.4 0 1,1 0.9,-0 M316.3,277.8 a1.9,1.4 0 1,1 1.9,1 M454.5,228.7 a2.2,1.5 0 1,1 0.5,-1.4 M448.6,225.2 a1.7,1.2 0 1,1 -1.6,-1.1 M364.6,232.8 a1.4,1 0 1,1 1,0.4 M400.9,218.3 a1.1,0.8 0 1,1 -0.3,0.6 M405.9,215.8 a1,0.7 0 1,1 -0.3,-1.3 M303.5,329.9 a1.2,0.8 0 1,1 0.2,1.6 M304.6,313.5 a1.4,1 0 1,1 -1.2,-1.5 M364.7,234.2 a1.6,1.1 0 1,1 -1.6,-1 M398.3,219.1 a1.5,1 0 1,1 -1.3,-1.1 M454.4,231 a1.7,1.2 0 1,1 0.3,0.9 M383.2,224.6 a1.7,1.2 0 1,1 -1.9,1.7 M309.6,294.6 a2,1.4 0 1,1 1.1,-0.5 M313.4,286.7 a1.5,1.1 0 1,1 0.1,-1.8 M334.8,258.3 a1.4,1 0 1,1 0.3,0.6 M360.7,238.4 a1.1,0.8 0 1,1 -1.8,-1 M304.2,340.8 a1.7,1.2 0 1,1 -0,0.7 M302.9,312.8 a1.5,1 0 1,1 -1.8,0.4 M375.2,225.5 a1.6,1.1 0 1,1 -0.4,1.9 M340.9,250.5 a1.9,1.3 0 1,1 0.3,0.1 M305.2,343.8 a1,0.7 0 1,1 -0.3,-2 M358.2,236.6 a1.3,0.9 0 1,1 0.9,0.7 M435,216.5 a1.9,1.3 0 1,1 -1.6,-0.2 M389,219.3 a1.7,1.2 0 1,1 -1,1.2 M302.1,321.3 a1.5,1 0 1,1 0.5,-1.2 M388.5,220.5 a2.1,1.5 0 1,1 -1.1,0.8 M427.9,214.4 a1.4,1 0 1,1 1.2,1.2 M310.6,290.4 a1.6,1.1 0 1,1 -1.9,-0.6 M392.6,217.5 a1.5,1.1 0 1,1 -0.8,0.8 M434.6,219.6 a1.5,1.1 0 1,1 1.5,-1.9 M384.2,222.1 a2.2,1.5 0 1,1 -0.9,-1.3 M443.7,222 a1.6,1.1 0 1,1 -0.8,0.6 M315.1,284.3 a1,0.7 0 1,1 1.6,-0.2 M370.5,231.6 a1.6,1.1 0 1,1 -0.3,-0.7 M316.2,284.8 a1.9,1.4 0 1,1 0.9,0.5 M334.3,259.6 a2,1.4 0 1,1 -1.4,1.7 M310.2,351.8 a1.1,0.8 0 1,1 1.6,-0.3 M306.6,303.2 a1.5,1 0 1,1 -0.7,1.7 M318.5,280.4 a1.2,0.9 0 1,1 -1.3,0.6 M433,217.8 a1.6,1.1 0 1,1 -0.3,-1.7 M306.9,339.7 a2,1.4 0 1,1 -0.8,0.2 M305.9,331.3 a1.9,1.3 0 1,1 1.9,0.4 M436.3,217.5 a2.1,1.5 0 1,1 -0.6,0.2 M304.4,329.2 a1.7,1.2 0 1,1 0.4,0.7 M356.6,240.8 a1.9,1.3 0 1,1 -0.2,1.4 M454.8,226.8 a1.4,1 0 1,1 1.6,1 M309.8,290 a1.5,1 0 1,1 -1.3,-0.1 M303.4,327.4 a2.1,1.5 0 1,1 -1.6,-2 M408,217 a2.1,1.4 0 1,1 1.3,1.8 M344.8,245.2 a1.2,0.8 0 1,1 0.2,1.6 M447.2,222.4 a2.1,1.5 0 1,1 -1.7,-0.6 M454.7,226.7 a1.4,1 0 1,1 1.5,1.5 M338.6,251.2 a1.6,1.1 0 1,1 -0.6,-0.7 M350.1,241.2 a1.3,0.9 0 1,1 -1.5,0.1 M306.9,305.6 a1.3,0.9 0 1,1 -1.1,0.6 M305.1,326.4 a1.7,1.2 0 1,1 1.4,-1.2 M306.3,306.7 a1.9,1.3 0 1,1 0.8,1.8 M452.4,226.6 a1.3,0.9 0 1,1 -1.6,-0.9 M307.3,348 a1.5,1.1 0 1,1 -0.2,-1.8 M348.7,243.1 a1.4,1 0 1,1 0.1,1 M306.2,301 a2,1.4 0 1,1 1,1.2 M453,228 a1.7,1.2 0 1,1 1.6,0.4 M306.8,343.9 a1.1,0.8 0 1,1 1.9,0 M452.3,228.2 a1.3,0.9 0 1,1 -1.6,0.4 M301.7,321.5 a2,1.4 0 1,1 -1.1,-1.9 M305.8,340.3 a1.8,1.2 0 1,1 -1.4,1.1 M351.2,241.1 a1.8,1.3 0 1,1 -0.6,-0.7 M333.3,259.1 a1.2,0.8 0 1,1 1.3,1.9 M444.9,225.1 a2.1,1.4 0 1,1 -2,-1.6 M305.6,304.2 a1.5,1 0 1,1 -0.5,-0.2 M312.9,289.2 a1.5,1.1 0 1,1 0.6,1.6 M318.4,275.7 a2,1.4 0 1,1 -1.2,-1.3 M306.4,339.1 a2.1,1.5 0 1,1 0.5,1.2 M442.2,221.7 a2.1,1.5 0 1,1 -0.7,-1.5 M382.3,223.7 a2.1,1.5 0 1,1 0.5,-1.8 M321.6,273 a1.6,1.1 0 1,1 2,-1.1 M388.1,220 a1.8,1.2 0 1,1 1.9,0.7 M317.5,278.9 a1.8,1.3 0 1,1 1.8,1.1 M419.6,215.6 a1.5,1 0 1,1 -1.8,-1.4 M330.5,260.7 a2.1,1.5 0 1,1 1.4,-0.3 M443.5,222.2 a1.8,1.2 0 1,1 -1.7,-0.2 M444.4,224.1 a1.6,1.1 0 1,1 -1.2,1 M448.4,223.8 a1.1,0.7 0 1,1 0.8,-0.1 M402.2,217.9 a1.7,1.2 0 1,1 -0,-0.9 M334,254.1 a1,0.7 0 1,1 0.6,-1 M452.7,224.5 a1.9,1.3 0 1,1 0.3,-0.2 M348,242.1 a1.3,0.9 0 1,1 0.3,-1.8 M312.5,283.7 a2,1.4 0 1,1 1.8,-1.9 M328,267.5 a1.9,1.3 0 1,1 -1.1,0.4 M356.1,235.3 a2,1.4 0 1,1 1.7,1.4 M301.8,317 a1.4,1 0 1,1 1.4,0.2 M432.9,219.1 a2,1.4 0 1,1 0.6,-1.8 M433,216.8 a2.2,1.5 0 1,1 -1.5,1.2 M305.2,308.5 a1.5,1 0 1,1 0.8,1.1 M302.8,312.1 a1.4,1 0 1,1 -1,-0.5 M449.5,228 a1,0.7 0 1,1 1.5,-1 M306.4,337.4 a1.3,0.9 0 1,1 0.3,-1.5 M417.9,217.5 a1.1,0.8 0 1,1 -1,-1.2 M364.2,235.9 a1.3,0.9 0 1,1 1.6,-0.7 M399.4,220 a1.8,1.3 0 1,1 1.9,0.8 M305,304.8 a1.9,1.3 0 1,1 0.1,0.8 M344,249.1 a1.8,1.2 0 1,1 0.7,0.5 M362.9,235.9 a1.5,1.1 0 1,1 2,-0.9 M415.4,217.6 a1.5,1.1 0 1,1 -1.8,-1.9 M304.2,330.3 a1.2,0.8 0 1,1 1.1,-0.4 M362.5,231.4 a1.5,1.1 0 1,1 1.2,-0.5 M444.8,221.6 a2,1.4 0 1,1 0.1,-1.4 M415.9,215.4 a1.3,0.9 0 1,1 2,1.4 M310.8,294.5 a1.9,1.4 0 1,1 1.1,-0.7 M376.3,225.6 a1.6,1.2 0 1,1 -0.1,1.5 M307.6,344.3 a1.1,0.8 0 1,1 -1.3,1.3 M303.6,330.2 a1.2,0.8 0 1,1 1.1,-1.8 M303.3,330.3 a1.5,1.1 0 1,1 -1.4,-0.3 M321.6,275.9 a2,1.4 0 1,1 1.5,-0.5 M452.5,226.9 a2,1.4 0 1,1 0.1,-0.8 M359.2,239.4 a1.4,1 0 1,1 1.6,-0.9 M341.9,252.8 a2,1.4 0 1,1 1.1,-0.1 M309.9,293.8 a1.5,1 0 1,1 -0.9,-0.8 M324.6,272.9 a1.9,1.4 0 1,1 -1.4,-1.8 M380.1,225.3 a1.3,0.9 0 1,1 1,-1 M341.4,248.1 a1.4,1 0 1,1 0.1,0.5 M308.1,347.9 a1.9,1.3 0 1,1 0.8,-1.3 M411.9,216.1 a2,1.4 0 1,1 -1.1,-1.3 M401.2,216.4 a1.9,1.3 0 1,1 -0.5,1.8 M302.2,328.6 a1,0.7 0 1,1 -0.6,-1 M395.6,218.8 a1.1,0.7 0 1,1 0,1.3 M327.4,267.8 a1.1,0.7 0 1,1 -1.1,1.9" stroke="#86b9d9" stroke-width="0.6" fill="none"/>
<ellipse cx="383.8" cy="290.6" rx="89.5" ry="54.5" transform="rotate(-40 383.8 290.6)" fill="#dea5ca"/>
<g clip-path="url(#cutface)">
<path d="M449.3,235.6 L431.8,243.4 M412,252.2 L429.2,244.6 M449.7,236.2 L432.1,243.9 M412.3,252.6 L429.5,245 M450.1,236.7 L432.5,244.3 M412.6,252.9 L429.8,245.4 M450.5,237.2 L432.8,244.7 M412.8,253.2 L430.2,245.8 M450.9,237.7 L433.1,245.2 M413.1,253.5 L430.5,246.3 M451.3,238.3 L433.4,245.6 M413.3,253.9 L430.8,246.7 M451.6,238.8 L433.7,246.1 M413.6,254.2 L431.1,247.1 M452,239.4 L434,246.5 M413.8,254.5 L431.4,247.6 M452.3,240 L434.3,247 M414,254.9 L431.6,248 M452.7,240.6 L434.6,247.5 M414.2,255.2 L431.9,248.5 M453,241.2 L434.9,248 M414.4,255.6 L432.2,249 M453.3,241.8 L435.1,248.4 M414.6,256 L432.4,249.4 M453.6,242.4 L435.4,248.9 M414.8,256.3 L432.7,249.9 M453.8,243 L435.6,249.4 M415,256.7 L432.9,250.4 M454.1,243.6 L435.8,249.9 M415.2,257.1 L433.1,250.9 M454.4,244.2 L436.1,250.5 M415.4,257.5 L433.3,251.4 M454.6,244.9 L436.3,251 M415.6,257.9 L433.5,251.9 M454.8,245.5 L436.5,251.5 M415.7,258.3 L433.7,252.4 M455.1,246.2 L436.6,252 M415.9,258.6 L433.9,252.9 M455.3,246.9 L436.8,252.6 M416,259 L434.1,253.4 M455.5,247.5 L437,253.1 M416.2,259.5 L434.2,254 M455.6,248.2 L437.2,253.7 M416.3,259.9 L434.4,254.5 M455.8,248.9 L437.3,254.2 M416.4,260.3 L434.6,255 M456,249.6 L437.5,254.8 M416.6,260.7 L434.7,255.6 M456.1,250.3 L437.6,255.4 M416.7,261.1 L434.8,256.1 M456.3,251 L437.7,255.9 M416.8,261.5 L434.9,256.7 M456.4,251.7 L437.8,256.5 M416.9,262 L435.1,257.2 M456.5,252.4 L437.9,257.1 M417,262.4 L435.2,257.8 M456.6,253.2 L438,257.7 M417.1,262.8 L435.2,258.4 M456.7,253.9 L438.1,258.3 M417.2,263.3 L435.3,259 M456.7,254.6 L438.2,258.9 M417.2,263.7 L435.4,259.5 M456.8,255.4 L438.2,259.5 M417.3,264.2 L435.5,260.1 M456.8,256.1 L438.3,260.1 M417.4,264.6 L435.5,260.7 M456.9,256.9 L438.3,260.7 M417.4,265.1 L435.6,261.3 M456.9,257.6 L438.4,261.3 M417.5,265.5 L435.6,261.9 M456.9,258.4 L438.4,262 M417.5,266 L435.6,262.5 M456.9,259.2 L438.4,262.6 M417.5,266.4 L435.6,263.1 M456.9,260 L438.4,263.2 M417.5,266.9 L435.6,263.7 M456.8,260.8 L438.4,263.9 M417.6,267.4 L435.6,264.3 M456.8,261.6 L438.4,264.5 M417.6,267.8 L435.6,264.9 M456.8,262.3 L438.3,265.1 M417.6,268.3 L435.6,265.6 M456.7,263.1 L438.3,265.8 M417.6,268.8 L435.6,266.2 M456.6,264 L438.3,266.4 M417.6,269.3 L435.5,266.8 M456.5,264.8 L438.2,267.1 M417.5,269.7 L435.5,267.4 M456.4,265.6 L438.1,267.8 M417.5,270.2 L435.4,268.1 M456.3,266.4 L438.1,268.4 M417.5,270.7 L435.3,268.7 M456.2,267.2 L438,269.1 M417.4,271.2 L435.3,269.4 M456,268 L437.9,269.8 M417.4,271.7 L435.2,270 M455.9,268.9 L437.8,270.4 M417.3,272.2 L435.1,270.7 M455.7,269.7 L437.6,271.1 M417.3,272.7 L435,271.3 M455.5,270.5 L437.5,271.8 M417.2,273.1 L434.8,272 M455.3,271.4 L437.4,272.5 M417.1,273.6 L434.7,272.6 M455.1,272.2 L437.2,273.1 M417.1,274.1 L434.6,273.3 M454.9,273.1 L437.1,273.8 M417,274.6 L434.4,273.9 M454.7,273.9 L436.9,274.5 M416.9,275.1 L434.3,274.6 M454.4,274.8 L436.7,275.2 M416.8,275.6 L434.1,275.3 M454.2,275.6 L436.6,275.9 M416.7,276.1 L433.9,275.9 M453.9,276.5 L436.4,276.6 M416.6,276.7 L433.7,276.6 M453.7,277.4 L436.2,277.3 M416.4,277.2 L433.6,277.3 M453.4,278.2 L435.9,278 M416.3,277.7 L433.3,277.9 M453.1,279.1 L435.7,278.7 M416.2,278.2 L433.1,278.6 M452.8,280 L435.5,279.4 M416,278.7 L432.9,279.3 M452.4,280.8 L435.2,280.1 M415.9,279.2 L432.7,279.9 M452.1,281.7 L435,280.8 M415.7,279.7 L432.4,280.6 M451.7,282.6 L434.7,281.5 M415.5,280.2 L432.2,281.3 M451.4,283.4 L434.5,282.2 M415.4,280.7 L431.9,282 M451,284.3 L434.2,282.9 M415.2,281.2 L431.7,282.7 M450.6,285.2 L433.9,283.6 M415,281.8 L431.4,283.3 M450.2,286.1 L433.6,284.3 M414.8,282.3 L431.1,284 M449.8,287 L433.3,285 M414.6,282.8 L430.8,284.7 M449.4,287.8 L433,285.7 M414.4,283.3 L430.5,285.4 M449,288.7 L432.6,286.4 M414.2,283.8 L430.2,286.1 M448.6,289.6 L432.3,287.1 M414,284.3 L429.9,286.7 M448.1,290.5 L432,287.8 M413.8,284.8 L429.6,287.4 M447.6,291.4 L431.6,288.5 M413.5,285.3 L429.2,288.1 M447.2,292.2 L431.3,289.2 M413.3,285.9 L428.9,288.8 M446.7,293.1 L430.9,289.9 M413.1,286.4 L428.5,289.5 M446.2,294 L430.5,290.6 M412.8,286.9 L428.2,290.1 M445.7,294.9 L430.1,291.4 M412.6,287.4 L427.8,290.8 M445.2,295.7 L429.7,292.1 M412.3,287.9 L427.4,291.5 M444.7,296.6 L429.3,292.8 M412,288.4 L427,292.2 M444.1,297.5 L428.9,293.5 M411.7,288.9 L426.6,292.9 M443.6,298.4 L428.5,294.2 M411.5,289.4 L426.2,293.5 M443,299.2 L428.1,294.9 M411.2,289.9 L425.8,294.2 M442.5,300.1 L427.6,295.6 M410.9,290.4 L425.4,294.9 M441.9,301 L427.2,296.3 M410.6,290.9 L425,295.6 M441.3,301.9 L426.7,297 M410.3,291.4 L424.6,296.2 M440.7,302.7 L426.3,297.7 M410,291.9 L424.1,296.9 M440.1,303.6 L425.8,298.3 M409.7,292.4 L423.7,297.6 M439.5,304.4 L425.3,299 M409.3,292.9 L423.2,298.2 M438.9,305.3 L424.8,299.7 M409,293.4 L422.7,298.9 M438.2,306.2 L424.3,300.4 M408.7,293.9 L422.3,299.6 M437.6,307 L423.8,301.1 M408.3,294.4 L421.8,300.2 M436.9,307.9 L423.3,301.8 M408,294.9 L421.3,300.9 M436.3,308.7 L422.8,302.5 M407.6,295.4 L420.8,301.5 M435.6,309.6 L422.3,303.1 M407.3,295.9 L420.3,302.2 M434.9,310.4 L421.8,303.8 M406.9,296.4 L419.8,302.8 M434.2,311.2 L421.2,304.5 M406.6,296.9 L419.3,303.5 M433.5,312.1 L420.7,305.2 M406.2,297.3 L418.8,304.1 M432.8,312.9 L420.1,305.8 M405.8,297.8 L418.2,304.8 M432.1,313.7 L419.6,306.5 M405.4,298.3 L417.7,305.4 M431.4,314.6 L419,307.1 M405.1,298.8 L417.2,306 M430.7,315.4 L418.4,307.8 M404.7,299.2 L416.6,306.7 M429.9,316.2 L417.9,308.5 M404.3,299.7 L416.1,307.3 M429.2,317 L417.3,309.1 M403.9,300.2 L415.5,307.9 M428.4,317.8 L416.7,309.7 M403.5,300.6 L414.9,308.5 M427.7,318.6 L416.1,310.4 M403.1,301.1 L414.4,309.2 M426.9,319.4 L415.5,311 M402.6,301.6 L413.8,309.8 M426.1,320.2 L414.9,311.7 M402.2,302 L413.2,310.4 M425.3,321 L414.3,312.3 M401.8,302.5 L412.6,311 M424.5,321.8 L413.6,312.9 M401.4,302.9 L412,311.6 M423.7,322.6 L413,313.5 M400.9,303.3 L411.4,312.2 M422.9,323.3 L412.4,314.1 M400.5,303.8 L410.8,312.8 M422.1,324.1 L411.8,314.8 M400.1,304.2 L410.2,313.4 M421.3,324.9 L411.1,315.4 M399.6,304.7 L409.6,313.9 M420.5,325.6 L410.5,316 M399.2,305.1 L409,314.5 M419.6,326.4 L409.8,316.6 M398.7,305.5 L408.3,315.1 M418.8,327.1 L409.1,317.1 M398.3,305.9 L407.7,315.7 M418,327.8 L408.5,317.7 M397.8,306.3 L407.1,316.2 M417.1,328.6 L407.8,318.3 M397.3,306.8 L406.4,316.8 M416.3,329.3 L407.1,318.9 M396.9,307.2 L405.8,317.3 M415.4,330 L406.5,319.5 M396.4,307.6 L405.1,317.9 M414.5,330.7 L405.8,320 M395.9,308 L404.5,318.4 M413.7,331.4 L405.1,320.6 M395.4,308.4 L403.8,319 M412.8,332.1 L404.4,321.1 M395,308.8 L403.2,319.5 M411.9,332.8 L403.7,321.7 M394.5,309.2 L402.5,320 M411,333.5 L403,322.2 M394,309.5 L401.8,320.6 M410.1,334.2 L402.3,322.8 M393.5,309.9 L401.1,321.1 M409.2,334.8 L401.6,323.3 M393,310.3 L400.5,321.6 M408.3,335.5 L400.9,323.8 M392.5,310.7 L399.8,322.1 M407.4,336.1 L400.2,324.3 M392,311 L399.1,322.6 M406.5,336.8 L399.5,324.8 M391.5,311.4 L398.4,323.1 M405.6,337.4 L398.7,325.4 M391,311.8 L397.7,323.6 M404.7,338 L398,325.8 M390.5,312.1 L397,324 M403.8,338.7 L397.3,326.3 M390,312.5 L396.3,324.5 M402.9,339.3 L396.6,326.8 M389.5,312.8 L395.6,325 M401.9,339.9 L395.8,327.3 M389,313.1 L394.9,325.4 M401,340.5 L395.1,327.8 M388.4,313.5 L394.2,325.9 M400.1,341 L394.4,328.2 M387.9,313.8 L393.5,326.3 M399.1,341.6 L393.6,328.7 M387.4,314.1 L392.8,326.8 M398.2,342.2 L392.9,329.1 M386.9,314.4 L392.1,327.2 M397.3,342.8 L392.1,329.6 M386.4,314.7 L391.4,327.6 M396.3,343.3 L391.4,330 M385.8,315 L390.7,328 M395.4,343.8 L390.6,330.4 M385.3,315.3 L389.9,328.5 M394.4,344.4 L389.9,330.9 M384.8,315.6 L389.2,328.9 M393.5,344.9 L389.1,331.3 M384.2,315.9 L388.5,329.3 M392.5,345.4 L388.4,331.7 M383.7,316.2 L387.8,329.6 M391.6,345.9 L387.6,332.1 M383.2,316.5 L387,330 M390.6,346.4 L386.9,332.5 M382.6,316.8 L386.3,330.4 M389.7,346.9 L386.1,332.9 M382.1,317 L385.6,330.8 M388.7,347.4 L385.4,333.2 M381.6,317.3 L384.9,331.1 M387.8,347.8 L384.6,333.6 M381,317.5 L384.1,331.5 M386.8,348.3 L383.8,334 M380.5,317.8 L383.4,331.8 M385.9,348.7 L383.1,334.3 M380,318 L382.7,332.2 M384.9,349.2 L382.3,334.7 M379.4,318.3 L381.9,332.5 M383.9,349.6 L381.6,335 M378.9,318.5 L381.2,332.8 M383,350 L380.8,335.3 M378.3,318.7 L380.5,333.1 M382,350.4 L380,335.6 M377.8,318.9 L379.7,333.4 M381.1,350.8 L379.3,335.9 M377.3,319.2 L379,333.7 M380.1,351.2 L378.5,336.2 M376.7,319.4 L378.3,334 M379.2,351.6 L377.8,336.5 M376.2,319.6 L377.5,334.3 M378.2,351.9 L377,336.8 M375.6,319.8 L376.8,334.6 M377.3,352.3 L376.2,337.1 M375.1,320 L376.1,334.8 M376.3,352.6 L375.5,337.4 M374.5,320.1 L375.4,335.1 M375.4,353 L374.7,337.6 M374,320.3 L374.6,335.3 M374.4,353.3 L374,337.9 M373.5,320.5 L373.9,335.6 M373.5,353.6 L373.2,338.1 M372.9,320.6 L373.2,335.8 M372.5,353.9 L372.5,338.3 M372.4,320.8 L372.4,336 M371.6,354.2 L371.7,338.6 M371.8,321 L371.7,336.2 M370.6,354.5 L370.9,338.8 M371.3,321.1 L371,336.5 M369.7,354.7 L370.2,339 M370.8,321.2 L370.3,336.6 M368.7,355 L369.4,339.2 M370.2,321.4 L369.5,336.8 M367.8,355.3 L368.7,339.4 M369.7,321.5 L368.8,337 M366.9,355.5 L368,339.6 M369.2,321.6 L368.1,337.2 M365.9,355.7 L367.2,339.7 M368.6,321.7 L367.4,337.4 M365,355.9 L366.5,339.9 M368.1,321.8 L366.7,337.5 M364.1,356.1 L365.7,340 M367.6,321.9 L366,337.7 M363.2,356.3 L365,340.2 M367,322 L365.3,337.8 M362.3,356.5 L364.3,340.3 M366.5,322.1 L364.6,337.9 M361.3,356.7 L363.5,340.5 M366,322.2 L363.9,338 M360.4,356.8 L362.8,340.6 M365.5,322.2 L363.2,338.1 M359.5,357 L362.1,340.7 M364.9,322.3 L362.5,338.2 M358.6,357.1 L361.4,340.8 M364.4,322.4 L361.8,338.3 M357.7,357.2 L360.6,340.9 M363.9,322.4 L361.1,338.4 M356.8,357.3 L359.9,340.9 M363.4,322.5 L360.4,338.5 M356,357.4 L359.2,341 M362.9,322.5 L359.7,338.6 M355.1,357.5 L358.5,341.1 M362.4,322.5 L359,338.6 M354.2,357.6 L357.8,341.1 M361.9,322.6 L358.3,338.7 M353.3,357.7 L357.1,341.2 M361.3,322.6 L357.7,338.7 M352.5,357.7 L356.4,341.2 M360.8,322.6 L357,338.7 M351.6,357.8 L355.7,341.2 M360.3,322.6 L356.3,338.8 M350.7,357.8 L355,341.2 M359.8,322.6 L355.7,338.8 M349.9,357.8 L354.3,341.2 M359.3,322.6 L355,338.8 M349,357.8 L353.7,341.2 M358.9,322.6 L354.3,338.8 M348.2,357.8 L353,341.2 M358.4,322.5 L353.7,338.8 M347.4,357.8 L352.3,341.2 M357.9,322.5 L353,338.7 M346.5,357.8 L351.6,341.2 M357.4,322.5 L352.4,338.7 M345.7,357.7 L351,341.1 M356.9,322.4 L351.8,338.7 M344.9,357.7 L350.3,341.1 M356.4,322.4 L351.1,338.6 M344.1,357.6 L349.7,341 M356,322.3 L350.5,338.6 M343.3,357.5 L349,341 M355.5,322.3 L349.9,338.5 M342.5,357.5 L348.4,340.9 M355,322.2 L349.3,338.4 M341.7,357.4 L347.8,340.8 M354.6,322.1 L348.7,338.3 M341,357.2 L347.1,340.7 M354.1,322 L348,338.2 M340.2,357.1 L346.5,340.6 M353.6,322 L347.4,338.1 M339.4,357 L345.9,340.5 M353.2,321.9 L346.9,338 M338.7,356.9 L345.3,340.4 M352.7,321.8 L346.3,337.9 M337.9,356.7 L344.7,340.2 M352.3,321.7 L345.7,337.8 M337.2,356.5 L344.1,340.1 M351.9,321.5 L345.1,337.6 M336.4,356.4 L343.5,339.9 M351.4,321.4 L344.5,337.5 M335.7,356.2 L342.9,339.8 M351,321.3 L344,337.3 M335,356 L342.3,339.6 M350.6,321.2 L343.4,337.2 M334.3,355.8 L341.7,339.4 M350.1,321 L342.8,337 M333.6,355.6 L341.2,339.2 M349.7,320.9 L342.3,336.8 M332.9,355.3 L340.6,339.1 M349.3,320.7 L341.8,336.6 M332.2,355.1 L340.1,338.8 M348.9,320.6 L341.2,336.4 M331.5,354.8 L339.5,338.6 M348.5,320.4 L340.7,336.2 M330.9,354.6 L339,338.4 M348.1,320.2 L340.2,336 M330.2,354.3 L338.4,338.2 M347.7,320 L339.7,335.8 M329.6,354 L337.9,337.9 M347.3,319.8 L339.1,335.6 M328.9,353.7 L337.4,337.7 M346.9,319.7 L338.6,335.3 M328.3,353.4 L336.9,337.4 M346.5,319.5 L338.2,335.1 M327.7,353.1 L336.4,337.2 M346.2,319.3 L337.7,334.8 M327.1,352.7 L335.9,336.9 M345.8,319 L337.2,334.5 M326.5,352.4 L335.4,336.6 M345.4,318.8 L336.7,334.3 M325.9,352 L334.9,336.3 M345.1,318.6 L336.3,334 M325.3,351.7 L334.4,336 M344.7,318.4 L335.8,333.7 M324.7,351.3 L334,335.7 M344.4,318.1 L335.3,333.4 M324.2,350.9 L333.5,335.4 M344,317.9 L334.9,333.1 M323.6,350.5 L333.1,335.1 M343.7,317.7 L334.5,332.8 M323.1,350.1 L332.6,334.8 M343.4,317.4 L334,332.5 M322.6,349.7 L332.2,334.4 M343,317.1 L333.6,332.1 M322.1,349.3 L331.8,334.1 M342.7,316.9 L333.2,331.8 M321.5,348.9 L331.3,333.7 M342.4,316.6 L332.8,331.4 M321.1,348.4 L330.9,333.3 M342.1,316.3 L332.4,331.1 M320.6,348 L330.5,333 M341.8,316.1 L332,330.7 M320.1,347.5 L330.1,332.6 M341.5,315.8 L331.6,330.4 M319.6,347 L329.8,332.2 M341.2,315.5 L331.3,330 M319.2,346.6 L329.4,331.8 M340.9,315.2 L330.9,329.6 M318.7,346.1 L329,331.4 M340.6,314.9 L330.6,329.2 M318.3,345.6 L328.7,331 M340.4,314.6 L330.2,328.8 M317.9,345 L328.3,330.6 M340.1,314.2 L329.9,328.4 M317.5,344.5 L328,330.1 M339.8,313.9 L329.5,328 M317.1,344 L327.6,329.7 M339.6,313.6 L329.2,327.6 M316.7,343.5 L327.3,329.3 M339.3,313.3 L328.9,327.2 M316.3,342.9 L327,328.8 M339.1,312.9 L328.6,326.7 M316,342.4 L326.7,328.4 M338.8,312.6 L328.3,326.3 M315.6,341.8 L326.4,327.9 M338.6,312.3 L328,325.8 M315.3,341.2 L326.1,327.4 M338.4,311.9 L327.8,325.4 M314.9,340.6 L325.9,327 M338.2,311.6 L327.5,324.9 M314.6,340 L325.6,326.5 M338,311.2 L327.2,324.5 M314.3,339.4 L325.3,326 M337.8,310.8 L327,324 M314,338.8 L325.1,325.5 M337.6,310.5 L326.7,323.5 M313.8,338.2 L324.9,325 M337.4,310.1 L326.5,323 M313.5,337.6 L324.6,324.5 M337.2,309.7 L326.3,322.5 M313.2,337 L324.4,324 M337,309.3 L326.1,322 M313,336.3 L324.2,323.4 M336.8,308.9 L325.9,321.5 M312.8,335.7 L324,322.9 M336.7,308.5 L325.7,321 M312.5,335 L323.8,322.4 M336.5,308.2 L325.5,320.5 M312.3,334.3 L323.6,321.8 M336.4,307.8 L325.3,320 M312.1,333.7 L323.5,321.3 M336.2,307.3 L325.1,319.5 M312,333 L323.3,320.7 M336.1,306.9 L325,318.9 M311.8,332.3 L323.1,320.2 M336,306.5 L324.8,318.4 M311.6,331.6 L323,319.6 M335.8,306.1 L324.7,317.8 M311.5,330.9 L322.9,319.1 M335.7,305.7 L324.6,317.3 M311.3,330.2 L322.7,318.5 M335.6,305.3 L324.4,316.7 M311.2,329.5 L322.6,317.9 M335.5,304.8 L324.3,316.2 M311.1,328.8 L322.5,317.3 M335.4,304.4 L324.2,315.6 M311,328 L322.4,316.7 M335.3,304 L324.1,315 M310.9,327.3 L322.4,316.1 M335.2,303.5 L324.1,314.5 M310.9,326.6 L322.3,315.5 M335.2,303.1 L324,313.9 M310.8,325.8 L322.2,314.9 M335.1,302.6 L323.9,313.3 M310.8,325.1 L322.2,314.3 M335,302.2 L323.9,312.7 M310.7,324.3 L322.1,313.7 M335,301.7 L323.8,312.1 M310.7,323.6 L322.1,313.1 M334.9,301.3 L323.8,311.5 M310.7,322.8 L322.1,312.5 M334.9,300.8 L323.8,310.9 M310.7,322 L322.1,311.8 M334.9,300.4 L323.8,310.3 M310.7,321.2 L322.1,311.2 M334.9,299.9 L323.8,309.7 M310.8,320.4 L322.1,310.6 M334.8,299.4 L323.8,309.1 M310.8,319.6 L322.1,309.9 M334.8,299 L323.8,308.5 M310.8,318.9 L322.1,309.3 M334.8,298.5 L323.8,307.9 M310.9,318.1 L322.2,308.6 M334.8,298 L323.8,307.2 M311,317.2 L322.2,308 M334.8,297.5 L323.9,306.6 M311.1,316.4 L322.3,307.3 M334.9,297.1 L323.9,306 M311.2,315.6 L322.3,306.7 M334.9,296.6 L324,305.3 M311.3,314.8 L322.4,306 M334.9,296.1 L324.1,304.7 M311.4,314 L322.5,305.3 M335,295.6 L324.1,304.1 M311.6,313.2 L322.6,304.7 M335,295.1 L324.2,303.4 M311.7,312.3 L322.7,304 M335.1,294.6 L324.3,302.8 M311.9,311.5 L322.8,303.3 M335.1,294.1 L324.4,302.1 M312.1,310.7 L322.9,302.7 M335.2,293.7 L324.6,301.5 M312.3,309.8 L323.1,302 M335.3,293.2 L324.7,300.8 M312.5,309 L323.2,301.3 M335.3,292.7 L324.8,300.2 M312.7,308.1 L323.4,300.6 M335.4,292.2 L325,299.5 M312.9,307.3 L323.5,299.9 M335.5,291.7 L325.1,298.8 M313.2,306.4 L323.7,299.2 M335.6,291.2 L325.3,298.2 M313.4,305.6 L323.9,298.6 M335.7,290.7 L325.5,297.5 M313.7,304.7 L324.1,297.9 M335.8,290.1 L325.6,296.8 M313.9,303.8 L324.3,297.2 M336,289.6 L325.8,296.2 M314.2,303 L324.5,296.5 M336.1,289.1 L326,295.5 M314.5,302.1 L324.7,295.8 M336.2,288.6 L326.3,294.8 M314.8,301.2 L325,295.1 M336.4,288.1 L326.5,294.2 M315.2,300.4 L325.2,294.4 M336.5,287.6 L326.7,293.5 M315.5,299.5 L325.5,293.7 M336.7,287.1 L326.9,292.8 M315.9,298.6 L325.7,293 M336.9,286.6 L327.2,292.1 M316.2,297.8 L326,292.3 M337,286.1 L327.5,291.4 M316.6,296.9 L326.3,291.6 M337.2,285.6 L327.7,290.8 M317,296 L326.6,290.9 M337.4,285 L328,290.1 M317.4,295.1 L326.9,290.1 M337.6,284.5 L328.3,289.4 M317.8,294.2 L327.2,289.4 M337.8,284 L328.6,288.7 M318.2,293.4 L327.5,288.7 M338,283.5 L328.9,288 M318.6,292.5 L327.8,288 M338.2,283 L329.2,287.4 M319,291.6 L328.1,287.3 M338.4,282.5 L329.5,286.7 M319.5,290.7 L328.5,286.6 M338.6,282 L329.8,286 M320,289.8 L328.8,285.9 M338.9,281.5 L330.2,285.3 M320.4,289 L329.2,285.2 M339.1,280.9 L330.5,284.6 M320.9,288.1 L329.6,284.5 M339.3,280.4 L330.9,284 M321.4,287.2 L329.9,283.8 M339.6,279.9 L331.2,283.3 M321.9,286.3 L330.3,283.1 M339.8,279.4 L331.6,282.6 M322.4,285.5 L330.7,282.4 M340.1,278.9 L332,281.9 M322.9,284.6 L331.1,281.7 M340.4,278.4 L332.4,281.2 M323.5,283.7 L331.5,281 M340.7,277.9 L332.8,280.6 M324,282.8 L332,280.3 M340.9,277.4 L333.2,279.9 M324.6,282 L332.4,279.6 M341.2,276.9 L333.6,279.2 M325.1,281.1 L332.8,278.9 M341.5,276.4 L334,278.5 M325.7,280.2 L333.3,278.2 M341.8,275.9 L334.4,277.9 M326.3,279.3 L333.7,277.5 M342.1,275.4 L334.8,277.2 M326.9,278.5 L334.2,276.8 M342.4,274.9 L335.3,276.5 M327.5,277.6 L334.7,276.1 M342.7,274.4 L335.7,275.9 M328.1,276.8 L335.1,275.4 M343.1,273.9 L336.2,275.2 M328.7,275.9 L335.6,274.7 M343.4,273.4 L336.7,274.5 M329.4,275 L336.1,274 M343.7,272.9 L337.1,273.9 M330,274.2 L336.6,273.3 M344.1,272.4 L337.6,273.2 M330.7,273.3 L337.1,272.6 M344.4,271.9 L338.1,272.5 M331.3,272.5 L337.6,272 M344.8,271.4 L338.6,271.9 M332,271.6 L338.2,271.3 M345.1,270.9 L339.1,271.2 M332.7,270.8 L338.7,270.6 M345.5,270.4 L339.6,270.6 M333.4,270 L339.2,269.9 M345.8,269.9 L340.1,269.9 M334.1,269.1 L339.8,269.3 M346.2,269.5 L340.6,269.3 M334.8,268.3 L340.3,268.6 M346.6,269 L341.2,268.7 M335.5,267.5 L340.9,267.9 M347,268.5 L341.7,268 M336.2,266.6 L341.4,267.3 M347.3,268 L342.2,267.4 M336.9,265.8 L342,266.6 M347.7,267.6 L342.8,266.8 M337.7,265 L342.6,266 M348.1,267.1 L343.3,266.1 M338.4,264.2 L343.2,265.3 M348.5,266.6 L343.9,265.5 M339.2,263.4 L343.8,264.7 M348.9,266.2 L344.5,264.9 M339.9,262.6 L344.4,264 M349.3,265.7 L345,264.3 M340.7,261.8 L345,263.4 M349.8,265.2 L345.6,263.7 M341.5,261 L345.6,262.8 M350.2,264.8 L346.2,263 M342.3,260.2 L346.2,262.1 M350.6,264.3 L346.8,262.4 M343.1,259.4 L346.8,261.5 M351,263.9 L347.4,261.8 M343.9,258.6 L347.4,260.9 M351.5,263.5 L348,261.2 M344.7,257.9 L348.1,260.3 M351.9,263 L348.6,260.6 M345.5,257.1 L348.7,259.7 M352.3,262.6 L349.2,260.1 M346.3,256.3 L349.3,259.1 M352.8,262.1 L349.8,259.5 M347.1,255.6 L350,258.5 M353.2,261.7 L350.4,258.9 M348,254.8 L350.6,257.9 M353.7,261.3 L351.1,258.3 M348.8,254.1 L351.3,257.3 M354.1,260.9 L351.7,257.8 M349.6,253.4 L352,256.7 M354.6,260.5 L352.3,257.2 M350.5,252.6 L352.6,256.1 M355.1,260 L353,256.6 M351.3,251.9 L353.3,255.5 M355.5,259.6 L353.6,256.1 M352.2,251.2 L354,255 M356,259.2 L354.3,255.5 M353.1,250.5 L354.7,254.4 M356.5,258.8 L354.9,255 M353.9,249.8 L355.4,253.8 M357,258.4 L355.6,254.4 M354.8,249.1 L356,253.3 M357.4,258 L356.2,253.9 M355.7,248.4 L356.7,252.7 M357.9,257.6 L356.9,253.4 M356.6,247.7 L357.4,252.2 M358.4,257.3 L357.6,252.9 M357.5,247 L358.1,251.7 M358.9,256.9 L358.2,252.4 M358.4,246.4 L358.8,251.1 M359.4,256.5 L358.9,251.8 M359.3,245.7 L359.6,250.6 M359.9,256.1 L359.6,251.3 M360.2,245.1 L360.3,250.1 M360.4,255.8 L360.3,250.8 M361.1,244.4 L361,249.6 M360.9,255.4 L361,250.4 M362,243.8 L361.7,249.1 M361.4,255 L361.7,249.9 M362.9,243.2 L362.4,248.6 M361.9,254.7 L362.4,249.4 M363.8,242.5 L363.2,248.1 M362.4,254.3 L363.1,248.9 M364.7,241.9 L363.9,247.6 M362.9,254 L363.8,248.5 M365.7,241.3 L364.6,247.1 M363.4,253.7 L364.5,248 M366.6,240.7 L365.4,246.7 M364,253.3 L365.2,247.5 M367.5,240.2 L366.1,246.2 M364.5,253 L365.9,247.1 M368.5,239.6 L366.8,245.7 M365,252.7 L366.6,246.7 M369.4,239 L367.6,245.3 M365.5,252.4 L367.3,246.2 M370.3,238.4 L368.3,244.8 M366,252.1 L368,245.8 M371.3,237.9 L369.1,244.4 M366.6,251.8 L368.7,245.4 M372.2,237.4 L369.8,244 M367.1,251.5 L369.5,245 M373.2,236.8 L370.6,243.6 M367.6,251.2 L370.2,244.6 M374.1,236.3 L371.3,243.1 M368.2,250.9 L370.9,244.2 M375.1,235.8 L372.1,242.7 M368.7,250.6 L371.6,243.8 M376,235.3 L372.8,242.3 M369.2,250.3 L372.3,243.4 M377,234.8 L373.6,242 M369.8,250 L373.1,243 M377.9,234.3 L374.3,241.6 M370.3,249.8 L373.8,242.7 M378.9,233.8 L375.1,241.2 M370.8,249.5 L374.5,242.3 M379.8,233.4 L375.9,240.8 M371.4,249.3 L375.3,241.9 M380.8,232.9 L376.6,240.5 M371.9,249 L376,241.6 M381.7,232.5 L377.4,240.1 M372.4,248.8 L376.7,241.3 M382.7,232 L378.1,239.8 M373,248.5 L377.5,240.9 M383.7,231.6 L378.9,239.4 M373.5,248.3 L378.2,240.6 M384.6,231.2 L379.7,239.1 M374.1,248.1 L378.9,240.3 M385.6,230.8 L380.4,238.8 M374.6,247.9 L379.6,240 M386.5,230.4 L381.2,238.5 M375.1,247.6 L380.4,239.7 M387.5,230 L381.9,238.2 M375.7,247.4 L381.1,239.4 M388.4,229.6 L382.7,237.9 M376.2,247.2 L381.8,239.1 M389.4,229.3 L383.5,237.6 M376.8,247 L382.6,238.9 M390.3,228.9 L384.2,237.3 M377.3,246.8 L383.3,238.6 M391.3,228.6 L385,237.1 M377.9,246.7 L384,238.3 M392.2,228.2 L385.7,236.8 M378.4,246.5 L384.8,238.1 M393.2,227.9 L386.5,236.6 M378.9,246.3 L385.5,237.8 M394.1,227.6 L387.3,236.3 M379.5,246.2 L386.2,237.6 M395.1,227.3 L388,236.1 M380,246 L386.9,237.4 M396,227 L388.8,235.9 M380.6,245.8 L387.7,237.2 M397,226.7 L389.5,235.6 M381.1,245.7 L388.4,237 M397.9,226.5 L390.3,235.4 M381.6,245.6 L389.1,236.8 M398.9,226.2 L391,235.2 M382.2,245.4 L389.8,236.6 M399.8,225.9 L391.8,235.1 M382.7,245.3 L390.6,236.4 M400.7,225.7 L392.5,234.9 M383.2,245.2 L391.3,236.2 M401.7,225.5 L393.2,234.7 M383.8,245.1 L392,236.1 M402.6,225.3 L394,234.5 M384.3,245 L392.7,235.9 M403.5,225.1 L394.7,234.4 M384.8,244.9 L393.4,235.8 M404.4,224.9 L395.5,234.2 M385.4,244.8 L394.1,235.6 M405.3,224.7 L396.2,234.1 M385.9,244.7 L394.8,235.5 M406.3,224.5 L396.9,234 M386.4,244.6 L395.5,235.4 M407.2,224.4 L397.7,233.9 M386.9,244.6 L396.2,235.3 M408.1,224.2 L398.4,233.8 M387.5,244.5 L396.9,235.2 M409,224.1 L399.1,233.7 M388,244.4 L397.6,235.1 M409.9,224 L399.8,233.6 M388.5,244.4 L398.3,235 M410.8,223.9 L400.5,233.5 M389,244.3 L399,234.9 M411.6,223.8 L401.2,233.4 M389.5,244.3 L399.7,234.9 M412.5,223.7 L402,233.4 M390,244.3 L400.4,234.8 M413.4,223.6 L402.7,233.3 M390.5,244.2 L401.1,234.7 M414.3,223.5 L403.4,233.3 M391.1,244.2 L401.7,234.7 M415.1,223.5 L404.1,233.2 M391.6,244.2 L402.4,234.7 M416,223.4 L404.7,233.2 M392.1,244.2 L403.1,234.7 M416.9,223.4 L405.4,233.2 M392.6,244.2 L403.7,234.6 M417.7,223.4 L406.1,233.2 M393.1,244.2 L404.4,234.6 M418.6,223.4 L406.8,233.2 M393.5,244.2 L405.1,234.6 M419.4,223.4 L407.5,233.2 M394,244.3 L405.7,234.7 M420.2,223.4 L408.1,233.2 M394.5,244.3 L406.3,234.7 M421.1,223.4 L408.8,233.3 M395,244.3 L407,234.7 M421.9,223.5 L409.5,233.3 M395.5,244.4 L407.6,234.8 M422.7,223.5 L410.1,233.3 M396,244.4 L408.3,234.8 M423.5,223.6 L410.8,233.4 M396.4,244.5 L408.9,234.9 M424.3,223.7 L411.4,233.5 M396.9,244.5 L409.5,234.9 M425.1,223.7 L412.1,233.5 M397.4,244.6 L410.1,235 M425.9,223.8 L412.7,233.6 M397.8,244.7 L410.7,235.1 M426.6,224 L413.3,233.7 M398.3,244.8 L411.3,235.2 M427.4,224.1 L414,233.8 M398.8,244.8 L411.9,235.3 M428.2,224.2 L414.6,233.9 M399.2,244.9 L412.5,235.4 M428.9,224.3 L415.2,234.1 M399.7,245 L413.1,235.5 M429.7,224.5 L415.8,234.2 M400.1,245.1 L413.7,235.6 M430.4,224.7 L416.4,234.3 M400.5,245.3 L414.3,235.8 M431.2,224.8 L417,234.5 M401,245.4 L414.9,235.9 M431.9,225 L417.6,234.7 M401.4,245.5 L415.4,236.1 M432.6,225.2 L418.1,234.8 M401.8,245.6 L416,236.2 M433.3,225.4 L418.7,235 M402.3,245.8 L416.5,236.4 M434,225.6 L419.3,235.2 M402.7,245.9 L417.1,236.6 M434.7,225.9 L419.8,235.4 M403.1,246.1 L417.6,236.8 M435.4,226.1 L420.4,235.6 M403.5,246.2 L418.2,237 M436.1,226.4 L420.9,235.8 M403.9,246.4 L418.7,237.2 M436.7,226.6 L421.5,236 M404.3,246.6 L419.2,237.4 M437.4,226.9 L422,236.2 M404.7,246.8 L419.7,237.6 M438,227.2 L422.5,236.5 M405.1,247 L420.2,237.9 M438.7,227.5 L423.1,236.7 M405.5,247.1 L420.7,238.1 M439.3,227.8 L423.6,237 M405.9,247.3 L421.2,238.4 M439.9,228.1 L424.1,237.3 M406.2,247.5 L421.7,238.6 M440.5,228.5 L424.6,237.5 M406.6,247.8 L422.2,238.9 M441.1,228.8 L425.1,237.8 M407,248 L422.7,239.2 M441.7,229.2 L425.5,238.1 M407.3,248.2 L423.1,239.4 M442.3,229.5 L426,238.4 M407.7,248.4 L423.6,239.7 M442.9,229.9 L426.5,238.7 M408,248.7 L424,240 M443.4,230.3 L426.9,239 M408.4,248.9 L424.5,240.3 M444,230.7 L427.4,239.3 M408.7,249.1 L424.9,240.6 M444.5,231.1 L427.8,239.7 M409,249.4 L425.4,241 M445,231.5 L428.3,240 M409.4,249.7 L425.8,241.3 M445.5,231.9 L428.7,240.4 M409.7,249.9 L426.2,241.6 M446.1,232.3 L429.1,240.7 M410,250.2 L426.6,242 M446.5,232.8 L429.5,241.1 M410.3,250.5 L427,242.3 M447,233.2 L429.9,241.5 M410.6,250.7 L427.4,242.7 M447.5,233.7 L430.3,241.8 M410.9,251 L427.7,243.1 M448,234.2 L430.7,242.2 M411.2,251.3 L428.1,243.4 M448.4,234.6 L431.1,242.6 M411.5,251.6 L428.5,243.8 M448.9,235.1 L431.4,243 M411.8,251.9 L428.8,244.2" stroke="#f3cfe0" stroke-width="0.5" fill="none"/>
<path d="M383.3,238.6 L380.1,242.8 M424.4,310.5 L418,306.7 M345.9,260.6 L347.7,261.6 M345.2,264.3 L347.4,264.9 M366.8,345.7 L367.4,337.4 M335.9,348.2 L339.9,339.7 M326.7,287.1 L331.1,285 M438.8,264.3 L429.2,265.8 M391.9,331.9 L389.4,325 M371.9,340.5 L372,332.4 M443.8,236.2 L434.8,240.3 M415,307.9 L408.9,303.8 M332.8,334.5 L337.7,326.5 M343.6,264.1 L345.8,264.7 M453.5,262 L444,263.5 M329.3,350.1 L333.8,341.9 M416.9,229.5 L410.2,234.5 M337.5,337.1 L341.9,328.8 M333,342.3 L337.5,334.1 M325.1,327.7 L330.7,320.6 M324.4,294.6 L329.4,291.4 M313.5,315.1 L319.1,310.3 M428.4,307.2 L421.6,303.8 M364.5,339.5 L365.5,331.2 M338.3,338.1 L342.6,329.8 M424.9,231.3 L417.3,236.2 M324.9,316.8 L330.7,310.6 M371.4,336.5 L371.5,328.4 M437,278.5 L428,278.3 M434.3,229.6 L426.2,234.4 M373,337.3 L372.9,329.3 M358.6,352.7 L360.1,344.3 M401.8,323.5 L397.9,317.6 M359.9,247.4 L359.9,249.7 M345.7,264.8 L347.9,265.4 M422.5,312.1 L416.4,308.1 M316.4,309.6 L322,305.1 M449.9,271.6 L440.6,272.2 M417.9,307.1 L411.5,303.3 M429.9,282.5 L421.2,281.8 M351.6,254.7 L352.6,256.3 M366.4,348.9 L367,340.6 M335.5,273.4 L338.7,272.9 M336.6,273.2 L339.8,272.7 M354.2,256.3 L355,258.1 M428,299 L420.6,296.4 M382.1,237.7 L379.2,241.8 M325.2,331.7 L330.7,324.3 M381.7,334.7 L380.5,327.2 M343.7,263.6 L345.8,264.2 M315.2,325.3 L321,319.3 M370.8,244 L369.3,247.4 M373.7,347.1 L373.6,339.1 M316.6,309.7 L322.3,305.3 M395.1,229.2 L391.2,233.7 M446.1,255.8 L436.5,258.1 M378.3,240.7 L375.7,244.6 M396.6,329.3 L393.5,322.8 M346.8,263.6 L348.8,264.4 M389.2,232.7 L385.8,237 M368.8,243.2 L367.7,246.4 M367.8,342.3 L368.3,334.1 M351.8,257.6 L352.9,259.1 M408.7,234.3 L402.1,239.3 M356.7,253.7 L357.2,255.8 M415.2,226 L409.2,230.9 M341.7,269.2 L344.5,269.2 M403.2,228 L398.3,232.7 M421,300.3 L413.9,297.2 M321.6,322.9 L327.4,316.4 M415.6,234.2 L408.4,239.1 M432,283.3 L423.3,282.5 M416.9,306.4 L410.5,302.6 M344,266.5 L346.5,266.9 M325.9,299.5 L331.4,295.4 M396.2,340 L393.6,333.3 M427.7,235.3 L419.4,240 M316.3,309.1 L321.8,304.7 M320.6,338.6 L326,331.2 M384.8,238.6 L381.3,242.9 M430.8,301.2 L423.5,298.5 M374.1,340.7 L373.9,332.7 M340.4,341.5 L344.3,333.1 M385.8,330.2 L384,323 M356.9,348.5 L358.6,340 M416.3,311.5 L410.5,307.2 M411.2,326.8 L406.7,321.3 M427,231.7 L419.2,236.5 M357.4,253.2 L357.7,255.3 M442.7,240.1 L433.5,244" stroke="#a98ad8" stroke-width="0.7" fill="none" opacity="0.8"/>
<path d="M407.4,231.1 l-1,0.3 l1,-0.3 m-0.3,-0.4 l0.6,0.2 M413.8,234.2 l0.4,1 l0.3,-1.1 m-0.4,0.2 l1,-0.1 M422.4,260.2 l-0.1,-0.2 l-1,1.2 m-0.4,0.6 l0.2,-0.6 M321.9,297.6 l1.5,1.5 l0.6,-0.3 m-0.2,0.2 l1,-0.2 M384,243.9 l-1.5,0.6 l0.6,1.3 m-1,-0.4 l0.7,1 M413.9,298.2 l-1.3,1.1 l-0.2,-0.8 m-0.8,0.7 l0.9,0.1 M370.8,324.9 l-0.7,-0.9 l0.7,0.2 m0.7,-0.3 l-0.4,-0.6 M383.1,317.5 l-0.8,0.7 l-0.6,-1.1 m-0,0.5 l-0.3,0.6 M396.5,230.3 l-1.4,-0.2 l0.4,-1.1 m-0.3,-0.9 l1,0.7 M363.8,334.9 l-0.4,-1.5 l0.8,1 m0.8,-0.6 l-0.6,0.2 M387.6,244.7 l0.2,0.3 l0.6,0.5 m0,0 l0.4,-0.1 M418.5,274.1 l1,-0.1 l1.3,-0.1 m-0.3,-0.2 l-0.6,-0.4 M359.7,349.1 l-1.2,0.9 l-1.3,-0.1 m-0.9,-0.8 l-0.3,0.8 M377.6,244 l0.5,-0.9 l-0.5,0.6 m-0.1,0.1 l0.5,0.9 M436.5,242 l-0.5,-1.2 l-0.1,-0.4 m0.4,-0.3 l0.8,0.7 M381.6,346.1 l0.2,-0.2 l-0.3,1 m-0.4,-0.4 l1.1,0.5 M331,316.5 l1.5,-1.5 l1.1,-1.1 m-0.6,-0.2 l0.3,0.6 M328.7,285.9 l1.5,0.3 l0.9,0.5 m0.6,0.2 l0.5,-1 M327.7,330.6 l-0.2,-1.5 l-0.8,-0.7 m-0.3,0.3 l0.7,-0.4 M435.8,275.9 l-0.7,0.4 l0.3,-1.1 m-0.9,0.9 l0.1,-0.1 M439.5,269.3 l-1.4,0.7 l-0.6,-0.9 m0.5,0.8 l0,0.5 M424.8,293.6 l-0.2,-1.3 l-0.2,-1.1 m0.8,0.3 l-0.5,0.8 M400.3,336.7 l1.5,0.1 l-1.2,1.2 m-0.4,0.5 l1,1.2 M364.2,253.7 l0.2,1.1 l-0.3,1.2 m-0.9,-0.7 l-0.6,0.5 M317.9,314.1 l0.5,0.3 l1,-0.4 m0.2,0.1 l0.4,0.3 M421.4,226.3 l0.5,-1.6 l-0.1,-0.6 m0.2,0.6 l-0.5,-0.8 M434.3,267.9 l-0.4,-0.4 l0.9,0.8 m-0.9,1 l-1.1,1.1 M414.6,287.7 l0.4,0.9 l-1,-0.3 m-0.2,0.1 l-0.1,-0.2 M369.7,249.4 l-1.2,1.6 l0.4,0.3 m-0.8,-0.5 l0,1 M348.4,327.3 l0.4,0.8 l-1.2,-0.3 m-0.6,0.9 l0.7,0.6 M344.2,270.2 l-0.4,-0.3 l0.9,-0.1 m-0,0.9 l-0.8,0.3 M340.4,274.4 l-0.2,-0.4 l-0.9,-1.2 m0.6,1 l0.7,0.8 M443.7,289.8 l1.4,0.8 l0.1,0.6 m0.7,-0.8 l-0,-0.9 M394.5,236.9 l0.3,-0.4 l-0.7,1.3 m0.9,-0.7 l-1,1.1 M325,294.1 l-0.4,0.1 l-0.4,-0.8 m0,-0.3 l0.9,0.1 M328.9,310.6 l0.2,-1.6 l1,-0.8 m0.4,-0.7 l0.9,0.8 M428.5,250.6 l1,-1.1 l-0.3,1.1 m0.9,0.4 l-0,0.5 M342.4,347.6 l-1,-0.7 l0.4,0.8 m-0.3,0.8 l1.1,0.6 M314.6,320.8 l0.4,0.8 l1.4,0.8 m-0.3,0.4 l-1,-0.3 M325.2,284.7 l1.3,0.9 l0.6,-1 m-0.9,0.9 l0.6,-0.9 M371.6,248.8 l-1.4,0.2 l0.8,0.6 m0.4,0.8 l-0.4,-0.7 M314.5,309.3 l1.4,0 l-0.4,1.2 m-0.7,0.5 l0.9,-0 M423.7,237.3 l-1.4,0.4 l0.9,0.3 m0.5,0.5 l0.9,0.1 M380.2,323.6 l-0.6,0.8 l0.9,-0.5 m0.3,-0.9 l1.2,-1.2 M328.5,311.3 l-0.8,0 l-0.4,-0.6 m-0.2,0.6 l0.3,-1 M391.7,243.4 l-0.8,1.2 l-0.1,-0.2 m1,0.8 l0.6,-0.8 M319.9,298.8 l0.8,-0.1 l1.3,-1 m0.1,-0.9 l0.2,-1.2 M389.9,327.3 l-0.5,-1.2 l0.8,1.3 m0.6,-0.2 l0.1,-0.2 M337.1,342.5 l0.5,0.3 l0.5,0.3 m-0.7,0.6 l0.8,-0.7 M422.3,308.6 l-1.5,-0.4 l-1,-0.5 m0.4,-0.8 l0.7,1.2 M368.8,251.4 l-0.8,0.8 l-0.4,-0.5 m0.9,-0.5 l-1.1,0.8 M437.4,273.3 l0.5,1.3 l1.3,-0.7 m0,0.5 l0.6,0.2 M425.5,279.1 l-1.6,-0.4 l-0.7,0 m-0,-0.3 l-0.5,-0.6 M346.8,323 l0.1,-1.6 l1,0.8 m-0.7,0.3 l-1,0.7 M393.3,336.9 l0.3,-0.2 l-0.4,0.3 m0.8,-0.1 l1,0.5 M425.2,269.7 l-1.2,1.6 l0.6,1.4 m0.6,-0.7 l1,0.9 M322.5,299.2 l-1.5,0.4 l-1.1,0 m0.2,-0.9 l0.4,0 M328.1,293.3 l-1.1,-0.3 l-1.3,1.1 m0.8,0.4 l0.6,0.7 M374.8,348 l-1.1,1.1 l-1.2,-0 m-1,-1 l-0,-0.4 M449.2,269.2 l0.9,-0.1 l0.4,0.5 m0.9,-0.4 l-0.4,0.7 M334.5,274.7 l-0,0.2 l-0.2,-0.9 m-0.1,0.7 l0.3,0.8 M335.6,286.4 l1.5,-0.6 l0.3,1 m0.6,-0.3 l0.6,-1 M394.4,240.2 l-0.6,-0.3 l1.3,-0.3 m-0.1,0.6 l0.9,-0.1 M393,313.1 l-0.4,0.7 l0.7,-1.3 m0.6,-0.9 l-0.9,-0.9 M400.1,327 l-0.3,-0.9 l-0.7,-0.3 m0.3,-0.8 l1,0.5 M350.3,323.1 l1.2,-0.9 l0.2,0.7 m0.2,0.6 l-1.1,-0.9 M342.6,274.8 l-1.1,1.6 l-0.2,-0.9 m-0.2,-0.4 l0.2,0.9 M412.1,322.9 l1.2,-0.2 l1.3,0.1 m-0.6,0.9 l-1.2,0.1 M374.3,238.5 l-1.1,-0.8 l-1.3,-0.7 m-0.2,0.7 l-0.4,-0.9 M414.8,226.3 l0.4,-1.1 l-0,-0 m0.3,-0.5 l-0.5,-0.9 M325.6,346.2 l0.9,0.9 l0.7,0.6 m-0.9,0.6 l0,-0.4 M355,329.3 l-0.4,-1 l-0.4,0.6 m0.9,-0.8 l0.4,-1.2 M379.5,340.1 l0.9,-0.6 l0.8,0.2 m-0.8,-0.4 l-0.4,0.7 M430,258.2 l0.6,0.6 l-0.7,0.4 m0.4,0.9 l1,0.4 M398.5,319.5 l0.5,-1.1 l-0.5,0.7 m0.4,0.3 l0.6,-0.7 M425.7,292.1 l0.9,-1.4 l0.1,-0.1 m-0.6,-0.3 l-1.1,0.7 M333.8,307 l-1.3,1.1 l0.2,0.7 m0.8,0.5 l0.9,0.1 M368.9,322.7 l-0.4,0.9 l-0.8,0.9 m0,0.7 l-0.5,-0.5 M372.5,333.6 l0.2,-0.5 l0.6,1.3 m0.9,0 l0.8,-0.1 M384.8,329.1 l-0.8,1.2 l0,-1.1 m-0.4,0.6 l-0.1,-0.9 M384.2,237.3 l-1.1,-0.3 l-0.7,-1.4 m-0.3,-0.2 l-0,-0 M378.7,338.7 l0.6,-0.4 l-0.6,1 m0.9,-0.6 l-0.7,-0.2 M393.1,233.7 l0.8,-0.8 l-0.6,0.5 m0.6,0.1 l-0.7,-0.7 M369.1,248.1 l-1.6,-0.7 l-1,1 m0.7,0 l-0.2,0.8 M421.5,310.9 l-1,-0.5 l1.1,-1.2 m-0.4,0 l-0.5,0.4 M337.2,275.3 l-1,1.4 l1,0.9 m0.3,-0.1 l0.6,0.1 M391.6,240.9 l-1.3,0.2 l-1.2,-0.9 m1,-0.4 l0.4,-1.1 M360.4,252.4 l0.2,-0.7 l-0.9,1.2 m-0.9,0.5 l0.8,1 M333.8,278.7 l-0.8,1.3 l-0.4,1.3 m0.9,-0.3 l0.6,0.6 M339.3,269.8 l-1,-1.5 l-1.1,1 m0.1,0.9 l-0.1,0.9 M374.9,241.9 l1.4,-0.7 l0.6,1.1 m0.1,0.9 l0.2,-0.6 M386.2,233.1 l-0,0.4 l-0.5,-0.5 m-0.3,-0.7 l1.1,-0.2 M404.5,228.6 l0.2,-1.2 l-0.6,0.3 m-1,1 l-0.1,-0.7 M334.9,295.6 l0.6,-1.4 l0.6,-0.1 m-0.9,-0.8 l0.5,0.3 M409.4,227.4 l1.2,-0.4 l-0.3,-0.6 m-0.4,-0.6 l0.6,0.6 M333.4,302.6 l1.3,-0.7 l-0.6,0.7 m0.7,-0.3 l-0.2,0.7 M390.7,240.8 l0.1,-0.3 l0,-0.1 m-0.9,-0.9 l-0.1,0.1 M332.4,286.9 l-1.3,-1.1 l-0.5,-1.2 m-0.7,-0.8 l-0.4,1.1 M351.3,259.1 l0.6,-1.5 l1.3,-0.5 m-0.2,-0.7 l-0.6,0.4 M332,281.6 l-0.6,0.3 l0.1,0.6 m-0.9,-0.4 l-0.4,0.7 M390.2,242.7 l1.3,-1.3 l1.1,0.8 m0.5,0.9 l0.4,0.6 M343.3,260.8 l0.2,-0.9 l0.1,1.3 m-0.1,0.6 l-0.2,0.6 M331.2,279.3 l-1.3,-0.8 l-0.4,0.5 m0.4,-0.5 l-0.1,0.9 M403.2,228.2 l0.4,0.2 l0.5,-1.2 m-0.2,-1 l-0.8,-0.9 M447.7,284.5 l-1.2,-0.4 l-0.9,0.3 m-0.7,-0.5 l-0,-0.9 M430.2,243.9 l-1.1,0.4 l-0.8,0 m0.7,0.8 l1,0.9 M366.7,325.9 l0.5,1.3 l-0,-1.1 m-0.3,0.9 l-1.2,0.5 M435,267.5 l-0.8,-1.3 l0.2,0.4 m-0.6,-0.8 l0.4,1.1 M352.1,262.8 l-0.7,0.4 l-1.2,-0.5 m-0.7,-1 l0.2,0 M324.2,308.3 l1.4,1.5 l-0,-1 m-0.1,0 l-0.2,-0.6 M339.8,322.4 l1,0.4 l0.6,-1.1 m-0.5,0.1 l0.2,0.9 M450.8,272 l0,-0.5 l0.1,-0.9 m-0.1,1 l-0.2,1 M404.1,315.6 l-1.1,-0.9 l0.8,0.4 m0.4,-0.9 l-1.2,-0.3 M402.4,327.8 l0.3,-0.9 l-0.4,-1.1 m0.2,-0.2 l0.8,0.2 M361.8,251.1 l0.6,0.3 l-1.3,1 m1,0.4 l0.4,0.8 M346.8,265.1 l0.9,-0.2 l-0.7,-0.1 m-0,-1 l-0.4,-1 M421,263.4 l-0.8,0.1 l-1.3,-0.2 m-0.9,0.3 l1.1,0.8 M403.6,235.9 l-0.2,-0.7 l-0.8,-1.4 m-0.2,0.2 l-0.4,-0.8 M407.2,302.3 l0.3,-1.5 l-1.2,-0.9 m0.4,-0.5 l-0.4,-0.3 M352.6,260.8 l-0.2,1.2 l1.2,-0.5 m-0.5,-0.2 l0.5,-0.9 M328.1,304.8 l1.2,-1.5 l0.6,-1.2 m-0.7,-0.5 l-0.8,-0.9 M434.4,282 l-0.4,0.4 l-0.6,1.4 m-0.6,-0.8 l-0.9,0.9 M319.9,309 l0.3,1.1 l0.6,-0.1 m0.5,-0.4 l-0.5,0 M326.9,281.9 l-0.8,1 l-0.8,-0.8 m0,-1 l0.9,-1.2 M316.8,330 l-1,-0.6 l0.7,-0.5 m-0.7,0.5 l0.4,0.2 M395.2,311.6 l0.6,-0.2 l1.1,-0.2 m0.3,0 l0.3,-0.5 M337.9,327.5 l1.5,1.5 l0.9,0.5 m0.5,-0.7 l-0.5,-0.3 M416.7,229 l-1.6,-1.1 l1.3,-1.1 m0.7,-0.9 l-0.7,0.6 M420.2,319.8 l-0,-1.2 l0.4,-0.2 m-0.8,-0.7 l0.8,-0.4 M379.3,328.6 l0.3,-1.2 l-0,0.5 m-0.8,-0.9 l-0,1 M373.9,248.6 l-1.3,-1.5 l-0.3,-0.6 m-0.9,-0.2 l0.4,0.8 M363.7,342.1 l0.3,0.6 l0.7,-0.4 m0.3,-0.9 l1.1,-0.9 M402.9,316.4 l1.5,0.8 l-0.9,-1.1 m-0.3,-0.5 l-0.8,0 M349.1,336.5 l0.2,-0.5 l-0.9,1.3 m0.4,-0.7 l1.2,-0.7 M378.6,236.9 l1.1,-1 l-0,0.3 m-0.2,-0.5 l1.1,0.9 M440.8,289.4 l1.1,0.1 l1,-0.1 m0.3,0.6 l-0.9,0.6 M422.8,233.4 l1.1,1.5 l1.3,0.9 m-0.8,-0.8 l-0.1,1 M444.8,254.2 l0.7,-1.4 l0.1,0.2 m-0.3,0.7 l0.8,-0.1 M322.3,311.2 l-0.4,-1.3 l1.4,-0.8 m-0.5,-0.1 l-0.6,0.7 M386.7,239 l0.1,-1 l-1,-1.1 m0.7,0.9 l0.4,0.3 M357.1,354 l-1.2,-0.1 l-1.1,-0.5 m-0.6,-0.4 l-0.4,-0.1 M426.9,229.5 l-0.6,-0.7 l0.7,0.1 m0.7,0.7 l-1.1,0.7 M410.9,242.7 l0.1,-0.7 l0.4,1 m-0.6,0.2 l-1,-1.1 M409.9,304.4 l0.5,-0.2 l0.6,-0.2 m-0.1,0.9 l-0.5,0.8 M315.6,306.8 l-1.1,0 l0.9,0 m0.1,0.8 l0.9,1.1 M386.8,244.6 l-0.7,-0.1 l0,0.9 m-0.6,0.5 l-1.1,1.1 M323.4,299.1 l-0.1,-0.4 l0.3,-0.3 m0.2,0.1 l1,-0.1 M320.3,298.4 l-0.2,0.8 l-0.8,0.5 m-0.4,-0.9 l0,-0.2 M427.5,230.4 l1.6,-0.5 l-1.2,-0.9 m0.3,-0.2 l0.7,-0.7 M381.5,238.1 l-0,1.5 l0.4,0.2 m0,0.6 l-0.4,0.4 M406.4,304.5 l0.8,-0.6 l0.1,-0.2 m-0.8,-0.1 l-0.3,-0.1 M337.7,324.2 l1.5,-1.5 l-0.9,-0.2 m-1,1 l-0.3,1 M336.6,285.4 l-1.4,-1.3 l-0.9,0.9 m-0.1,-0.7 l0.6,0.2 M412.1,236.6 l-0.8,1.1 l1.4,0.3 m0.5,0.9 l-0.8,0.2 M431.7,279.5 l-0.9,0.6 l1,-0.7 m0.6,0.9 l-0.7,-0.3 M423.9,308.9 l-1,0.3 l1.1,-1 m0.9,-0.7 l-0.7,-0.4 M424.3,285.6 l0.1,0.7 l-1.2,1.1 m-0.8,0.9 l0.4,-0.4 M340.2,321.3 l0.2,-0.5 l1.2,-0.6 m0.5,-0.6 l0,0.5 M327.6,331.7 l1,1.4 l-0.7,-0.7 m0,0.4 l-1.1,1.1 M449.2,254.6 l1,0.3 l0,0.1 m-0.2,0.4 l-0.2,0.6 M426,291 l1.6,-0 l1.4,0.6 m0.7,0.6 l1,0.6 M402.3,234.1 l-0.5,1.6 l-0.2,0.3 m1,0.9 l-0.9,0.9 M347,353.5 l0.7,-0.8 l-0.2,-0.2 m-0.4,-0.5 l-0.6,-0.8 M335.2,338 l-0.3,1 l-1,0.9 m0.3,-1 l0.8,0.4 M425.3,296.5 l-0.6,1.3 l0.4,0.6 m-0,-0.4 l0.6,-1.1 M407.6,230.5 l1.3,1.2 l0.9,-0.4 m-0,-0 l0.9,-1.2 M316.2,336 l-0,1.5 l0.4,-0.3 m-0.5,-0.5 l1.1,-0.2 M338.7,351.8 l-0.5,-1.2 l1.2,0.4 m-0.8,-0.5 l-0.6,-1 M437,302.5 l1.6,-0.5 l1.3,0.9 m-0.6,0.8 l0.6,-0.1 M330.8,299.9 l0.2,-1.4 l-0.7,0.4 m0.1,-0.9 l-0.8,0.2 M431.9,302.9 l0.1,0.7 l-0.7,0.6 m-0.9,-0.1 l-1,-0.3 M443.8,257.1 l-1.4,1.2 l0.2,0.6 m-0.5,-0.2 l0.6,0.9 M335.7,323.8 l-1.4,0.4 l1,-0.6 m0.8,-1 l-0.1,0.9 M331.6,337.6 l-1.1,0.6 l0.2,-0.6 m0.7,-0.8 l-0.3,-0.1 M348.5,258.9 l1.3,-0.4 l-1,0.5 m-0.2,-0.7 l-0.1,0.2 M401.6,235.1 l0.8,-1.3 l-0.7,-0.2 m-0.3,0.5 l-1.2,0.3 M355,256.7 l0.8,-0.2 l0.2,0.4 m-0.9,0.1 l0.1,-0.6 M385.8,241.9 l1.6,-0.4 l-0.4,0.5 m1,0.3 l-0.5,0.7 M365.3,250.9 l0.2,0.1 l0.6,0.7 m0.7,-0.9 l1,1.1 M360,324.7 l1.5,-1 l-1,0.3 m0.1,0.8 l0.3,0.6 M356.5,255.7 l-0.8,-0.9 l-0.5,0.8 m-0.3,-0.2 l0.3,0.2 M446.2,267.6 l0,1.2 l1.3,-0.6 m-1,0.2 l0.2,-0.9 M340.2,317.2 l-1.6,-1.1 l1.1,-1.1 m0.1,-0.7 l0,0.8 M379.2,334.1 l-0.3,0.4 l0.7,-0.8 m-0.1,0.4 l0,-0.3 M415.6,318.5 l-0.5,0.2 l-0.7,-1.3 m0.7,-0.4 l0.4,1 M413.4,226.9 l-1,-1.2 l1.4,-0.9 m0.4,-0.3 l0.5,-0.9 M408.4,299.8 l0.7,0.9 l0.6,-0.8 m0.3,1 l0.4,0.2 M427.6,273.7 l0,1.4 l-0.3,1.3 m-0.8,-0.2 l0.1,-0.5 M340.8,264.6 l0.9,-1.2 l-1,0.6 m-0.5,-0.1 l-0.5,0 M327.8,333.5 l-0.5,-1 l0.1,-0.2 m0.2,-0.7 l-0.9,0.1 M351,262.6 l1.3,0.9 l-0.4,-0.1 m-0.1,0.2 l0.1,-0.3 M329.5,309.7 l-1,1.2 l0.7,-0.4 m0.6,0.4 l0.8,-0.7 M331,276.2 l-1.6,-0.4 l-1.1,-0.2 m-1,0.7 l-0.5,-0.6 M397.6,241.7 l-0.4,0.2 l-1.3,0.2 m-0.1,0.7 l-0.9,-1.1 M429.2,241.5 l-1,1.5 l0.2,-0.3 m0.5,-0.4 l-0.7,-0.1 M424.2,292 l1.3,-0.7 l0.8,1 m0.9,0.6 l-0,-0.4 M433.1,236.1 l1.6,-1.6 l-0.9,0.1 m0.2,0.5 l0.5,0 M444.6,256.8 l-0.4,-1 l-0.9,-0.4 m-0.7,-0.2 l-0.8,1.1 M329.1,315.3 l-1.1,1.5 l-0.1,-0.4 m-0.6,-0.2 l0.5,1.2 M392,330.4 l-0.1,-1.1 l-1.1,-0.6 m-0.2,0.6 l0.1,0.6 M424.3,259.6 l1.5,-0 l-0.1,-0.6 m-0.5,0.9 l-0,0 M398,319.5 l-1.1,1.1 l0.6,-0.4 m0.3,0.3 l-0.1,0.6 M397.8,322.4 l0.5,0.3 l-0.8,0.5 m-0.5,-0 l0.5,-0 M380.7,241.6 l1.3,0.7 l0.5,-0.4 m0.9,0.5 l-1,0.6 M440.5,261.5 l-1.4,1.4 l-1.2,0.4 m-0.9,-0.9 l0.6,-0.7 M351.2,263.7 l0.9,0.1 l-1.3,1 m-0.9,0.5 l1,0 M315.2,328.8 l-0.5,-0.3 l0.6,0.3 m0.3,-0.9 l-1.1,-0.1 M429.6,308.2 l-0.8,-1.5 l-0.5,-0.2 m-0.8,-0.8 l-1,1.2 M401.1,331.7 l-1.3,-0.1 l-1.2,-0.6 m0.1,-0.8 l0.2,-0 M331.2,282 l-0.6,0.6 l-0.1,0.9 m-0.8,0.6 l0.9,1 M429.8,240 l1.5,0.9 l0.1,-1.2 m0.1,0.8 l-0.7,-0.1 M442.4,233.5 l1.4,-1 l-0.9,0.5 m-0.5,-0 l-1.1,1 M428.8,300 l0.8,-1.5 l1,-0.4 m0.8,-0.7 l-1.1,-0 M436.9,245.1 l-1.4,-0.6 l0.1,-1 m0.3,0.4 l-0.1,0.4 M363.7,249.6 l-0.8,-0.7 l0.5,-0.5 m0.3,-0.8 l-0.1,-0.1 M340.9,317.1 l-1.2,-1.2 l0.6,1.1 m0.3,0.6 l-0.9,0.5 M436,304.4 l-0.7,0.8 l0.1,0.4 m-1,-0.8 l-0,-0.1 M325.9,285.5 l-0.3,0 l-0.7,-0.7 m-0.6,-0.5 l-0.3,-0.6 M392.3,240 l1.3,-1.2 l0.3,-1.1 m0.6,-0.9 l-0.3,0.9 M362.9,255.1 l0.3,-0.1 l-0.5,0.6 m-1,-0.2 l0,0.6 M330.1,316.6 l0.7,-0.9 l-1.3,-0.1 m-0.4,-0.5 l0.9,0 M405.3,234.1 l0.5,-0.4 l-0.3,1.2 m0.5,-1 l0.4,1 M317.7,315.8 l-1.1,-0.2 l-1,-0 m-0,0.8 l-0.3,0.6 M367.4,347.3 l1.2,-1.3 l1.2,0.8 m0.9,0.6 l-1.2,-0 M339.6,315.6 l-0.4,0.3 l-0.4,-0 m0,-0.3 l-0.2,-0.4 M323.9,337.3 l0.3,0.1 l-1.1,-1.1 m0.4,-0.9 l0.6,0.5 M342.2,345.8 l-1,0 l0.4,-1.1 m-0.7,-0.3 l0.9,-0.7 M416.2,242.9 l1.6,0.6 l0.7,-0.1 m-0.3,0.8 l-0.8,1.1 M420.2,253.3 l0.5,-1.2 l-0.2,-0.3 m-0.1,-0.8 l0.4,-1.1 M369.6,340 l0.9,1.4 l-1.1,-0.2 m-0.8,0.9 l-0.8,-0.7 M412.2,236.2 l0.3,0.3 l1.1,1 m0.8,-0.5 l-0.7,-0.6 M399.2,239.7 l0.5,0.3 l1.3,0.4 m-0.5,-0 l0.2,0.4 M444.6,236.1 l1.4,1.4 l-1.2,0.8 m0.3,0.7 l-0.9,-0.8 M390.6,233.6 l-1,1.4 l0.3,-1.2 m-0.7,0.7 l-0.4,1.2 M324.6,290.6 l0.9,-0.6 l-1,0.8 m0.3,-0.6 l0.5,0.5 M375.6,236.9 l-0.7,-0.6 l0.3,0.2 m0.5,0.2 l0.7,-0.6 M351.5,329.1 l-1.3,-0.4 l0.8,-0.4 m-0.1,0.4 l0.2,0.9 M438.2,245.9 l1.3,-0.9 l-0.8,0.8 m0.6,-0.8 l1.1,1.2 M433.4,297.6 l-0.7,0.7 l1.2,-0.2 m-0.9,0.6 l-0.2,0.8 M422.8,265 l0.4,-1.4 l0.2,1 m1,-0.6 l-0,1 M371.2,242.5 l-1.5,1.2 l-0.7,1.2 m0.9,0.3 l-0.5,0.7 M364.7,341.2 l-1.2,1.2 l0.4,-0.9 m-0.4,0.3 l-0.2,-0.4 M376.9,245.8 l-0.4,-1.2 l0,-0 m-0.5,0.7 l-0.4,0.7 M317.3,320.9 l1.4,0.7 l-0.4,1.3 m-0.3,0.7 l1,1 M315.9,324.9 l0,-0.5 l0.4,0.1 m0.6,0.6 l-0.6,0.9 M380.7,239.5 l1.1,1.6 l-1.3,0.7 m0.2,0.6 l0.7,0.1 M371.9,324.6 l-1.2,-0.3 l-0.5,-1.3 m-0.1,0.5 l-0.8,0.9 M375,244.2 l-1,-0.8 l0.6,-0.2 m0.3,-0 l0.5,0.3 M423.2,229.4 l1.5,-0.9 l0.8,-1.1 m-0.1,-0.8 l0.9,-0.4 M327.8,329.1 l-0.3,-1.4 l-0.4,0.4 m-0.3,0 l0.9,-0.9 M334.6,293.2 l1.1,-0.2 l-0,-0.6 m0.6,-0.1 l-0.2,-1 M326.4,337 l0.9,-1.3 l-1,0.3 m-0.8,-0.2 l0.5,-0.4 M440,283.2 l0.9,0.4 l0.9,-0.9 m0.5,-1 l-1.1,0.3 M365.1,352.4 l-1.1,1.2 l0.5,1 m0.3,0.3 l-1.2,0.6 M379.9,244.6 l1.4,0.7 l-0.1,-0.9 m0,-0.1 l0.6,0 M333.2,323.9 l-0.4,-0.5 l0.2,0.4 m-0.5,0.9 l-0,-1 M360.3,253.2 l-1.5,-0.6 l1.1,1.3 m0.5,0.8 l0.7,1.1 M420.5,250.4 l-0.3,1.1 l0,0.6 m-0,-0.5 l0.3,-0.5 M337.1,278.4 l-0.9,-0.2 l-0.5,1.1 m-0.6,0.5 l-0,0.3 M333.9,291.6 l-0.3,0.9 l0.8,-0.3 m0.5,0 l-0.8,0.9 M433.3,282.1 l0.8,1 l-0.2,1.1 m0.1,0.1 l-0.7,1 M325.2,289 l0.5,1.1 l-0.1,1 m-0.4,0.9 l0.8,-1.2 M399.5,311.3 l0.7,0.1 l-0.7,-1.3 m-0.8,0.5 l-0.8,0.3 M438,232.2 l-1,-1.5 l-1.2,-1.4 m0.8,-0.6 l-1.1,-0.5 M445.9,287.3 l-1.4,-0.4 l-1.2,-1.1 m-0.2,0.9 l-0.2,-0.8 M372.8,243 l1.4,0.3 l-0.5,-0.7 m-1,-0.6 l0.3,-1 M387,323 l-1.3,1.6 l-1.4,-0.3 m0.5,0.6 l0.5,-0.8 M438.9,289.7 l-1.6,1.6 l-1.1,0.9 m0.7,-0.7 l0.1,0.1 M438.6,250.3 l0.3,-0 l1.2,-1 m-0.1,0.8 l1,-0.4 M334.4,323.8 l1,-1.3 l0.8,0.8 m-0.7,-0.3 l-1.2,0.1 M400.3,314.8 l0.9,1.3 l-0.3,0.1 m-0.3,-0.4 l-0.1,1.1 M338.5,317.3 l-1.1,0.1 l-0.9,0.8 m0.9,0.3 l-0,0.4 M403.6,241.3 l-1,0.1 l1.1,-0.5 m0.8,-0 l-0.7,0.9 M335,321.1 l-0.8,-1.6 l-0.4,-0.3 m0.5,0.5 l0.1,-0.5 M326.3,293.3 l-1.5,-0.9 l-1.1,-0.8 m0.5,-0.3 l1.1,-0.1 M382.8,233.2 l-0.1,1 l-0.4,0.7 m-0.2,0.5 l-0.4,1.1 M365.9,334 l1,-0.8 l0.6,1.2 m-0.7,0.2 l0.1,0.1 M357.1,331.7 l1,-0.8 l-0.3,-1.1 m-0.5,0.3 l1.1,0.1 M337.7,348.4 l1.5,0.4 l-0.8,-0.9 m-0.9,0.1 l-1.2,0.5 M359,251.3 l0.9,1.4 l1,-0.6 m-0.5,-0 l1.2,0.6 M423.7,240.3 l-1.5,0.5 l-0.4,0.2 m0.3,-1 l-0.4,-0.4 M411.7,318.6 l-0.7,0.7 l-0.3,1.2 m-0.9,-0.7 l0.3,-0.4 M354.1,346.6 l-0.2,-0.6 l-0.3,-0.7 m-0.8,1 l-1.2,-0.7 M351,262.8 l1.5,-1.2 l1,0.3 m0.4,-0.7 l0.7,-1.1 M356,329.7 l0.9,0.6 l-0.9,-1.3 m0.5,0.1 l-0.5,-0.7 M423.5,236.7 l-1,0.1 l0.4,0.6 m0.2,0.9 l0.5,-0.5 M427.6,276.1 l-0.1,-1.1 l1.2,-0.6 m0.1,1 l0.6,0.2 M330.3,332.5 l-1.6,1.5 l-0.3,-1.2 m0.5,-0.2 l-0.1,0.9 M433,276.5 l1.5,0.9 l-1.1,-1.4 m-0.4,0.1 l0.3,0.1 M408.1,230.2 l-0.9,1.5 l1.3,-0.1 m0.7,0.9 l-0.3,-1.1 M334.1,293.3 l0.2,-0.2 l0.9,0.9 m-0.7,-0.8 l-0.2,-1 M329.1,340.7 l0.1,-0.2 l-0.4,0.1 m0.3,-0.6 l-0.1,-0.4 M394.7,310.2 l0.1,0.5 l-0.3,1.4 m-0.4,-0.7 l-1.1,0.6 M383.3,321.2 l-1.3,-1.5 l0.1,-1.1 m-0.6,-0.9 l0.8,-0.4 M434,264.9 l0.2,-0.3 l0.9,0.8 m-0.4,-0.8 l0.9,-0.7 M418.5,226.8 l0.2,1.1 l-1.3,-1.2 m-0,-0.5 l0.8,0.7 M383.9,328.8 l0.8,0.4 l0.9,-0.2 m0.4,0.4 l0.1,0.1 M318.5,309.6 l-0.2,0.5 l0.8,1.3 m-0.2,-0.5 l-0.9,0.4 M397.8,331 l0.8,0.1 l0.3,0.9 m-0.6,-0.5 l-0.5,0.7 M440.7,257.2 l-0.6,-0.1 l0.2,-1.1 m-0.7,-0.3 l-0.9,-0 M336.6,268.2 l-0.7,-0.4 l0,-1 m0.3,-0.7 l1,-0.9 M439.2,232.9 l-1.1,0.5 l-1.3,0.5 m0.8,0 l-1.1,1 M350.1,260.5 l1,-1.5 l-0.1,-0.5 m-0.3,-0.4 l-1,-0.5 M324.3,324 l0.8,-0.5 l-0.8,-1 m0.1,0.9 l0.7,-0.4 M350,330.8 l-0.7,1.4 l0.9,1.2 m0.6,-0.3 l-0,1 M429.6,296.1 l0.7,0.3 l1.1,0.5 m0.8,0.9 l0.9,0.9 M415.7,301.9 l-0.9,0.4 l1.1,-0.3 m0.4,0.6 l0.3,0.4 M359.1,249.5 l0.3,-1.5 l-0.8,1.1 m-0.1,0.1 l-0.9,0.3 M417.4,309 l-1.6,-0.5 l-0.9,0.2 m-0.4,0.4 l-0.7,0.5 M354.3,261.8 l-0,-0.8 l0.2,1 m0.9,0.2 l-0.4,-0.7 M351.8,325 l0.4,-0.5 l0.3,-0.5 m0.9,0.7 l-0.3,-0.9 M342.3,272.7 l-1.1,-1.2 l-0.3,1.1 m-0.3,-0.4 l1.2,0.5 M359.4,341.6 l-0.3,1.4 l-0.8,-1.3 m0,-0.5 l0.8,0.9 M419.2,285.2 l-1,-1.2 l0.5,-0.8 m-0.9,-0.9 l-0.1,-0.1 M448.4,276.1 l1.3,-1.4 l-1.3,-0.8 m0.8,-0.4 l-0.9,-0.1 M427.4,271.9 l-0.4,-0.3 l-0.4,-1.2 m-0.1,-0.4 l0.3,0.8 M385.3,325.8 l-1.3,-1.4 l0,-1 m0,-0.4 l-0.7,-0.3 M350.5,323.1 l-0.5,0.5 l1.1,1.1 m-0.8,0.4 l-1,-0.1 M326.4,286.4 l-0.7,0.5 l-0.3,0.8 m0.1,0.1 l0.3,-0.1 M431.8,296.7 l0.5,-1 l-0,1 m-0.2,-0.3 l-1.1,0.1" stroke="#1e1ec8" stroke-width="1.05" fill="none"/>
<path d="M339.6,341.3 l2.3,0.1 M416.9,308.8 l-2.3,-1.9 M368.6,347.8 l-2.2,0.6 M316.6,309.8 l-2.4,1.8 M334,331.9 l1.3,-1.2 M413.9,295 l0,1.6 M358.8,252.7 l-0,1.1 M351.1,263.2 l-0.1,-0.6 M380.8,326 l0.4,0.3 M419.6,246.4 l-1.5,-1 M354.6,334.6 l-2,1.1 M419.2,300 l-1.6,-1.3 M350.5,349.9 l-2,-1.4 M418.9,313.4 l-2.3,-0.3 M380.3,342.5 l-2,-1.4 M329,339.4 l2.1,-0.7 M356,348.4 l2.3,0.9 M430.1,252.7 l0.5,1.8 M337.8,276.2 l-1,-1.2 M349.7,260.2 l-0.8,1.2 M337.9,344.4 l0,-1.5 M332,331.8 l0.7,-0.4 M393,333.1 l-1.1,-1.1 M426.3,297.6 l-0.9,-0.6 M422.5,308.2 l0.6,-0.5 M381.4,241.7 l-0.8,-1.3 M338.8,335.9 l-1.8,0.8 M401.9,312.7 l0.6,1.3 M426.9,248.4 l1.6,1.3 M379.2,328.8 l0.4,-1.6 M415.8,304.5 l-0.9,-0.9 M388.4,329.3 l0.1,0.4 M421.3,288.6 l0.4,-1.7 M337.1,331.2 l-1.6,-1.1 M432.8,233.3 l-1.7,0.9 M327.5,316.1 l-0.4,-2 M331.2,289.7 l1,-1.2 M328.4,287.8 l0.1,-0.1 M348.8,260.7 l-1.6,0.2 M417.8,310 l-0.4,1" stroke="#8ad052" stroke-width="1.0" fill="none"/>
</g>
<circle cx="449.7" cy="235.3" r="3.5" fill="url(#bead)"/>
<circle cx="451.8" cy="238.2" r="3.5" fill="url(#bead)"/>
<circle cx="453.6" cy="241.3" r="3.5" fill="url(#bead)"/>
<circle cx="455.1" cy="244.7" r="3.5" fill="url(#bead)"/>
<circle cx="456.2" cy="248.2" r="3.5" fill="url(#beadp)"/>
<circle cx="456.9" cy="252" r="3.5" fill="url(#bead)"/>
<circle cx="457.3" cy="256" r="3.5" fill="url(#bead)"/>
<circle cx="457.4" cy="260.1" r="3.5" fill="url(#bead)"/>
<circle cx="457" cy="264.4" r="3.5" fill="url(#bead)"/>
<circle cx="456.4" cy="268.8" r="3.5" fill="url(#bead)"/>
<circle cx="455.3" cy="273.4" r="3.5" fill="url(#bead)"/>
<circle cx="454" cy="278" r="3.5" fill="url(#bead)"/>
<circle cx="452.2" cy="282.6" r="3.5" fill="url(#bead)"/>
<circle cx="450.2" cy="287.4" r="3.5" fill="url(#bead)"/>
<circle cx="447.8" cy="292.1" r="3.5" fill="url(#beadp)"/>
<circle cx="445.1" cy="296.8" r="3.5" fill="url(#bead)"/>
<circle cx="442.1" cy="301.5" r="3.5" fill="url(#bead)"/>
<circle cx="438.9" cy="306.1" r="3.5" fill="url(#bead)"/>
<circle cx="435.3" cy="310.7" r="3.5" fill="url(#bead)"/>
<circle cx="431.5" cy="315.1" r="3.5" fill="url(#bead)"/>
<circle cx="427.5" cy="319.5" r="3.5" fill="url(#bead)"/>
<circle cx="423.3" cy="323.7" r="3.5" fill="url(#bead)"/>
<circle cx="418.9" cy="327.7" r="3.5" fill="url(#bead)"/>
<circle cx="414.3" cy="331.6" r="3.5" fill="url(#bead)"/>
<circle cx="409.5" cy="335.2" r="3.5" fill="url(#beadp)"/>
<circle cx="404.6" cy="338.7" r="3.5" fill="url(#bead)"/>
<circle cx="399.7" cy="341.9" r="3.5" fill="url(#bead)"/>
<circle cx="394.6" cy="344.8" r="3.5" fill="url(#bead)"/>
<circle cx="389.5" cy="347.5" r="3.5" fill="url(#bead)"/>
<circle cx="384.4" cy="349.9" r="3.5" fill="url(#bead)"/>
<circle cx="379.3" cy="352.1" r="3.5" fill="url(#bead)"/>
<circle cx="374.1" cy="353.9" r="3.5" fill="url(#bead)"/>
<circle cx="369.1" cy="355.4" r="3.5" fill="url(#bead)"/>
<circle cx="364.1" cy="356.6" r="3.5" fill="url(#bead)"/>
<circle cx="359.2" cy="357.5" r="3.5" fill="url(#beadp)"/>
<circle cx="354.4" cy="358.1" r="3.5" fill="url(#bead)"/>
<circle cx="349.8" cy="358.3" r="3.5" fill="url(#bead)"/>
<circle cx="345.3" cy="358.2" r="3.5" fill="url(#bead)"/>
<circle cx="341" cy="357.8" r="3.5" fill="url(#bead)"/>
<circle cx="336.9" cy="357" r="3.5" fill="url(#bead)"/>
<circle cx="333.1" cy="355.9" r="3.5" fill="url(#bead)"/>
<circle cx="329.5" cy="354.5" r="3.5" fill="url(#bead)"/>
<circle cx="326.2" cy="352.8" r="3.5" fill="url(#bead)"/>
<circle cx="323.1" cy="350.8" r="3.5" fill="url(#bead)"/>
<circle cx="320.4" cy="348.5" r="3.5" fill="url(#beadp)"/>
<circle cx="317.9" cy="345.9" r="3.5" fill="url(#bead)"/>
<circle cx="315.8" cy="343" r="3.5" fill="url(#bead)"/>
<circle cx="314" cy="339.9" r="3.5" fill="url(#bead)"/>
<circle cx="312.5" cy="336.5" r="3.5" fill="url(#bead)"/>
<circle cx="311.4" cy="333" r="3.5" fill="url(#bead)"/>
<circle cx="310.7" cy="329.2" r="3.5" fill="url(#bead)"/>
<circle cx="310.3" cy="325.2" r="3.5" fill="url(#bead)"/>
<circle cx="310.2" cy="321.1" r="3.5" fill="url(#bead)"/>
<circle cx="310.6" cy="316.8" r="3.5" fill="url(#bead)"/>
<circle cx="311.2" cy="312.4" r="3.5" fill="url(#beadp)"/>
<circle cx="312.3" cy="307.8" r="3.5" fill="url(#bead)"/>
<circle cx="313.6" cy="303.2" r="3.5" fill="url(#bead)"/>
<circle cx="315.4" cy="298.6" r="3.5" fill="url(#bead)"/>
<circle cx="317.4" cy="293.8" r="3.5" fill="url(#bead)"/>
<circle cx="319.8" cy="289.1" r="3.5" fill="url(#bead)"/>
<circle cx="322.5" cy="284.4" r="3.5" fill="url(#bead)"/>
<circle cx="325.5" cy="279.7" r="3.5" fill="url(#bead)"/>
<circle cx="328.7" cy="275.1" r="3.5" fill="url(#bead)"/>
<circle cx="332.3" cy="270.5" r="3.5" fill="url(#bead)"/>
<circle cx="336.1" cy="266.1" r="3.5" fill="url(#beadp)"/>
<circle cx="340.1" cy="261.7" r="3.5" fill="url(#bead)"/>
<circle cx="344.3" cy="257.5" r="3.5" fill="url(#bead)"/>
<circle cx="348.7" cy="253.5" r="3.5" fill="url(#bead)"/>
<circle cx="353.3" cy="249.6" r="3.5" fill="url(#bead)"/>
<circle cx="358.1" cy="246" r="3.5" fill="url(#bead)"/>
<circle cx="363" cy="242.5" r="3.5" fill="url(#bead)"/>
<circle cx="367.9" cy="239.3" r="3.5" fill="url(#bead)"/>
<circle cx="373" cy="236.4" r="3.5" fill="url(#bead)"/>
<circle cx="378.1" cy="233.7" r="3.5" fill="url(#bead)"/>
<circle cx="383.2" cy="231.3" r="3.5" fill="url(#beadp)"/>
<circle cx="388.3" cy="229.1" r="3.5" fill="url(#bead)"/>
<circle cx="393.5" cy="227.3" r="3.5" fill="url(#bead)"/>
<circle cx="398.5" cy="225.8" r="3.5" fill="url(#bead)"/>
<circle cx="403.5" cy="224.6" r="3.5" fill="url(#bead)"/>
<circle cx="408.4" cy="223.7" r="3.5" fill="url(#bead)"/>
<circle cx="413.2" cy="223.1" r="3.5" fill="url(#bead)"/>
<circle cx="417.8" cy="222.9" r="3.5" fill="url(#bead)"/>
<circle cx="422.3" cy="223" r="3.5" fill="url(#bead)"/>
<circle cx="426.6" cy="223.4" r="3.5" fill="url(#bead)"/>
<circle cx="430.7" cy="224.2" r="3.5" fill="url(#beadp)"/>
<circle cx="434.5" cy="225.3" r="3.5" fill="url(#bead)"/>
<circle cx="438.1" cy="226.7" r="3.5" fill="url(#bead)"/>
<circle cx="441.4" cy="228.4" r="3.5" fill="url(#bead)"/>
<circle cx="444.5" cy="230.4" r="3.5" fill="url(#bead)"/>
<circle cx="447.2" cy="232.7" r="3.5" fill="url(#bead)"/>
<ellipse cx="376.2" cy="283.4" rx="45.5" ry="29.5" transform="rotate(-41 376.2 283.4)" fill="url(#innershade)"/>
<g clip-path="url(#inner)">
<circle cx="327.7" cy="234.9" r="2.85" fill="url(#bead)"/>
<circle cx="333.7" cy="234.9" r="2.85" fill="url(#bead)"/>
<circle cx="339.7" cy="234.9" r="2.85" fill="url(#bead)"/>
<circle cx="345.7" cy="234.9" r="2.85" fill="url(#bead)"/>
<circle cx="351.7" cy="234.9" r="2.85" fill="url(#bead)"/>
<circle cx="357.7" cy="234.9" r="2.85" fill="url(#bead)"/>
<circle cx="363.7" cy="234.9" r="2.85" fill="url(#bead)"/>
<circle cx="369.7" cy="234.9" r="2.85" fill="url(#bead)"/>
<circle cx="375.7" cy="234.9" r="2.85" fill="url(#bead)"/>
<circle cx="381.7" cy="234.9" r="2.85" fill="url(#bead)"/>
<circle cx="387.7" cy="234.9" r="2.85" fill="url(#bead)"/>
<circle cx="393.7" cy="234.9" r="2.85" fill="url(#bead)"/>
<circle cx="399.7" cy="234.9" r="2.85" fill="url(#bead)"/>
<circle cx="405.7" cy="234.9" r="2.85" fill="url(#bead)"/>
<circle cx="411.7" cy="234.9" r="2.85" fill="url(#bead)"/>
<circle cx="417.7" cy="234.9" r="2.85" fill="url(#bead)"/>
<circle cx="423.7" cy="234.9" r="2.85" fill="url(#bead)"/>
<circle cx="330.7" cy="240.1" r="2.85" fill="url(#bead)"/>
<circle cx="336.7" cy="240.1" r="2.85" fill="url(#bead)"/>
<circle cx="342.7" cy="240.1" r="2.85" fill="url(#bead)"/>
<circle cx="348.7" cy="240.1" r="2.85" fill="url(#bead)"/>
<circle cx="354.7" cy="240.1" r="2.85" fill="url(#bead)"/>
<circle cx="360.7" cy="240.1" r="2.85" fill="url(#bead)"/>
<circle cx="366.7" cy="240.1" r="2.85" fill="url(#bead)"/>
<circle cx="372.7" cy="240.1" r="2.85" fill="url(#bead)"/>
<circle cx="378.7" cy="240.1" r="2.85" fill="url(#bead)"/>
<circle cx="384.7" cy="240.1" r="2.85" fill="url(#bead)"/>
<circle cx="390.7" cy="240.1" r="2.85" fill="url(#bead)"/>
<circle cx="396.7" cy="240.1" r="2.85" fill="url(#bead)"/>
<circle cx="402.7" cy="240.1" r="2.85" fill="url(#bead)"/>
<circle cx="408.7" cy="240.1" r="2.85" fill="url(#bead)"/>
<circle cx="414.7" cy="240.1" r="2.85" fill="url(#bead)"/>
<circle cx="420.7" cy="240.1" r="2.85" fill="url(#bead)"/>
<circle cx="327.7" cy="245.3" r="2.85" fill="url(#bead)"/>
<circle cx="333.7" cy="245.3" r="2.85" fill="url(#bead)"/>
<circle cx="339.7" cy="245.3" r="2.85" fill="url(#bead)"/>
<circle cx="345.7" cy="245.3" r="2.85" fill="url(#bead)"/>
<circle cx="351.7" cy="245.3" r="2.85" fill="url(#bead)"/>
<circle cx="357.7" cy="245.3" r="2.85" fill="url(#bead)"/>
<circle cx="363.7" cy="245.3" r="2.85" fill="url(#bead)"/>
<circle cx="369.7" cy="245.3" r="2.85" fill="url(#bead)"/>
<circle cx="375.7" cy="245.3" r="2.85" fill="url(#bead)"/>
<circle cx="381.7" cy="245.3" r="2.85" fill="url(#bead)"/>
<circle cx="387.7" cy="245.3" r="2.85" fill="url(#bead)"/>
<circle cx="393.7" cy="245.3" r="2.85" fill="url(#bead)"/>
<circle cx="399.7" cy="245.3" r="2.85" fill="url(#bead)"/>
<circle cx="405.7" cy="245.3" r="2.85" fill="url(#bead)"/>
<circle cx="411.7" cy="245.3" r="2.85" fill="url(#bead)"/>
<circle cx="417.7" cy="245.3" r="2.85" fill="url(#bead)"/>
<circle cx="423.7" cy="245.3" r="2.85" fill="url(#bead)"/>
<circle cx="330.7" cy="250.5" r="2.85" fill="url(#bead)"/>
<circle cx="336.7" cy="250.5" r="2.85" fill="url(#bead)"/>
<circle cx="342.7" cy="250.5" r="2.85" fill="url(#bead)"/>
<circle cx="348.7" cy="250.5" r="2.85" fill="url(#bead)"/>
<circle cx="354.7" cy="250.5" r="2.85" fill="url(#bead)"/>
<circle cx="360.7" cy="250.5" r="2.85" fill="url(#bead)"/>
<circle cx="366.7" cy="250.5" r="2.85" fill="url(#bead)"/>
<circle cx="372.7" cy="250.5" r="2.85" fill="url(#bead)"/>
<circle cx="378.7" cy="250.5" r="2.85" fill="url(#bead)"/>
<circle cx="384.7" cy="250.5" r="2.85" fill="url(#bead)"/>
<circle cx="390.7" cy="250.5" r="2.85" fill="url(#bead)"/>
<circle cx="396.7" cy="250.5" r="2.85" fill="url(#bead)"/>
<circle cx="402.7" cy="250.5" r="2.85" fill="url(#bead)"/>
<circle cx="408.7" cy="250.5" r="2.85" fill="url(#bead)"/>
<circle cx="414.7" cy="250.5" r="2.85" fill="url(#bead)"/>
<circle cx="420.7" cy="250.5" r="2.85" fill="url(#bead)"/>
<circle cx="327.7" cy="255.7" r="2.85" fill="url(#bead)"/>
<circle cx="333.7" cy="255.7" r="2.85" fill="url(#bead)"/>
<circle cx="339.7" cy="255.7" r="2.85" fill="url(#bead)"/>
<circle cx="345.7" cy="255.7" r="2.85" fill="url(#bead)"/>
<circle cx="351.7" cy="255.7" r="2.85" fill="url(#bead)"/>
<circle cx="357.7" cy="255.7" r="2.85" fill="url(#bead)"/>
<circle cx="363.7" cy="255.7" r="2.85" fill="url(#bead)"/>
<circle cx="369.7" cy="255.7" r="2.85" fill="url(#bead)"/>
<circle cx="375.7" cy="255.7" r="2.85" fill="url(#bead)"/>
<circle cx="381.7" cy="255.7" r="2.85" fill="url(#bead)"/>
<circle cx="387.7" cy="255.7" r="2.85" fill="url(#bead)"/>
<circle cx="393.7" cy="255.7" r="2.85" fill="url(#bead)"/>
<circle cx="399.7" cy="255.7" r="2.85" fill="url(#bead)"/>
<circle cx="405.7" cy="255.7" r="2.85" fill="url(#bead)"/>
<circle cx="411.7" cy="255.7" r="2.85" fill="url(#bead)"/>
<circle cx="417.7" cy="255.7" r="2.85" fill="url(#bead)"/>
<circle cx="423.7" cy="255.7" r="2.85" fill="url(#bead)"/>
<circle cx="330.7" cy="260.9" r="2.85" fill="url(#bead)"/>
<circle cx="336.7" cy="260.9" r="2.85" fill="url(#bead)"/>
<circle cx="342.7" cy="260.9" r="2.85" fill="url(#bead)"/>
<circle cx="348.7" cy="260.9" r="2.85" fill="url(#bead)"/>
<circle cx="354.7" cy="260.9" r="2.85" fill="url(#bead)"/>
<circle cx="360.7" cy="260.9" r="2.85" fill="url(#bead)"/>
<circle cx="366.7" cy="260.9" r="2.85" fill="url(#bead)"/>
<circle cx="372.7" cy="260.9" r="2.85" fill="url(#bead)"/>
<circle cx="378.7" cy="260.9" r="2.85" fill="url(#bead)"/>
<circle cx="384.7" cy="260.9" r="2.85" fill="url(#bead)"/>
<circle cx="390.7" cy="260.9" r="2.85" fill="url(#bead)"/>
<circle cx="396.7" cy="260.9" r="2.85" fill="url(#bead)"/>
<circle cx="402.7" cy="260.9" r="2.85" fill="url(#bead)"/>
<circle cx="408.7" cy="260.9" r="2.85" fill="url(#bead)"/>
<circle cx="414.7" cy="260.9" r="2.85" fill="url(#bead)"/>
<circle cx="420.7" cy="260.9" r="2.85" fill="url(#bead)"/>
<circle cx="327.7" cy="266.1" r="2.85" fill="url(#bead)"/>
<circle cx="333.7" cy="266.1" r="2.85" fill="url(#bead)"/>
<circle cx="339.7" cy="266.1" r="2.85" fill="url(#bead)"/>
<circle cx="345.7" cy="266.1" r="2.85" fill="url(#bead)"/>
<circle cx="351.7" cy="266.1" r="2.85" fill="url(#bead)"/>
<circle cx="357.7" cy="266.1" r="2.85" fill="url(#bead)"/>
<circle cx="363.7" cy="266.1" r="2.85" fill="url(#bead)"/>
<circle cx="369.7" cy="266.1" r="2.85" fill="url(#bead)"/>
<circle cx="375.7" cy="266.1" r="2.85" fill="url(#bead)"/>
<circle cx="381.7" cy="266.1" r="2.85" fill="url(#bead)"/>
<circle cx="387.7" cy="266.1" r="2.85" fill="url(#bead)"/>
<circle cx="393.7" cy="266.1" r="2.85" fill="url(#bead)"/>
<circle cx="399.7" cy="266.1" r="2.85" fill="url(#bead)"/>
<circle cx="405.7" cy="266.1" r="2.85" fill="url(#bead)"/>
<circle cx="411.7" cy="266.1" r="2.85" fill="url(#bead)"/>
<circle cx="417.7" cy="266.1" r="2.85" fill="url(#bead)"/>
<circle cx="423.7" cy="266.1" r="2.85" fill="url(#bead)"/>
<circle cx="330.7" cy="271.3" r="2.85" fill="url(#bead)"/>
<circle cx="336.7" cy="271.3" r="2.85" fill="url(#bead)"/>
<circle cx="342.7" cy="271.3" r="2.85" fill="url(#bead)"/>
<circle cx="348.7" cy="271.3" r="2.85" fill="url(#bead)"/>
<circle cx="354.7" cy="271.3" r="2.85" fill="url(#bead)"/>
<circle cx="360.7" cy="271.3" r="2.85" fill="url(#bead)"/>
<circle cx="366.7" cy="271.3" r="2.85" fill="url(#bead)"/>
<circle cx="372.7" cy="271.3" r="2.85" fill="url(#bead)"/>
<circle cx="378.7" cy="271.3" r="2.85" fill="url(#bead)"/>
<circle cx="384.7" cy="271.3" r="2.85" fill="url(#bead)"/>
<circle cx="390.7" cy="271.3" r="2.85" fill="url(#bead)"/>
<circle cx="396.7" cy="271.3" r="2.85" fill="url(#bead)"/>
<circle cx="402.7" cy="271.3" r="2.85" fill="url(#bead)"/>
<circle cx="408.7" cy="271.3" r="2.85" fill="url(#bead)"/>
<circle cx="414.7" cy="271.3" r="2.85" fill="url(#bead)"/>
<circle cx="420.7" cy="271.3" r="2.85" fill="url(#bead)"/>
<circle cx="327.7" cy="276.5" r="2.85" fill="url(#bead)"/>
<circle cx="333.7" cy="276.5" r="2.85" fill="url(#bead)"/>
<circle cx="339.7" cy="276.5" r="2.85" fill="url(#bead)"/>
<circle cx="345.7" cy="276.5" r="2.85" fill="url(#bead)"/>
<circle cx="351.7" cy="276.5" r="2.85" fill="url(#bead)"/>
<circle cx="357.7" cy="276.5" r="2.85" fill="url(#bead)"/>
<circle cx="363.7" cy="276.5" r="2.85" fill="url(#bead)"/>
<circle cx="369.7" cy="276.5" r="2.85" fill="url(#bead)"/>
<circle cx="375.7" cy="276.5" r="2.85" fill="url(#bead)"/>
<circle cx="381.7" cy="276.5" r="2.85" fill="url(#bead)"/>
<circle cx="387.7" cy="276.5" r="2.85" fill="url(#bead)"/>
<circle cx="393.7" cy="276.5" r="2.85" fill="url(#bead)"/>
<circle cx="399.7" cy="276.5" r="2.85" fill="url(#bead)"/>
<circle cx="405.7" cy="276.5" r="2.85" fill="url(#bead)"/>
<circle cx="411.7" cy="276.5" r="2.85" fill="url(#bead)"/>
<circle cx="417.7" cy="276.5" r="2.85" fill="url(#bead)"/>
<circle cx="423.7" cy="276.5" r="2.85" fill="url(#bead)"/>
<circle cx="330.7" cy="281.7" r="2.85" fill="url(#bead)"/>
<circle cx="336.7" cy="281.7" r="2.85" fill="url(#bead)"/>
<circle cx="342.7" cy="281.7" r="2.85" fill="url(#bead)"/>
<circle cx="348.7" cy="281.7" r="2.85" fill="url(#bead)"/>
<circle cx="354.7" cy="281.7" r="2.85" fill="url(#bead)"/>
<circle cx="360.7" cy="281.7" r="2.85" fill="url(#bead)"/>
<circle cx="366.7" cy="281.7" r="2.85" fill="url(#bead)"/>
<circle cx="372.7" cy="281.7" r="2.85" fill="url(#bead)"/>
<circle cx="378.7" cy="281.7" r="2.85" fill="url(#bead)"/>
<circle cx="384.7" cy="281.7" r="2.85" fill="url(#bead)"/>
<circle cx="390.7" cy="281.7" r="2.85" fill="url(#bead)"/>
<circle cx="396.7" cy="281.7" r="2.85" fill="url(#bead)"/>
<circle cx="402.7" cy="281.7" r="2.85" fill="url(#bead)"/>
<circle cx="408.7" cy="281.7" r="2.85" fill="url(#bead)"/>
<circle cx="414.7" cy="281.7" r="2.85" fill="url(#bead)"/>
<circle cx="420.7" cy="281.7" r="2.85" fill="url(#bead)"/>
<circle cx="327.7" cy="286.9" r="2.85" fill="url(#bead)"/>
<circle cx="333.7" cy="286.9" r="2.85" fill="url(#bead)"/>
<circle cx="339.7" cy="286.9" r="2.85" fill="url(#bead)"/>
<circle cx="345.7" cy="286.9" r="2.85" fill="url(#bead)"/>
<circle cx="351.7" cy="286.9" r="2.85" fill="url(#bead)"/>
<circle cx="357.7" cy="286.9" r="2.85" fill="url(#bead)"/>
<circle cx="363.7" cy="286.9" r="2.85" fill="url(#bead)"/>
<circle cx="369.7" cy="286.9" r="2.85" fill="url(#bead)"/>
<circle cx="375.7" cy="286.9" r="2.85" fill="url(#bead)"/>
<circle cx="381.7" cy="286.9" r="2.85" fill="url(#bead)"/>
<circle cx="387.7" cy="286.9" r="2.85" fill="url(#bead)"/>
<circle cx="393.7" cy="286.9" r="2.85" fill="url(#bead)"/>
<circle cx="399.7" cy="286.9" r="2.85" fill="url(#bead)"/>
<circle cx="405.7" cy="286.9" r="2.85" fill="url(#bead)"/>
<circle cx="411.7" cy="286.9" r="2.85" fill="url(#bead)"/>
<circle cx="417.7" cy="286.9" r="2.85" fill="url(#bead)"/>
<circle cx="423.7" cy="286.9" r="2.85" fill="url(#bead)"/>
<circle cx="330.7" cy="292.1" r="2.85" fill="url(#bead)"/>
<circle cx="336.7" cy="292.1" r="2.85" fill="url(#bead)"/>
<circle cx="342.7" cy="292.1" r="2.85" fill="url(#bead)"/>
<circle cx="348.7" cy="292.1" r="2.85" fill="url(#bead)"/>
<circle cx="354.7" cy="292.1" r="2.85" fill="url(#bead)"/>
<circle cx="360.7" cy="292.1" r="2.85" fill="url(#bead)"/>
<circle cx="366.7" cy="292.1" r="2.85" fill="url(#bead)"/>
<circle cx="372.7" cy="292.1" r="2.85" fill="url(#bead)"/>
<circle cx="378.7" cy="292.1" r="2.85" fill="url(#bead)"/>
<circle cx="384.7" cy="292.1" r="2.85" fill="url(#bead)"/>
<circle cx="390.7" cy="292.1" r="2.85" fill="url(#bead)"/>
<circle cx="396.7" cy="292.1" r="2.85" fill="url(#bead)"/>
<circle cx="402.7" cy="292.1" r="2.85" fill="url(#bead)"/>
<circle cx="408.7" cy="292.1" r="2.85" fill="url(#bead)"/>
<circle cx="414.7" cy="292.1" r="2.85" fill="url(#bead)"/>
<circle cx="420.7" cy="292.1" r="2.85" fill="url(#bead)"/>
<circle cx="327.7" cy="297.3" r="2.85" fill="url(#bead)"/>
<circle cx="333.7" cy="297.3" r="2.85" fill="url(#bead)"/>
<circle cx="339.7" cy="297.3" r="2.85" fill="url(#bead)"/>
<circle cx="345.7" cy="297.3" r="2.85" fill="url(#bead)"/>
<circle cx="351.7" cy="297.3" r="2.85" fill="url(#bead)"/>
<circle cx="357.7" cy="297.3" r="2.85" fill="url(#bead)"/>
<circle cx="363.7" cy="297.3" r="2.85" fill="url(#bead)"/>
<circle cx="369.7" cy="297.3" r="2.85" fill="url(#bead)"/>
<circle cx="375.7" cy="297.3" r="2.85" fill="url(#bead)"/>
<circle cx="381.7" cy="297.3" r="2.85" fill="url(#bead)"/>
<circle cx="387.7" cy="297.3" r="2.85" fill="url(#bead)"/>
<circle cx="393.7" cy="297.3" r="2.85" fill="url(#bead)"/>
<circle cx="399.7" cy="297.3" r="2.85" fill="url(#bead)"/>
<circle cx="405.7" cy="297.3" r="2.85" fill="url(#bead)"/>
<circle cx="411.7" cy="297.3" r="2.85" fill="url(#bead)"/>
<circle cx="417.7" cy="297.3" r="2.85" fill="url(#bead)"/>
<circle cx="423.7" cy="297.3" r="2.85" fill="url(#bead)"/>
<circle cx="330.7" cy="302.4" r="2.85" fill="url(#bead)"/>
<circle cx="336.7" cy="302.4" r="2.85" fill="url(#bead)"/>
<circle cx="342.7" cy="302.4" r="2.85" fill="url(#bead)"/>
<circle cx="348.7" cy="302.4" r="2.85" fill="url(#bead)"/>
<circle cx="354.7" cy="302.4" r="2.85" fill="url(#bead)"/>
<circle cx="360.7" cy="302.4" r="2.85" fill="url(#bead)"/>
<circle cx="366.7" cy="302.4" r="2.85" fill="url(#bead)"/>
<circle cx="372.7" cy="302.4" r="2.85" fill="url(#bead)"/>
<circle cx="378.7" cy="302.4" r="2.85" fill="url(#bead)"/>
<circle cx="384.7" cy="302.4" r="2.85" fill="url(#bead)"/>
<circle cx="390.7" cy="302.4" r="2.85" fill="url(#bead)"/>
<circle cx="396.7" cy="302.4" r="2.85" fill="url(#bead)"/>
<circle cx="402.7" cy="302.4" r="2.85" fill="url(#bead)"/>
<circle cx="408.7" cy="302.4" r="2.85" fill="url(#bead)"/>
<circle cx="414.7" cy="302.4" r="2.85" fill="url(#bead)"/>
<circle cx="420.7" cy="302.4" r="2.85" fill="url(#bead)"/>
<circle cx="327.7" cy="307.6" r="2.85" fill="url(#bead)"/>
<circle cx="333.7" cy="307.6" r="2.85" fill="url(#bead)"/>
<circle cx="339.7" cy="307.6" r="2.85" fill="url(#bead)"/>
<circle cx="345.7" cy="307.6" r="2.85" fill="url(#bead)"/>
<circle cx="351.7" cy="307.6" r="2.85" fill="url(#bead)"/>
<circle cx="357.7" cy="307.6" r="2.85" fill="url(#bead)"/>
<circle cx="363.7" cy="307.6" r="2.85" fill="url(#bead)"/>
<circle cx="369.7" cy="307.6" r="2.85" fill="url(#bead)"/>
<circle cx="375.7" cy="307.6" r="2.85" fill="url(#bead)"/>
<circle cx="381.7" cy="307.6" r="2.85" fill="url(#bead)"/>
<circle cx="387.7" cy="307.6" r="2.85" fill="url(#bead)"/>
<circle cx="393.7" cy="307.6" r="2.85" fill="url(#bead)"/>
<circle cx="399.7" cy="307.6" r="2.85" fill="url(#bead)"/>
<circle cx="405.7" cy="307.6" r="2.85" fill="url(#bead)"/>
<circle cx="411.7" cy="307.6" r="2.85" fill="url(#bead)"/>
<circle cx="417.7" cy="307.6" r="2.85" fill="url(#bead)"/>
<circle cx="423.7" cy="307.6" r="2.85" fill="url(#bead)"/>
<circle cx="330.7" cy="312.8" r="2.85" fill="url(#bead)"/>
<circle cx="336.7" cy="312.8" r="2.85" fill="url(#bead)"/>
<circle cx="342.7" cy="312.8" r="2.85" fill="url(#bead)"/>
<circle cx="348.7" cy="312.8" r="2.85" fill="url(#bead)"/>
<circle cx="354.7" cy="312.8" r="2.85" fill="url(#bead)"/>
<circle cx="360.7" cy="312.8" r="2.85" fill="url(#bead)"/>
<circle cx="366.7" cy="312.8" r="2.85" fill="url(#bead)"/>
<circle cx="372.7" cy="312.8" r="2.85" fill="url(#bead)"/>
<circle cx="378.7" cy="312.8" r="2.85" fill="url(#bead)"/>
<circle cx="384.7" cy="312.8" r="2.85" fill="url(#bead)"/>
<circle cx="390.7" cy="312.8" r="2.85" fill="url(#bead)"/>
<circle cx="396.7" cy="312.8" r="2.85" fill="url(#bead)"/>
<circle cx="402.7" cy="312.8" r="2.85" fill="url(#bead)"/>
<circle cx="408.7" cy="312.8" r="2.85" fill="url(#bead)"/>
<circle cx="414.7" cy="312.8" r="2.85" fill="url(#bead)"/>
<circle cx="420.7" cy="312.8" r="2.85" fill="url(#bead)"/>
<circle cx="327.7" cy="318" r="2.85" fill="url(#bead)"/>
<circle cx="333.7" cy="318" r="2.85" fill="url(#bead)"/>
<circle cx="339.7" cy="318" r="2.85" fill="url(#bead)"/>
<circle cx="345.7" cy="318" r="2.85" fill="url(#bead)"/>
<circle cx="351.7" cy="318" r="2.85" fill="url(#bead)"/>
<circle cx="357.7" cy="318" r="2.85" fill="url(#bead)"/>
<circle cx="363.7" cy="318" r="2.85" fill="url(#bead)"/>
<circle cx="369.7" cy="318" r="2.85" fill="url(#bead)"/>
<circle cx="375.7" cy="318" r="2.85" fill="url(#bead)"/>
<circle cx="381.7" cy="318" r="2.85" fill="url(#bead)"/>
<circle cx="387.7" cy="318" r="2.85" fill="url(#bead)"/>
<circle cx="393.7" cy="318" r="2.85" fill="url(#bead)"/>
<circle cx="399.7" cy="318" r="2.85" fill="url(#bead)"/>
<circle cx="405.7" cy="318" r="2.85" fill="url(#bead)"/>
<circle cx="411.7" cy="318" r="2.85" fill="url(#bead)"/>
<circle cx="417.7" cy="318" r="2.85" fill="url(#bead)"/>
<circle cx="423.7" cy="318" r="2.85" fill="url(#bead)"/>
<circle cx="330.7" cy="323.2" r="2.85" fill="url(#bead)"/>
<circle cx="336.7" cy="323.2" r="2.85" fill="url(#bead)"/>
<circle cx="342.7" cy="323.2" r="2.85" fill="url(#bead)"/>
<circle cx="348.7" cy="323.2" r="2.85" fill="url(#bead)"/>
<circle cx="354.7" cy="323.2" r="2.85" fill="url(#bead)"/>
<circle cx="360.7" cy="323.2" r="2.85" fill="url(#bead)"/>
<circle cx="366.7" cy="323.2" r="2.85" fill="url(#bead)"/>
<circle cx="372.7" cy="323.2" r="2.85" fill="url(#bead)"/>
<circle cx="378.7" cy="323.2" r="2.85" fill="url(#bead)"/>
<circle cx="384.7" cy="323.2" r="2.85" fill="url(#bead)"/>
<circle cx="390.7" cy="323.2" r="2.85" fill="url(#bead)"/>
<circle cx="396.7" cy="323.2" r="2.85" fill="url(#bead)"/>
<circle cx="402.7" cy="323.2" r="2.85" fill="url(#bead)"/>
<circle cx="408.7" cy="323.2" r="2.85" fill="url(#bead)"/>
<circle cx="414.7" cy="323.2" r="2.85" fill="url(#bead)"/>
<circle cx="420.7" cy="323.2" r="2.85" fill="url(#bead)"/>
<circle cx="327.7" cy="328.4" r="2.85" fill="url(#bead)"/>
<circle cx="333.7" cy="328.4" r="2.85" fill="url(#bead)"/>
<circle cx="339.7" cy="328.4" r="2.85" fill="url(#bead)"/>
<circle cx="345.7" cy="328.4" r="2.85" fill="url(#bead)"/>
<circle cx="351.7" cy="328.4" r="2.85" fill="url(#bead)"/>
<circle cx="357.7" cy="328.4" r="2.85" fill="url(#bead)"/>
<circle cx="363.7" cy="328.4" r="2.85" fill="url(#bead)"/>
<circle cx="369.7" cy="328.4" r="2.85" fill="url(#bead)"/>
<circle cx="375.7" cy="328.4" r="2.85" fill="url(#bead)"/>
<circle cx="381.7" cy="328.4" r="2.85" fill="url(#bead)"/>
<circle cx="387.7" cy="328.4" r="2.85" fill="url(#bead)"/>
<circle cx="393.7" cy="328.4" r="2.85" fill="url(#bead)"/>
<circle cx="399.7" cy="328.4" r="2.85" fill="url(#bead)"/>
<circle cx="405.7" cy="328.4" r="2.85" fill="url(#bead)"/>
<circle cx="411.7" cy="328.4" r="2.85" fill="url(#bead)"/>
<circle cx="417.7" cy="328.4" r="2.85" fill="url(#bead)"/>
<circle cx="423.7" cy="328.4" r="2.85" fill="url(#bead)"/>
</g>
<circle cx="409.4" cy="254.5" r="3.4" fill="url(#bead)"/>
<circle cx="411.9" cy="258.2" r="3.4" fill="url(#bead)"/>
<circle cx="413.5" cy="262.5" r="3.4" fill="url(#bead)"/>
<circle cx="414.1" cy="267.3" r="3.4" fill="url(#bead)"/>
<circle cx="413.9" cy="272.5" r="3.4" fill="url(#bead)"/>
<circle cx="412.7" cy="277.9" r="3.4" fill="url(#bead)"/>
<circle cx="410.6" cy="283.5" r="3.4" fill="url(#bead)"/>
<circle cx="407.6" cy="289.1" r="3.4" fill="url(#bead)"/>
<circle cx="403.9" cy="294.6" r="3.4" fill="url(#bead)"/>
<circle cx="399.5" cy="299.8" r="3.4" fill="url(#bead)"/>
<circle cx="394.6" cy="304.5" r="3.4" fill="url(#bead)"/>
<circle cx="389.1" cy="308.8" r="3.4" fill="url(#bead)"/>
<circle cx="383.4" cy="312.4" r="3.4" fill="url(#bead)"/>
<circle cx="377.5" cy="315.3" r="3.4" fill="url(#bead)"/>
<circle cx="371.5" cy="317.5" r="3.4" fill="url(#bead)"/>
<circle cx="365.7" cy="318.8" r="3.4" fill="url(#bead)"/>
<circle cx="360.1" cy="319.2" r="3.4" fill="url(#bead)"/>
<circle cx="355" cy="318.7" r="3.4" fill="url(#bead)"/>
<circle cx="350.3" cy="317.4" r="3.4" fill="url(#bead)"/>
<circle cx="346.3" cy="315.2" r="3.4" fill="url(#bead)"/>
<circle cx="343" cy="312.3" r="3.4" fill="url(#bead)"/>
<circle cx="340.5" cy="308.6" r="3.4" fill="url(#bead)"/>
<circle cx="338.9" cy="304.3" r="3.4" fill="url(#bead)"/>
<circle cx="338.3" cy="299.5" r="3.4" fill="url(#bead)"/>
<circle cx="338.5" cy="294.3" r="3.4" fill="url(#bead)"/>
<circle cx="339.7" cy="288.9" r="3.4" fill="url(#bead)"/>
<circle cx="341.8" cy="283.3" r="3.4" fill="url(#bead)"/>
<circle cx="344.8" cy="277.7" r="3.4" fill="url(#bead)"/>
<circle cx="348.5" cy="272.2" r="3.4" fill="url(#bead)"/>
<circle cx="352.9" cy="267" r="3.4" fill="url(#bead)"/>
<circle cx="357.8" cy="262.3" r="3.4" fill="url(#bead)"/>
<circle cx="363.3" cy="258" r="3.4" fill="url(#bead)"/>
<circle cx="369" cy="254.4" r="3.4" fill="url(#bead)"/>
<circle cx="374.9" cy="251.5" r="3.4" fill="url(#bead)"/>
<circle cx="380.9" cy="249.3" r="3.4" fill="url(#bead)"/>
<circle cx="386.7" cy="248" r="3.4" fill="url(#bead)"/>
<circle cx="392.3" cy="247.6" r="3.4" fill="url(#bead)"/>
<circle cx="397.4" cy="248.1" r="3.4" fill="url(#bead)"/>
<circle cx="402.1" cy="249.4" r="3.4" fill="url(#bead)"/>
<circle cx="406.1" cy="251.6" r="3.4" fill="url(#bead)"/>
<line x1="314.2" y1="55.4" x2="314.2" y2="303.5" stroke="#7332a3" stroke-width="1.4"/>
<polygon points="314.2,307.4 312.1,302.6 316.3,302.6" fill="#7332a3" stroke="none" stroke-width="0"/>
<path d="M378,84.2 C 404,86 420,110 419.8,141.8 C 419.6,172 403,191 383.5,196.0" fill="none" stroke="#7332a3" stroke-width="2.6"/>
<polygon points="378.6,197.6 388.8,191.4 386.6,196.2 389.2,201.2" fill="#7332a3" stroke="none" stroke-width="0"/>
<text x="316" y="138.7" font-size="8.9" fill="#f07f4f" textLength="63" lengthAdjust="spacingAndGlyphs">PTX is fastened</text>
<text x="316" y="149.4" font-size="8.9" fill="#f07f4f" textLength="62" lengthAdjust="spacingAndGlyphs">into the bilayer</text>
<text x="422" y="143.7" font-size="8.9" fill="#f07f4f" textLength="57.7" lengthAdjust="spacingAndGlyphs">Self-assembly</text>
<defs>
<pattern id="memL" x="11.8" y="472.6" width="59.2" height="26.7" patternUnits="userSpaceOnUse">
<rect width="59.2" height="26.7" fill="#42ee2c"/>
<rect y="13.2" width="59.2" height="13.5" fill="#f41410"/>
<path d="M35,22.9a1.9,1.9 0 1,0 3.8,0a1.9,1.9 0 1,0 -3.8,0M53.7,22.9a2.1,2.1 0 1,0 4.2,0a2.1,2.1 0 1,0 -4.2,0M-0.4,19.6a2.1,2.1 0 1,0 4.2,0a2.1,2.1 0 1,0 -4.2,0M37.5,24.8a1,1 0 1,0 1.9,0a1,1 0 1,0 -1.9,0M26.2,17a1.6,1.6 0 1,0 3.1,0a1.6,1.6 0 1,0 -3.1,0M32.9,14.2a1.1,1.1 0 1,0 2.2,0a1.1,1.1 0 1,0 -2.2,0M14.7,25a1.9,1.9 0 1,0 3.7,0a1.9,1.9 0 1,0 -3.7,0M8.5,23.6a1,1 0 1,0 2,0a1,1 0 1,0 -2,0M35.8,15.5a0.8,0.8 0 1,0 1.6,0a0.8,0.8 0 1,0 -1.6,0M50.5,16.5a1.1,1.1 0 1,0 2.2,0a1.1,1.1 0 1,0 -2.2,0M57,24.5a1.2,1.2 0 1,0 2.4,0a1.2,1.2 0 1,0 -2.4,0M55.2,20.5a1.7,1.7 0 1,0 3.5,0a1.7,1.7 0 1,0 -3.5,0M10.4,25.3a1.8,1.8 0 1,0 3.5,0a1.8,1.8 0 1,0 -3.5,0M56,24.7a1.2,1.2 0 1,0 2.4,0a1.2,1.2 0 1,0 -2.4,0M20.4,16a1,1 0 1,0 2,0a1,1 0 1,0 -2,0M2.2,17.6a1.6,1.6 0 1,0 3.3,0a1.6,1.6 0 1,0 -3.3,0M-1.1,22.1a1.3,1.3 0 1,0 2.5,0a1.3,1.3 0 1,0 -2.5,0M16.9,23.8a1.5,1.5 0 1,0 2.9,0a1.5,1.5 0 1,0 -2.9,0M16.9,19.8a1.8,1.8 0 1,0 3.6,0a1.8,1.8 0 1,0 -3.6,0M2.5,25.7a0.8,0.8 0 1,0 1.7,0a0.8,0.8 0 1,0 -1.7,0M43.6,24.1a0.8,0.8 0 1,0 1.7,0a0.8,0.8 0 1,0 -1.7,0M45,18.4a1.6,1.6 0 1,0 3.2,0a1.6,1.6 0 1,0 -3.2,0M-0.5,14.6a1.1,1.1 0 1,0 2.1,0a1.1,1.1 0 1,0 -2.1,0M54.7,16.4a1.9,1.9 0 1,0 3.7,0a1.9,1.9 0 1,0 -3.7,0M53.8,25.3a1.3,1.3 0 1,0 2.6,0a1.3,1.3 0 1,0 -2.6,0M19.1,20.3a1.9,1.9 0 1,0 3.8,0a1.9,1.9 0 1,0 -3.8,0" fill="#42ee2c"/>
<path d="M6.4,21.4l-0.3,3.6M56,14.5l0.2,2.7M36.2,23.1l-1.3,2.4M18.5,16.8l0.6,2.3M4.6,15.1l-0.9,3.3M2.9,23.9l0,3.1M24,16l-0.7,3.1M25,14.1l1.6,3.5M1.9,18.7l-1.7,3.3M56.2,20.1l-1.8,3.1M6.3,18.1l-0.5,2.3M26.8,24l1.1,3.5M57.8,18.3l0.2,3M17.2,17.7l1.1,2M22.3,23.9l1.4,3.7M20,14.4l0.9,2.4M46.3,22.6l-0.5,2.7M41.1,20.5l2.4,2.6M21.5,20.9l1.7,1.9M40.9,16.6l-0.3,3.9M38.5,19.6l0.6,1.9M39.8,18.4l0.3,3.6M38.3,21.9l1.2,2.4M49,17.2l2,3.1M51.5,20.7l-1.9,3.5M31.3,15.2l0.5,3.6M55.5,18.5l0.5,3.4M10.2,21.7l2,2.4M39.4,17.9l-0.3,3.2M42.6,13.8l1.3,1.9M26.1,20.3l0.6,2.4M2.5,18.5l1.3,2.1M3.2,14.9l-0.3,2.6M2.1,18.4l-0.7,2.7M36.2,19.7l-0,2.5M24,16.4l0,2.8M6.8,22.2l-1.5,2.3M5.6,19.2l-0.4,2.7M34.4,23.6l2.3,2.8M38,17.4l-0.9,2.1M35.3,19.4l-2.2,3.3M20.8,22.9l0.2,2M6.4,19.4l-1.2,3M52.8,17.4l-1.3,2.5M13.4,16.6l2.9,2.7M54.1,19.8l-1.7,1.8M58.1,18.7l1.4,2.4M29.1,16.5l-2.7,1.2M7.2,20l0.6,2.8M48.9,13.6l-2.1,2.3M16.2,23.3l-0,3.6M9.2,23.9l-0.9,2.4M36,18.5l1.8,2.8M7,21.5l1.1,2.4M31.6,17l1.2,2.3M21.4,21.3l0.3,3.2M2.2,16.2l-2.1,2M32.3,13.7l1.6,3.2M25.3,19.5l1.1,3.2M54,17.5l1,2.6M50.4,15.6l-0.2,2.6M49.5,20.8l0.4,2.8M17,21.7l-1.2,3.6M32.5,18.7l-1,2.5M9.1,19.7l-1,3.5M48.5,21.8l-0.4,3.3M1.5,21.1l-2.5,3.1M2.9,22.3l0,2.4M38.2,23.5l-0.8,3.3M54.3,15.1l-0.9,3.1" stroke="#42ee2c" stroke-width="0.9" fill="none" stroke-linecap="round"/>
<path d="M24.5,2.2l-0.7,3M22.4,1.3l-0.1,1.6M34.1,8.3l-1.3,3.4M18.6,6.8l-1.1,2.5M55.6,4.4l0.2,1.6M37.4,5.8l1.1,3.6M32.8,7l0.8,2M44.4,5.9l0.2,1.8M13.9,4.4l-1.2,3.1M38.8,1.4l-2.2,2.3M5.4,1.8l-0.2,3M28.4,3.9l-3.1,1.7M1.7,8.1l-1.1,1.2M40.3,2.8l-1.6,0.9M57.6,7.5l-1.6,3.2M21,3l-1.2,2M36.3,4.2l-1.5,2M38.4,8.9l-1.8,1.9M50.4,5.9l2.1,2.1M23.4,1.5l0.6,1.5M12,0.9l2.9,2.4M0,5.4l-0.4,3.7M36.7,5l-0.6,2.6M9.4,4.4l-0.4,2.4M52.1,2.1l0.1,2.1M17,3l-0.8,2.6M1.9,10.2l-1.6,1.8M39.9,5.5l1.2,3.7M7,7.5l0.8,2.1M9.7,2.6l1.1,1.1M13.6,1.3l-1.2,2.2M18.5,5.4l0.2,2.2M43.4,8l-0.1,1.9M55.7,7.3l-1.8,1.8M57.7,0.6l-0.2,1.6M2.7,6.3l2,3.4M30.7,4.2l-1.5,0.9M29.1,10.3l-0.8,1.4M14.4,1l-0.9,2.3M24.1,3.7l-0.2,1.6M2.2,10.7l1,1.7M31.5,1.4l0.1,2.3M6.4,6.2l2.8,2.5M12.7,0.7l1.6,2.4M28.8,6.5l1.4,2M54,3.7l1.5,2.2M48.9,2.9l0.2,1.8M45.7,9.1l-0.5,2.2M7.7,1.4l-1,1.9M34.2,3.1l-0.5,1.6M41.5,1l0.2,2M5.8,4.9l-1.1,2M44.5,6.3l1.8,3.3M34,5.1l2.4,2.6M38.8,10.5l0.4,3.3M48.1,4.5l0.7,1.7M3.9,2.3l0.4,2.1M3.8,8.5l1.1,2.7M1.6,1l1.1,1.5M56.2,6.9l-1.5,1.4M25.4,4.3l-1.5,1.8M49,8.1l-0.1,1.7M31.4,2.3l3,1.3M47.1,1.7l-0.9,2.1M54.2,5.3l1.9,1.7M55.4,6.1l-1.2,3.7M35.3,1.6l0.5,3.5M57.9,0.8l-0.2,2.9M28.5,9.8l-0.2,2.5M11.9,6.4l-1,2.2M44.5,3l-0,2.4M49.7,9.4l-3,0.3M23.7,2l0.5,3.5M10,1.5l-0,3.3M53.3,2.6l1.2,3.3M51.1,7l-2.3,2.7M22.3,0.6l0.8,2.7M23,3.8l0.3,1.5M18.5,4.5l0.4,2.7M58.2,9.1l1.8,3.3M41,7.5l-0.4,2.8M35.1,7.6l1.3,2.5M16.8,1.3l0.7,1.6M45,8l-1.2,1.9M55,3.4l-2.3,2.3M39.7,10.5l-1.4,3.5M40.7,9.3l0.9,3.2M30.6,9.9l0.5,2M57.7,6.2l-1.2,2.2M10.5,7.4l-0,3.7M53.9,6.9l-1.4,2M32.8,8l-1.2,2.1M52.5,2.7l0.2,2.3M53.1,2.3l-2,2.3M45.4,2.9l1.3,1M52,8.1l1,2.3M25.2,6.1l0.5,3.7M35.8,10.6l-0.8,1.8M1.8,1.7l0.8,2.8M11.3,6.7l0.6,3.1M40.9,8.2l1.4,0.9M56.7,3.8l-0.3,3.6M38.2,10.2l0.7,2M28.2,1.6l1.6,1.2M9.3,1.5l0.3,1.8M44.9,8.2l0.6,3.5M47.6,8l-2.5,2.9M57.1,1.6l0.3,1.7M3.8,2.7l1.7,1.8M44,1.4l-0.5,2.5M32.2,4.4l0.7,1.6M40.5,5.7l1.1,3.7M55.9,1.3l0.3,3.4M6.9,5.5l1,2.2M43.6,10.1l0.4,2.4M41.3,8.8l-1.6,2.4M17.5,4l0.6,3.6M24.9,3l0.1,3.2M4.3,3.3l1.7,0.1M32,4.6l-0.8,3.7" stroke="#f41410" stroke-width="0.9" fill="none" stroke-linecap="round"/>
<path d="M16.8,4.9a1.4,1.4 0 1,0 2.9,0a1.4,1.4 0 1,0 -2.9,0M15.1,9.4a1,1 0 1,0 2,0a1,1 0 1,0 -2,0M15.3,3.8a1.1,1.1 0 1,0 2.2,0a1.1,1.1 0 1,0 -2.2,0M24.4,6.7a0.7,0.7 0 1,0 1.5,0a0.7,0.7 0 1,0 -1.5,0M20.1,11.7a1.1,1.1 0 1,0 2.2,0a1.1,1.1 0 1,0 -2.2,0M26.4,1.9a1,1 0 1,0 1.9,0a1,1 0 1,0 -1.9,0M37.8,8.6a1.2,1.2 0 1,0 2.3,0a1.2,1.2 0 1,0 -2.3,0M15.9,5.3a1.4,1.4 0 1,0 2.8,0a1.4,1.4 0 1,0 -2.8,0M24.9,7.5a1.5,1.5 0 1,0 3,0a1.5,1.5 0 1,0 -3,0M30.8,8a0.7,0.7 0 1,0 1.5,0a0.7,0.7 0 1,0 -1.5,0" fill="#f41410"/>
<path d="M39.5,0 h9.5 v12.5 q-4,1.5 -9.5,0 z" fill="#f41410"/>
<path d="M2.1,8.7a2.1,2.1 0 1,0 4.2,0a2.1,2.1 0 1,0 -4.2,0M9.9,9.3a2.9,2.9 0 1,0 5.7,0a2.9,2.9 0 1,0 -5.7,0M5.2,11a2.6,2.6 0 1,0 5.3,0a2.6,2.6 0 1,0 -5.3,0M10.2,2.5a2.7,2.7 0 1,0 5.3,0a2.7,2.7 0 1,0 -5.3,0M5.2,10.7a3,3 0 1,0 6,0a3,3 0 1,0 -6,0M4.3,5.2a1.9,1.9 0 1,0 3.8,0a1.9,1.9 0 1,0 -3.8,0" fill="#42ee2c"/>
<path d="M53.8,15.7l-0.7,4.3M53.7,14.4l-0.6,3.7M56.4,19.3l-2.1,2.7M56.8,17.6l-0.2,3.3" stroke="#f2d21c" stroke-width="0.9" fill="none" stroke-linecap="round"/>
<path d="M25.9,18.7l-0.8,3.8M30.7,8.3l-0.2,3.5M29.3,16.4l1.9,1.4" stroke="#f2d21c" stroke-width="0.7" fill="none" stroke-linecap="round"/>
<line x1="0" y1="13.2" x2="59.2" y2="13.2" stroke="#f3f0d8" stroke-width="0.4" stroke-dasharray="0.8,1.6"/>
</pattern>
<pattern id="memR" x="398.6" y="471.3" width="59.9" height="28" patternUnits="userSpaceOnUse">
<rect width="59.9" height="28" fill="#f41410"/>
<path d="M0,1 h12 l-2,26 h-10z" fill="#42ee2c"/>
<path d="M26.1,10l1.5,4.3M28.6,22.6l1.6,4M31.9,15.8l2.7,3.2M25.4,18.4l0.1,4.6M12,3.7l-0.1,6M45.7,10.2l3.6,6M3.4,8l2.6,6.2M2.5,7.4l3,3.8M14.7,20.4l-0.7,4.8M0.4,10.1l4.2,4.3M-1.5,11.2l0.2,7.6M4.6,14.9l0.6,7.6M9.8,1.2l1.7,4M2.3,12.9l2.7,7.2M23.4,10.6l0,6.6M7.9,15.6l0.9,7.8M0.4,14.3l1.3,6.3M59.6,25l0.7,4.4M41.4,23.8l2,4.5M20,17.2l2.5,5.8M45.7,3.1l0.4,5.4M25.4,10.7l4.9,6.3M33.1,1.4l3.5,6.3M10.4,11.7l0.3,5.3M2.6,16.1l1.4,4.2M46.1,20.4l2.4,5.5M41.6,7l3.6,5.9M57.6,10.6l1.3,5.3M51.1,9.9l0.4,6.7M13.3,2.2l-1.4,7.8M7.9,23.7l3,7.4M0.8,6l2.1,5.2M35.5,24.2l0.5,5.4M5.6,3.1l0.2,6.2M40.8,2.6l2.8,5.1M21.1,22.3l3.5,3M42,19.5l3.6,6.6M0,13.7l1.6,4.4M36.6,3l2.4,6.7M8.1,12l1.8,6M21.4,5.2l-0.1,5.9M56.2,1.7l3.7,7.1M52.9,14.1l5.2,3.2M1.1,16.4l3,5.4M15.9,18.4l-0.3,6.9M25.5,12.8l0.4,6.5M0.3,15.5l1,5.4M48.8,18.5l3.2,5.7M52.1,1.9l4.2,4.9M22.6,2.7l2.9,3.8M35.3,5.4l2.3,3.6M30.7,1.6l0.5,7.1M18,19.8l-0.2,4M58.4,24.7l3.3,6.5M3.7,9.4l1.5,4.7M10.9,3.7l2.3,3.8M56,24.4l2,5.1M29.8,9.9l4.2,5M11.9,7.2l1.4,5.9M56.4,1.5l0.1,4.4M47.3,2.4l0.5,5M10.9,2.4l3.3,3.9M15.9,20.2l1.5,7.8M55.5,22l6.5,4.1M57.9,3.3l1.8,5M27.9,9.3l-0.6,7.3M22.1,6l3.5,3.7M32.8,11.6l1.2,4.6M22.3,8.8l2.4,4M41.8,16.8l1.8,4.2M36.3,9.1l4,4.2M52.6,18.6l3,3.8M31.1,9l2.6,3.2M51.5,8.8l3.3,6.6M29.3,3.4l2.9,6.2M1.5,1.3l-0.2,7.7M-0.4,4.6l-0.6,4.6M59.6,16.6l0.1,5.6M52.9,13.1l2,4.1M14,8.7l3.2,4.5M8.5,15.7l2.8,6.9M40,1.5l2.1,5.5M51.5,17.3l2.6,7.2M6,11.8l3.8,5.5M11.6,8.9l3.9,5.8M31.3,23.3l0,4.1M8.7,19.7l1.4,6.5M10.3,14l1.9,7.4M10.6,5.9l5.2,4.3M59.8,23.5l0.5,6.8M28.2,2.5l4.3,5.8M36.8,24.1l0.9,6.2M54.7,24.1l3,3.2M45.3,24.3l-0.8,4.7M30.4,23.4l4.2,4.5M7.9,2.4l6.6,3.4M33.5,5.8l2.7,6.8M15.7,1.9l1,5.5M46,11.9l1.3,7.8M6,14.8l1.4,4.6M39,13.6l0.2,6.3M55,4.7l4,3.8M57.4,10.5l2.7,4.4M50.4,16.3l1.4,4.1M57.7,13.5l4,3M18.8,1.3l3.6,3.2M0.7,13.7l1.2,5.1M-2.1,12.2l2.2,3.9M16.5,6.4l3.5,3.2M20.3,16.3l4.2,3.3M54.6,14.3l1.5,3.9M-0.1,1.5l3.9,6.2M41.6,9.6l2.3,5.8M41.4,18l3.5,6.9M0.7,14.7l1.1,5.9M38.7,22.5l3,4.5M29.4,22.4l0.3,4.1M25.8,7.9l2.8,6.6M30.5,18.9l-0.3,4.4M39.8,6.3l3.4,3.7" stroke="#42ee2c" stroke-width="1.4" fill="none" stroke-linecap="round"/>
<rect y="26.4" width="59.9" height="1.6" fill="#42ee2c" opacity="0.8"/>
<path d="M27.1,2.2l4.6,1.5M11,17l-2.2,3.8M38.6,11.3l1.3,1.6M56.6,25.3l-0.2,4.9M58.7,4.8l0.4,2.1M7.1,15.2l0.3,2.6M36.6,10.2l-0.4,2.8M52.9,13.9l0.9,3.9M8.6,19.5l-0.1,4.7M39.1,12.6l-1.6,3.9M38.6,8.5l0.4,4M35.4,16.7l2.3,2.5M5.3,10.9l0.9,4.2M28.6,15.5l1.3,3.3M9,17l4,0.8M34.6,0.8l1.2,2.6M42.1,2.5l2.2,4.4M10.2,0.7l3.9,2.4M30.6,11.8l0.4,3.5M46.3,4.6l3.1,3.9M41.7,8.6l-0.6,3.4M41.9,23.7l2.3,4.3M15.3,20.8l0.4,3.8M24.7,12l1.6,4.2M27.1,1.6l-0.9,2.5M34.4,2.5l3.9,1.9M51.9,7.8l0.7,3.4M44,4.6l0,2.3M54.5,3l0.1,4.3M22.3,6.2l2.1,3.5M58.3,19.5l2.2,2.7M42.8,7.4l0.8,2.6M41.7,7l1.1,4.8M1.3,15.8l1.2,2.1M29.9,15.8l2.8,3.5M48.8,3.9l-0.7,2.9M48.4,9.6l-0.1,4.8M21.8,12.3l0.2,3.1M13.2,11.9l-2.3,4.1M15.4,15.4l1.1,2.2M3.8,20.8l-0.9,2.6M7.3,6.5l-1.5,2M53.5,17.9l-1.9,1.7M7.7,18.7l-1.3,3.9M35.2,12.7l1,3.1M9,12.7l-1.5,2.3M22,23.2l2.2,3M0.1,20.5l3.2,3.3M44.7,13.8l-1,4.4M9.8,9.1l0.6,2M14.1,2.6l0.4,2M28.8,22.2l0.6,4.1M3.1,19.1l-0.2,2.6M32.6,11.6l3.8,3.1M12.6,23.4l-0.3,2.6M2.2,21.7l-0.1,2.6M34.3,7.5l0.1,3.1M16,19.5l1.8,1.7M2.4,18.2l0.4,4.5M55.8,24.1l3.1,2.1M10.6,15.3l1,3.1M4.3,5.4l1.5,1.9M43.9,18.1l1.8,3.1M26.8,13.1l-1.5,2.1M59.7,11.8l0.1,3.4M28.2,11.3l-1.6,3.9M20.1,16.4l-1.8,3.6M4.2,7.1l-2.4,3.8M7.1,7.5l-2.9,1.4M13,16.8l2.7,3.6M30.8,8.5l0.1,2.5M2.9,19l0.4,3.8M4,24.4l2.8,4.1M52.4,17.5l-0.3,4.2M10.9,19.1l0.1,3.3M15.8,6.5l0.3,2.8M54.6,10.6l0.1,2.6M24.3,11.2l0.1,2.2M30.9,9.3l0.9,1.8M10.8,19.7l0.4,3.3M21.4,14.6l3.7,2M42.9,9.2l4.3,2.2M0.9,5.3l1.2,2M23.3,16.6l-0.5,3M28.9,17.8l-1.5,4.6M23.1,25.8l1.4,4.3M52.6,3.4l1.6,2.4M27.8,24.6l-0.1,3.2M30.3,8.8l1.8,3.3M3.6,19.7l1.2,4.3" stroke="#f41410" stroke-width="0.9" fill="none" stroke-linecap="round"/>
<path d="M35,0.5 h14 l-1,15 q-6,3 -13,0z" fill="#f41410"/>
<path d="M51.7,8.8l1.9,2.8M56.5,15.5l2.9,4.4M53.8,18.7l1.9,6.4M50,6.2l1.5,6.2M56.7,13l3.2,5.2M52.1,19.4l2.6,3.3M49.8,6.7l1.5,6M55.4,9.2l3.4,2.9" stroke="#f2d21c" stroke-width="1" fill="none" stroke-linecap="round"/>
<path d="M16.8,1.7l0.2,1M38.2,0l-0.5,1M10.1,0.4l-1.1,1.4M27.9,1.3l-0.2,1.5M50.8,0.2l-0,2.3M33.7,1.3l-0.7,1.7M43.1,0.1l0.8,1.6M6.4,1.4l0,1.1M2.8,0.1l-0.7,2.4M3.4,1.2l-0.6,1.2M35.9,1.5l1,1.7M0.1,0.1l0.2,1.3M27.1,1.5l-0.1,1M19.5,0.2l-0.6,1.3M1.6,0l0.5,2.2M14.7,1.5l-1.1,2M1.1,1.2l-0.1,2.4M43.7,1.5l0.2,1.2M39.4,1.2l-0.4,1.2M4.5,0.9l1.1,1.5M0.5,1l0.5,2.4M56.1,1.7l-0.8,2.3M5.4,2l0.2,1.5M48.3,1.2l-0.3,1.7M29.7,1l-0.6,1.8M15.7,0l-1.1,2.2M5.9,1.6l0.9,2M14.5,0.4l-0.5,2.3M44.9,1.5l-0.9,1.4M57.5,0.6l-0.3,1.9M8.8,1.9l-1,1.8M40.5,0.9l-0.4,1.8M55.8,1.4l-0.8,1.5M46.5,1.1l0.2,2.1M46.3,1l-0.3,1.7M43.6,0.8l-0.5,1M42.3,1.3l-0.8,1.8M43.6,1.6l-0.7,1M16.3,1.1l-0.2,1M9.1,1.6l0,1.4" stroke="#f41410" stroke-width="0.6" fill="none" stroke-linecap="round"/>
</pattern>
</defs>
<text x="-0.5" y="420.6" font-size="13.4" font-weight="bold" fill="#000" stroke="#000" stroke-width="0.5">f</text>
<rect x="11.8" y="472.6" width="254.5" height="26.7" fill="url(#memL)"/>
<g transform="translate(16.3,451.6)"><path d="M2.8,0 Q1.8,-0.2 4.4,1.2 Q0.6,1.7 4.5,2.3 Q3.4,1.9 3.1,3.5 Q2.8,5.1 3.5,4.7 Q5.3,4.3 0.2,5.8 Q2.8,7.4 4.5,7 Q1.8,6.3 1,8.2 Q2.9,7.9 4.3,9.3 Q0.4,9 1.1,10.5 Q2.4,11.7 3.1,11.7 Q4.6,13.7 0.4,12.8 Q4.1,14.5 4.1,14 Q2.5,13.3 0.5,15.2 Q3,14.6 4.3,16.3 Q4.3,17.1 2.4,17.5 Q5.2,16.8 0.7,18.7 Q5.4,20 4.6,19.8 Q2.9,19.6 5.2,21" stroke="#2525d6" stroke-width="0.5" fill="none"/><path d="M2.8,0 Q4.1,1.4 2.6,1.2 Q5.2,0.4 2.1,2.3 Q0.2,2.5 2.7,3.5 Q0.6,5.5 5.4,4.7 Q3.8,3.9 5,5.8 Q3.8,5.2 2.6,7 Q0.5,8.6 1.6,8.2 Q5.1,9.5 5,9.3 Q0.3,9.9 3.2,10.5 Q4.2,9.7 4.2,11.7 Q0.5,13.5 0,12.8 Q2.1,13.3 0.6,14 Q0.7,13.9 4.9,15.2 Q0.5,14.7 4.2,16.3 Q5.3,16.1 0.1,17.5 Q2.1,19.5 2.8,18.7 Q3.3,19.2 3.9,19.8 Q4.6,19.2 1.5,21" stroke="#2525d6" stroke-width="0.5" fill="none"/></g>
<g transform="translate(28.3,451.6)"><path d="M6,0 Q3.5,-0.1 7.5,1.1 Q2.3,1.9 5.4,2.1 Q0.2,1.5 0.8,3.2 Q10.5,3.7 1.1,4.2 Q9.3,3.7 8.1,5.2 Q4.6,5.7 11.4,6.3 Q8.3,7.6 5.9,7.3 Q9.9,7.7 2.3,8.4 Q10.4,10 3,9.5 Q3.9,11.2 10.3,10.5 Q11.6,11.8 9.3,11.6 Q5.7,12.8 12,12.6 Q6.3,13.1 9.4,13.7 Q10.4,13.8 4.8,14.7 Q6.7,15.8 9,15.8 Q0.9,16.8 3.7,16.8 Q4.3,18.2 1.7,17.9 Q10.9,18.6 0.6,18.9 Q8.1,18.1 6.7,20 Q8.6,20.7 0.3,21" stroke="#2525d6" stroke-width="0.5" fill="none"/><path d="M6,0 Q9.9,-0.2 7.7,1.1 Q11.6,0.3 1.9,2.1 Q7.5,4 6.2,3.2 Q8.4,2.4 1,4.2 Q7.4,5.8 5.4,5.2 Q9,4.7 0.6,6.3 Q11.8,7.9 4.9,7.3 Q0.1,6.5 0.9,8.4 Q0.5,9.8 9.4,9.5 Q9.8,11.3 9.7,10.5 Q9.9,11.2 7.6,11.6 Q0.8,12.2 8,12.6 Q4.7,13.8 11.9,13.7 Q5.8,14.3 2.1,14.7 Q3.9,15.1 9.2,15.8 Q6.9,17.6 2.3,16.8 Q7.9,17.5 4.6,17.9 Q8.4,17.5 2.3,18.9 Q11.9,18.8 7.4,20 Q4.1,20.9 8,21" stroke="#2525d6" stroke-width="0.5" fill="none"/><path d="M6,0 Q6,1.4 2.3,1.1 Q4.3,0.8 2.6,2.1 Q8,3.6 1.9,3.2 Q5.4,3.1 6.3,4.2 Q11.3,4.7 2.9,5.2 Q3.3,4.8 8.2,6.3 Q3.6,6.6 0.1,7.3 Q7.4,8.4 6.3,8.4 Q9.6,9.5 10.5,9.5 Q6.5,9.9 9.7,10.5 Q10.7,10.7 11,11.6 Q5.2,12.8 10.4,12.6 Q7.1,14.5 0.3,13.7 Q10.4,14.7 5.3,14.7 Q0.9,14.7 0.2,15.8 Q7.9,16.6 11.7,16.8 Q4.2,16.3 10.3,17.9 Q10.9,17.4 5.3,18.9 Q3.5,19 5.9,20 Q10.9,19.7 1.1,21" stroke="#2525d6" stroke-width="0.5" fill="none"/><path d="M6,0 Q2.1,0.3 9.5,1.1 Q7.1,1.6 0.3,2.1 Q2.4,3 5.2,3.2 Q11.2,3.6 0.4,4.2 Q5.1,3.3 7.3,5.2 Q8.7,5.7 0.4,6.3 Q6.5,7.9 3.3,7.3 Q6.2,8.1 6.1,8.4 Q0.4,9.4 10.5,9.5 Q8.6,9 6.9,10.5 Q9.5,10.4 9.9,11.6 Q0.6,12.2 11.4,12.6 Q2.3,13.5 1,13.7 Q5.8,13.4 8.5,14.7 Q5.4,14.9 6.5,15.8 Q5.5,15.9 4.9,16.8 Q6,16.7 1.5,17.9 Q11.5,19.1 9.5,18.9 Q5.7,20.1 4,20 Q9.6,19.1 2.7,21" stroke="#2525d6" stroke-width="0.5" fill="none"/><path d="M6,0 Q6.7,1.3 11.6,1.1 Q10.2,1.3 7.2,2.1 Q2.5,3.4 1.1,3.2 Q2.7,3.6 11.8,4.2 Q3.7,3.9 9.4,5.2 Q1.4,5.3 9.2,6.3 Q6,8.2 7.1,7.3 Q4.9,6.9 5.8,8.4 Q0.6,7.5 9.8,9.5 Q9.7,9.2 4.4,10.5 Q1.1,10.4 5.6,11.6 Q10.3,10.9 11.3,12.6 Q5.6,12 11.5,13.7 Q11.5,13.2 4.4,14.7 Q11.2,16.5 9.1,15.8 Q11.1,15.1 9.1,16.8 Q11.5,17.4 8.3,17.9 Q3.5,18.2 0.2,18.9 Q8.7,18.4 5,20 Q7.9,21.9 0.1,21" stroke="#2525d6" stroke-width="0.5" fill="none"/></g>
<g transform="translate(12.3,498.3)"><path d="M3.5,0 Q4.8,1.2 3.4,1.2 Q5.6,0.4 4.7,2.4 Q3,2.6 4.9,3.6 Q0.9,5.4 5.6,4.8 Q5.8,6.6 5.7,5.9 Q4.2,7.7 1.5,7.1 Q4.8,6.5 3.8,8.3 Q0.2,8.9 4.7,9.5 Q2.2,8.9 0.2,10.7 Q0.9,11.8 1.9,11.9 Q5.4,13.4 3.7,13.1 Q4.2,13.7 5,14.2 Q3,14.5 5.4,15.4 Q0.2,15.2 2.8,16.6 Q2.7,17 4.4,17.8 Q1.1,19.5 0.7,19" stroke="#2525d6" stroke-width="0.5" fill="none"/><path d="M3.5,0 Q2.5,1.8 5.6,1.2 Q5.2,0.7 4,2.4 Q3.2,1.9 6.7,3.6 Q0.4,2.7 0.5,4.8 Q5.6,4.6 5.4,5.9 Q6.4,5.7 2.1,7.1 Q5.8,7.4 6.3,8.3 Q2.8,8.5 3.2,9.5 Q4.8,11.6 4.9,10.7 Q2.2,11.4 0.8,11.9 Q6.9,13.4 5.5,13.1 Q5.3,12.8 0.7,14.2 Q0.5,13.4 3,15.4 Q6.1,15.4 3,16.6 Q4.8,16.6 0.2,17.8 Q1.4,19.6 0.6,19" stroke="#2525d6" stroke-width="0.5" fill="none"/><path d="M3.5,0 Q3.5,0.5 6.3,1.2 Q2.4,1.4 4.8,2.4 Q4.7,4.1 5.5,3.6 Q5.8,5.2 4,4.8 Q4.5,5.5 1.7,5.9 Q1.5,6.2 1.1,7.1 Q0.2,9.1 6.6,8.3 Q2.8,9.3 6.6,9.5 Q0.3,8.7 2.1,10.7 Q1.6,11.3 5.1,11.9 Q0.1,12.1 2,13.1 Q6.7,13.7 3.2,14.2 Q2.8,15.9 6.8,15.4 Q0.2,17.3 3.6,16.6 Q4,17 4.8,17.8 Q6.1,17.1 0.1,19" stroke="#2525d6" stroke-width="0.5" fill="none"/></g>
<g transform="translate(75.5,451.6)"><path d="M2.8,0 Q1.8,-0.2 4.4,1.2 Q0.6,1.7 4.5,2.3 Q3.4,1.9 3.1,3.5 Q2.8,5.1 3.5,4.7 Q5.3,4.3 0.2,5.8 Q2.8,7.4 4.5,7 Q1.8,6.3 1,8.2 Q2.9,7.9 4.3,9.3 Q0.4,9 1.1,10.5 Q2.4,11.7 3.1,11.7 Q4.6,13.7 0.4,12.8 Q4.1,14.5 4.1,14 Q2.5,13.3 0.5,15.2 Q3,14.6 4.3,16.3 Q4.3,17.1 2.4,17.5 Q5.2,16.8 0.7,18.7 Q5.4,20 4.6,19.8 Q2.9,19.6 5.2,21" stroke="#2525d6" stroke-width="0.5" fill="none"/><path d="M2.8,0 Q4.1,1.4 2.6,1.2 Q5.2,0.4 2.1,2.3 Q0.2,2.5 2.7,3.5 Q0.6,5.5 5.4,4.7 Q3.8,3.9 5,5.8 Q3.8,5.2 2.6,7 Q0.5,8.6 1.6,8.2 Q5.1,9.5 5,9.3 Q0.3,9.9 3.2,10.5 Q4.2,9.7 4.2,11.7 Q0.5,13.5 0,12.8 Q2.1,13.3 0.6,14 Q0.7,13.9 4.9,15.2 Q0.5,14.7 4.2,16.3 Q5.3,16.1 0.1,17.5 Q2.1,19.5 2.8,18.7 Q3.3,19.2 3.9,19.8 Q4.6,19.2 1.5,21" stroke="#2525d6" stroke-width="0.5" fill="none"/></g>
<g transform="translate(87.5,451.6)"><path d="M6,0 Q3.5,-0.1 7.5,1.1 Q2.3,1.9 5.4,2.1 Q0.2,1.5 0.8,3.2 Q10.5,3.7 1.1,4.2 Q9.3,3.7 8.1,5.2 Q4.6,5.7 11.4,6.3 Q8.3,7.6 5.9,7.3 Q9.9,7.7 2.3,8.4 Q10.4,10 3,9.5 Q3.9,11.2 10.3,10.5 Q11.6,11.8 9.3,11.6 Q5.7,12.8 12,12.6 Q6.3,13.1 9.4,13.7 Q10.4,13.8 4.8,14.7 Q6.7,15.8 9,15.8 Q0.9,16.8 3.7,16.8 Q4.3,18.2 1.7,17.9 Q10.9,18.6 0.6,18.9 Q8.1,18.1 6.7,20 Q8.6,20.7 0.3,21" stroke="#2525d6" stroke-width="0.5" fill="none"/><path d="M6,0 Q9.9,-0.2 7.7,1.1 Q11.6,0.3 1.9,2.1 Q7.5,4 6.2,3.2 Q8.4,2.4 1,4.2 Q7.4,5.8 5.4,5.2 Q9,4.7 0.6,6.3 Q11.8,7.9 4.9,7.3 Q0.1,6.5 0.9,8.4 Q0.5,9.8 9.4,9.5 Q9.8,11.3 9.7,10.5 Q9.9,11.2 7.6,11.6 Q0.8,12.2 8,12.6 Q4.7,13.8 11.9,13.7 Q5.8,14.3 2.1,14.7 Q3.9,15.1 9.2,15.8 Q6.9,17.6 2.3,16.8 Q7.9,17.5 4.6,17.9 Q8.4,17.5 2.3,18.9 Q11.9,18.8 7.4,20 Q4.1,20.9 8,21" stroke="#2525d6" stroke-width="0.5" fill="none"/><path d="M6,0 Q6,1.4 2.3,1.1 Q4.3,0.8 2.6,2.1 Q8,3.6 1.9,3.2 Q5.4,3.1 6.3,4.2 Q11.3,4.7 2.9,5.2 Q3.3,4.8 8.2,6.3 Q3.6,6.6 0.1,7.3 Q7.4,8.4 6.3,8.4 Q9.6,9.5 10.5,9.5 Q6.5,9.9 9.7,10.5 Q10.7,10.7 11,11.6 Q5.2,12.8 10.4,12.6 Q7.1,14.5 0.3,13.7 Q10.4,14.7 5.3,14.7 Q0.9,14.7 0.2,15.8 Q7.9,16.6 11.7,16.8 Q4.2,16.3 10.3,17.9 Q10.9,17.4 5.3,18.9 Q3.5,19 5.9,20 Q10.9,19.7 1.1,21" stroke="#2525d6" stroke-width="0.5" fill="none"/><path d="M6,0 Q2.1,0.3 9.5,1.1 Q7.1,1.6 0.3,2.1 Q2.4,3 5.2,3.2 Q11.2,3.6 0.4,4.2 Q5.1,3.3 7.3,5.2 Q8.7,5.7 0.4,6.3 Q6.5,7.9 3.3,7.3 Q6.2,8.1 6.1,8.4 Q0.4,9.4 10.5,9.5 Q8.6,9 6.9,10.5 Q9.5,10.4 9.9,11.6 Q0.6,12.2 11.4,12.6 Q2.3,13.5 1,13.7 Q5.8,13.4 8.5,14.7 Q5.4,14.9 6.5,15.8 Q5.5,15.9 4.9,16.8 Q6,16.7 1.5,17.9 Q11.5,19.1 9.5,18.9 Q5.7,20.1 4,20 Q9.6,19.1 2.7,21" stroke="#2525d6" stroke-width="0.5" fill="none"/><path d="M6,0 Q6.7,1.3 11.6,1.1 Q10.2,1.3 7.2,2.1 Q2.5,3.4 1.1,3.2 Q2.7,3.6 11.8,4.2 Q3.7,3.9 9.4,5.2 Q1.4,5.3 9.2,6.3 Q6,8.2 7.1,7.3 Q4.9,6.9 5.8,8.4 Q0.6,7.5 9.8,9.5 Q9.7,9.2 4.4,10.5 Q1.1,10.4 5.6,11.6 Q10.3,10.9 11.3,12.6 Q5.6,12 11.5,13.7 Q11.5,13.2 4.4,14.7 Q11.2,16.5 9.1,15.8 Q11.1,15.1 9.1,16.8 Q11.5,17.4 8.3,17.9 Q3.5,18.2 0.2,18.9 Q8.7,18.4 5,20 Q7.9,21.9 0.1,21" stroke="#2525d6" stroke-width="0.5" fill="none"/></g>
<g transform="translate(61.5,498.3)"><path d="M3.5,0 Q4.8,1.2 3.4,1.2 Q5.6,0.4 4.7,2.4 Q3,2.6 4.9,3.6 Q0.9,5.4 5.6,4.8 Q5.8,6.6 5.7,5.9 Q4.2,7.7 1.5,7.1 Q4.8,6.5 3.8,8.3 Q0.2,8.9 4.7,9.5 Q2.2,8.9 0.2,10.7 Q0.9,11.8 1.9,11.9 Q5.4,13.4 3.7,13.1 Q4.2,13.7 5,14.2 Q3,14.5 5.4,15.4 Q0.2,15.2 2.8,16.6 Q2.7,17 4.4,17.8 Q1.1,19.5 0.7,19" stroke="#2525d6" stroke-width="0.5" fill="none"/><path d="M3.5,0 Q2.5,1.8 5.6,1.2 Q5.2,0.7 4,2.4 Q3.2,1.9 6.7,3.6 Q0.4,2.7 0.5,4.8 Q5.6,4.6 5.4,5.9 Q6.4,5.7 2.1,7.1 Q5.8,7.4 6.3,8.3 Q2.8,8.5 3.2,9.5 Q4.8,11.6 4.9,10.7 Q2.2,11.4 0.8,11.9 Q6.9,13.4 5.5,13.1 Q5.3,12.8 0.7,14.2 Q0.5,13.4 3,15.4 Q6.1,15.4 3,16.6 Q4.8,16.6 0.2,17.8 Q1.4,19.6 0.6,19" stroke="#2525d6" stroke-width="0.5" fill="none"/><path d="M3.5,0 Q3.5,0.5 6.3,1.2 Q2.4,1.4 4.8,2.4 Q4.7,4.1 5.5,3.6 Q5.8,5.2 4,4.8 Q4.5,5.5 1.7,5.9 Q1.5,6.2 1.1,7.1 Q0.2,9.1 6.6,8.3 Q2.8,9.3 6.6,9.5 Q0.3,8.7 2.1,10.7 Q1.6,11.3 5.1,11.9 Q0.1,12.1 2,13.1 Q6.7,13.7 3.2,14.2 Q2.8,15.9 6.8,15.4 Q0.2,17.3 3.6,16.6 Q4,17 4.8,17.8 Q6.1,17.1 0.1,19" stroke="#2525d6" stroke-width="0.5" fill="none"/></g>
<g transform="translate(69.5,498.3)"><path d="M3.5,0 Q4.8,1.2 3.4,1.2 Q5.6,0.4 4.7,2.4 Q3,2.6 4.9,3.6 Q0.9,5.4 5.6,4.8 Q5.8,6.6 5.7,5.9 Q4.2,7.7 1.5,7.1 Q4.8,6.5 3.8,8.3 Q0.2,8.9 4.7,9.5 Q2.2,8.9 0.2,10.7 Q0.9,11.8 1.9,11.9 Q5.4,13.4 3.7,13.1 Q4.2,13.7 5,14.2 Q3,14.5 5.4,15.4 Q0.2,15.2 2.8,16.6 Q2.7,17 4.4,17.8 Q1.1,19.5 0.7,19" stroke="#2525d6" stroke-width="0.5" fill="none"/><path d="M3.5,0 Q2.5,1.8 5.6,1.2 Q5.2,0.7 4,2.4 Q3.2,1.9 6.7,3.6 Q0.4,2.7 0.5,4.8 Q5.6,4.6 5.4,5.9 Q6.4,5.7 2.1,7.1 Q5.8,7.4 6.3,8.3 Q2.8,8.5 3.2,9.5 Q4.8,11.6 4.9,10.7 Q2.2,11.4 0.8,11.9 Q6.9,13.4 5.5,13.1 Q5.3,12.8 0.7,14.2 Q0.5,13.4 3,15.4 Q6.1,15.4 3,16.6 Q4.8,16.6 0.2,17.8 Q1.4,19.6 0.6,19" stroke="#2525d6" stroke-width="0.5" fill="none"/><path d="M3.5,0 Q3.5,0.5 6.3,1.2 Q2.4,1.4 4.8,2.4 Q4.7,4.1 5.5,3.6 Q5.8,5.2 4,4.8 Q4.5,5.5 1.7,5.9 Q1.5,6.2 1.1,7.1 Q0.2,9.1 6.6,8.3 Q2.8,9.3 6.6,9.5 Q0.3,8.7 2.1,10.7 Q1.6,11.3 5.1,11.9 Q0.1,12.1 2,13.1 Q6.7,13.7 3.2,14.2 Q2.8,15.9 6.8,15.4 Q0.2,17.3 3.6,16.6 Q4,17 4.8,17.8 Q6.1,17.1 0.1,19" stroke="#2525d6" stroke-width="0.5" fill="none"/></g>
<g transform="translate(134.7,451.6)"><path d="M2.8,0 Q1.8,-0.2 4.4,1.2 Q0.6,1.7 4.5,2.3 Q3.4,1.9 3.1,3.5 Q2.8,5.1 3.5,4.7 Q5.3,4.3 0.2,5.8 Q2.8,7.4 4.5,7 Q1.8,6.3 1,8.2 Q2.9,7.9 4.3,9.3 Q0.4,9 1.1,10.5 Q2.4,11.7 3.1,11.7 Q4.6,13.7 0.4,12.8 Q4.1,14.5 4.1,14 Q2.5,13.3 0.5,15.2 Q3,14.6 4.3,16.3 Q4.3,17.1 2.4,17.5 Q5.2,16.8 0.7,18.7 Q5.4,20 4.6,19.8 Q2.9,19.6 5.2,21" stroke="#2525d6" stroke-width="0.5" fill="none"/><path d="M2.8,0 Q4.1,1.4 2.6,1.2 Q5.2,0.4 2.1,2.3 Q0.2,2.5 2.7,3.5 Q0.6,5.5 5.4,4.7 Q3.8,3.9 5,5.8 Q3.8,5.2 2.6,7 Q0.5,8.6 1.6,8.2 Q5.1,9.5 5,9.3 Q0.3,9.9 3.2,10.5 Q4.2,9.7 4.2,11.7 Q0.5,13.5 0,12.8 Q2.1,13.3 0.6,14 Q0.7,13.9 4.9,15.2 Q0.5,14.7 4.2,16.3 Q5.3,16.1 0.1,17.5 Q2.1,19.5 2.8,18.7 Q3.3,19.2 3.9,19.8 Q4.6,19.2 1.5,21" stroke="#2525d6" stroke-width="0.5" fill="none"/></g>
<g transform="translate(146.7,451.6)"><path d="M6,0 Q3.5,-0.1 7.5,1.1 Q2.3,1.9 5.4,2.1 Q0.2,1.5 0.8,3.2 Q10.5,3.7 1.1,4.2 Q9.3,3.7 8.1,5.2 Q4.6,5.7 11.4,6.3 Q8.3,7.6 5.9,7.3 Q9.9,7.7 2.3,8.4 Q10.4,10 3,9.5 Q3.9,11.2 10.3,10.5 Q11.6,11.8 9.3,11.6 Q5.7,12.8 12,12.6 Q6.3,13.1 9.4,13.7 Q10.4,13.8 4.8,14.7 Q6.7,15.8 9,15.8 Q0.9,16.8 3.7,16.8 Q4.3,18.2 1.7,17.9 Q10.9,18.6 0.6,18.9 Q8.1,18.1 6.7,20 Q8.6,20.7 0.3,21" stroke="#2525d6" stroke-width="0.5" fill="none"/><path d="M6,0 Q9.9,-0.2 7.7,1.1 Q11.6,0.3 1.9,2.1 Q7.5,4 6.2,3.2 Q8.4,2.4 1,4.2 Q7.4,5.8 5.4,5.2 Q9,4.7 0.6,6.3 Q11.8,7.9 4.9,7.3 Q0.1,6.5 0.9,8.4 Q0.5,9.8 9.4,9.5 Q9.8,11.3 9.7,10.5 Q9.9,11.2 7.6,11.6 Q0.8,12.2 8,12.6 Q4.7,13.8 11.9,13.7 Q5.8,14.3 2.1,14.7 Q3.9,15.1 9.2,15.8 Q6.9,17.6 2.3,16.8 Q7.9,17.5 4.6,17.9 Q8.4,17.5 2.3,18.9 Q11.9,18.8 7.4,20 Q4.1,20.9 8,21" stroke="#2525d6" stroke-width="0.5" fill="none"/><path d="M6,0 Q6,1.4 2.3,1.1 Q4.3,0.8 2.6,2.1 Q8,3.6 1.9,3.2 Q5.4,3.1 6.3,4.2 Q11.3,4.7 2.9,5.2 Q3.3,4.8 8.2,6.3 Q3.6,6.6 0.1,7.3 Q7.4,8.4 6.3,8.4 Q9.6,9.5 10.5,9.5 Q6.5,9.9 9.7,10.5 Q10.7,10.7 11,11.6 Q5.2,12.8 10.4,12.6 Q7.1,14.5 0.3,13.7 Q10.4,14.7 5.3,14.7 Q0.9,14.7 0.2,15.8 Q7.9,16.6 11.7,16.8 Q4.2,16.3 10.3,17.9 Q10.9,17.4 5.3,18.9 Q3.5,19 5.9,20 Q10.9,19.7 1.1,21" stroke="#2525d6" stroke-width="0.5" fill="none"/><path d="M6,0 Q2.1,0.3 9.5,1.1 Q7.1,1.6 0.3,2.1 Q2.4,3 5.2,3.2 Q11.2,3.6 0.4,4.2 Q5.1,3.3 7.3,5.2 Q8.7,5.7 0.4,6.3 Q6.5,7.9 3.3,7.3 Q6.2,8.1 6.1,8.4 Q0.4,9.4 10.5,9.5 Q8.6,9 6.9,10.5 Q9.5,10.4 9.9,11.6 Q0.6,12.2 11.4,12.6 Q2.3,13.5 1,13.7 Q5.8,13.4 8.5,14.7 Q5.4,14.9 6.5,15.8 Q5.5,15.9 4.9,16.8 Q6,16.7 1.5,17.9 Q11.5,19.1 9.5,18.9 Q5.7,20.1 4,20 Q9.6,19.1 2.7,21" stroke="#2525d6" stroke-width="0.5" fill="none"/><path d="M6,0 Q6.7,1.3 11.6,1.1 Q10.2,1.3 7.2,2.1 Q2.5,3.4 1.1,3.2 Q2.7,3.6 11.8,4.2 Q3.7,3.9 9.4,5.2 Q1.4,5.3 9.2,6.3 Q6,8.2 7.1,7.3 Q4.9,6.9 5.8,8.4 Q0.6,7.5 9.8,9.5 Q9.7,9.2 4.4,10.5 Q1.1,10.4 5.6,11.6 Q10.3,10.9 11.3,12.6 Q5.6,12 11.5,13.7 Q11.5,13.2 4.4,14.7 Q11.2,16.5 9.1,15.8 Q11.1,15.1 9.1,16.8 Q11.5,17.4 8.3,17.9 Q3.5,18.2 0.2,18.9 Q8.7,18.4 5,20 Q7.9,21.9 0.1,21" stroke="#2525d6" stroke-width="0.5" fill="none"/></g>
<g transform="translate(120.7,498.3)"><path d="M3.5,0 Q4.8,1.2 3.4,1.2 Q5.6,0.4 4.7,2.4 Q3,2.6 4.9,3.6 Q0.9,5.4 5.6,4.8 Q5.8,6.6 5.7,5.9 Q4.2,7.7 1.5,7.1 Q4.8,6.5 3.8,8.3 Q0.2,8.9 4.7,9.5 Q2.2,8.9 0.2,10.7 Q0.9,11.8 1.9,11.9 Q5.4,13.4 3.7,13.1 Q4.2,13.7 5,14.2 Q3,14.5 5.4,15.4 Q0.2,15.2 2.8,16.6 Q2.7,17 4.4,17.8 Q1.1,19.5 0.7,19" stroke="#2525d6" stroke-width="0.5" fill="none"/><path d="M3.5,0 Q2.5,1.8 5.6,1.2 Q5.2,0.7 4,2.4 Q3.2,1.9 6.7,3.6 Q0.4,2.7 0.5,4.8 Q5.6,4.6 5.4,5.9 Q6.4,5.7 2.1,7.1 Q5.8,7.4 6.3,8.3 Q2.8,8.5 3.2,9.5 Q4.8,11.6 4.9,10.7 Q2.2,11.4 0.8,11.9 Q6.9,13.4 5.5,13.1 Q5.3,12.8 0.7,14.2 Q0.5,13.4 3,15.4 Q6.1,15.4 3,16.6 Q4.8,16.6 0.2,17.8 Q1.4,19.6 0.6,19" stroke="#2525d6" stroke-width="0.5" fill="none"/><path d="M3.5,0 Q3.5,0.5 6.3,1.2 Q2.4,1.4 4.8,2.4 Q4.7,4.1 5.5,3.6 Q5.8,5.2 4,4.8 Q4.5,5.5 1.7,5.9 Q1.5,6.2 1.1,7.1 Q0.2,9.1 6.6,8.3 Q2.8,9.3 6.6,9.5 Q0.3,8.7 2.1,10.7 Q1.6,11.3 5.1,11.9 Q0.1,12.1 2,13.1 Q6.7,13.7 3.2,14.2 Q2.8,15.9 6.8,15.4 Q0.2,17.3 3.6,16.6 Q4,17 4.8,17.8 Q6.1,17.1 0.1,19" stroke="#2525d6" stroke-width="0.5" fill="none"/></g>
<g transform="translate(128.7,498.3)"><path d="M3.5,0 Q4.8,1.2 3.4,1.2 Q5.6,0.4 4.7,2.4 Q3,2.6 4.9,3.6 Q0.9,5.4 5.6,4.8 Q5.8,6.6 5.7,5.9 Q4.2,7.7 1.5,7.1 Q4.8,6.5 3.8,8.3 Q0.2,8.9 4.7,9.5 Q2.2,8.9 0.2,10.7 Q0.9,11.8 1.9,11.9 Q5.4,13.4 3.7,13.1 Q4.2,13.7 5,14.2 Q3,14.5 5.4,15.4 Q0.2,15.2 2.8,16.6 Q2.7,17 4.4,17.8 Q1.1,19.5 0.7,19" stroke="#2525d6" stroke-width="0.5" fill="none"/><path d="M3.5,0 Q2.5,1.8 5.6,1.2 Q5.2,0.7 4,2.4 Q3.2,1.9 6.7,3.6 Q0.4,2.7 0.5,4.8 Q5.6,4.6 5.4,5.9 Q6.4,5.7 2.1,7.1 Q5.8,7.4 6.3,8.3 Q2.8,8.5 3.2,9.5 Q4.8,11.6 4.9,10.7 Q2.2,11.4 0.8,11.9 Q6.9,13.4 5.5,13.1 Q5.3,12.8 0.7,14.2 Q0.5,13.4 3,15.4 Q6.1,15.4 3,16.6 Q4.8,16.6 0.2,17.8 Q1.4,19.6 0.6,19" stroke="#2525d6" stroke-width="0.5" fill="none"/><path d="M3.5,0 Q3.5,0.5 6.3,1.2 Q2.4,1.4 4.8,2.4 Q4.7,4.1 5.5,3.6 Q5.8,5.2 4,4.8 Q4.5,5.5 1.7,5.9 Q1.5,6.2 1.1,7.1 Q0.2,9.1 6.6,8.3 Q2.8,9.3 6.6,9.5 Q0.3,8.7 2.1,10.7 Q1.6,11.3 5.1,11.9 Q0.1,12.1 2,13.1 Q6.7,13.7 3.2,14.2 Q2.8,15.9 6.8,15.4 Q0.2,17.3 3.6,16.6 Q4,17 4.8,17.8 Q6.1,17.1 0.1,19" stroke="#2525d6" stroke-width="0.5" fill="none"/></g>
<g transform="translate(193.9,451.6)"><path d="M2.8,0 Q1.8,-0.2 4.4,1.2 Q0.6,1.7 4.5,2.3 Q3.4,1.9 3.1,3.5 Q2.8,5.1 3.5,4.7 Q5.3,4.3 0.2,5.8 Q2.8,7.4 4.5,7 Q1.8,6.3 1,8.2 Q2.9,7.9 4.3,9.3 Q0.4,9 1.1,10.5 Q2.4,11.7 3.1,11.7 Q4.6,13.7 0.4,12.8 Q4.1,14.5 4.1,14 Q2.5,13.3 0.5,15.2 Q3,14.6 4.3,16.3 Q4.3,17.1 2.4,17.5 Q5.2,16.8 0.7,18.7 Q5.4,20 4.6,19.8 Q2.9,19.6 5.2,21" stroke="#2525d6" stroke-width="0.5" fill="none"/><path d="M2.8,0 Q4.1,1.4 2.6,1.2 Q5.2,0.4 2.1,2.3 Q0.2,2.5 2.7,3.5 Q0.6,5.5 5.4,4.7 Q3.8,3.9 5,5.8 Q3.8,5.2 2.6,7 Q0.5,8.6 1.6,8.2 Q5.1,9.5 5,9.3 Q0.3,9.9 3.2,10.5 Q4.2,9.7 4.2,11.7 Q0.5,13.5 0,12.8 Q2.1,13.3 0.6,14 Q0.7,13.9 4.9,15.2 Q0.5,14.7 4.2,16.3 Q5.3,16.1 0.1,17.5 Q2.1,19.5 2.8,18.7 Q3.3,19.2 3.9,19.8 Q4.6,19.2 1.5,21" stroke="#2525d6" stroke-width="0.5" fill="none"/></g>
<g transform="translate(205.9,451.6)"><path d="M6,0 Q3.5,-0.1 7.5,1.1 Q2.3,1.9 5.4,2.1 Q0.2,1.5 0.8,3.2 Q10.5,3.7 1.1,4.2 Q9.3,3.7 8.1,5.2 Q4.6,5.7 11.4,6.3 Q8.3,7.6 5.9,7.3 Q9.9,7.7 2.3,8.4 Q10.4,10 3,9.5 Q3.9,11.2 10.3,10.5 Q11.6,11.8 9.3,11.6 Q5.7,12.8 12,12.6 Q6.3,13.1 9.4,13.7 Q10.4,13.8 4.8,14.7 Q6.7,15.8 9,15.8 Q0.9,16.8 3.7,16.8 Q4.3,18.2 1.7,17.9 Q10.9,18.6 0.6,18.9 Q8.1,18.1 6.7,20 Q8.6,20.7 0.3,21" stroke="#2525d6" stroke-width="0.5" fill="none"/><path d="M6,0 Q9.9,-0.2 7.7,1.1 Q11.6,0.3 1.9,2.1 Q7.5,4 6.2,3.2 Q8.4,2.4 1,4.2 Q7.4,5.8 5.4,5.2 Q9,4.7 0.6,6.3 Q11.8,7.9 4.9,7.3 Q0.1,6.5 0.9,8.4 Q0.5,9.8 9.4,9.5 Q9.8,11.3 9.7,10.5 Q9.9,11.2 7.6,11.6 Q0.8,12.2 8,12.6 Q4.7,13.8 11.9,13.7 Q5.8,14.3 2.1,14.7 Q3.9,15.1 9.2,15.8 Q6.9,17.6 2.3,16.8 Q7.9,17.5 4.6,17.9 Q8.4,17.5 2.3,18.9 Q11.9,18.8 7.4,20 Q4.1,20.9 8,21" stroke="#2525d6" stroke-width="0.5" fill="none"/><path d="M6,0 Q6,1.4 2.3,1.1 Q4.3,0.8 2.6,2.1 Q8,3.6 1.9,3.2 Q5.4,3.1 6.3,4.2 Q11.3,4.7 2.9,5.2 Q3.3,4.8 8.2,6.3 Q3.6,6.6 0.1,7.3 Q7.4,8.4 6.3,8.4 Q9.6,9.5 10.5,9.5 Q6.5,9.9 9.7,10.5 Q10.7,10.7 11,11.6 Q5.2,12.8 10.4,12.6 Q7.1,14.5 0.3,13.7 Q10.4,14.7 5.3,14.7 Q0.9,14.7 0.2,15.8 Q7.9,16.6 11.7,16.8 Q4.2,16.3 10.3,17.9 Q10.9,17.4 5.3,18.9 Q3.5,19 5.9,20 Q10.9,19.7 1.1,21" stroke="#2525d6" stroke-width="0.5" fill="none"/><path d="M6,0 Q2.1,0.3 9.5,1.1 Q7.1,1.6 0.3,2.1 Q2.4,3 5.2,3.2 Q11.2,3.6 0.4,4.2 Q5.1,3.3 7.3,5.2 Q8.7,5.7 0.4,6.3 Q6.5,7.9 3.3,7.3 Q6.2,8.1 6.1,8.4 Q0.4,9.4 10.5,9.5 Q8.6,9 6.9,10.5 Q9.5,10.4 9.9,11.6 Q0.6,12.2 11.4,12.6 Q2.3,13.5 1,13.7 Q5.8,13.4 8.5,14.7 Q5.4,14.9 6.5,15.8 Q5.5,15.9 4.9,16.8 Q6,16.7 1.5,17.9 Q11.5,19.1 9.5,18.9 Q5.7,20.1 4,20 Q9.6,19.1 2.7,21" stroke="#2525d6" stroke-width="0.5" fill="none"/><path d="M6,0 Q6.7,1.3 11.6,1.1 Q10.2,1.3 7.2,2.1 Q2.5,3.4 1.1,3.2 Q2.7,3.6 11.8,4.2 Q3.7,3.9 9.4,5.2 Q1.4,5.3 9.2,6.3 Q6,8.2 7.1,7.3 Q4.9,6.9 5.8,8.4 Q0.6,7.5 9.8,9.5 Q9.7,9.2 4.4,10.5 Q1.1,10.4 5.6,11.6 Q10.3,10.9 11.3,12.6 Q5.6,12 11.5,13.7 Q11.5,13.2 4.4,14.7 Q11.2,16.5 9.1,15.8 Q11.1,15.1 9.1,16.8 Q11.5,17.4 8.3,17.9 Q3.5,18.2 0.2,18.9 Q8.7,18.4 5,20 Q7.9,21.9 0.1,21" stroke="#2525d6" stroke-width="0.5" fill="none"/></g>
<g transform="translate(179.9,498.3)"><path d="M3.5,0 Q4.8,1.2 3.4,1.2 Q5.6,0.4 4.7,2.4 Q3,2.6 4.9,3.6 Q0.9,5.4 5.6,4.8 Q5.8,6.6 5.7,5.9 Q4.2,7.7 1.5,7.1 Q4.8,6.5 3.8,8.3 Q0.2,8.9 4.7,9.5 Q2.2,8.9 0.2,10.7 Q0.9,11.8 1.9,11.9 Q5.4,13.4 3.7,13.1 Q4.2,13.7 5,14.2 Q3,14.5 5.4,15.4 Q0.2,15.2 2.8,16.6 Q2.7,17 4.4,17.8 Q1.1,19.5 0.7,19" stroke="#2525d6" stroke-width="0.5" fill="none"/><path d="M3.5,0 Q2.5,1.8 5.6,1.2 Q5.2,0.7 4,2.4 Q3.2,1.9 6.7,3.6 Q0.4,2.7 0.5,4.8 Q5.6,4.6 5.4,5.9 Q6.4,5.7 2.1,7.1 Q5.8,7.4 6.3,8.3 Q2.8,8.5 3.2,9.5 Q4.8,11.6 4.9,10.7 Q2.2,11.4 0.8,11.9 Q6.9,13.4 5.5,13.1 Q5.3,12.8 0.7,14.2 Q0.5,13.4 3,15.4 Q6.1,15.4 3,16.6 Q4.8,16.6 0.2,17.8 Q1.4,19.6 0.6,19" stroke="#2525d6" stroke-width="0.5" fill="none"/><path d="M3.5,0 Q3.5,0.5 6.3,1.2 Q2.4,1.4 4.8,2.4 Q4.7,4.1 5.5,3.6 Q5.8,5.2 4,4.8 Q4.5,5.5 1.7,5.9 Q1.5,6.2 1.1,7.1 Q0.2,9.1 6.6,8.3 Q2.8,9.3 6.6,9.5 Q0.3,8.7 2.1,10.7 Q1.6,11.3 5.1,11.9 Q0.1,12.1 2,13.1 Q6.7,13.7 3.2,14.2 Q2.8,15.9 6.8,15.4 Q0.2,17.3 3.6,16.6 Q4,17 4.8,17.8 Q6.1,17.1 0.1,19" stroke="#2525d6" stroke-width="0.5" fill="none"/></g>
<g transform="translate(187.9,498.3)"><path d="M3.5,0 Q4.8,1.2 3.4,1.2 Q5.6,0.4 4.7,2.4 Q3,2.6 4.9,3.6 Q0.9,5.4 5.6,4.8 Q5.8,6.6 5.7,5.9 Q4.2,7.7 1.5,7.1 Q4.8,6.5 3.8,8.3 Q0.2,8.9 4.7,9.5 Q2.2,8.9 0.2,10.7 Q0.9,11.8 1.9,11.9 Q5.4,13.4 3.7,13.1 Q4.2,13.7 5,14.2 Q3,14.5 5.4,15.4 Q0.2,15.2 2.8,16.6 Q2.7,17 4.4,17.8 Q1.1,19.5 0.7,19" stroke="#2525d6" stroke-width="0.5" fill="none"/><path d="M3.5,0 Q2.5,1.8 5.6,1.2 Q5.2,0.7 4,2.4 Q3.2,1.9 6.7,3.6 Q0.4,2.7 0.5,4.8 Q5.6,4.6 5.4,5.9 Q6.4,5.7 2.1,7.1 Q5.8,7.4 6.3,8.3 Q2.8,8.5 3.2,9.5 Q4.8,11.6 4.9,10.7 Q2.2,11.4 0.8,11.9 Q6.9,13.4 5.5,13.1 Q5.3,12.8 0.7,14.2 Q0.5,13.4 3,15.4 Q6.1,15.4 3,16.6 Q4.8,16.6 0.2,17.8 Q1.4,19.6 0.6,19" stroke="#2525d6" stroke-width="0.5" fill="none"/><path d="M3.5,0 Q3.5,0.5 6.3,1.2 Q2.4,1.4 4.8,2.4 Q4.7,4.1 5.5,3.6 Q5.8,5.2 4,4.8 Q4.5,5.5 1.7,5.9 Q1.5,6.2 1.1,7.1 Q0.2,9.1 6.6,8.3 Q2.8,9.3 6.6,9.5 Q0.3,8.7 2.1,10.7 Q1.6,11.3 5.1,11.9 Q0.1,12.1 2,13.1 Q6.7,13.7 3.2,14.2 Q2.8,15.9 6.8,15.4 Q0.2,17.3 3.6,16.6 Q4,17 4.8,17.8 Q6.1,17.1 0.1,19" stroke="#2525d6" stroke-width="0.5" fill="none"/></g>
<g transform="translate(253.1,451.6)"><path d="M2.8,0 Q1.8,-0.2 4.4,1.2 Q0.6,1.7 4.5,2.3 Q3.4,1.9 3.1,3.5 Q2.8,5.1 3.5,4.7 Q5.3,4.3 0.2,5.8 Q2.8,7.4 4.5,7 Q1.8,6.3 1,8.2 Q2.9,7.9 4.3,9.3 Q0.4,9 1.1,10.5 Q2.4,11.7 3.1,11.7 Q4.6,13.7 0.4,12.8 Q4.1,14.5 4.1,14 Q2.5,13.3 0.5,15.2 Q3,14.6 4.3,16.3 Q4.3,17.1 2.4,17.5 Q5.2,16.8 0.7,18.7 Q5.4,20 4.6,19.8 Q2.9,19.6 5.2,21" stroke="#2525d6" stroke-width="0.5" fill="none"/><path d="M2.8,0 Q4.1,1.4 2.6,1.2 Q5.2,0.4 2.1,2.3 Q0.2,2.5 2.7,3.5 Q0.6,5.5 5.4,4.7 Q3.8,3.9 5,5.8 Q3.8,5.2 2.6,7 Q0.5,8.6 1.6,8.2 Q5.1,9.5 5,9.3 Q0.3,9.9 3.2,10.5 Q4.2,9.7 4.2,11.7 Q0.5,13.5 0,12.8 Q2.1,13.3 0.6,14 Q0.7,13.9 4.9,15.2 Q0.5,14.7 4.2,16.3 Q5.3,16.1 0.1,17.5 Q2.1,19.5 2.8,18.7 Q3.3,19.2 3.9,19.8 Q4.6,19.2 1.5,21" stroke="#2525d6" stroke-width="0.5" fill="none"/></g>
<g transform="translate(239.1,498.3)"><path d="M3.5,0 Q4.8,1.2 3.4,1.2 Q5.6,0.4 4.7,2.4 Q3,2.6 4.9,3.6 Q0.9,5.4 5.6,4.8 Q5.8,6.6 5.7,5.9 Q4.2,7.7 1.5,7.1 Q4.8,6.5 3.8,8.3 Q0.2,8.9 4.7,9.5 Q2.2,8.9 0.2,10.7 Q0.9,11.8 1.9,11.9 Q5.4,13.4 3.7,13.1 Q4.2,13.7 5,14.2 Q3,14.5 5.4,15.4 Q0.2,15.2 2.8,16.6 Q2.7,17 4.4,17.8 Q1.1,19.5 0.7,19" stroke="#2525d6" stroke-width="0.5" fill="none"/><path d="M3.5,0 Q2.5,1.8 5.6,1.2 Q5.2,0.7 4,2.4 Q3.2,1.9 6.7,3.6 Q0.4,2.7 0.5,4.8 Q5.6,4.6 5.4,5.9 Q6.4,5.7 2.1,7.1 Q5.8,7.4 6.3,8.3 Q2.8,8.5 3.2,9.5 Q4.8,11.6 4.9,10.7 Q2.2,11.4 0.8,11.9 Q6.9,13.4 5.5,13.1 Q5.3,12.8 0.7,14.2 Q0.5,13.4 3,15.4 Q6.1,15.4 3,16.6 Q4.8,16.6 0.2,17.8 Q1.4,19.6 0.6,19" stroke="#2525d6" stroke-width="0.5" fill="none"/><path d="M3.5,0 Q3.5,0.5 6.3,1.2 Q2.4,1.4 4.8,2.4 Q4.7,4.1 5.5,3.6 Q5.8,5.2 4,4.8 Q4.5,5.5 1.7,5.9 Q1.5,6.2 1.1,7.1 Q0.2,9.1 6.6,8.3 Q2.8,9.3 6.6,9.5 Q0.3,8.7 2.1,10.7 Q1.6,11.3 5.1,11.9 Q0.1,12.1 2,13.1 Q6.7,13.7 3.2,14.2 Q2.8,15.9 6.8,15.4 Q0.2,17.3 3.6,16.6 Q4,17 4.8,17.8 Q6.1,17.1 0.1,19" stroke="#2525d6" stroke-width="0.5" fill="none"/></g>
<g transform="translate(247.1,498.3)"><path d="M3.5,0 Q4.8,1.2 3.4,1.2 Q5.6,0.4 4.7,2.4 Q3,2.6 4.9,3.6 Q0.9,5.4 5.6,4.8 Q5.8,6.6 5.7,5.9 Q4.2,7.7 1.5,7.1 Q4.8,6.5 3.8,8.3 Q0.2,8.9 4.7,9.5 Q2.2,8.9 0.2,10.7 Q0.9,11.8 1.9,11.9 Q5.4,13.4 3.7,13.1 Q4.2,13.7 5,14.2 Q3,14.5 5.4,15.4 Q0.2,15.2 2.8,16.6 Q2.7,17 4.4,17.8 Q1.1,19.5 0.7,19" stroke="#2525d6" stroke-width="0.5" fill="none"/><path d="M3.5,0 Q2.5,1.8 5.6,1.2 Q5.2,0.7 4,2.4 Q3.2,1.9 6.7,3.6 Q0.4,2.7 0.5,4.8 Q5.6,4.6 5.4,5.9 Q6.4,5.7 2.1,7.1 Q5.8,7.4 6.3,8.3 Q2.8,8.5 3.2,9.5 Q4.8,11.6 4.9,10.7 Q2.2,11.4 0.8,11.9 Q6.9,13.4 5.5,13.1 Q5.3,12.8 0.7,14.2 Q0.5,13.4 3,15.4 Q6.1,15.4 3,16.6 Q4.8,16.6 0.2,17.8 Q1.4,19.6 0.6,19" stroke="#2525d6" stroke-width="0.5" fill="none"/><path d="M3.5,0 Q3.5,0.5 6.3,1.2 Q2.4,1.4 4.8,2.4 Q4.7,4.1 5.5,3.6 Q5.8,5.2 4,4.8 Q4.5,5.5 1.7,5.9 Q1.5,6.2 1.1,7.1 Q0.2,9.1 6.6,8.3 Q2.8,9.3 6.6,9.5 Q0.3,8.7 2.1,10.7 Q1.6,11.3 5.1,11.9 Q0.1,12.1 2,13.1 Q6.7,13.7 3.2,14.2 Q2.8,15.9 6.8,15.4 Q0.2,17.3 3.6,16.6 Q4,17 4.8,17.8 Q6.1,17.1 0.1,19" stroke="#2525d6" stroke-width="0.5" fill="none"/></g>
<rect x="398.6" y="471.3" width="254.8" height="28" fill="url(#memR)"/>
<g transform="translate(398.6,451)"><path d="M10.4,16.1 Q7.6,14.9 8.7,15.1 Q9.2,14.2 11,14 Q7.7,16.1 9.9,16.5 Q7.7,19.9 9.2,18.5 Q11.2,20.6 9.7,20.6 Q12.7,16.8 11.4,18.3 Q14.1,15.6 11.9,16.1 Q14.1,14.6 13.2,16.2 Q16,17.6 15.3,15.5 Q16.5,17 16.6,17.1 Q17.6,16 19.9,16.9 Q17.7,14.2 19.7,13.8 Q15.2,15.7 17.1,16.6 Q11.4,16.5 13.8,15.9 Q10.2,11.5 11,13.4 Q8.1,17.2 9,16.2 Q10,17 10.2,17.3 Q9.1,13.1 11.4,15.1 Q5.6,14.6 7.6,14.8 Q9.1,13.2 8.2,13.2 Q4.4,13.6 6.7,13.3 Q4.4,16.3 4.1,16.2 M12.7,7 Q8.4,8 10,6.1 Q7.8,4.9 8.4,5.6 Q7.5,7.1 5.8,6.8 Q1.3,9.4 3.7,8.5 Q5.5,4.4 3.1,6.5 Q-0.6,8.9 1.7,7.5 Q1.9,3.2 0,5.5 Q2.4,2.3 3,3.3 Q2.5,3 4.2,4.2 Q4,7.5 4.1,6.8 Q8.3,7.3 6.5,7.9 Q6.9,3.2 8.4,5.4 Q11.1,2.4 11.2,3.3 Q9.1,0.9 9.4,0.9 Q11.6,2.2 9.7,2.1 Q9.4,-1 10.1,0 Q11.6,-1.3 11.7,0 Q15.2,-0.9 14.8,0 Q17,-1.1 15.6,0 Q16.9,0.9 14.8,0.6 Q13.3,-1.6 15,0 Q19.4,-0.8 17.8,0 M24.9,12.1 Q26.6,10.7 28.2,11.4 Q29.7,10.8 29,9.1 Q24.2,12.6 25,12.2 Q30.7,14.2 28.4,13 Q31.6,13.4 31.6,14.7 Q30.5,18.4 32.7,16.8 Q30,16.2 32,15 Q30.1,9.8 31.4,12 Q29.2,7.8 29.7,9.9 Q27.9,12.1 25.7,11 Q24.4,16.2 22.7,13.9 Q22.3,16.5 21.8,14.1 Q23,13.4 25.4,12.9 Q29.3,8.1 27.4,10.2 Q31.2,10.9 28.9,12 Q29.9,11.8 28.9,9.5 Q30.5,8.9 32.4,6.4 Q37.1,7.6 35.8,7.9 Q36.6,10 36.8,10.5 Q35.5,8.9 35.1,10.2 Q30.4,6.7 32.3,8.5 Q31.1,11 31.6,10.1 M19,13 Q23.2,9.7 22.4,10.7 Q23.4,9.2 20.9,11.5 Q17.7,13.9 19.3,14.1 Q18.2,13.7 17.2,11.8 Q17.3,14.9 18.4,13.2 Q17.6,9.8 17.1,11.4 Q21.6,11.5 19.7,10.8 Q22.2,9.2 23.5,8.6 Q20.2,9.9 21.4,9 Q24.8,10.1 23.8,11.7 Q22.5,12.4 21.8,14.3 Q24.4,10.8 23.1,13 Q28.2,13.9 25.8,11.7 Q23.4,16 23.9,13.7 Q25.5,12.5 23.3,14.8 Q25.7,19.7 23.4,17.6 Q26.1,19 24.2,19.2 Q22.2,20.8 20.5,21 Q23.7,17.9 21.5,18.1 Q17.7,16.2 18.9,16.8 Q20,16 18.4,18 Q18.2,18.9 19,19.7 M9.8,12.6 Q4.4,15.8 6.8,13.6 Q8.1,10.3 8,11.5 Q9.2,14.1 7.5,13.6 Q6.9,16.5 9.2,14.1 Q6.2,17.6 6.2,15.8 Q6.1,16.2 4.1,17.4 Q2.2,19.1 2.4,19.6 Q0.5,23.4 3,21 Q3.1,17.5 2.6,17.8 Q-0.5,19 1.5,18.2 Q-1,18.6 0.1,19.5 Q4.7,20.3 4,21 Q0.8,22.5 1.2,21 Q-2.3,21 0,21 Q-2.2,19.2 0,20.2 Q1.3,17.5 0,18.7 Q5.2,16 2.8,17.9 Q4.2,13.8 3.2,15.5 Q0.9,17.4 2.1,17.9 Q0.2,18.5 0,19.2 Q3.1,22.2 1.2,20 Q0.4,18.4 2.3,20.9 M11.3,13.3 Q13.2,13.3 13.9,14.4 Q19.5,12.9 17.2,11.5 Q15.2,13.3 14.5,13.5 Q11.3,18 11.6,16.6 Q6.3,15.1 8.3,16.9 Q10.1,15.1 10.1,17.5 Q10.3,18.2 12.7,18.8 Q13.1,15.9 13.5,17.6 Q17.6,15.8 15.6,16.2 Q17.8,14.8 19.1,13.4 Q16.2,12.3 16.8,10.9 Q18.4,12.3 18.4,12.3 Q15.7,12.2 16.8,11.8 Q22.2,11.6 20.2,12.9 Q22.3,10.8 20.4,12 Q18,11.8 20.5,9.8 Q21,6.4 19,8.4 Q17.1,4.4 16.5,5.5 Q15.7,8.4 14,8.7 Q16.2,7.8 15.2,6.5 Q13.7,5.6 14.6,7.7 Q13.2,4.9 12.6,5.6 M24.7,13.3 Q25.7,10.5 25.4,11.1 Q27.4,15.7 26.3,14.1 Q25.4,13.1 27.5,12.7 Q22.3,12 24.4,9.6 Q25.6,7.6 26.1,9.2 Q24.1,7.5 26.3,9.6 Q26.3,11.5 24.4,9.1 Q19.5,11.4 20.8,11.2 Q24.3,12 23.2,10.7 Q24,10 21.6,9.1 Q19.2,7 19.4,6.4 Q23.8,2.3 22.1,3.8 Q22.4,6.1 22.6,6.9 Q21.3,5.5 23.3,4.2 Q20.7,5.4 21.8,4.5 Q17.1,1.8 18.3,1.7 Q17.8,1.8 19.4,2.8 Q22.2,6.9 22.1,5.1 Q25.1,1.1 23.3,3 Q22.4,5.8 20.5,4.6 Q22.1,4.9 22.7,3.3 Q20.7,-1.1 21.8,0.9" stroke="#2525d6" stroke-width="0.55" fill="none"/></g>
<g transform="translate(438.6,498)"><path d="M6.5,5.7 Q7.5,1.2 5.2,3.2 Q4,5.8 3.8,5.9 Q4.6,9.3 5.6,9 Q5,4.4 5.3,6.3 Q6.6,6.3 5.3,8.4 Q4.7,8.7 4.3,6.9 Q3.1,3 5.4,4.7 Q2.5,1.3 4.5,2.4 Q4.1,4.6 1.7,3.9 Q2.5,3.4 0,1.6 Q2.3,3.9 0,2.8 Q0.2,3 1,3.3 Q1.2,2 0.3,4.3 Q3.2,7.5 3,5.3 Q1.2,3 2.6,4 Q2.7,4.6 3.4,4.2 Q8.4,5.7 5.9,6.9 Q8.9,3.2 9,5.3 Q11.7,8.2 10.6,6.3 Q8,3.7 7.5,3.5 M5.9,7.3 Q4.9,7.8 5,8.8 Q2.8,4.4 2.4,5.8 Q2.3,5.7 1.7,3.6 Q0.8,2.7 2.3,3.4 Q4.1,5.7 3.8,4.3 Q5.5,5.1 3.3,6.5 Q7.6,3.8 5.2,6 Q5.6,5 3.6,6.5 Q-0.1,6.3 0.6,8.8 Q1.4,11.2 0.3,10.2 Q4.9,13.7 3.8,11.3 Q4.3,10.4 6.5,9.4 Q8.4,7.5 6.7,9.2 Q6.8,7.1 6.3,6.8 Q2.5,6.4 3.8,8.6 Q3.4,9.9 2,10.4 Q2.6,7 3.9,8.5 Q7,9.5 5.8,9 Q5.3,8.6 4.1,10.3 Q4.8,12.7 3.6,10.3 M5.9,2.7 Q4.4,-1.4 2.3,0.2 Q0.5,1.3 0.5,0 Q1,0.7 2,0 Q0.5,0.9 0.6,1.8 Q0.5,-0.4 0,0 Q2.5,-0.7 0.2,0 Q0.7,4.3 0.6,2 Q0.3,1.8 0,1.8 Q1.5,0.1 0,0 Q1.9,1.6 3.7,0 Q0.9,-0.9 0,0 Q1,0.5 0,0 Q2.6,1.1 4,0 Q0.2,2.6 2.2,3.3 Q-1.4,1.8 0,3.8 Q-0.6,9.1 0,6.9 Q-1.6,9.8 0.4,9.7 Q4.9,9.4 2.8,10.6 Q2.5,11.2 0.6,11.3 Q0.8,12.2 0,10.9 M11.1,6.1 Q12.2,5.7 13,6.9 Q16,8 13.7,7.3 Q9.7,10.6 10.5,9.4 Q10.8,9.8 10.6,11.3 Q11.1,14.7 12.8,14.4 Q12.4,16.4 13.8,15.7 Q13,15.3 12,17.7 Q15.5,16.3 15.2,18.1 Q13.1,14.8 14.8,17.3 Q15.2,14.4 14,14.5 Q16.5,15.6 16.8,15 Q14.6,14.7 12.8,14.3 Q13.3,16.7 12.2,17.2 Q15.9,17.7 15.2,16 Q16.5,10.8 17,12.8 Q15.6,13.4 16.7,13 Q15.5,12.4 17,13.6 Q17.2,11 16.9,11.2 Q16.2,7.5 17,8.1 Q15.1,5.5 17,5.7" stroke="#2525d6" stroke-width="0.55" fill="none"/></g>
<g transform="translate(399.6,498)"><path d="M6.5,5.7 Q7.5,1.2 5.2,3.2 Q4,5.8 3.8,5.9 Q4.6,9.3 5.6,9 Q5,4.4 5.3,6.3 Q6.6,6.3 5.3,8.4 Q4.7,8.7 4.3,6.9 Q3.1,3 5.4,4.7 Q2.5,1.3 4.5,2.4 Q4.1,4.6 1.7,3.9 Q2.5,3.4 0,1.6 Q2.3,3.9 0,2.8 Q0.2,3 1,3.3 Q1.2,2 0.3,4.3 Q3.2,7.5 3,5.3 Q1.2,3 2.6,4 Q2.7,4.6 3.4,4.2 Q8.4,5.7 5.9,6.9 Q8.9,3.2 9,5.3 Q11.7,8.2 10.6,6.3 Q8,3.7 7.5,3.5 M5.9,7.3 Q4.9,7.8 5,8.8 Q2.8,4.4 2.4,5.8 Q2.3,5.7 1.7,3.6 Q0.8,2.7 2.3,3.4 Q4.1,5.7 3.8,4.3 Q5.5,5.1 3.3,6.5 Q7.6,3.8 5.2,6 Q5.6,5 3.6,6.5 Q-0.1,6.3 0.6,8.8 Q1.4,11.2 0.3,10.2 Q4.9,13.7 3.8,11.3 Q4.3,10.4 6.5,9.4 Q8.4,7.5 6.7,9.2 Q6.8,7.1 6.3,6.8 Q2.5,6.4 3.8,8.6 Q3.4,9.9 2,10.4 Q2.6,7 3.9,8.5 Q7,9.5 5.8,9 Q5.3,8.6 4.1,10.3 Q4.8,12.7 3.6,10.3 M5.9,2.7 Q4.4,-1.4 2.3,0.2 Q0.5,1.3 0.5,0 Q1,0.7 2,0 Q0.5,0.9 0.6,1.8 Q0.5,-0.4 0,0 Q2.5,-0.7 0.2,0 Q0.7,4.3 0.6,2 Q0.3,1.8 0,1.8 Q1.5,0.1 0,0 Q1.9,1.6 3.7,0 Q0.9,-0.9 0,0 Q1,0.5 0,0 Q2.6,1.1 4,0 Q0.2,2.6 2.2,3.3 Q-1.4,1.8 0,3.8 Q-0.6,9.1 0,6.9 Q-1.6,9.8 0.4,9.7 Q4.9,9.4 2.8,10.6 Q2.5,11.2 0.6,11.3 Q0.8,12.2 0,10.9 M11.1,6.1 Q12.2,5.7 13,6.9 Q16,8 13.7,7.3 Q9.7,10.6 10.5,9.4 Q10.8,9.8 10.6,11.3 Q11.1,14.7 12.8,14.4 Q12.4,16.4 13.8,15.7 Q13,15.3 12,17.7 Q15.5,16.3 15.2,18.1 Q13.1,14.8 14.8,17.3 Q15.2,14.4 14,14.5 Q16.5,15.6 16.8,15 Q14.6,14.7 12.8,14.3 Q13.3,16.7 12.2,17.2 Q15.9,17.7 15.2,16 Q16.5,10.8 17,12.8 Q15.6,13.4 16.7,13 Q15.5,12.4 17,13.6 Q17.2,11 16.9,11.2 Q16.2,7.5 17,8.1 Q15.1,5.5 17,5.7" stroke="#2525d6" stroke-width="0.55" fill="none"/></g>
<g transform="translate(458.5,451)"><path d="M10.4,16.1 Q7.6,14.9 8.7,15.1 Q9.2,14.2 11,14 Q7.7,16.1 9.9,16.5 Q7.7,19.9 9.2,18.5 Q11.2,20.6 9.7,20.6 Q12.7,16.8 11.4,18.3 Q14.1,15.6 11.9,16.1 Q14.1,14.6 13.2,16.2 Q16,17.6 15.3,15.5 Q16.5,17 16.6,17.1 Q17.6,16 19.9,16.9 Q17.7,14.2 19.7,13.8 Q15.2,15.7 17.1,16.6 Q11.4,16.5 13.8,15.9 Q10.2,11.5 11,13.4 Q8.1,17.2 9,16.2 Q10,17 10.2,17.3 Q9.1,13.1 11.4,15.1 Q5.6,14.6 7.6,14.8 Q9.1,13.2 8.2,13.2 Q4.4,13.6 6.7,13.3 Q4.4,16.3 4.1,16.2 M12.7,7 Q8.4,8 10,6.1 Q7.8,4.9 8.4,5.6 Q7.5,7.1 5.8,6.8 Q1.3,9.4 3.7,8.5 Q5.5,4.4 3.1,6.5 Q-0.6,8.9 1.7,7.5 Q1.9,3.2 0,5.5 Q2.4,2.3 3,3.3 Q2.5,3 4.2,4.2 Q4,7.5 4.1,6.8 Q8.3,7.3 6.5,7.9 Q6.9,3.2 8.4,5.4 Q11.1,2.4 11.2,3.3 Q9.1,0.9 9.4,0.9 Q11.6,2.2 9.7,2.1 Q9.4,-1 10.1,0 Q11.6,-1.3 11.7,0 Q15.2,-0.9 14.8,0 Q17,-1.1 15.6,0 Q16.9,0.9 14.8,0.6 Q13.3,-1.6 15,0 Q19.4,-0.8 17.8,0 M24.9,12.1 Q26.6,10.7 28.2,11.4 Q29.7,10.8 29,9.1 Q24.2,12.6 25,12.2 Q30.7,14.2 28.4,13 Q31.6,13.4 31.6,14.7 Q30.5,18.4 32.7,16.8 Q30,16.2 32,15 Q30.1,9.8 31.4,12 Q29.2,7.8 29.7,9.9 Q27.9,12.1 25.7,11 Q24.4,16.2 22.7,13.9 Q22.3,16.5 21.8,14.1 Q23,13.4 25.4,12.9 Q29.3,8.1 27.4,10.2 Q31.2,10.9 28.9,12 Q29.9,11.8 28.9,9.5 Q30.5,8.9 32.4,6.4 Q37.1,7.6 35.8,7.9 Q36.6,10 36.8,10.5 Q35.5,8.9 35.1,10.2 Q30.4,6.7 32.3,8.5 Q31.1,11 31.6,10.1 M19,13 Q23.2,9.7 22.4,10.7 Q23.4,9.2 20.9,11.5 Q17.7,13.9 19.3,14.1 Q18.2,13.7 17.2,11.8 Q17.3,14.9 18.4,13.2 Q17.6,9.8 17.1,11.4 Q21.6,11.5 19.7,10.8 Q22.2,9.2 23.5,8.6 Q20.2,9.9 21.4,9 Q24.8,10.1 23.8,11.7 Q22.5,12.4 21.8,14.3 Q24.4,10.8 23.1,13 Q28.2,13.9 25.8,11.7 Q23.4,16 23.9,13.7 Q25.5,12.5 23.3,14.8 Q25.7,19.7 23.4,17.6 Q26.1,19 24.2,19.2 Q22.2,20.8 20.5,21 Q23.7,17.9 21.5,18.1 Q17.7,16.2 18.9,16.8 Q20,16 18.4,18 Q18.2,18.9 19,19.7 M9.8,12.6 Q4.4,15.8 6.8,13.6 Q8.1,10.3 8,11.5 Q9.2,14.1 7.5,13.6 Q6.9,16.5 9.2,14.1 Q6.2,17.6 6.2,15.8 Q6.1,16.2 4.1,17.4 Q2.2,19.1 2.4,19.6 Q0.5,23.4 3,21 Q3.1,17.5 2.6,17.8 Q-0.5,19 1.5,18.2 Q-1,18.6 0.1,19.5 Q4.7,20.3 4,21 Q0.8,22.5 1.2,21 Q-2.3,21 0,21 Q-2.2,19.2 0,20.2 Q1.3,17.5 0,18.7 Q5.2,16 2.8,17.9 Q4.2,13.8 3.2,15.5 Q0.9,17.4 2.1,17.9 Q0.2,18.5 0,19.2 Q3.1,22.2 1.2,20 Q0.4,18.4 2.3,20.9 M11.3,13.3 Q13.2,13.3 13.9,14.4 Q19.5,12.9 17.2,11.5 Q15.2,13.3 14.5,13.5 Q11.3,18 11.6,16.6 Q6.3,15.1 8.3,16.9 Q10.1,15.1 10.1,17.5 Q10.3,18.2 12.7,18.8 Q13.1,15.9 13.5,17.6 Q17.6,15.8 15.6,16.2 Q17.8,14.8 19.1,13.4 Q16.2,12.3 16.8,10.9 Q18.4,12.3 18.4,12.3 Q15.7,12.2 16.8,11.8 Q22.2,11.6 20.2,12.9 Q22.3,10.8 20.4,12 Q18,11.8 20.5,9.8 Q21,6.4 19,8.4 Q17.1,4.4 16.5,5.5 Q15.7,8.4 14,8.7 Q16.2,7.8 15.2,6.5 Q13.7,5.6 14.6,7.7 Q13.2,4.9 12.6,5.6 M24.7,13.3 Q25.7,10.5 25.4,11.1 Q27.4,15.7 26.3,14.1 Q25.4,13.1 27.5,12.7 Q22.3,12 24.4,9.6 Q25.6,7.6 26.1,9.2 Q24.1,7.5 26.3,9.6 Q26.3,11.5 24.4,9.1 Q19.5,11.4 20.8,11.2 Q24.3,12 23.2,10.7 Q24,10 21.6,9.1 Q19.2,7 19.4,6.4 Q23.8,2.3 22.1,3.8 Q22.4,6.1 22.6,6.9 Q21.3,5.5 23.3,4.2 Q20.7,5.4 21.8,4.5 Q17.1,1.8 18.3,1.7 Q17.8,1.8 19.4,2.8 Q22.2,6.9 22.1,5.1 Q25.1,1.1 23.3,3 Q22.4,5.8 20.5,4.6 Q22.1,4.9 22.7,3.3 Q20.7,-1.1 21.8,0.9" stroke="#2525d6" stroke-width="0.55" fill="none"/></g>
<g transform="translate(498.5,498)"><path d="M6.5,5.7 Q7.5,1.2 5.2,3.2 Q4,5.8 3.8,5.9 Q4.6,9.3 5.6,9 Q5,4.4 5.3,6.3 Q6.6,6.3 5.3,8.4 Q4.7,8.7 4.3,6.9 Q3.1,3 5.4,4.7 Q2.5,1.3 4.5,2.4 Q4.1,4.6 1.7,3.9 Q2.5,3.4 0,1.6 Q2.3,3.9 0,2.8 Q0.2,3 1,3.3 Q1.2,2 0.3,4.3 Q3.2,7.5 3,5.3 Q1.2,3 2.6,4 Q2.7,4.6 3.4,4.2 Q8.4,5.7 5.9,6.9 Q8.9,3.2 9,5.3 Q11.7,8.2 10.6,6.3 Q8,3.7 7.5,3.5 M5.9,7.3 Q4.9,7.8 5,8.8 Q2.8,4.4 2.4,5.8 Q2.3,5.7 1.7,3.6 Q0.8,2.7 2.3,3.4 Q4.1,5.7 3.8,4.3 Q5.5,5.1 3.3,6.5 Q7.6,3.8 5.2,6 Q5.6,5 3.6,6.5 Q-0.1,6.3 0.6,8.8 Q1.4,11.2 0.3,10.2 Q4.9,13.7 3.8,11.3 Q4.3,10.4 6.5,9.4 Q8.4,7.5 6.7,9.2 Q6.8,7.1 6.3,6.8 Q2.5,6.4 3.8,8.6 Q3.4,9.9 2,10.4 Q2.6,7 3.9,8.5 Q7,9.5 5.8,9 Q5.3,8.6 4.1,10.3 Q4.8,12.7 3.6,10.3 M5.9,2.7 Q4.4,-1.4 2.3,0.2 Q0.5,1.3 0.5,0 Q1,0.7 2,0 Q0.5,0.9 0.6,1.8 Q0.5,-0.4 0,0 Q2.5,-0.7 0.2,0 Q0.7,4.3 0.6,2 Q0.3,1.8 0,1.8 Q1.5,0.1 0,0 Q1.9,1.6 3.7,0 Q0.9,-0.9 0,0 Q1,0.5 0,0 Q2.6,1.1 4,0 Q0.2,2.6 2.2,3.3 Q-1.4,1.8 0,3.8 Q-0.6,9.1 0,6.9 Q-1.6,9.8 0.4,9.7 Q4.9,9.4 2.8,10.6 Q2.5,11.2 0.6,11.3 Q0.8,12.2 0,10.9 M11.1,6.1 Q12.2,5.7 13,6.9 Q16,8 13.7,7.3 Q9.7,10.6 10.5,9.4 Q10.8,9.8 10.6,11.3 Q11.1,14.7 12.8,14.4 Q12.4,16.4 13.8,15.7 Q13,15.3 12,17.7 Q15.5,16.3 15.2,18.1 Q13.1,14.8 14.8,17.3 Q15.2,14.4 14,14.5 Q16.5,15.6 16.8,15 Q14.6,14.7 12.8,14.3 Q13.3,16.7 12.2,17.2 Q15.9,17.7 15.2,16 Q16.5,10.8 17,12.8 Q15.6,13.4 16.7,13 Q15.5,12.4 17,13.6 Q17.2,11 16.9,11.2 Q16.2,7.5 17,8.1 Q15.1,5.5 17,5.7" stroke="#2525d6" stroke-width="0.55" fill="none"/></g>
<g transform="translate(459.5,498)"><path d="M6.5,5.7 Q7.5,1.2 5.2,3.2 Q4,5.8 3.8,5.9 Q4.6,9.3 5.6,9 Q5,4.4 5.3,6.3 Q6.6,6.3 5.3,8.4 Q4.7,8.7 4.3,6.9 Q3.1,3 5.4,4.7 Q2.5,1.3 4.5,2.4 Q4.1,4.6 1.7,3.9 Q2.5,3.4 0,1.6 Q2.3,3.9 0,2.8 Q0.2,3 1,3.3 Q1.2,2 0.3,4.3 Q3.2,7.5 3,5.3 Q1.2,3 2.6,4 Q2.7,4.6 3.4,4.2 Q8.4,5.7 5.9,6.9 Q8.9,3.2 9,5.3 Q11.7,8.2 10.6,6.3 Q8,3.7 7.5,3.5 M5.9,7.3 Q4.9,7.8 5,8.8 Q2.8,4.4 2.4,5.8 Q2.3,5.7 1.7,3.6 Q0.8,2.7 2.3,3.4 Q4.1,5.7 3.8,4.3 Q5.5,5.1 3.3,6.5 Q7.6,3.8 5.2,6 Q5.6,5 3.6,6.5 Q-0.1,6.3 0.6,8.8 Q1.4,11.2 0.3,10.2 Q4.9,13.7 3.8,11.3 Q4.3,10.4 6.5,9.4 Q8.4,7.5 6.7,9.2 Q6.8,7.1 6.3,6.8 Q2.5,6.4 3.8,8.6 Q3.4,9.9 2,10.4 Q2.6,7 3.9,8.5 Q7,9.5 5.8,9 Q5.3,8.6 4.1,10.3 Q4.8,12.7 3.6,10.3 M5.9,2.7 Q4.4,-1.4 2.3,0.2 Q0.5,1.3 0.5,0 Q1,0.7 2,0 Q0.5,0.9 0.6,1.8 Q0.5,-0.4 0,0 Q2.5,-0.7 0.2,0 Q0.7,4.3 0.6,2 Q0.3,1.8 0,1.8 Q1.5,0.1 0,0 Q1.9,1.6 3.7,0 Q0.9,-0.9 0,0 Q1,0.5 0,0 Q2.6,1.1 4,0 Q0.2,2.6 2.2,3.3 Q-1.4,1.8 0,3.8 Q-0.6,9.1 0,6.9 Q-1.6,9.8 0.4,9.7 Q4.9,9.4 2.8,10.6 Q2.5,11.2 0.6,11.3 Q0.8,12.2 0,10.9 M11.1,6.1 Q12.2,5.7 13,6.9 Q16,8 13.7,7.3 Q9.7,10.6 10.5,9.4 Q10.8,9.8 10.6,11.3 Q11.1,14.7 12.8,14.4 Q12.4,16.4 13.8,15.7 Q13,15.3 12,17.7 Q15.5,16.3 15.2,18.1 Q13.1,14.8 14.8,17.3 Q15.2,14.4 14,14.5 Q16.5,15.6 16.8,15 Q14.6,14.7 12.8,14.3 Q13.3,16.7 12.2,17.2 Q15.9,17.7 15.2,16 Q16.5,10.8 17,12.8 Q15.6,13.4 16.7,13 Q15.5,12.4 17,13.6 Q17.2,11 16.9,11.2 Q16.2,7.5 17,8.1 Q15.1,5.5 17,5.7" stroke="#2525d6" stroke-width="0.55" fill="none"/></g>
<g transform="translate(518.4,451)"><path d="M10.4,16.1 Q7.6,14.9 8.7,15.1 Q9.2,14.2 11,14 Q7.7,16.1 9.9,16.5 Q7.7,19.9 9.2,18.5 Q11.2,20.6 9.7,20.6 Q12.7,16.8 11.4,18.3 Q14.1,15.6 11.9,16.1 Q14.1,14.6 13.2,16.2 Q16,17.6 15.3,15.5 Q16.5,17 16.6,17.1 Q17.6,16 19.9,16.9 Q17.7,14.2 19.7,13.8 Q15.2,15.7 17.1,16.6 Q11.4,16.5 13.8,15.9 Q10.2,11.5 11,13.4 Q8.1,17.2 9,16.2 Q10,17 10.2,17.3 Q9.1,13.1 11.4,15.1 Q5.6,14.6 7.6,14.8 Q9.1,13.2 8.2,13.2 Q4.4,13.6 6.7,13.3 Q4.4,16.3 4.1,16.2 M12.7,7 Q8.4,8 10,6.1 Q7.8,4.9 8.4,5.6 Q7.5,7.1 5.8,6.8 Q1.3,9.4 3.7,8.5 Q5.5,4.4 3.1,6.5 Q-0.6,8.9 1.7,7.5 Q1.9,3.2 0,5.5 Q2.4,2.3 3,3.3 Q2.5,3 4.2,4.2 Q4,7.5 4.1,6.8 Q8.3,7.3 6.5,7.9 Q6.9,3.2 8.4,5.4 Q11.1,2.4 11.2,3.3 Q9.1,0.9 9.4,0.9 Q11.6,2.2 9.7,2.1 Q9.4,-1 10.1,0 Q11.6,-1.3 11.7,0 Q15.2,-0.9 14.8,0 Q17,-1.1 15.6,0 Q16.9,0.9 14.8,0.6 Q13.3,-1.6 15,0 Q19.4,-0.8 17.8,0 M24.9,12.1 Q26.6,10.7 28.2,11.4 Q29.7,10.8 29,9.1 Q24.2,12.6 25,12.2 Q30.7,14.2 28.4,13 Q31.6,13.4 31.6,14.7 Q30.5,18.4 32.7,16.8 Q30,16.2 32,15 Q30.1,9.8 31.4,12 Q29.2,7.8 29.7,9.9 Q27.9,12.1 25.7,11 Q24.4,16.2 22.7,13.9 Q22.3,16.5 21.8,14.1 Q23,13.4 25.4,12.9 Q29.3,8.1 27.4,10.2 Q31.2,10.9 28.9,12 Q29.9,11.8 28.9,9.5 Q30.5,8.9 32.4,6.4 Q37.1,7.6 35.8,7.9 Q36.6,10 36.8,10.5 Q35.5,8.9 35.1,10.2 Q30.4,6.7 32.3,8.5 Q31.1,11 31.6,10.1 M19,13 Q23.2,9.7 22.4,10.7 Q23.4,9.2 20.9,11.5 Q17.7,13.9 19.3,14.1 Q18.2,13.7 17.2,11.8 Q17.3,14.9 18.4,13.2 Q17.6,9.8 17.1,11.4 Q21.6,11.5 19.7,10.8 Q22.2,9.2 23.5,8.6 Q20.2,9.9 21.4,9 Q24.8,10.1 23.8,11.7 Q22.5,12.4 21.8,14.3 Q24.4,10.8 23.1,13 Q28.2,13.9 25.8,11.7 Q23.4,16 23.9,13.7 Q25.5,12.5 23.3,14.8 Q25.7,19.7 23.4,17.6 Q26.1,19 24.2,19.2 Q22.2,20.8 20.5,21 Q23.7,17.9 21.5,18.1 Q17.7,16.2 18.9,16.8 Q20,16 18.4,18 Q18.2,18.9 19,19.7 M9.8,12.6 Q4.4,15.8 6.8,13.6 Q8.1,10.3 8,11.5 Q9.2,14.1 7.5,13.6 Q6.9,16.5 9.2,14.1 Q6.2,17.6 6.2,15.8 Q6.1,16.2 4.1,17.4 Q2.2,19.1 2.4,19.6 Q0.5,23.4 3,21 Q3.1,17.5 2.6,17.8 Q-0.5,19 1.5,18.2 Q-1,18.6 0.1,19.5 Q4.7,20.3 4,21 Q0.8,22.5 1.2,21 Q-2.3,21 0,21 Q-2.2,19.2 0,20.2 Q1.3,17.5 0,18.7 Q5.2,16 2.8,17.9 Q4.2,13.8 3.2,15.5 Q0.9,17.4 2.1,17.9 Q0.2,18.5 0,19.2 Q3.1,22.2 1.2,20 Q0.4,18.4 2.3,20.9 M11.3,13.3 Q13.2,13.3 13.9,14.4 Q19.5,12.9 17.2,11.5 Q15.2,13.3 14.5,13.5 Q11.3,18 11.6,16.6 Q6.3,15.1 8.3,16.9 Q10.1,15.1 10.1,17.5 Q10.3,18.2 12.7,18.8 Q13.1,15.9 13.5,17.6 Q17.6,15.8 15.6,16.2 Q17.8,14.8 19.1,13.4 Q16.2,12.3 16.8,10.9 Q18.4,12.3 18.4,12.3 Q15.7,12.2 16.8,11.8 Q22.2,11.6 20.2,12.9 Q22.3,10.8 20.4,12 Q18,11.8 20.5,9.8 Q21,6.4 19,8.4 Q17.1,4.4 16.5,5.5 Q15.7,8.4 14,8.7 Q16.2,7.8 15.2,6.5 Q13.7,5.6 14.6,7.7 Q13.2,4.9 12.6,5.6 M24.7,13.3 Q25.7,10.5 25.4,11.1 Q27.4,15.7 26.3,14.1 Q25.4,13.1 27.5,12.7 Q22.3,12 24.4,9.6 Q25.6,7.6 26.1,9.2 Q24.1,7.5 26.3,9.6 Q26.3,11.5 24.4,9.1 Q19.5,11.4 20.8,11.2 Q24.3,12 23.2,10.7 Q24,10 21.6,9.1 Q19.2,7 19.4,6.4 Q23.8,2.3 22.1,3.8 Q22.4,6.1 22.6,6.9 Q21.3,5.5 23.3,4.2 Q20.7,5.4 21.8,4.5 Q17.1,1.8 18.3,1.7 Q17.8,1.8 19.4,2.8 Q22.2,6.9 22.1,5.1 Q25.1,1.1 23.3,3 Q22.4,5.8 20.5,4.6 Q22.1,4.9 22.7,3.3 Q20.7,-1.1 21.8,0.9" stroke="#2525d6" stroke-width="0.55" fill="none"/></g>
<g transform="translate(558.4,498)"><path d="M6.5,5.7 Q7.5,1.2 5.2,3.2 Q4,5.8 3.8,5.9 Q4.6,9.3 5.6,9 Q5,4.4 5.3,6.3 Q6.6,6.3 5.3,8.4 Q4.7,8.7 4.3,6.9 Q3.1,3 5.4,4.7 Q2.5,1.3 4.5,2.4 Q4.1,4.6 1.7,3.9 Q2.5,3.4 0,1.6 Q2.3,3.9 0,2.8 Q0.2,3 1,3.3 Q1.2,2 0.3,4.3 Q3.2,7.5 3,5.3 Q1.2,3 2.6,4 Q2.7,4.6 3.4,4.2 Q8.4,5.7 5.9,6.9 Q8.9,3.2 9,5.3 Q11.7,8.2 10.6,6.3 Q8,3.7 7.5,3.5 M5.9,7.3 Q4.9,7.8 5,8.8 Q2.8,4.4 2.4,5.8 Q2.3,5.7 1.7,3.6 Q0.8,2.7 2.3,3.4 Q4.1,5.7 3.8,4.3 Q5.5,5.1 3.3,6.5 Q7.6,3.8 5.2,6 Q5.6,5 3.6,6.5 Q-0.1,6.3 0.6,8.8 Q1.4,11.2 0.3,10.2 Q4.9,13.7 3.8,11.3 Q4.3,10.4 6.5,9.4 Q8.4,7.5 6.7,9.2 Q6.8,7.1 6.3,6.8 Q2.5,6.4 3.8,8.6 Q3.4,9.9 2,10.4 Q2.6,7 3.9,8.5 Q7,9.5 5.8,9 Q5.3,8.6 4.1,10.3 Q4.8,12.7 3.6,10.3 M5.9,2.7 Q4.4,-1.4 2.3,0.2 Q0.5,1.3 0.5,0 Q1,0.7 2,0 Q0.5,0.9 0.6,1.8 Q0.5,-0.4 0,0 Q2.5,-0.7 0.2,0 Q0.7,4.3 0.6,2 Q0.3,1.8 0,1.8 Q1.5,0.1 0,0 Q1.9,1.6 3.7,0 Q0.9,-0.9 0,0 Q1,0.5 0,0 Q2.6,1.1 4,0 Q0.2,2.6 2.2,3.3 Q-1.4,1.8 0,3.8 Q-0.6,9.1 0,6.9 Q-1.6,9.8 0.4,9.7 Q4.9,9.4 2.8,10.6 Q2.5,11.2 0.6,11.3 Q0.8,12.2 0,10.9 M11.1,6.1 Q12.2,5.7 13,6.9 Q16,8 13.7,7.3 Q9.7,10.6 10.5,9.4 Q10.8,9.8 10.6,11.3 Q11.1,14.7 12.8,14.4 Q12.4,16.4 13.8,15.7 Q13,15.3 12,17.7 Q15.5,16.3 15.2,18.1 Q13.1,14.8 14.8,17.3 Q15.2,14.4 14,14.5 Q16.5,15.6 16.8,15 Q14.6,14.7 12.8,14.3 Q13.3,16.7 12.2,17.2 Q15.9,17.7 15.2,16 Q16.5,10.8 17,12.8 Q15.6,13.4 16.7,13 Q15.5,12.4 17,13.6 Q17.2,11 16.9,11.2 Q16.2,7.5 17,8.1 Q15.1,5.5 17,5.7" stroke="#2525d6" stroke-width="0.55" fill="none"/></g>
<g transform="translate(519.4,498)"><path d="M6.5,5.7 Q7.5,1.2 5.2,3.2 Q4,5.8 3.8,5.9 Q4.6,9.3 5.6,9 Q5,4.4 5.3,6.3 Q6.6,6.3 5.3,8.4 Q4.7,8.7 4.3,6.9 Q3.1,3 5.4,4.7 Q2.5,1.3 4.5,2.4 Q4.1,4.6 1.7,3.9 Q2.5,3.4 0,1.6 Q2.3,3.9 0,2.8 Q0.2,3 1,3.3 Q1.2,2 0.3,4.3 Q3.2,7.5 3,5.3 Q1.2,3 2.6,4 Q2.7,4.6 3.4,4.2 Q8.4,5.7 5.9,6.9 Q8.9,3.2 9,5.3 Q11.7,8.2 10.6,6.3 Q8,3.7 7.5,3.5 M5.9,7.3 Q4.9,7.8 5,8.8 Q2.8,4.4 2.4,5.8 Q2.3,5.7 1.7,3.6 Q0.8,2.7 2.3,3.4 Q4.1,5.7 3.8,4.3 Q5.5,5.1 3.3,6.5 Q7.6,3.8 5.2,6 Q5.6,5 3.6,6.5 Q-0.1,6.3 0.6,8.8 Q1.4,11.2 0.3,10.2 Q4.9,13.7 3.8,11.3 Q4.3,10.4 6.5,9.4 Q8.4,7.5 6.7,9.2 Q6.8,7.1 6.3,6.8 Q2.5,6.4 3.8,8.6 Q3.4,9.9 2,10.4 Q2.6,7 3.9,8.5 Q7,9.5 5.8,9 Q5.3,8.6 4.1,10.3 Q4.8,12.7 3.6,10.3 M5.9,2.7 Q4.4,-1.4 2.3,0.2 Q0.5,1.3 0.5,0 Q1,0.7 2,0 Q0.5,0.9 0.6,1.8 Q0.5,-0.4 0,0 Q2.5,-0.7 0.2,0 Q0.7,4.3 0.6,2 Q0.3,1.8 0,1.8 Q1.5,0.1 0,0 Q1.9,1.6 3.7,0 Q0.9,-0.9 0,0 Q1,0.5 0,0 Q2.6,1.1 4,0 Q0.2,2.6 2.2,3.3 Q-1.4,1.8 0,3.8 Q-0.6,9.1 0,6.9 Q-1.6,9.8 0.4,9.7 Q4.9,9.4 2.8,10.6 Q2.5,11.2 0.6,11.3 Q0.8,12.2 0,10.9 M11.1,6.1 Q12.2,5.7 13,6.9 Q16,8 13.7,7.3 Q9.7,10.6 10.5,9.4 Q10.8,9.8 10.6,11.3 Q11.1,14.7 12.8,14.4 Q12.4,16.4 13.8,15.7 Q13,15.3 12,17.7 Q15.5,16.3 15.2,18.1 Q13.1,14.8 14.8,17.3 Q15.2,14.4 14,14.5 Q16.5,15.6 16.8,15 Q14.6,14.7 12.8,14.3 Q13.3,16.7 12.2,17.2 Q15.9,17.7 15.2,16 Q16.5,10.8 17,12.8 Q15.6,13.4 16.7,13 Q15.5,12.4 17,13.6 Q17.2,11 16.9,11.2 Q16.2,7.5 17,8.1 Q15.1,5.5 17,5.7" stroke="#2525d6" stroke-width="0.55" fill="none"/></g>
<g transform="translate(578.3,451)"><path d="M10.4,16.1 Q7.6,14.9 8.7,15.1 Q9.2,14.2 11,14 Q7.7,16.1 9.9,16.5 Q7.7,19.9 9.2,18.5 Q11.2,20.6 9.7,20.6 Q12.7,16.8 11.4,18.3 Q14.1,15.6 11.9,16.1 Q14.1,14.6 13.2,16.2 Q16,17.6 15.3,15.5 Q16.5,17 16.6,17.1 Q17.6,16 19.9,16.9 Q17.7,14.2 19.7,13.8 Q15.2,15.7 17.1,16.6 Q11.4,16.5 13.8,15.9 Q10.2,11.5 11,13.4 Q8.1,17.2 9,16.2 Q10,17 10.2,17.3 Q9.1,13.1 11.4,15.1 Q5.6,14.6 7.6,14.8 Q9.1,13.2 8.2,13.2 Q4.4,13.6 6.7,13.3 Q4.4,16.3 4.1,16.2 M12.7,7 Q8.4,8 10,6.1 Q7.8,4.9 8.4,5.6 Q7.5,7.1 5.8,6.8 Q1.3,9.4 3.7,8.5 Q5.5,4.4 3.1,6.5 Q-0.6,8.9 1.7,7.5 Q1.9,3.2 0,5.5 Q2.4,2.3 3,3.3 Q2.5,3 4.2,4.2 Q4,7.5 4.1,6.8 Q8.3,7.3 6.5,7.9 Q6.9,3.2 8.4,5.4 Q11.1,2.4 11.2,3.3 Q9.1,0.9 9.4,0.9 Q11.6,2.2 9.7,2.1 Q9.4,-1 10.1,0 Q11.6,-1.3 11.7,0 Q15.2,-0.9 14.8,0 Q17,-1.1 15.6,0 Q16.9,0.9 14.8,0.6 Q13.3,-1.6 15,0 Q19.4,-0.8 17.8,0 M24.9,12.1 Q26.6,10.7 28.2,11.4 Q29.7,10.8 29,9.1 Q24.2,12.6 25,12.2 Q30.7,14.2 28.4,13 Q31.6,13.4 31.6,14.7 Q30.5,18.4 32.7,16.8 Q30,16.2 32,15 Q30.1,9.8 31.4,12 Q29.2,7.8 29.7,9.9 Q27.9,12.1 25.7,11 Q24.4,16.2 22.7,13.9 Q22.3,16.5 21.8,14.1 Q23,13.4 25.4,12.9 Q29.3,8.1 27.4,10.2 Q31.2,10.9 28.9,12 Q29.9,11.8 28.9,9.5 Q30.5,8.9 32.4,6.4 Q37.1,7.6 35.8,7.9 Q36.6,10 36.8,10.5 Q35.5,8.9 35.1,10.2 Q30.4,6.7 32.3,8.5 Q31.1,11 31.6,10.1 M19,13 Q23.2,9.7 22.4,10.7 Q23.4,9.2 20.9,11.5 Q17.7,13.9 19.3,14.1 Q18.2,13.7 17.2,11.8 Q17.3,14.9 18.4,13.2 Q17.6,9.8 17.1,11.4 Q21.6,11.5 19.7,10.8 Q22.2,9.2 23.5,8.6 Q20.2,9.9 21.4,9 Q24.8,10.1 23.8,11.7 Q22.5,12.4 21.8,14.3 Q24.4,10.8 23.1,13 Q28.2,13.9 25.8,11.7 Q23.4,16 23.9,13.7 Q25.5,12.5 23.3,14.8 Q25.7,19.7 23.4,17.6 Q26.1,19 24.2,19.2 Q22.2,20.8 20.5,21 Q23.7,17.9 21.5,18.1 Q17.7,16.2 18.9,16.8 Q20,16 18.4,18 Q18.2,18.9 19,19.7 M9.8,12.6 Q4.4,15.8 6.8,13.6 Q8.1,10.3 8,11.5 Q9.2,14.1 7.5,13.6 Q6.9,16.5 9.2,14.1 Q6.2,17.6 6.2,15.8 Q6.1,16.2 4.1,17.4 Q2.2,19.1 2.4,19.6 Q0.5,23.4 3,21 Q3.1,17.5 2.6,17.8 Q-0.5,19 1.5,18.2 Q-1,18.6 0.1,19.5 Q4.7,20.3 4,21 Q0.8,22.5 1.2,21 Q-2.3,21 0,21 Q-2.2,19.2 0,20.2 Q1.3,17.5 0,18.7 Q5.2,16 2.8,17.9 Q4.2,13.8 3.2,15.5 Q0.9,17.4 2.1,17.9 Q0.2,18.5 0,19.2 Q3.1,22.2 1.2,20 Q0.4,18.4 2.3,20.9 M11.3,13.3 Q13.2,13.3 13.9,14.4 Q19.5,12.9 17.2,11.5 Q15.2,13.3 14.5,13.5 Q11.3,18 11.6,16.6 Q6.3,15.1 8.3,16.9 Q10.1,15.1 10.1,17.5 Q10.3,18.2 12.7,18.8 Q13.1,15.9 13.5,17.6 Q17.6,15.8 15.6,16.2 Q17.8,14.8 19.1,13.4 Q16.2,12.3 16.8,10.9 Q18.4,12.3 18.4,12.3 Q15.7,12.2 16.8,11.8 Q22.2,11.6 20.2,12.9 Q22.3,10.8 20.4,12 Q18,11.8 20.5,9.8 Q21,6.4 19,8.4 Q17.1,4.4 16.5,5.5 Q15.7,8.4 14,8.7 Q16.2,7.8 15.2,6.5 Q13.7,5.6 14.6,7.7 Q13.2,4.9 12.6,5.6 M24.7,13.3 Q25.7,10.5 25.4,11.1 Q27.4,15.7 26.3,14.1 Q25.4,13.1 27.5,12.7 Q22.3,12 24.4,9.6 Q25.6,7.6 26.1,9.2 Q24.1,7.5 26.3,9.6 Q26.3,11.5 24.4,9.1 Q19.5,11.4 20.8,11.2 Q24.3,12 23.2,10.7 Q24,10 21.6,9.1 Q19.2,7 19.4,6.4 Q23.8,2.3 22.1,3.8 Q22.4,6.1 22.6,6.9 Q21.3,5.5 23.3,4.2 Q20.7,5.4 21.8,4.5 Q17.1,1.8 18.3,1.7 Q17.8,1.8 19.4,2.8 Q22.2,6.9 22.1,5.1 Q25.1,1.1 23.3,3 Q22.4,5.8 20.5,4.6 Q22.1,4.9 22.7,3.3 Q20.7,-1.1 21.8,0.9" stroke="#2525d6" stroke-width="0.55" fill="none"/></g>
<g transform="translate(618.3,498)"><path d="M6.5,5.7 Q7.5,1.2 5.2,3.2 Q4,5.8 3.8,5.9 Q4.6,9.3 5.6,9 Q5,4.4 5.3,6.3 Q6.6,6.3 5.3,8.4 Q4.7,8.7 4.3,6.9 Q3.1,3 5.4,4.7 Q2.5,1.3 4.5,2.4 Q4.1,4.6 1.7,3.9 Q2.5,3.4 0,1.6 Q2.3,3.9 0,2.8 Q0.2,3 1,3.3 Q1.2,2 0.3,4.3 Q3.2,7.5 3,5.3 Q1.2,3 2.6,4 Q2.7,4.6 3.4,4.2 Q8.4,5.7 5.9,6.9 Q8.9,3.2 9,5.3 Q11.7,8.2 10.6,6.3 Q8,3.7 7.5,3.5 M5.9,7.3 Q4.9,7.8 5,8.8 Q2.8,4.4 2.4,5.8 Q2.3,5.7 1.7,3.6 Q0.8,2.7 2.3,3.4 Q4.1,5.7 3.8,4.3 Q5.5,5.1 3.3,6.5 Q7.6,3.8 5.2,6 Q5.6,5 3.6,6.5 Q-0.1,6.3 0.6,8.8 Q1.4,11.2 0.3,10.2 Q4.9,13.7 3.8,11.3 Q4.3,10.4 6.5,9.4 Q8.4,7.5 6.7,9.2 Q6.8,7.1 6.3,6.8 Q2.5,6.4 3.8,8.6 Q3.4,9.9 2,10.4 Q2.6,7 3.9,8.5 Q7,9.5 5.8,9 Q5.3,8.6 4.1,10.3 Q4.8,12.7 3.6,10.3 M5.9,2.7 Q4.4,-1.4 2.3,0.2 Q0.5,1.3 0.5,0 Q1,0.7 2,0 Q0.5,0.9 0.6,1.8 Q0.5,-0.4 0,0 Q2.5,-0.7 0.2,0 Q0.7,4.3 0.6,2 Q0.3,1.8 0,1.8 Q1.5,0.1 0,0 Q1.9,1.6 3.7,0 Q0.9,-0.9 0,0 Q1,0.5 0,0 Q2.6,1.1 4,0 Q0.2,2.6 2.2,3.3 Q-1.4,1.8 0,3.8 Q-0.6,9.1 0,6.9 Q-1.6,9.8 0.4,9.7 Q4.9,9.4 2.8,10.6 Q2.5,11.2 0.6,11.3 Q0.8,12.2 0,10.9 M11.1,6.1 Q12.2,5.7 13,6.9 Q16,8 13.7,7.3 Q9.7,10.6 10.5,9.4 Q10.8,9.8 10.6,11.3 Q11.1,14.7 12.8,14.4 Q12.4,16.4 13.8,15.7 Q13,15.3 12,17.7 Q15.5,16.3 15.2,18.1 Q13.1,14.8 14.8,17.3 Q15.2,14.4 14,14.5 Q16.5,15.6 16.8,15 Q14.6,14.7 12.8,14.3 Q13.3,16.7 12.2,17.2 Q15.9,17.7 15.2,16 Q16.5,10.8 17,12.8 Q15.6,13.4 16.7,13 Q15.5,12.4 17,13.6 Q17.2,11 16.9,11.2 Q16.2,7.5 17,8.1 Q15.1,5.5 17,5.7" stroke="#2525d6" stroke-width="0.55" fill="none"/></g>
<g transform="translate(579.3,498)"><path d="M6.5,5.7 Q7.5,1.2 5.2,3.2 Q4,5.8 3.8,5.9 Q4.6,9.3 5.6,9 Q5,4.4 5.3,6.3 Q6.6,6.3 5.3,8.4 Q4.7,8.7 4.3,6.9 Q3.1,3 5.4,4.7 Q2.5,1.3 4.5,2.4 Q4.1,4.6 1.7,3.9 Q2.5,3.4 0,1.6 Q2.3,3.9 0,2.8 Q0.2,3 1,3.3 Q1.2,2 0.3,4.3 Q3.2,7.5 3,5.3 Q1.2,3 2.6,4 Q2.7,4.6 3.4,4.2 Q8.4,5.7 5.9,6.9 Q8.9,3.2 9,5.3 Q11.7,8.2 10.6,6.3 Q8,3.7 7.5,3.5 M5.9,7.3 Q4.9,7.8 5,8.8 Q2.8,4.4 2.4,5.8 Q2.3,5.7 1.7,3.6 Q0.8,2.7 2.3,3.4 Q4.1,5.7 3.8,4.3 Q5.5,5.1 3.3,6.5 Q7.6,3.8 5.2,6 Q5.6,5 3.6,6.5 Q-0.1,6.3 0.6,8.8 Q1.4,11.2 0.3,10.2 Q4.9,13.7 3.8,11.3 Q4.3,10.4 6.5,9.4 Q8.4,7.5 6.7,9.2 Q6.8,7.1 6.3,6.8 Q2.5,6.4 3.8,8.6 Q3.4,9.9 2,10.4 Q2.6,7 3.9,8.5 Q7,9.5 5.8,9 Q5.3,8.6 4.1,10.3 Q4.8,12.7 3.6,10.3 M5.9,2.7 Q4.4,-1.4 2.3,0.2 Q0.5,1.3 0.5,0 Q1,0.7 2,0 Q0.5,0.9 0.6,1.8 Q0.5,-0.4 0,0 Q2.5,-0.7 0.2,0 Q0.7,4.3 0.6,2 Q0.3,1.8 0,1.8 Q1.5,0.1 0,0 Q1.9,1.6 3.7,0 Q0.9,-0.9 0,0 Q1,0.5 0,0 Q2.6,1.1 4,0 Q0.2,2.6 2.2,3.3 Q-1.4,1.8 0,3.8 Q-0.6,9.1 0,6.9 Q-1.6,9.8 0.4,9.7 Q4.9,9.4 2.8,10.6 Q2.5,11.2 0.6,11.3 Q0.8,12.2 0,10.9 M11.1,6.1 Q12.2,5.7 13,6.9 Q16,8 13.7,7.3 Q9.7,10.6 10.5,9.4 Q10.8,9.8 10.6,11.3 Q11.1,14.7 12.8,14.4 Q12.4,16.4 13.8,15.7 Q13,15.3 12,17.7 Q15.5,16.3 15.2,18.1 Q13.1,14.8 14.8,17.3 Q15.2,14.4 14,14.5 Q16.5,15.6 16.8,15 Q14.6,14.7 12.8,14.3 Q13.3,16.7 12.2,17.2 Q15.9,17.7 15.2,16 Q16.5,10.8 17,12.8 Q15.6,13.4 16.7,13 Q15.5,12.4 17,13.6 Q17.2,11 16.9,11.2 Q16.2,7.5 17,8.1 Q15.1,5.5 17,5.7" stroke="#2525d6" stroke-width="0.55" fill="none"/></g>
<g transform="translate(636.2,451)"><path d="M10.4,16.1 Q7.6,14.9 8.7,15.1 Q9.2,14.2 11,14 Q7.7,16.1 9.9,16.5 Q7.7,19.9 9.2,18.5 Q11.2,20.6 9.7,20.6 Q12.7,16.8 11.4,18.3 Q14.1,15.6 11.9,16.1 Q14.1,14.6 13.2,16.2 Q16,17.6 15.3,15.5 Q16.5,17 16.6,17.1 Q17.6,16 19.9,16.9 Q17.7,14.2 19.7,13.8 Q15.2,15.7 17.1,16.6 Q11.4,16.5 13.8,15.9 Q10.2,11.5 11,13.4 Q8.1,17.2 9,16.2 Q10,17 10.2,17.3 Q9.1,13.1 11.4,15.1 Q5.6,14.6 7.6,14.8 Q9.1,13.2 8.2,13.2 Q4.4,13.6 6.7,13.3 Q4.4,16.3 4.1,16.2 M12.7,7 Q8.4,8 10,6.1 Q7.8,4.9 8.4,5.6 Q7.5,7.1 5.8,6.8 Q1.3,9.4 3.7,8.5 Q5.5,4.4 3.1,6.5 Q-0.6,8.9 1.7,7.5 Q1.9,3.2 0,5.5 Q2.4,2.3 3,3.3 Q2.5,3 4.2,4.2 Q4,7.5 4.1,6.8 Q8.3,7.3 6.5,7.9 Q6.9,3.2 8.4,5.4 Q11.1,2.4 11.2,3.3 Q9.1,0.9 9.4,0.9 Q11.6,2.2 9.7,2.1 Q9.4,-1 10.1,0 Q11.6,-1.3 11.7,0 Q15.2,-0.9 14.8,0 Q17,-1.1 15.6,0 Q16.9,0.9 14.8,0.6 Q13.3,-1.6 15,0 Q19.4,-0.8 17.8,0 M24.9,12.1 Q26.6,10.7 28.2,11.4 Q29.7,10.8 29,9.1 Q24.2,12.6 25,12.2 Q30.7,14.2 28.4,13 Q31.6,13.4 31.6,14.7 Q30.5,18.4 32.7,16.8 Q30,16.2 32,15 Q30.1,9.8 31.4,12 Q29.2,7.8 29.7,9.9 Q27.9,12.1 25.7,11 Q24.4,16.2 22.7,13.9 Q22.3,16.5 21.8,14.1 Q23,13.4 25.4,12.9 Q29.3,8.1 27.4,10.2 Q31.2,10.9 28.9,12 Q29.9,11.8 28.9,9.5 Q30.5,8.9 32.4,6.4 Q37.1,7.6 35.8,7.9 Q36.6,10 36.8,10.5 Q35.5,8.9 35.1,10.2 Q30.4,6.7 32.3,8.5 Q31.1,11 31.6,10.1 M19,13 Q23.2,9.7 22.4,10.7 Q23.4,9.2 20.9,11.5 Q17.7,13.9 19.3,14.1 Q18.2,13.7 17.2,11.8 Q17.3,14.9 18.4,13.2 Q17.6,9.8 17.1,11.4 Q21.6,11.5 19.7,10.8 Q22.2,9.2 23.5,8.6 Q20.2,9.9 21.4,9 Q24.8,10.1 23.8,11.7 Q22.5,12.4 21.8,14.3 Q24.4,10.8 23.1,13 Q28.2,13.9 25.8,11.7 Q23.4,16 23.9,13.7 Q25.5,12.5 23.3,14.8 Q25.7,19.7 23.4,17.6 Q26.1,19 24.2,19.2 Q22.2,20.8 20.5,21 Q23.7,17.9 21.5,18.1 Q17.7,16.2 18.9,16.8 Q20,16 18.4,18 Q18.2,18.9 19,19.7 M9.8,12.6 Q4.4,15.8 6.8,13.6 Q8.1,10.3 8,11.5 Q9.2,14.1 7.5,13.6 Q6.9,16.5 9.2,14.1 Q6.2,17.6 6.2,15.8 Q6.1,16.2 4.1,17.4 Q2.2,19.1 2.4,19.6 Q0.5,23.4 3,21 Q3.1,17.5 2.6,17.8 Q-0.5,19 1.5,18.2 Q-1,18.6 0.1,19.5 Q4.7,20.3 4,21 Q0.8,22.5 1.2,21 Q-2.3,21 0,21 Q-2.2,19.2 0,20.2 Q1.3,17.5 0,18.7 Q5.2,16 2.8,17.9 Q4.2,13.8 3.2,15.5 Q0.9,17.4 2.1,17.9 Q0.2,18.5 0,19.2 Q3.1,22.2 1.2,20 Q0.4,18.4 2.3,20.9 M11.3,13.3 Q13.2,13.3 13.9,14.4 Q19.5,12.9 17.2,11.5 Q15.2,13.3 14.5,13.5 Q11.3,18 11.6,16.6 Q6.3,15.1 8.3,16.9 Q10.1,15.1 10.1,17.5 Q10.3,18.2 12.7,18.8 Q13.1,15.9 13.5,17.6 Q17.6,15.8 15.6,16.2 Q17.8,14.8 19.1,13.4 Q16.2,12.3 16.8,10.9 Q18.4,12.3 18.4,12.3 Q15.7,12.2 16.8,11.8 Q22.2,11.6 20.2,12.9 Q22.3,10.8 20.4,12 Q18,11.8 20.5,9.8 Q21,6.4 19,8.4 Q17.1,4.4 16.5,5.5 Q15.7,8.4 14,8.7 Q16.2,7.8 15.2,6.5 Q13.7,5.6 14.6,7.7 Q13.2,4.9 12.6,5.6 M24.7,13.3 Q25.7,10.5 25.4,11.1 Q27.4,15.7 26.3,14.1 Q25.4,13.1 27.5,12.7 Q22.3,12 24.4,9.6 Q25.6,7.6 26.1,9.2 Q24.1,7.5 26.3,9.6 Q26.3,11.5 24.4,9.1 Q19.5,11.4 20.8,11.2 Q24.3,12 23.2,10.7 Q24,10 21.6,9.1 Q19.2,7 19.4,6.4 Q23.8,2.3 22.1,3.8 Q22.4,6.1 22.6,6.9 Q21.3,5.5 23.3,4.2 Q20.7,5.4 21.8,4.5 Q17.1,1.8 18.3,1.7 Q17.8,1.8 19.4,2.8 Q22.2,6.9 22.1,5.1 Q25.1,1.1 23.3,3 Q22.4,5.8 20.5,4.6 Q22.1,4.9 22.7,3.3 Q20.7,-1.1 21.8,0.9" stroke="#2525d6" stroke-width="0.55" fill="none"/></g>
<g transform="translate(639.2,498)"><path d="M6.5,5.7 Q7.5,1.2 5.2,3.2 Q4,5.8 3.8,5.9 Q4.6,9.3 5.6,9 Q5,4.4 5.3,6.3 Q6.6,6.3 5.3,8.4 Q4.7,8.7 4.3,6.9 Q3.1,3 5.4,4.7 Q2.5,1.3 4.5,2.4 Q4.1,4.6 1.7,3.9 Q2.5,3.4 0,1.6 Q2.3,3.9 0,2.8 Q0.2,3 1,3.3 Q1.2,2 0.3,4.3 Q3.2,7.5 3,5.3 Q1.2,3 2.6,4 Q2.7,4.6 3.4,4.2 Q8.4,5.7 5.9,6.9 Q8.9,3.2 9,5.3 Q11.7,8.2 10.6,6.3 Q8,3.7 7.5,3.5 M5.9,7.3 Q4.9,7.8 5,8.8 Q2.8,4.4 2.4,5.8 Q2.3,5.7 1.7,3.6 Q0.8,2.7 2.3,3.4 Q4.1,5.7 3.8,4.3 Q5.5,5.1 3.3,6.5 Q7.6,3.8 5.2,6 Q5.6,5 3.6,6.5 Q-0.1,6.3 0.6,8.8 Q1.4,11.2 0.3,10.2 Q4.9,13.7 3.8,11.3 Q4.3,10.4 6.5,9.4 Q8.4,7.5 6.7,9.2 Q6.8,7.1 6.3,6.8 Q2.5,6.4 3.8,8.6 Q3.4,9.9 2,10.4 Q2.6,7 3.9,8.5 Q7,9.5 5.8,9 Q5.3,8.6 4.1,10.3 Q4.8,12.7 3.6,10.3 M5.9,2.7 Q4.4,-1.4 2.3,0.2 Q0.5,1.3 0.5,0 Q1,0.7 2,0 Q0.5,0.9 0.6,1.8 Q0.5,-0.4 0,0 Q2.5,-0.7 0.2,0 Q0.7,4.3 0.6,2 Q0.3,1.8 0,1.8 Q1.5,0.1 0,0 Q1.9,1.6 3.7,0 Q0.9,-0.9 0,0 Q1,0.5 0,0 Q2.6,1.1 4,0 Q0.2,2.6 2.2,3.3 Q-1.4,1.8 0,3.8 Q-0.6,9.1 0,6.9 Q-1.6,9.8 0.4,9.7 Q4.9,9.4 2.8,10.6 Q2.5,11.2 0.6,11.3 Q0.8,12.2 0,10.9 M11.1,6.1 Q12.2,5.7 13,6.9 Q16,8 13.7,7.3 Q9.7,10.6 10.5,9.4 Q10.8,9.8 10.6,11.3 Q11.1,14.7 12.8,14.4 Q12.4,16.4 13.8,15.7 Q13,15.3 12,17.7 Q15.5,16.3 15.2,18.1 Q13.1,14.8 14.8,17.3 Q15.2,14.4 14,14.5 Q16.5,15.6 16.8,15 Q14.6,14.7 12.8,14.3 Q13.3,16.7 12.2,17.2 Q15.9,17.7 15.2,16 Q16.5,10.8 17,12.8 Q15.6,13.4 16.7,13 Q15.5,12.4 17,13.6 Q17.2,11 16.9,11.2 Q16.2,7.5 17,8.1 Q15.1,5.5 17,5.7" stroke="#2525d6" stroke-width="0.55" fill="none"/></g>
<line x1="290" y1="483.8" x2="364.9" y2="483.8" stroke="#0b0bf0" stroke-width="2.3"/>
<polygon points="374.4,483.8 364.4,488.2 364.4,479.4" fill="#0b0bf0" stroke="none" stroke-width="0"/>
<text x="36.8" y="419.7" font-size="8.7" fill="#231f20">DSPE-PEG<tspan dy="2.3" font-size="6.2">2K</tspan><tspan dy="-2.3"> (blue)</tspan></text>
<text x="69.6" y="434.6" font-size="8.7" fill="#231f20" textLength="33.3" lengthAdjust="spacingAndGlyphs">SM (red)</text>
<text x="97.9" y="448.6" font-size="8.7" fill="#231f20" textLength="85" lengthAdjust="spacingAndGlyphs">SM-CSS-PTX (green)</text>
<text x="233.5" y="447" font-size="8.7" fill="#231f20" textLength="54.2" lengthAdjust="spacingAndGlyphs">Chol (yellow)</text>
<text x="139.6" y="530" font-size="8.7" fill="#231f20" text-anchor="middle" textLength="123.7" lengthAdjust="spacingAndGlyphs">0 ps (beginning of simulation)</text>
<text x="525.3" y="530" font-size="8.7" fill="#231f20" text-anchor="middle" textLength="136" lengthAdjust="spacingAndGlyphs">20,000 ps (ending of simulation)</text>
<line x1="39.4" y1="453.6" x2="55.2" y2="425" stroke="#1f6a8c" stroke-width="1.1"/>
<polygon points="56.9,421.9 56.9,426.5 53,424.3" fill="#1f6a8c" stroke="none" stroke-width="0"/>
<line x1="57.4" y1="474" x2="76" y2="440.3" stroke="#1f6a8c" stroke-width="1.1"/>
<polygon points="77.7,437.2 77.7,441.8 73.8,439.6" fill="#1f6a8c" stroke="none" stroke-width="0"/>
<line x1="107.3" y1="475.5" x2="116.7" y2="455.1" stroke="#1f6a8c" stroke-width="1.1"/>
<polygon points="118.2,451.9 118.5,456.5 114.5,454.6" fill="#1f6a8c" stroke="none" stroke-width="0"/>
<line x1="232.8" y1="478.5" x2="243.1" y2="454.2" stroke="#1f6a8c" stroke-width="1.1"/>
<polygon points="244.5,451 245,455.5 240.9,453.8" fill="#1f6a8c" stroke="none" stroke-width="0"/>
</svg></body></html>
